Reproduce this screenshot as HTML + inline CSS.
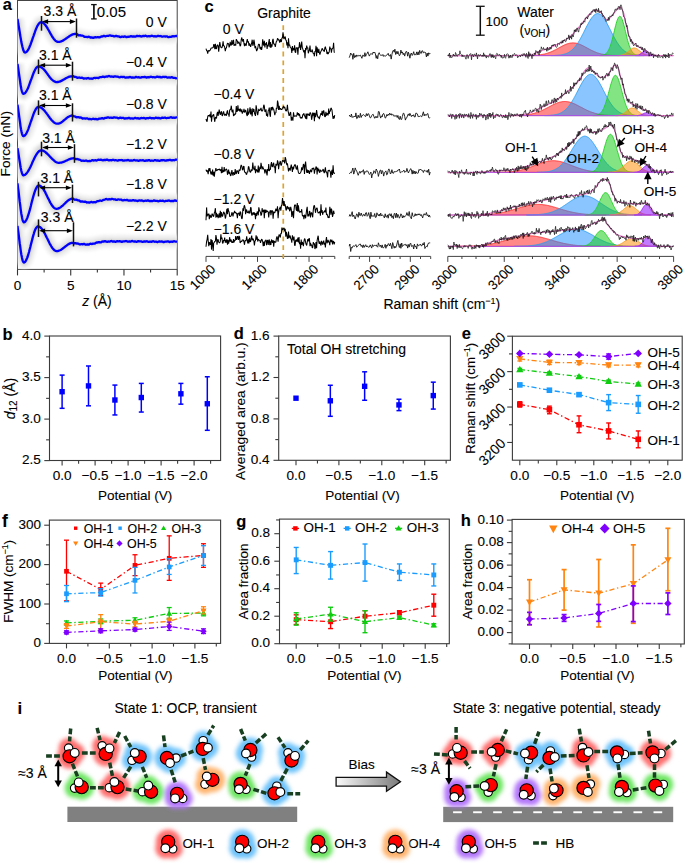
<!DOCTYPE html>
<html><head><meta charset="utf-8"><style>
html,body{margin:0;padding:0;background:#fff;}
svg{display:block;}
text{font-family:"Liberation Sans", sans-serif;stroke:#000;stroke-width:0.1px;}
</style></head><body>
<svg width="685" height="863" viewBox="0 0 685 863" font-family='"Liberation Sans", sans-serif'>
<rect width="685" height="863" fill="#fff"/>
<text x="2.8" y="10.3" font-size="16.5" font-weight="bold" >a</text>
<text x="204.6" y="12" font-size="16.5" font-weight="bold" >c</text>
<text x="2.6" y="340.2" font-size="16.5" font-weight="bold" >b</text>
<text x="233.8" y="339.2" font-size="16.5" font-weight="bold" >d</text>
<text x="461.8" y="338.5" font-size="16.5" font-weight="bold" >e</text>
<text x="2" y="526.6" font-size="17.5" font-weight="bold" >f</text>
<text x="236.2" y="526.5" font-size="16.5" font-weight="bold" >g</text>
<text x="460.8" y="526.2" font-size="16.5" font-weight="bold" >h</text>
<text x="17.4" y="713.5" font-size="17" font-weight="bold" >i</text>
<rect x="17.5" y="0.5" width="159.7" height="268.9" fill="none" stroke="#444" stroke-width="1"/>
<line x1="17.5" y1="269.4" x2="17.5" y2="275.4" stroke="#333" stroke-width="1.1" />
<line x1="44.12" y1="269.4" x2="44.12" y2="272.6" stroke="#333" stroke-width="1.1" />
<line x1="70.73" y1="269.4" x2="70.73" y2="275.4" stroke="#333" stroke-width="1.1" />
<line x1="97.35" y1="269.4" x2="97.35" y2="272.6" stroke="#333" stroke-width="1.1" />
<line x1="123.97" y1="269.4" x2="123.97" y2="275.4" stroke="#333" stroke-width="1.1" />
<line x1="150.58" y1="269.4" x2="150.58" y2="272.6" stroke="#333" stroke-width="1.1" />
<line x1="177.2" y1="269.4" x2="177.2" y2="275.4" stroke="#333" stroke-width="1.1" />
<text x="17.5" y="289.9" font-size="13.6" text-anchor="middle" >0</text>
<text x="70.73" y="289.9" font-size="13.6" text-anchor="middle" >5</text>
<text x="123.97" y="289.9" font-size="13.6" text-anchor="middle" >10</text>
<text x="177.2" y="289.9" font-size="13.6" text-anchor="middle" >15</text>
<text x="97" y="305.5" font-size="14" text-anchor="middle" ><tspan font-style="italic">z</tspan> (Å)</text>
<text x="10.4" y="143.7" font-size="13.7" text-anchor="middle" transform="rotate(-90 10.4 143.7)" >Force (nN)</text>
<defs><clipPath id="clipa"><rect x="17.5" y="0.5" width="159.7" height="268.9"/></clipPath><filter id="blur1" x="-10%" y="-10%" width="120%" height="120%"><feGaussianBlur stdDeviation="1.8"/></filter><filter id="glow" x="-50%" y="-50%" width="200%" height="200%"><feGaussianBlur stdDeviation="3.2"/></filter></defs>
<g clip-path="url(#clipa)">
<g filter="url(#blur1)">
<path d="M17.5 19 L17.9 21.1 L18.2 23.3 L18.6 25.5 L19 27.8 L19.4 30.2 L19.8 32.5 L20.1 34.8 L20.5 37.1 L20.9 39.3 L21.2 41.3 L21.6 43.3 L22 45.1 L22.4 46.8 L22.8 48.2 L23.1 49.5 L23.5 50.6 L23.9 51.4 L24.2 52 L24.6 52.4 L25 52.5 L25.5 52.4 L26.1 52.2 L26.6 51.8 L27.1 51.2 L27.7 50.5 L28.2 49.6 L28.8 48.6 L29.3 47.5 L29.8 46.3 L30.4 44.9 L30.9 43.5 L31.4 42 L32 40.5 L32.5 38.9 L33 37.4 L33.6 35.8 L34.1 34.2 L34.7 32.7 L35.2 31.2 L35.7 29.8 L36.3 28.4 L36.8 27.2 L37.3 26.1 L37.9 25.1 L38.4 24.2 L39 23.5 L39.5 22.9 L40 22.5 L40.6 22.3 L41.1 22.2 L41.7 22.3 L42.2 22.4 L42.8 22.7 L43.4 23.1 L44 23.5 L44.5 24.1 L45.1 24.7 L45.7 25.5 L46.2 26.3 L46.8 27.1 L47.4 28 L47.9 29 L48.5 30 L49.1 31 L49.7 32.1 L50.2 33.1 L50.8 34.1 L51.4 35.1 L51.9 36.1 L52.5 37 L53.1 37.8 L53.6 38.6 L54.2 39.4 L54.8 40 L55.4 40.6 L55.9 41 L56.5 41.4 L57.1 41.7 L57.6 41.8 L58.2 41.9 L58.8 41.9 L59.4 41.8 L60 41.7 L60.5 41.6 L61.1 41.4 L61.7 41.1 L62.3 40.9 L62.9 40.6 L63.5 40.3 L64 39.9 L64.6 39.5 L65.2 39.1 L65.8 38.7 L66.4 38.3 L67 37.9 L67.5 37.5 L68.1 37.1 L68.7 36.7 L69.3 36.3 L69.9 35.9 L70.5 35.5 L71 35.2 L71.6 34.9 L72.2 34.7 L72.8 34.4 L73.4 34.2 L74 34.1 L74.5 34 L75.1 33.9 L75.7 33.9 L76.4 34 L77.1 34.3 L77.8 34.8 L78.5 35.3 L79.2 35.3 L79.9 35.2 L80.6 35.4 L81.3 35.7 L82 35.7 L82.7 35.7 L83.4 36 L84.1 36.6 L84.8 36.9 L85.5 36.8 L86.2 36.8 L86.9 37 L87.6 37.1 L88.3 36.9 L89 36.7 L89.7 37 L90.4 37.5 L91.1 37.5 L91.8 37.5 L92.5 37.6 L93.2 37.9 L93.9 37.7 L94.6 37.3 L95.3 37.1 L96 37.3 L96.7 37.3 L97.4 37.1 L98.1 37.1 L98.8 37.3 L99.5 37.4 L100.2 37.1 L100.9 36.6 L101.6 36.5 L102.3 36.5 L103 36.2 L103.7 35.9 L104.4 35.9 L105.1 36.3 L105.8 36.3 L106.5 36 L107.2 35.8 L107.9 35.9 L108.6 35.8 L109.3 35.5 L110 35.3 L110.7 35.5 L111.4 35.9 L112.1 35.9 L112.8 35.9 L113.5 36.1 L114.2 36.4 L114.9 36.3 L115.6 35.9 L116.3 35.9 L117 36.2 L117.7 36.4 L118.4 36.4 L119.1 36.5 L119.8 36.9 L120.5 37.2 L121.2 36.9 L121.9 36.6 L122.6 36.7 L123.3 36.8 L124 36.6 L124.7 36.4 L125.4 36.6 L126.1 37 L126.8 37.1 L127.5 36.8 L128.2 36.7 L128.9 36.8 L129.6 36.7 L130.3 36.3 L131 36.1 L131.7 36.3 L132.4 36.6 L133.1 36.5 L133.8 36.4 L134.5 36.5 L135.2 36.7 L135.9 36.4 L136.6 36 L137.3 35.9 L138 36.1 L138.7 36.1 L139.4 36 L140.1 36.1 L140.8 36.4 L141.5 36.5 L142.2 36.3 L142.9 35.9 L143.6 36 L144.3 36.1 L145 35.9 L145.7 35.7 L146.4 36 L147.1 36.4 L147.8 36.4 L148.5 36.2 L149.2 36.1 L149.9 36.3 L150.6 36.2 L151.3 35.8 L152 35.7 L152.7 36 L153.4 36.3 L154.1 36.3 L154.8 36.2 L155.5 36.4 L156.2 36.5 L156.9 36.3 L157.6 35.9 L158.3 35.8 L159 36.1 L159.7 36.2 L160.4 36 L161.1 36.2 L161.8 36.6 L162.5 36.7 L163.2 36.5 L163.9 36.3 L164.6 36.4 L165.3 36.5 L166 36.4 L166.7 36.3 L167.4 36.6 L168.1 37.1 L168.8 37.1 L169.5 36.9 L170.2 36.8 L170.9 36.9 L171.6 36.7 L172.3 36.3 L173 36.1 L173.7 36.3 L174.4 36.4 L175.1 36.2 L175.8 36 L176.5 36 L177.2 36" stroke="#f0f0f0" stroke-width="13" fill="none" stroke-linejoin="round"/>
<path d="M17.5 19 L17.9 21.1 L18.2 23.3 L18.6 25.5 L19 27.8 L19.4 30.2 L19.8 32.5 L20.1 34.8 L20.5 37.1 L20.9 39.3 L21.2 41.3 L21.6 43.3 L22 45.1 L22.4 46.8 L22.8 48.2 L23.1 49.5 L23.5 50.6 L23.9 51.4 L24.2 52 L24.6 52.4 L25 52.5 L25.5 52.4 L26.1 52.2 L26.6 51.8 L27.1 51.2 L27.7 50.5 L28.2 49.6 L28.8 48.6 L29.3 47.5 L29.8 46.3 L30.4 44.9 L30.9 43.5 L31.4 42 L32 40.5 L32.5 38.9 L33 37.4 L33.6 35.8 L34.1 34.2 L34.7 32.7 L35.2 31.2 L35.7 29.8 L36.3 28.4 L36.8 27.2 L37.3 26.1 L37.9 25.1 L38.4 24.2 L39 23.5 L39.5 22.9 L40 22.5 L40.6 22.3 L41.1 22.2 L41.7 22.3 L42.2 22.4 L42.8 22.7 L43.4 23.1 L44 23.5 L44.5 24.1 L45.1 24.7 L45.7 25.5 L46.2 26.3 L46.8 27.1 L47.4 28 L47.9 29 L48.5 30 L49.1 31 L49.7 32.1 L50.2 33.1 L50.8 34.1 L51.4 35.1 L51.9 36.1 L52.5 37 L53.1 37.8 L53.6 38.6 L54.2 39.4 L54.8 40 L55.4 40.6 L55.9 41 L56.5 41.4 L57.1 41.7 L57.6 41.8 L58.2 41.9 L58.8 41.9 L59.4 41.8 L60 41.7 L60.5 41.6 L61.1 41.4 L61.7 41.1 L62.3 40.9 L62.9 40.6 L63.5 40.3 L64 39.9 L64.6 39.5 L65.2 39.1 L65.8 38.7 L66.4 38.3 L67 37.9 L67.5 37.5 L68.1 37.1 L68.7 36.7 L69.3 36.3 L69.9 35.9 L70.5 35.5 L71 35.2 L71.6 34.9 L72.2 34.7 L72.8 34.4 L73.4 34.2 L74 34.1 L74.5 34 L75.1 33.9 L75.7 33.9 L76.4 34 L77.1 34.3 L77.8 34.8 L78.5 35.3 L79.2 35.3 L79.9 35.2 L80.6 35.4 L81.3 35.7 L82 35.7 L82.7 35.7 L83.4 36 L84.1 36.6 L84.8 36.9 L85.5 36.8 L86.2 36.8 L86.9 37 L87.6 37.1 L88.3 36.9 L89 36.7 L89.7 37 L90.4 37.5 L91.1 37.5 L91.8 37.5 L92.5 37.6 L93.2 37.9 L93.9 37.7 L94.6 37.3 L95.3 37.1 L96 37.3 L96.7 37.3 L97.4 37.1 L98.1 37.1 L98.8 37.3 L99.5 37.4 L100.2 37.1 L100.9 36.6 L101.6 36.5 L102.3 36.5 L103 36.2 L103.7 35.9 L104.4 35.9 L105.1 36.3 L105.8 36.3 L106.5 36 L107.2 35.8 L107.9 35.9 L108.6 35.8 L109.3 35.5 L110 35.3 L110.7 35.5 L111.4 35.9 L112.1 35.9 L112.8 35.9 L113.5 36.1 L114.2 36.4 L114.9 36.3 L115.6 35.9 L116.3 35.9 L117 36.2 L117.7 36.4 L118.4 36.4 L119.1 36.5 L119.8 36.9 L120.5 37.2 L121.2 36.9 L121.9 36.6 L122.6 36.7 L123.3 36.8 L124 36.6 L124.7 36.4 L125.4 36.6 L126.1 37 L126.8 37.1 L127.5 36.8 L128.2 36.7 L128.9 36.8 L129.6 36.7 L130.3 36.3 L131 36.1 L131.7 36.3 L132.4 36.6 L133.1 36.5 L133.8 36.4 L134.5 36.5 L135.2 36.7 L135.9 36.4 L136.6 36 L137.3 35.9 L138 36.1 L138.7 36.1 L139.4 36 L140.1 36.1 L140.8 36.4 L141.5 36.5 L142.2 36.3 L142.9 35.9 L143.6 36 L144.3 36.1 L145 35.9 L145.7 35.7 L146.4 36 L147.1 36.4 L147.8 36.4 L148.5 36.2 L149.2 36.1 L149.9 36.3 L150.6 36.2 L151.3 35.8 L152 35.7 L152.7 36 L153.4 36.3 L154.1 36.3 L154.8 36.2 L155.5 36.4 L156.2 36.5 L156.9 36.3 L157.6 35.9 L158.3 35.8 L159 36.1 L159.7 36.2 L160.4 36 L161.1 36.2 L161.8 36.6 L162.5 36.7 L163.2 36.5 L163.9 36.3 L164.6 36.4 L165.3 36.5 L166 36.4 L166.7 36.3 L167.4 36.6 L168.1 37.1 L168.8 37.1 L169.5 36.9 L170.2 36.8 L170.9 36.9 L171.6 36.7 L172.3 36.3 L173 36.1 L173.7 36.3 L174.4 36.4 L175.1 36.2 L175.8 36 L176.5 36 L177.2 36" stroke="#e2e2e2" stroke-width="6" fill="none" stroke-linejoin="round"/>
<path d="M17.5 19.1 L17.9 21.5 L18.2 24.6 L18.6 27.6 L19 29.4 L19.4 30.7 L19.8 32.7 L20.1 34.5 L20.5 34.8 L20.9 37.2 L21.2 38 L21.6 38.2 L22 38.6 L22.4 40.5 L22.8 43.4 L23.1 46.1 L23.5 46.9 L23.9 51.1 L24.2 51.3 L24.6 53.1 L25 54.8 L25.5 55.3 L26.1 54.7 L26.6 53 L27.1 51 L27.7 50.6 L28.2 47.4 L28.8 46.9 L29.3 45.2 L29.8 43.6 L30.4 42.4 L30.9 42.1 L31.4 40.9 L32 39.7 L32.5 38.7 L33 39.5 L33.6 36.9 L34.1 36.9 L34.7 36.1 L35.2 35.1 L35.7 33.6 L36.3 32.5 L36.8 32.6 L37.3 32.4 L37.9 31.5 L38.4 32.7 L39 30.9 L39.5 28.1 L40 26.9 L40.6 26.9 L41.1 26 L41.7 25.1 L42.2 24.1 L42.8 23.6 L43.4 22.3 L44 22.1 L44.5 23.2 L45.1 23.2 L45.7 24.6 L46.2 25.9 L46.8 26.7 L47.4 27.3 L47.9 28.7 L48.5 30.9 L49.1 32.5 L49.7 32.7 L50.2 34.2 L50.8 34.8 L51.4 36.4 L51.9 36.9 L52.5 38.6 L53.1 38.3 L53.6 38.4 L54.2 39.3 L54.8 40.7 L55.4 41.8 L55.9 42.1 L56.5 41.9 L57.1 42.3 L57.6 41.6 L58.2 41.7 L58.8 42 L59.4 41.8 L60 42 L60.5 41.2 L61.1 41.4 L61.7 41.2 L62.3 41.4 L62.9 41.3 L63.5 41.1 L64 40.6 L64.6 40.4 L65.2 39.7 L65.8 39.3 L66.4 38.2 L67 37.6 L67.5 36.9 L68.1 36.8 L68.7 36.5 L69.3 35.9 L69.9 35.5 L70.5 34.8 L71 34.4 L71.6 34.6 L72.2 34.1 L72.8 33.9 L73.4 33.4 L74 33.3 L74.5 33.4 L75.1 33.2 L75.7 33.5 L76.4 33.7 L77.1 34.1 L77.8 35.3 L78.5 35.9 L79.2 36.2 L79.9 36.2 L80.6 36.6 L81.3 36.9 L82 36.5 L82.7 36.6 L83.4 36.4 L84.1 36.6 L84.8 36.8 L85.5 36.3 L86.2 35.9 L86.9 35.8 L87.6 35.9 L88.3 36 L89 36.2 L89.7 36.7 L90.4 37.6 L91.1 37.9 L91.8 38.2 L92.5 38.1 L93.2 38.8 L93.9 38.6 L94.6 38.2 L95.3 37.9 L96 38.1 L96.7 38 L97.4 37.5 L98.1 36.7 L98.8 37.5 L99.5 37.1 L100.2 37 L100.9 36.3 L101.6 36.1 L102.3 35.9 L103 35.4 L103.7 35.2 L104.4 35.3 L105.1 35.7 L105.8 35.9 L106.5 35.1 L107.2 34.5 L107.9 34.7 L108.6 34.7 L109.3 34.4 L110 34.1 L110.7 35.1 L111.4 35.4 L112.1 35.5 L112.8 35.4 L113.5 36.4 L114.2 36.8 L114.9 37 L115.6 36.7 L116.3 37 L117 37 L117.7 37.3 L118.4 37.2 L119.1 37.3 L119.8 37.6 L120.5 37.3 L121.2 36.8 L121.9 36.4 L122.6 36 L123.3 36.2 L124 35.9 L124.7 35.6 L125.4 36.2 L126.1 36.3 L126.8 37.1 L127.5 36.9 L128.2 36.8 L128.9 36.7 L129.6 36.2 L130.3 36 L131 35.9 L131.7 36 L132.4 36.7 L133.1 36.1 L133.8 35.7 L134.5 35.9 L135.2 36.5 L135.9 36.4 L136.6 35.6 L137.3 35.2 L138 35.6 L138.7 35.5 L139.4 35.5 L140.1 35.7 L140.8 35.9 L141.5 35.8 L142.2 36 L142.9 35.8 L143.6 36.7 L144.3 36.5 L145 36.2 L145.7 36.1 L146.4 36.4 L147.1 37.1 L147.8 37.2 L148.5 36.5 L149.2 37 L149.9 36.6 L150.6 36.3 L151.3 35.7 L152 35.7 L152.7 35.8 L153.4 36.4 L154.1 36.7 L154.8 36.7 L155.5 36.2 L156.2 36.2 L156.9 36.2 L157.6 35.6 L158.3 35.7 L159 36.4 L159.7 35.9 L160.4 35.3 L161.1 35.1 L161.8 35.4 L162.5 35.1 L163.2 34.8 L163.9 35.2 L164.6 35 L165.3 34.9 L166 35 L166.7 35.5 L167.4 36.2 L168.1 36.8 L168.8 38 L169.5 38 L170.2 37.4 L170.9 37.6 L171.6 37.2 L172.3 37.1 L173 36.3 L173.7 36.7 L174.4 37 L175.1 36.3 L175.8 36.1 L176.5 36.4 L177.2 36.3" stroke="#c0c0c0" stroke-width="1.4" fill="none" opacity="0.3" stroke-linejoin="round"/>
<path d="M17.5 19.8 L17.9 22.2 L18.2 24 L18.6 26.7 L19 29.3 L19.4 31.6 L19.8 33.4 L20.1 35.9 L20.5 38.6 L20.9 39.9 L21.2 41.2 L21.6 44.2 L22 45.5 L22.4 46.6 L22.8 47.2 L23.1 48.2 L23.5 48.7 L23.9 50 L24.2 51.9 L24.6 53.6 L25 50.7 L25.5 48.7 L26.1 48.6 L26.6 48.5 L27.1 48.3 L27.7 47.8 L28.2 49.3 L28.8 45.9 L29.3 43.4 L29.8 46.9 L30.4 48 L30.9 47.5 L31.4 45.9 L32 42.5 L32.5 40.9 L33 37.3 L33.6 35.6 L34.1 33.8 L34.7 30.3 L35.2 27.3 L35.7 25.3 L36.3 24.6 L36.8 24.9 L37.3 23.2 L37.9 22.7 L38.4 23.7 L39 23.8 L39.5 22.6 L40 23.5 L40.6 22.9 L41.1 23.4 L41.7 22.6 L42.2 23.8 L42.8 23.6 L43.4 22.5 L44 22.6 L44.5 23.7 L45.1 24.1 L45.7 24.6 L46.2 24.3 L46.8 25.9 L47.4 26.2 L47.9 27.3 L48.5 29.4 L49.1 29.8 L49.7 30.9 L50.2 32.4 L50.8 33.7 L51.4 34.9 L51.9 36.1 L52.5 37.2 L53.1 38.3 L53.6 38.7 L54.2 39.5 L54.8 40 L55.4 40.1 L55.9 40.9 L56.5 41.6 L57.1 41.1 L57.6 40.9 L58.2 41 L58.8 41.2 L59.4 41.4 L60 41.3 L60.5 41.4 L61.1 41.2 L61.7 41.1 L62.3 41.3 L62.9 41.3 L63.5 40.7 L64 40.4 L64.6 39.6 L65.2 39.2 L65.8 38.7 L66.4 37.9 L67 37.3 L67.5 36.7 L68.1 36.5 L68.7 36.2 L69.3 35.7 L69.9 36.1 L70.5 35.8 L71 35.3 L71.6 35 L72.2 35 L72.8 34.9 L73.4 34.4 L74 34.3 L74.5 34 L75.1 33.9 L75.7 33.6 L76.4 34.2 L77.1 35 L77.8 35 L78.5 34.7 L79.2 34.9 L79.9 35.5 L80.6 35.5 L81.3 34.8 L82 35 L82.7 36 L83.4 36.5 L84.1 36.3 L84.8 36.5 L85.5 36.3 L86.2 36.1 L86.9 36.3 L87.6 36.7 L88.3 36.6 L89 36.5 L89.7 37 L90.4 37.1 L91.1 36.9 L91.8 37.1 L92.5 37.3 L93.2 36.9 L93.9 36.2 L94.6 36.6 L95.3 36.8 L96 36.8 L96.7 36.9 L97.4 36.9 L98.1 37.3 L98.8 37.4 L99.5 37.2 L100.2 36.8 L100.9 36.7 L101.6 36.5 L102.3 36 L103 35.5 L103.7 35.7 L104.4 36.3 L105.1 35.8 L105.8 35.4 L106.5 35.1 L107.2 35 L107.9 35.1 L108.6 34.9 L109.3 34.9 L110 35.4 L110.7 35.5 L111.4 35.8 L112.1 36.2 L112.8 36.9 L113.5 36.9 L114.2 36.5 L114.9 36.2 L115.6 36.5 L116.3 36.8 L117 36.8 L117.7 36.3 L118.4 36.3 L119.1 36.6 L119.8 36.5 L120.5 36.3 L121.2 36.5 L121.9 36.7 L122.6 36.8 L123.3 36.3 L124 37.2 L124.7 37.6 L125.4 37.8 L126.1 37.8 L126.8 37.4 L127.5 36.8 L128.2 36.8 L128.9 36.4 L129.6 36.5 L130.3 36.1 L131 35.7 L131.7 36.1 L132.4 35.7 L133.1 35.9 L133.8 36.4 L134.5 36.5 L135.2 36 L135.9 35.7 L136.6 36 L137.3 36.6 L138 36.6 L138.7 36.7 L139.4 36.7 L140.1 36.7 L140.8 36.9 L141.5 36.5 L142.2 35.9 L142.9 35.7 L143.6 35.8 L144.3 35.5 L145 35.5 L145.7 35.8 L146.4 36.1 L147.1 35.5 L147.8 35.5 L148.5 35.5 L149.2 35.5 L149.9 35.3 L150.6 35.2 L151.3 35.3 L152 35.7 L152.7 36 L153.4 35.9 L154.1 35.6 L154.8 36 L155.5 35.8 L156.2 35.3 L156.9 35 L157.6 35.2 L158.3 35.4 L159 35.1 L159.7 35.2 L160.4 35.8 L161.1 35.8 L161.8 36.1 L162.5 35.8 L163.2 35.4 L163.9 35.5 L164.6 35.6 L165.3 35.9 L166 35.6 L166.7 36.3 L167.4 36.8 L168.1 36.2 L168.8 36.3 L169.5 36.5 L170.2 36.6 L170.9 36.3 L171.6 35.9 L172.3 36.3 L173 36.1 L173.7 36.3 L174.4 36.3 L175.1 36 L175.8 36.2 L176.5 35.9 L177.2 35.4" stroke="#c0c0c0" stroke-width="1.4" fill="none" opacity="0.3" stroke-linejoin="round"/>
<path d="M17.5 18 L17.9 20.9 L18.2 22.9 L18.6 25.7 L19 28.2 L19.4 30 L19.8 33.5 L20.1 35.9 L20.5 39.8 L20.9 40 L21.2 41.5 L21.6 43.6 L22 45.3 L22.4 46.1 L22.8 48.2 L23.1 47.8 L23.5 49.9 L23.9 51.2 L24.2 52.8 L24.6 53.2 L25 52.4 L25.5 52.6 L26.1 54.9 L26.6 52.8 L27.1 51.4 L27.7 48.4 L28.2 48.2 L28.8 47 L29.3 46.5 L29.8 47 L30.4 45.1 L30.9 41.9 L31.4 41.9 L32 42.9 L32.5 41.7 L33 38.9 L33.6 37.4 L34.1 36.5 L34.7 33.5 L35.2 30.8 L35.7 28.7 L36.3 28.4 L36.8 26.2 L37.3 27.2 L37.9 24.9 L38.4 24.8 L39 23.5 L39.5 22.4 L40 22.9 L40.6 24 L41.1 23.3 L41.7 24.2 L42.2 25 L42.8 26.7 L43.4 26 L44 25.2 L44.5 27 L45.1 27.3 L45.7 27.2 L46.2 27.8 L46.8 28.4 L47.4 27.5 L47.9 27.6 L48.5 27.6 L49.1 29.6 L49.7 30.4 L50.2 32.3 L50.8 33.4 L51.4 34.2 L51.9 35.1 L52.5 36.4 L53.1 37.4 L53.6 38.7 L54.2 39.7 L54.8 40.4 L55.4 40.6 L55.9 41 L56.5 41.4 L57.1 41.8 L57.6 41.9 L58.2 42.1 L58.8 42.3 L59.4 41.5 L60 41.3 L60.5 41.4 L61.1 41.1 L61.7 41.4 L62.3 40.7 L62.9 40.5 L63.5 40.1 L64 39.8 L64.6 39.6 L65.2 39.1 L65.8 38.3 L66.4 37.9 L67 37 L67.5 36.4 L68.1 35.9 L68.7 35.7 L69.3 35.6 L69.9 35.4 L70.5 35.6 L71 35.5 L71.6 35.3 L72.2 35.6 L72.8 35.5 L73.4 35.5 L74 35.1 L74.5 34.9 L75.1 34.2 L75.7 34 L76.4 34.5 L77.1 34.5 L77.8 34.3 L78.5 34.8 L79.2 34.9 L79.9 35.2 L80.6 35.1 L81.3 35.7 L82 36.3 L82.7 36.9 L83.4 37 L84.1 36.4 L84.8 36.3 L85.5 36.2 L86.2 36.1 L86.9 36 L87.6 36.4 L88.3 37 L89 36.9 L89.7 37.1 L90.4 37.2 L91.1 38 L91.8 38.2 L92.5 38.1 L93.2 37.7 L93.9 37.6 L94.6 37.6 L95.3 37.6 L96 37.4 L96.7 37.4 L97.4 37.3 L98.1 36.9 L98.8 36.6 L99.5 36.5 L100.2 37 L100.9 36.5 L101.6 36.4 L102.3 36 L103 36.5 L103.7 36.5 L104.4 36.3 L105.1 35.7 L105.8 35.9 L106.5 35.7 L107.2 35.7 L107.9 35 L108.6 35.2 L109.3 35.6 L110 35.3 L110.7 35.4 L111.4 35.3 L112.1 35.3 L112.8 35.4 L113.5 35.2 L114.2 35.4 L114.9 35.6 L115.6 36.1 L116.3 36.6 L117 36.3 L117.7 36.9 L118.4 37.4 L119.1 36.7 L119.8 36.2 L120.5 35.9 L121.2 36.5 L121.9 36.6 L122.6 36.2 L123.3 36.3 L124 36.5 L124.7 36.5 L125.4 37 L126.1 36.9 L126.8 37.2 L127.5 37 L128.2 36.1 L128.9 36.2 L129.6 36.7 L130.3 37 L131 36.9 L131.7 36.5 L132.4 36.8 L133.1 37.1 L133.8 36.5 L134.5 36.8 L135.2 36.1 L135.9 36.3 L136.6 36.4 L137.3 36.6 L138 36.2 L138.7 36.4 L139.4 36.6 L140.1 36.2 L140.8 35.1 L141.5 35.4 L142.2 35.7 L142.9 35.8 L143.6 35.4 L144.3 35.7 L145 36 L145.7 36.2 L146.4 36.3 L147.1 36.4 L147.8 36.8 L148.5 36.8 L149.2 36.2 L149.9 36.5 L150.6 36.9 L151.3 37 L152 36.6 L152.7 36.5 L153.4 36.9 L154.1 36.7 L154.8 35.9 L155.5 36 L156.2 35.3 L156.9 35.3 L157.6 36.2 L158.3 36.9 L159 37 L159.7 37.1 L160.4 37.6 L161.1 37.2 L161.8 36.7 L162.5 36.7 L163.2 36.7 L163.9 35.8 L164.6 35.3 L165.3 35.4 L166 36 L166.7 36.2 L167.4 36.3 L168.1 35.9 L168.8 35.8 L169.5 36 L170.2 36.1 L170.9 35.8 L171.6 36.1 L172.3 36.1 L173 35.7 L173.7 35.5 L174.4 35.5 L175.1 35.8 L175.8 35.6 L176.5 34.8 L177.2 34.6" stroke="#c0c0c0" stroke-width="1.4" fill="none" opacity="0.3" stroke-linejoin="round"/>
<path d="M17.5 18.2 L17.9 20.1 L18.2 20.9 L18.6 22.9 L19 24.5 L19.4 27.8 L19.8 32.2 L20.1 33.9 L20.5 36.4 L20.9 38.4 L21.2 39.7 L21.6 43 L22 45.5 L22.4 47.7 L22.8 47.1 L23.1 48 L23.5 49.3 L23.9 51.8 L24.2 53.5 L24.6 54.4 L25 54.8 L25.5 54.8 L26.1 56.6 L26.6 55.1 L27.1 54.5 L27.7 54.7 L28.2 51.5 L28.8 49.7 L29.3 49.9 L29.8 49.5 L30.4 47.7 L30.9 45 L31.4 41 L32 40.7 L32.5 37.3 L33 34.9 L33.6 33.9 L34.1 32.2 L34.7 29.7 L35.2 27.2 L35.7 25.2 L36.3 26.5 L36.8 25.6 L37.3 26 L37.9 26.6 L38.4 26.4 L39 24.9 L39.5 23.9 L40 24.8 L40.6 24.9 L41.1 24.6 L41.7 23 L42.2 22.8 L42.8 21.2 L43.4 21.4 L44 22.3 L44.5 22.5 L45.1 22.9 L45.7 22.8 L46.2 24.2 L46.8 24.5 L47.4 24.9 L47.9 27.6 L48.5 28.9 L49.1 28.7 L49.7 30.3 L50.2 31.5 L50.8 32.7 L51.4 34.1 L51.9 35.4 L52.5 36.9 L53.1 37.1 L53.6 38 L54.2 39.5 L54.8 40.2 L55.4 40.1 L55.9 41.3 L56.5 41.4 L57.1 42.2 L57.6 42.6 L58.2 43 L58.8 42.4 L59.4 42.1 L60 41.9 L60.5 42.5 L61.1 41.5 L61.7 41 L62.3 40.4 L62.9 39.9 L63.5 39.7 L64 39.2 L64.6 38.6 L65.2 38.4 L65.8 38 L66.4 38.1 L67 37.8 L67.5 37.4 L68.1 37 L68.7 36.4 L69.3 36.5 L69.9 36.3 L70.5 36 L71 35.4 L71.6 35 L72.2 34.8 L72.8 35.2 L73.4 35.2 L74 35.4 L74.5 34.7 L75.1 34.8 L75.7 35 L76.4 35.1 L77.1 34.4 L77.8 34.8 L78.5 34.9 L79.2 34.5 L79.9 34 L80.6 34.7 L81.3 35.3 L82 35.9 L82.7 36.1 L83.4 36.5 L84.1 36.7 L84.8 36.6 L85.5 37.1 L86.2 37.5 L86.9 38.3 L87.6 38.6 L88.3 38.5 L89 37.8 L89.7 38.3 L90.4 38.5 L91.1 38.2 L91.8 37.4 L92.5 37.3 L93.2 37.2 L93.9 37.4 L94.6 37.4 L95.3 38.1 L96 38 L96.7 37.8 L97.4 37.2 L98.1 36.6 L98.8 36.6 L99.5 36.9 L100.2 36.9 L100.9 36.6 L101.6 36.3 L102.3 36.6 L103 36.3 L103.7 36.1 L104.4 36.1 L105.1 35.8 L105.8 35.4 L106.5 34.8 L107.2 34.5 L107.9 35 L108.6 35.2 L109.3 35.4 L110 35.5 L110.7 35.8 L111.4 36.4 L112.1 35.9 L112.8 35.9 L113.5 35.9 L114.2 36.2 L114.9 36.6 L115.6 36.9 L116.3 37.1 L117 37.4 L117.7 37.5 L118.4 37.6 L119.1 37.2 L119.8 37.6 L120.5 37.6 L121.2 37.8 L121.9 37.7 L122.6 38.2 L123.3 38.6 L124 38.2 L124.7 37.9 L125.4 38 L126.1 37.8 L126.8 37.9 L127.5 37.1 L128.2 37.1 L128.9 36.9 L129.6 37.4 L130.3 37.2 L131 36.8 L131.7 36.6 L132.4 36.5 L133.1 36.1 L133.8 35.9 L134.5 35.6 L135.2 36.2 L135.9 36.4 L136.6 36.4 L137.3 36.7 L138 37.1 L138.7 37 L139.4 36.8 L140.1 35.9 L140.8 36 L141.5 36 L142.2 35.8 L142.9 35.6 L143.6 35.7 L144.3 36.2 L145 36.4 L145.7 35.9 L146.4 36.2 L147.1 36.1 L147.8 36 L148.5 35.3 L149.2 35.2 L149.9 35.3 L150.6 35.5 L151.3 35.3 L152 35.4 L152.7 35.8 L153.4 35.5 L154.1 35.3 L154.8 35.1 L155.5 35 L156.2 35.8 L156.9 35.9 L157.6 35.6 L158.3 35.5 L159 35.5 L159.7 35.9 L160.4 35.3 L161.1 35.2 L161.8 35.7 L162.5 35.5 L163.2 35.4 L163.9 35.7 L164.6 36 L165.3 36.9 L166 36.9 L166.7 36.7 L167.4 36.4 L168.1 36.3 L168.8 37 L169.5 36.8 L170.2 36.8 L170.9 37.4 L171.6 37.2 L172.3 37.4 L173 37.3 L173.7 37.7 L174.4 37.6 L175.1 36.7 L175.8 36.2 L176.5 36.1 L177.2 36.1" stroke="#c0c0c0" stroke-width="1.4" fill="none" opacity="0.3" stroke-linejoin="round"/>
<path d="M17.5 18.9 L17.9 21 L18.2 22.7 L18.6 25.1 L19 26.2 L19.4 29.1 L19.8 31.8 L20.1 34 L20.5 36 L20.9 39.9 L21.2 40.8 L21.6 45.1 L22 45.2 L22.4 49.2 L22.8 50.2 L23.1 50.5 L23.5 49.6 L23.9 49.5 L24.2 50 L24.6 51.6 L25 51 L25.5 51 L26.1 49.7 L26.6 48.7 L27.1 49.7 L27.7 47.6 L28.2 47 L28.8 45.8 L29.3 43.3 L29.8 41.6 L30.4 42.3 L30.9 41.9 L31.4 42.2 L32 38.9 L32.5 38.7 L33 37.2 L33.6 36.2 L34.1 36.8 L34.7 33.7 L35.2 31.4 L35.7 28.4 L36.3 25.7 L36.8 25.1 L37.3 24.6 L37.9 25.6 L38.4 23.7 L39 22 L39.5 22.4 L40 21.8 L40.6 21.9 L41.1 22.2 L41.7 23 L42.2 22.3 L42.8 22.1 L43.4 22.6 L44 23.4 L44.5 24.2 L45.1 25.8 L45.7 27.3 L46.2 28.1 L46.8 28.5 L47.4 30.2 L47.9 29.9 L48.5 31.6 L49.1 32.2 L49.7 32.2 L50.2 33.8 L50.8 34.3 L51.4 34.8 L51.9 36.5 L52.5 37.1 L53.1 38.7 L53.6 38.8 L54.2 39.7 L54.8 40.2 L55.4 39.5 L55.9 39.7 L56.5 40.5 L57.1 40.5 L57.6 41.4 L58.2 40.9 L58.8 41.4 L59.4 41.3 L60 41.6 L60.5 41.5 L61.1 41.2 L61.7 40.8 L62.3 40.1 L62.9 39.2 L63.5 39 L64 38.7 L64.6 38.5 L65.2 38.2 L65.8 38.4 L66.4 38.4 L67 38.2 L67.5 38 L68.1 37.6 L68.7 37.5 L69.3 37 L69.9 36.7 L70.5 36.5 L71 35.8 L71.6 35.5 L72.2 35 L72.8 35 L73.4 34.9 L74 34.5 L74.5 34.4 L75.1 34.3 L75.7 33.9 L76.4 34.3 L77.1 34.6 L77.8 35.1 L78.5 35 L79.2 34.8 L79.9 35.6 L80.6 36 L81.3 36.1 L82 36.5 L82.7 36.8 L83.4 37.1 L84.1 37.4 L84.8 37.4 L85.5 38.3 L86.2 38.5 L86.9 38.9 L87.6 39.1 L88.3 38.7 L89 38.6 L89.7 38.8 L90.4 38.2 L91.1 37.5 L91.8 36.8 L92.5 37.1 L93.2 37.4 L93.9 36.8 L94.6 37.2 L95.3 37.5 L96 37.2 L96.7 37 L97.4 36.9 L98.1 37.3 L98.8 37.3 L99.5 36.8 L100.2 37 L100.9 37.1 L101.6 36.9 L102.3 36.9 L103 36.3 L103.7 36 L104.4 36.3 L105.1 36.1 L105.8 35.7 L106.5 35.6 L107.2 35.7 L107.9 35.9 L108.6 35.5 L109.3 35.7 L110 35.9 L110.7 36.3 L111.4 36 L112.1 35.1 L112.8 35.2 L113.5 36.1 L114.2 36.3 L114.9 36.2 L115.6 36.1 L116.3 36.7 L117 36.5 L117.7 36.3 L118.4 36.9 L119.1 37.5 L119.8 37.5 L120.5 37.2 L121.2 37.5 L121.9 38.1 L122.6 38.1 L123.3 37.8 L124 37.4 L124.7 36.7 L125.4 36.8 L126.1 36.6 L126.8 36.6 L127.5 36.4 L128.2 36.8 L128.9 36.7 L129.6 36.4 L130.3 36.3 L131 36.9 L131.7 36.3 L132.4 35.6 L133.1 35.5 L133.8 36 L134.5 36.4 L135.2 36.6 L135.9 36.2 L136.6 36.6 L137.3 37.2 L138 36.9 L138.7 36.8 L139.4 36 L140.1 35.8 L140.8 35.8 L141.5 35.4 L142.2 35.3 L142.9 35.5 L143.6 35.6 L144.3 35.7 L145 35.4 L145.7 35.7 L146.4 36.2 L147.1 36 L147.8 36.1 L148.5 36.7 L149.2 37.1 L149.9 37.5 L150.6 37.8 L151.3 37.6 L152 37.9 L152.7 37.3 L153.4 36.7 L154.1 36.4 L154.8 36.5 L155.5 36.7 L156.2 36.3 L156.9 35.9 L157.6 35.7 L158.3 35.8 L159 36.1 L159.7 36 L160.4 35.8 L161.1 36.3 L161.8 36.2 L162.5 36.1 L163.2 35.7 L163.9 36.6 L164.6 37.1 L165.3 36.9 L166 36.7 L166.7 36.9 L167.4 36.8 L168.1 37 L168.8 36.8 L169.5 37.4 L170.2 37.6 L170.9 37.9 L171.6 37.6 L172.3 37.7 L173 37.7 L173.7 37.8 L174.4 36.9 L175.1 36.6 L175.8 36.7 L176.5 36.8 L177.2 36.4" stroke="#c0c0c0" stroke-width="1.4" fill="none" opacity="0.3" stroke-linejoin="round"/>
<path d="M17.5 18.4 L17.9 20.6 L18.2 22.4 L18.6 24 L19 26.9 L19.4 31 L19.8 34.6 L20.1 36.2 L20.5 37.4 L20.9 39.9 L21.2 42.1 L21.6 43.1 L22 45.5 L22.4 45.5 L22.8 45 L23.1 45.5 L23.5 47 L23.9 49.2 L24.2 48.2 L24.6 47.8 L25 49.9 L25.5 50.7 L26.1 49.9 L26.6 49.9 L27.1 48.8 L27.7 48.6 L28.2 45.9 L28.8 45 L29.3 44.4 L29.8 42.5 L30.4 39.3 L30.9 39.1 L31.4 36.8 L32 34.9 L32.5 33.8 L33 32.4 L33.6 32 L34.1 31.2 L34.7 28.1 L35.2 27.9 L35.7 25.9 L36.3 25.6 L36.8 25.7 L37.3 22.6 L37.9 22.5 L38.4 20.5 L39 20 L39.5 20.2 L40 20.2 L40.6 20 L41.1 19.7 L41.7 19.2 L42.2 21.9 L42.8 22.7 L43.4 24.8 L44 25 L44.5 26.8 L45.1 27.4 L45.7 28.3 L46.2 29.2 L46.8 31.1 L47.4 30.9 L47.9 31.6 L48.5 31.3 L49.1 32.3 L49.7 32.7 L50.2 33.3 L50.8 34.7 L51.4 35.7 L51.9 35.8 L52.5 37.2 L53.1 37.5 L53.6 37.9 L54.2 38 L54.8 39.2 L55.4 39.7 L55.9 39.8 L56.5 39.8 L57.1 40.5 L57.6 40.2 L58.2 40.3 L58.8 40.8 L59.4 40.8 L60 40.3 L60.5 40.3 L61.1 40.3 L61.7 40.3 L62.3 40.3 L62.9 40.1 L63.5 39.8 L64 38.9 L64.6 38.8 L65.2 38.4 L65.8 38 L66.4 37.6 L67 37.1 L67.5 36.3 L68.1 35.8 L68.7 35.8 L69.3 35.7 L69.9 35.4 L70.5 35.5 L71 35.2 L71.6 34.7 L72.2 34.9 L72.8 34.9 L73.4 34.6 L74 34.6 L74.5 34.6 L75.1 34.4 L75.7 33.5 L76.4 33.7 L77.1 34.3 L77.8 34.3 L78.5 34.4 L79.2 35.3 L79.9 35.9 L80.6 35.6 L81.3 35.7 L82 36 L82.7 36.2 L83.4 35.9 L84.1 35.7 L84.8 36.2 L85.5 36.6 L86.2 36.4 L86.9 36.7 L87.6 36.8 L88.3 37.3 L89 37.6 L89.7 37.6 L90.4 37.9 L91.1 38.2 L91.8 38.7 L92.5 38.8 L93.2 38.4 L93.9 38.5 L94.6 38.7 L95.3 38.4 L96 38.2 L96.7 37.7 L97.4 37.4 L98.1 37.7 L98.8 37.6 L99.5 37.6 L100.2 38.2 L100.9 38 L101.6 37.1 L102.3 36.3 L103 36.1 L103.7 36.7 L104.4 35.8 L105.1 35.2 L105.8 35.6 L106.5 35.5 L107.2 35.3 L107.9 35.5 L108.6 35.7 L109.3 36.1 L110 35.4 L110.7 35 L111.4 35 L112.1 35.3 L112.8 35.5 L113.5 35.4 L114.2 35.7 L114.9 36 L115.6 35.9 L116.3 36.1 L117 36.3 L117.7 35.9 L118.4 36.2 L119.1 36.3 L119.8 36.7 L120.5 36.5 L121.2 36.7 L121.9 37 L122.6 36.9 L123.3 36.9 L124 37.3 L124.7 37.3 L125.4 37.7 L126.1 37.2 L126.8 37.3 L127.5 37.8 L128.2 37.8 L128.9 37.4 L129.6 37 L130.3 37.1 L131 37.2 L131.7 36.2 L132.4 36.7 L133.1 37.1 L133.8 37 L134.5 36.6 L135.2 36.6 L135.9 36.6 L136.6 36.4 L137.3 35.9 L138 35.4 L138.7 35.3 L139.4 35.2 L140.1 35.6 L140.8 35.9 L141.5 35.6 L142.2 36 L142.9 36.9 L143.6 37.1 L144.3 37 L145 37 L145.7 37.4 L146.4 37 L147.1 36.7 L147.8 37 L148.5 37.4 L149.2 37 L149.9 37 L150.6 36.8 L151.3 37.1 L152 37 L152.7 36.6 L153.4 36.8 L154.1 36.9 L154.8 37.1 L155.5 37.2 L156.2 36.1 L156.9 36.2 L157.6 36.3 L158.3 35.6 L159 35.1 L159.7 34.8 L160.4 35.3 L161.1 35.5 L161.8 35.3 L162.5 36 L163.2 36.5 L163.9 36.4 L164.6 36.4 L165.3 36.6 L166 37 L166.7 37.1 L167.4 36.5 L168.1 36.2 L168.8 36.8 L169.5 37.3 L170.2 37 L170.9 36.2 L171.6 36.1 L172.3 36 L173 35.6 L173.7 35.3 L174.4 35.4 L175.1 35.4 L175.8 35.4 L176.5 35.3 L177.2 35.5" stroke="#c0c0c0" stroke-width="1.4" fill="none" opacity="0.3" stroke-linejoin="round"/>
</g>
<g filter="url(#blur1)">
<path d="M17.5 63.9 L17.8 65.8 L18.1 67.7 L18.4 69.7 L18.7 71.8 L19 73.9 L19.3 76 L19.6 78 L19.9 80 L20.2 82 L20.4 83.8 L20.7 85.6 L21 87.2 L21.3 88.7 L21.6 90 L21.9 91.1 L22.2 92.1 L22.5 92.8 L22.8 93.4 L23.1 93.7 L23.4 93.8 L23.9 93.7 L24.4 93.5 L24.9 93.1 L25.4 92.6 L25.9 92 L26.4 91.2 L26.9 90.3 L27.4 89.3 L27.9 88.2 L28.4 87 L28.9 85.7 L29.4 84.3 L29.9 82.9 L30.4 81.5 L30.9 80.1 L31.5 78.7 L32 77.3 L32.5 75.9 L33 74.5 L33.5 73.2 L34 72 L34.5 70.9 L35 69.9 L35.5 69 L36 68.2 L36.5 67.6 L37 67.1 L37.5 66.7 L38 66.5 L38.5 66.4 L39.1 66.4 L39.7 66.6 L40.3 66.8 L40.9 67.1 L41.5 67.5 L42.1 67.9 L42.7 68.4 L43.4 69 L44 69.6 L44.6 70.3 L45.2 71.1 L45.8 71.8 L46.4 72.6 L47 73.4 L47.6 74.2 L48.2 75.1 L48.8 75.9 L49.4 76.7 L50 77.4 L50.6 78.2 L51.2 78.9 L51.8 79.5 L52.5 80.1 L53.1 80.6 L53.7 81 L54.3 81.4 L54.9 81.7 L55.5 81.9 L56.1 82.1 L56.7 82.1 L57.2 82.1 L57.7 82 L58.2 82 L58.7 81.8 L59.2 81.7 L59.8 81.5 L60.3 81.4 L60.8 81.1 L61.3 80.9 L61.8 80.6 L62.3 80.4 L62.8 80.1 L63.3 79.8 L63.8 79.5 L64.3 79.2 L64.9 78.9 L65.4 78.6 L65.9 78.3 L66.4 78 L66.9 77.8 L67.4 77.5 L67.9 77.3 L68.4 77 L68.9 76.9 L69.5 76.7 L70 76.6 L70.5 76.4 L71 76.4 L71.5 76.3 L72 76.5 L72.7 76.2 L73.4 76.2 L74.1 76.6 L74.8 76.9 L75.5 76.9 L76.2 77.1 L76.9 77.6 L77.6 77.9 L78.3 77.7 L79 77.5 L79.7 77.6 L80.4 77.8 L81.1 77.8 L81.8 77.7 L82.5 77.9 L83.2 78.4 L83.9 78.6 L84.6 78.4 L85.3 78.3 L86 78.5 L86.7 78.5 L87.4 78.2 L88.1 78 L88.8 78.3 L89.5 78.7 L90.2 78.7 L90.9 78.5 L91.6 78.6 L92.3 78.8 L93 78.5 L93.7 78 L94.4 77.8 L95.1 78 L95.8 78 L96.5 77.8 L97.2 77.8 L97.9 78 L98.6 78 L99.3 77.6 L100 77.2 L100.7 77.1 L101.4 77.1 L102.1 76.9 L102.8 76.6 L103.5 76.7 L104.2 77 L104.9 77 L105.6 76.7 L106.3 76.5 L107 76.6 L107.7 76.5 L108.4 76.1 L109.1 76 L109.8 76.3 L110.5 76.6 L111.2 76.6 L111.9 76.5 L112.6 76.7 L113.3 76.9 L114 76.7 L114.7 76.3 L115.4 76.3 L116.1 76.6 L116.8 76.7 L117.5 76.6 L118.2 76.8 L118.9 77.2 L119.6 77.3 L120.3 77.1 L121 76.8 L121.7 76.9 L122.4 77.1 L123.1 77 L123.8 76.8 L124.5 77.1 L125.2 77.6 L125.9 77.7 L126.6 77.4 L127.3 77.4 L128 77.5 L128.7 77.4 L129.4 77.1 L130.1 77 L130.8 77.3 L131.5 77.6 L132.2 77.5 L132.9 77.4 L133.6 77.6 L134.3 77.7 L135 77.5 L135.7 77 L136.4 77 L137.1 77.3 L137.8 77.3 L138.5 77.2 L139.2 77.3 L139.9 77.6 L140.6 77.7 L141.3 77.4 L142 77.1 L142.7 77.1 L143.4 77.2 L144.1 77 L144.8 76.9 L145.5 77.1 L146.2 77.5 L146.9 77.5 L147.6 77.2 L148.3 77.1 L149 77.3 L149.7 77.1 L150.4 76.8 L151.1 76.7 L151.8 77 L152.5 77.3 L153.2 77.2 L153.9 77.1 L154.6 77.3 L155.3 77.4 L156 77.1 L156.7 76.7 L157.4 76.7 L158.1 76.9 L158.8 77 L159.5 76.9 L160.2 77 L160.9 77.4 L161.6 77.4 L162.3 77.1 L163 76.8 L163.7 76.9 L164.4 77.1 L165.1 76.9 L165.8 76.8 L166.5 77.2 L167.2 77.6 L167.9 77.6 L168.6 77.4 L169.3 77.4 L170 77.6 L170.7 77.5 L171.4 77.2 L172.1 77.2 L172.8 77.6 L173.5 77.9 L174.2 77.9 L174.9 77.9 L175.6 78.1 L176.3 78.3 L177 78" stroke="#f0f0f0" stroke-width="13" fill="none" stroke-linejoin="round"/>
<path d="M17.5 63.9 L17.8 65.8 L18.1 67.7 L18.4 69.7 L18.7 71.8 L19 73.9 L19.3 76 L19.6 78 L19.9 80 L20.2 82 L20.4 83.8 L20.7 85.6 L21 87.2 L21.3 88.7 L21.6 90 L21.9 91.1 L22.2 92.1 L22.5 92.8 L22.8 93.4 L23.1 93.7 L23.4 93.8 L23.9 93.7 L24.4 93.5 L24.9 93.1 L25.4 92.6 L25.9 92 L26.4 91.2 L26.9 90.3 L27.4 89.3 L27.9 88.2 L28.4 87 L28.9 85.7 L29.4 84.3 L29.9 82.9 L30.4 81.5 L30.9 80.1 L31.5 78.7 L32 77.3 L32.5 75.9 L33 74.5 L33.5 73.2 L34 72 L34.5 70.9 L35 69.9 L35.5 69 L36 68.2 L36.5 67.6 L37 67.1 L37.5 66.7 L38 66.5 L38.5 66.4 L39.1 66.4 L39.7 66.6 L40.3 66.8 L40.9 67.1 L41.5 67.5 L42.1 67.9 L42.7 68.4 L43.4 69 L44 69.6 L44.6 70.3 L45.2 71.1 L45.8 71.8 L46.4 72.6 L47 73.4 L47.6 74.2 L48.2 75.1 L48.8 75.9 L49.4 76.7 L50 77.4 L50.6 78.2 L51.2 78.9 L51.8 79.5 L52.5 80.1 L53.1 80.6 L53.7 81 L54.3 81.4 L54.9 81.7 L55.5 81.9 L56.1 82.1 L56.7 82.1 L57.2 82.1 L57.7 82 L58.2 82 L58.7 81.8 L59.2 81.7 L59.8 81.5 L60.3 81.4 L60.8 81.1 L61.3 80.9 L61.8 80.6 L62.3 80.4 L62.8 80.1 L63.3 79.8 L63.8 79.5 L64.3 79.2 L64.9 78.9 L65.4 78.6 L65.9 78.3 L66.4 78 L66.9 77.8 L67.4 77.5 L67.9 77.3 L68.4 77 L68.9 76.9 L69.5 76.7 L70 76.6 L70.5 76.4 L71 76.4 L71.5 76.3 L72 76.5 L72.7 76.2 L73.4 76.2 L74.1 76.6 L74.8 76.9 L75.5 76.9 L76.2 77.1 L76.9 77.6 L77.6 77.9 L78.3 77.7 L79 77.5 L79.7 77.6 L80.4 77.8 L81.1 77.8 L81.8 77.7 L82.5 77.9 L83.2 78.4 L83.9 78.6 L84.6 78.4 L85.3 78.3 L86 78.5 L86.7 78.5 L87.4 78.2 L88.1 78 L88.8 78.3 L89.5 78.7 L90.2 78.7 L90.9 78.5 L91.6 78.6 L92.3 78.8 L93 78.5 L93.7 78 L94.4 77.8 L95.1 78 L95.8 78 L96.5 77.8 L97.2 77.8 L97.9 78 L98.6 78 L99.3 77.6 L100 77.2 L100.7 77.1 L101.4 77.1 L102.1 76.9 L102.8 76.6 L103.5 76.7 L104.2 77 L104.9 77 L105.6 76.7 L106.3 76.5 L107 76.6 L107.7 76.5 L108.4 76.1 L109.1 76 L109.8 76.3 L110.5 76.6 L111.2 76.6 L111.9 76.5 L112.6 76.7 L113.3 76.9 L114 76.7 L114.7 76.3 L115.4 76.3 L116.1 76.6 L116.8 76.7 L117.5 76.6 L118.2 76.8 L118.9 77.2 L119.6 77.3 L120.3 77.1 L121 76.8 L121.7 76.9 L122.4 77.1 L123.1 77 L123.8 76.8 L124.5 77.1 L125.2 77.6 L125.9 77.7 L126.6 77.4 L127.3 77.4 L128 77.5 L128.7 77.4 L129.4 77.1 L130.1 77 L130.8 77.3 L131.5 77.6 L132.2 77.5 L132.9 77.4 L133.6 77.6 L134.3 77.7 L135 77.5 L135.7 77 L136.4 77 L137.1 77.3 L137.8 77.3 L138.5 77.2 L139.2 77.3 L139.9 77.6 L140.6 77.7 L141.3 77.4 L142 77.1 L142.7 77.1 L143.4 77.2 L144.1 77 L144.8 76.9 L145.5 77.1 L146.2 77.5 L146.9 77.5 L147.6 77.2 L148.3 77.1 L149 77.3 L149.7 77.1 L150.4 76.8 L151.1 76.7 L151.8 77 L152.5 77.3 L153.2 77.2 L153.9 77.1 L154.6 77.3 L155.3 77.4 L156 77.1 L156.7 76.7 L157.4 76.7 L158.1 76.9 L158.8 77 L159.5 76.9 L160.2 77 L160.9 77.4 L161.6 77.4 L162.3 77.1 L163 76.8 L163.7 76.9 L164.4 77.1 L165.1 76.9 L165.8 76.8 L166.5 77.2 L167.2 77.6 L167.9 77.6 L168.6 77.4 L169.3 77.4 L170 77.6 L170.7 77.5 L171.4 77.2 L172.1 77.2 L172.8 77.6 L173.5 77.9 L174.2 77.9 L174.9 77.9 L175.6 78.1 L176.3 78.3 L177 78" stroke="#e2e2e2" stroke-width="6" fill="none" stroke-linejoin="round"/>
<path d="M17.5 63.6 L17.8 66.2 L18.1 68.6 L18.4 71.2 L18.7 73.8 L19 77.6 L19.3 81.2 L19.6 82.3 L19.9 84 L20.2 88.1 L20.4 88.1 L20.7 89.6 L21 90.1 L21.3 91 L21.6 91.8 L21.9 89.4 L22.2 90 L22.5 89.5 L22.8 88.3 L23.1 89.1 L23.4 90.3 L23.9 90.2 L24.4 91.5 L24.9 90.3 L25.4 91.8 L25.9 92.2 L26.4 92.7 L26.9 91 L27.4 91 L27.9 88.8 L28.4 88.4 L28.9 86 L29.4 84.3 L29.9 82.3 L30.4 80.2 L30.9 77.1 L31.5 77.2 L32 74.8 L32.5 73 L33 73.6 L33.5 72 L34 71.6 L34.5 71.8 L35 72.6 L35.5 74.9 L36 73.2 L36.5 74.7 L37 74 L37.5 70.6 L38 69.3 L38.5 70 L39.1 69.7 L39.7 69.8 L40.3 67.8 L40.9 68.2 L41.5 66.3 L42.1 65.5 L42.7 66.9 L43.4 69.2 L44 69.8 L44.6 69.6 L45.2 70.2 L45.8 71.2 L46.4 72.4 L47 74.3 L47.6 75.9 L48.2 76.2 L48.8 76.6 L49.4 76.7 L50 77.6 L50.6 78.1 L51.2 78.9 L51.8 79.6 L52.5 79.5 L53.1 80.5 L53.7 80.9 L54.3 80.9 L54.9 80.7 L55.5 81.5 L56.1 81.4 L56.7 81.7 L57.2 81.1 L57.7 81.4 L58.2 81 L58.7 81.5 L59.2 81.1 L59.8 81.5 L60.3 81.3 L60.8 80.7 L61.3 80.4 L61.8 80.3 L62.3 80 L62.8 79.9 L63.3 79.7 L63.8 79.8 L64.3 79.2 L64.9 78.8 L65.4 78.8 L65.9 78.7 L66.4 78.5 L66.9 78.5 L67.4 78.2 L67.9 77.8 L68.4 77.7 L68.9 77.6 L69.5 77.2 L70 77.1 L70.5 76.8 L71 76.8 L71.5 76.4 L72 76.4 L72.7 77 L73.4 77.2 L74.1 76.8 L74.8 77.1 L75.5 77.5 L76.2 78.1 L76.9 78.1 L77.6 78.1 L78.3 78.6 L79 78.6 L79.7 77.7 L80.4 77.8 L81.1 77.6 L81.8 77.5 L82.5 77.3 L83.2 76.8 L83.9 77.3 L84.6 77.8 L85.3 78.2 L86 78.6 L86.7 78.4 L87.4 79 L88.1 79.4 L88.8 79.3 L89.5 79.4 L90.2 79.2 L90.9 79.7 L91.6 79.5 L92.3 79.3 L93 79.5 L93.7 79.4 L94.4 79 L95.1 78.3 L95.8 78.3 L96.5 78.5 L97.2 78.3 L97.9 78.1 L98.6 78.3 L99.3 78.4 L100 78.2 L100.7 77.3 L101.4 76.6 L102.1 76.3 L102.8 76.4 L103.5 76.7 L104.2 76.3 L104.9 76.2 L105.6 76.8 L106.3 76.5 L107 77.2 L107.7 77 L108.4 76.8 L109.1 76.8 L109.8 76.2 L110.5 76.4 L111.2 76.7 L111.9 76.8 L112.6 77.3 L113.3 76.6 L114 77.1 L114.7 77.2 L115.4 76.9 L116.1 76.6 L116.8 76 L117.5 76.3 L118.2 76.6 L118.9 76.5 L119.6 76.8 L120.3 77.2 L121 78 L121.7 77.7 L122.4 77.7 L123.1 78.4 L123.8 78.5 L124.5 78.5 L125.2 78.6 L125.9 78.6 L126.6 79.4 L127.3 79.1 L128 79 L128.7 78.3 L129.4 78.2 L130.1 78.1 L130.8 77.4 L131.5 76.4 L132.2 77.1 L132.9 76.9 L133.6 76.8 L134.3 76.9 L135 77.3 L135.7 77.2 L136.4 77 L137.1 76.4 L137.8 77 L138.5 76.9 L139.2 76.8 L139.9 76.8 L140.6 76.7 L141.3 77.1 L142 77.3 L142.7 76.8 L143.4 76.4 L144.1 76.8 L144.8 77 L145.5 77 L146.2 77.4 L146.9 77.3 L147.6 77.5 L148.3 77.6 L149 77.5 L149.7 77.6 L150.4 77.2 L151.1 77 L151.8 76.5 L152.5 75.8 L153.2 76.3 L153.9 76.8 L154.6 76.8 L155.3 76.8 L156 77.1 L156.7 77.1 L157.4 76.6 L158.1 76 L158.8 75.9 L159.5 76.1 L160.2 76.1 L160.9 75.8 L161.6 75.5 L162.3 76.1 L163 76.4 L163.7 76.3 L164.4 76.3 L165.1 76.5 L165.8 76.6 L166.5 76.5 L167.2 76.9 L167.9 77.6 L168.6 77.5 L169.3 77.7 L170 77.4 L170.7 77.4 L171.4 77.5 L172.1 77 L172.8 76.6 L173.5 76.4 L174.2 76.4 L174.9 77 L175.6 77 L176.3 77 L177 77.3" stroke="#c0c0c0" stroke-width="1.4" fill="none" opacity="0.3" stroke-linejoin="round"/>
<path d="M17.5 62.7 L17.8 64.8 L18.1 67.9 L18.4 70.7 L18.7 73.3 L19 76.5 L19.3 79.5 L19.6 81.9 L19.9 82.1 L20.2 84.1 L20.4 85.3 L20.7 84.3 L21 84.9 L21.3 87.2 L21.6 87.6 L21.9 88.4 L22.2 88.4 L22.5 91.3 L22.8 92.3 L23.1 93 L23.4 93.4 L23.9 93.9 L24.4 92.6 L24.9 93.7 L25.4 95.8 L25.9 95.9 L26.4 92.8 L26.9 90.3 L27.4 88.2 L27.9 88.8 L28.4 86.3 L28.9 85.8 L29.4 83.4 L29.9 80.9 L30.4 79.6 L30.9 80.1 L31.5 78.7 L32 80.7 L32.5 80.5 L33 81.3 L33.5 78 L34 74.8 L34.5 71.9 L35 69.2 L35.5 68.8 L36 70.1 L36.5 68.5 L37 68.6 L37.5 67.3 L38 68 L38.5 69.2 L39.1 70.1 L39.7 70.1 L40.3 69.9 L40.9 69.7 L41.5 68.6 L42.1 66.9 L42.7 67.4 L43.4 68.7 L44 69.6 L44.6 70.7 L45.2 71.8 L45.8 72.1 L46.4 72.5 L47 73.4 L47.6 74.3 L48.2 75.1 L48.8 75.9 L49.4 76.2 L50 77.5 L50.6 78.3 L51.2 78.9 L51.8 78.9 L52.5 78.7 L53.1 79.7 L53.7 79.7 L54.3 79.9 L54.9 80.6 L55.5 80.5 L56.1 81.2 L56.7 81.3 L57.2 81 L57.7 81.2 L58.2 81.2 L58.7 81.9 L59.2 81.6 L59.8 81.2 L60.3 80.6 L60.8 80.2 L61.3 79.5 L61.8 79.8 L62.3 80 L62.8 79.5 L63.3 78.7 L63.8 78.7 L64.3 78.3 L64.9 78 L65.4 77.5 L65.9 77.6 L66.4 77.6 L66.9 77.7 L67.4 77.3 L67.9 77.3 L68.4 76.7 L68.9 76.8 L69.5 76.8 L70 76.7 L70.5 76.9 L71 76.8 L71.5 76.7 L72 77 L72.7 76.7 L73.4 76.8 L74.1 76.3 L74.8 76.5 L75.5 76.8 L76.2 76.5 L76.9 77 L77.6 77 L78.3 77.1 L79 77.1 L79.7 76.8 L80.4 77.3 L81.1 77.8 L81.8 78.1 L82.5 78 L83.2 77.9 L83.9 78.4 L84.6 78.7 L85.3 78.3 L86 78.4 L86.7 78.6 L87.4 78.4 L88.1 77.9 L88.8 77.9 L89.5 78.8 L90.2 78.9 L90.9 78.7 L91.6 78.7 L92.3 78.5 L93 78.8 L93.7 78.6 L94.4 77.7 L95.1 77.8 L95.8 77.7 L96.5 77.8 L97.2 77.7 L97.9 77.6 L98.6 77.7 L99.3 77.4 L100 76.7 L100.7 76 L101.4 75.9 L102.1 76.2 L102.8 76.2 L103.5 75.7 L104.2 75.9 L104.9 76.7 L105.6 76.7 L106.3 76.8 L107 76.9 L107.7 76.6 L108.4 75.9 L109.1 75.1 L109.8 75.3 L110.5 75.7 L111.2 75.6 L111.9 75.6 L112.6 75.2 L113.3 76.2 L114 76.3 L114.7 76.3 L115.4 76.6 L116.1 76.6 L116.8 76.5 L117.5 76.7 L118.2 76.5 L118.9 77.1 L119.6 77 L120.3 77.4 L121 77.1 L121.7 76.6 L122.4 77.2 L123.1 77.4 L123.8 77.5 L124.5 77.5 L125.2 77.4 L125.9 78.2 L126.6 77.5 L127.3 77.2 L128 77.2 L128.7 77 L129.4 76.7 L130.1 76.4 L130.8 76.4 L131.5 77.1 L132.2 77.1 L132.9 77.3 L133.6 77.2 L134.3 77.7 L135 77.7 L135.7 77.2 L136.4 76.6 L137.1 76.8 L137.8 76.8 L138.5 76.7 L139.2 76.8 L139.9 77.4 L140.6 77.7 L141.3 77.8 L142 77.9 L142.7 77.7 L143.4 77.6 L144.1 77.6 L144.8 77 L145.5 77 L146.2 77.2 L146.9 77.5 L147.6 77.2 L148.3 76.9 L149 76.7 L149.7 77.2 L150.4 76.8 L151.1 76.4 L151.8 76 L152.5 76.1 L153.2 76.1 L153.9 76.2 L154.6 75.8 L155.3 76.3 L156 76.2 L156.7 76.3 L157.4 76.5 L158.1 76.8 L158.8 77.1 L159.5 77.2 L160.2 77.2 L160.9 77.6 L161.6 78.1 L162.3 78 L163 77 L163.7 76.7 L164.4 76.9 L165.1 77.1 L165.8 76.9 L166.5 76.9 L167.2 77.4 L167.9 77.5 L168.6 77.4 L169.3 77.4 L170 77.3 L170.7 77.4 L171.4 76.6 L172.1 76.1 L172.8 76 L173.5 76.4 L174.2 76.4 L174.9 76.5 L175.6 76.8 L176.3 77.3 L177 77.3" stroke="#c0c0c0" stroke-width="1.4" fill="none" opacity="0.3" stroke-linejoin="round"/>
<path d="M17.5 65.3 L17.8 67.8 L18.1 69.8 L18.4 72.7 L18.7 73.4 L19 76.6 L19.3 78.5 L19.6 78.7 L19.9 81.4 L20.2 83.3 L20.4 84.2 L20.7 86.8 L21 87.1 L21.3 89.4 L21.6 89.6 L21.9 90.3 L22.2 92.2 L22.5 93.5 L22.8 93.4 L23.1 95 L23.4 96.3 L23.9 97.4 L24.4 98 L24.9 95.1 L25.4 93.1 L25.9 90.9 L26.4 90.6 L26.9 92.9 L27.4 92.3 L27.9 89.1 L28.4 87.8 L28.9 85.9 L29.4 86.9 L29.9 86 L30.4 86.7 L30.9 81.7 L31.5 78.7 L32 76.4 L32.5 74 L33 72.6 L33.5 72.8 L34 69.2 L34.5 68.7 L35 67.2 L35.5 67.7 L36 66.7 L36.5 64.9 L37 64.5 L37.5 62.8 L38 61.3 L38.5 62.1 L39.1 60.9 L39.7 60.6 L40.3 60.8 L40.9 61.9 L41.5 63.1 L42.1 64.3 L42.7 66.9 L43.4 68.5 L44 69.9 L44.6 70.3 L45.2 72.2 L45.8 74.1 L46.4 74.8 L47 75.4 L47.6 75.8 L48.2 74.6 L48.8 75.4 L49.4 75.5 L50 76.5 L50.6 77.2 L51.2 77.7 L51.8 77.9 L52.5 78.8 L53.1 78.8 L53.7 80.1 L54.3 80.7 L54.9 81.9 L55.5 81.8 L56.1 82.1 L56.7 82.2 L57.2 81.9 L57.7 81.4 L58.2 81.8 L58.7 82 L59.2 81.7 L59.8 80.9 L60.3 81.2 L60.8 81 L61.3 80.6 L61.8 80.5 L62.3 80.7 L62.8 79.9 L63.3 79.4 L63.8 78.7 L64.3 78.6 L64.9 78.3 L65.4 77.8 L65.9 77.3 L66.4 77.1 L66.9 76.9 L67.4 76.8 L67.9 76.3 L68.4 76.4 L68.9 76.4 L69.5 76.2 L70 76 L70.5 76.2 L71 76.1 L71.5 76.3 L72 76.8 L72.7 77.3 L73.4 77.3 L74.1 77.4 L74.8 77.5 L75.5 77.4 L76.2 77.5 L76.9 78.2 L77.6 77.6 L78.3 76.9 L79 76.8 L79.7 77.3 L80.4 77.7 L81.1 77.6 L81.8 77.8 L82.5 78.3 L83.2 78.5 L83.9 78.5 L84.6 78.4 L85.3 78.1 L86 78.1 L86.7 78.1 L87.4 78 L88.1 78 L88.8 78.5 L89.5 78.9 L90.2 79.3 L90.9 79.1 L91.6 79.4 L92.3 79.4 L93 78 L93.7 77.6 L94.4 78.5 L95.1 78.5 L95.8 77.9 L96.5 77.5 L97.2 77.8 L97.9 77.8 L98.6 77.6 L99.3 77.3 L100 77.2 L100.7 76.5 L101.4 76.5 L102.1 76.4 L102.8 76.5 L103.5 76.8 L104.2 77.1 L104.9 76.8 L105.6 76.4 L106.3 76.3 L107 76.6 L107.7 76.4 L108.4 76.4 L109.1 76.2 L109.8 76.8 L110.5 76.8 L111.2 76.6 L111.9 77.2 L112.6 77.8 L113.3 77.4 L114 77 L114.7 75.8 L115.4 75.7 L116.1 76 L116.8 75.5 L117.5 75.6 L118.2 76.1 L118.9 75.9 L119.6 75.8 L120.3 75.5 L121 75.8 L121.7 76.4 L122.4 76.2 L123.1 76.7 L123.8 76.8 L124.5 77 L125.2 76.9 L125.9 76.7 L126.6 76.6 L127.3 76.9 L128 76.8 L128.7 76.8 L129.4 76.6 L130.1 76.6 L130.8 77.2 L131.5 77.7 L132.2 77.4 L132.9 77.5 L133.6 77.8 L134.3 77.9 L135 77.4 L135.7 77.2 L136.4 77.6 L137.1 77.7 L137.8 77.3 L138.5 76.9 L139.2 76.9 L139.9 77.2 L140.6 77 L141.3 76.3 L142 76.2 L142.7 75.9 L143.4 75.8 L144.1 76.1 L144.8 76.7 L145.5 77.7 L146.2 77.6 L146.9 76.9 L147.6 77 L148.3 77 L149 77.2 L149.7 76.5 L150.4 76.4 L151.1 76.7 L151.8 76.7 L152.5 76.3 L153.2 76.5 L153.9 76.9 L154.6 76.8 L155.3 76.9 L156 76.8 L156.7 76.3 L157.4 76.5 L158.1 76.8 L158.8 76.7 L159.5 76.4 L160.2 76.6 L160.9 77.2 L161.6 77 L162.3 76.4 L163 76.5 L163.7 76.6 L164.4 76.2 L165.1 76 L165.8 76.4 L166.5 76.8 L167.2 76.5 L167.9 76.4 L168.6 76.5 L169.3 76.9 L170 77.2 L170.7 77.3 L171.4 77.4 L172.1 77.9 L172.8 78.3 L173.5 78.7 L174.2 78.8 L174.9 79 L175.6 79 L176.3 78.7 L177 78.3" stroke="#c0c0c0" stroke-width="1.4" fill="none" opacity="0.3" stroke-linejoin="round"/>
<path d="M17.5 64.1 L17.8 64.9 L18.1 66.3 L18.4 67.9 L18.7 68.4 L19 70.2 L19.3 72 L19.6 72.6 L19.9 75 L20.2 76.6 L20.4 79 L20.7 82.9 L21 84.9 L21.3 87.9 L21.6 88.8 L21.9 91.2 L22.2 92.3 L22.5 93.1 L22.8 93.1 L23.1 95.6 L23.4 94.2 L23.9 94.5 L24.4 92.5 L24.9 91.5 L25.4 91.1 L25.9 93.1 L26.4 94.4 L26.9 93.4 L27.4 91.4 L27.9 90 L28.4 87.6 L28.9 88.6 L29.4 87.1 L29.9 86.1 L30.4 83.6 L30.9 80.4 L31.5 79.9 L32 76.9 L32.5 75.6 L33 75.1 L33.5 72.1 L34 71.8 L34.5 71.1 L35 71.1 L35.5 70.3 L36 69 L36.5 70 L37 68 L37.5 67.7 L38 67.8 L38.5 67.4 L39.1 67.4 L39.7 66.4 L40.3 65 L40.9 66 L41.5 66.2 L42.1 68.5 L42.7 68.3 L43.4 69.6 L44 71.4 L44.6 71.4 L45.2 71.7 L45.8 73.4 L46.4 73.9 L47 73.7 L47.6 73.8 L48.2 74.5 L48.8 76.7 L49.4 77 L50 77.9 L50.6 78.9 L51.2 79.6 L51.8 79.7 L52.5 80.8 L53.1 82 L53.7 82.7 L54.3 82 L54.9 82.1 L55.5 82.7 L56.1 82.9 L56.7 82.6 L57.2 82.8 L57.7 82.8 L58.2 81.8 L58.7 81.6 L59.2 81.6 L59.8 81.2 L60.3 81.1 L60.8 80.9 L61.3 80.8 L61.8 80.5 L62.3 80 L62.8 79.9 L63.3 80 L63.8 79.6 L64.3 78.9 L64.9 77.9 L65.4 77.7 L65.9 77.3 L66.4 76.9 L66.9 77.1 L67.4 77 L67.9 76.5 L68.4 76.2 L68.9 76.7 L69.5 76.7 L70 76.1 L70.5 76.3 L71 76.6 L71.5 76.4 L72 76.4 L72.7 77.1 L73.4 77.3 L74.1 77.2 L74.8 77.5 L75.5 78.2 L76.2 78.7 L76.9 78.5 L77.6 78.4 L78.3 78.4 L79 78.3 L79.7 78.7 L80.4 78.4 L81.1 78.7 L81.8 78.9 L82.5 79.1 L83.2 78.5 L83.9 78.4 L84.6 78 L85.3 78.2 L86 78 L86.7 78.1 L87.4 78.5 L88.1 79.2 L88.8 79 L89.5 78.8 L90.2 78.6 L90.9 79.2 L91.6 79 L92.3 78.3 L93 78.3 L93.7 78.2 L94.4 77.9 L95.1 77.5 L95.8 77.9 L96.5 78.2 L97.2 78.2 L97.9 77.4 L98.6 76.8 L99.3 76.7 L100 76.8 L100.7 77.1 L101.4 77.1 L102.1 76.8 L102.8 77.4 L103.5 77.6 L104.2 77.6 L104.9 77.4 L105.6 77.4 L106.3 77.6 L107 76.8 L107.7 76.5 L108.4 76.6 L109.1 76.9 L109.8 76.6 L110.5 76.2 L111.2 76.3 L111.9 76.5 L112.6 75.9 L113.3 75.5 L114 75.5 L114.7 76 L115.4 75.8 L116.1 75.7 L116.8 75.9 L117.5 76.2 L118.2 76.5 L118.9 76.4 L119.6 75.9 L120.3 76.3 L121 76.4 L121.7 76.2 L122.4 76.3 L123.1 76.7 L123.8 77.4 L124.5 77.3 L125.2 77.3 L125.9 77.7 L126.6 77.7 L127.3 78.1 L128 77.9 L128.7 78 L129.4 78.2 L130.1 78.3 L130.8 78.2 L131.5 77.4 L132.2 77.2 L132.9 77.6 L133.6 76.9 L134.3 76.3 L135 76 L135.7 76 L136.4 76.4 L137.1 76.3 L137.8 76.5 L138.5 77.3 L139.2 76.8 L139.9 77 L140.6 77.7 L141.3 77.9 L142 78.5 L142.7 78 L143.4 78.3 L144.1 78.5 L144.8 78.6 L145.5 78.8 L146.2 78.3 L146.9 77.8 L147.6 77.3 L148.3 77.1 L149 76.6 L149.7 76.5 L150.4 76.7 L151.1 77 L151.8 77.2 L152.5 76.8 L153.2 76.4 L153.9 76.7 L154.6 76.2 L155.3 76.4 L156 76.4 L156.7 76.5 L157.4 76.3 L158.1 76.6 L158.8 76.9 L159.5 77.4 L160.2 77.7 L160.9 77.7 L161.6 77.3 L162.3 77.2 L163 78 L163.7 78.2 L164.4 77.4 L165.1 77.6 L165.8 78 L166.5 77.8 L167.2 77.6 L167.9 77.4 L168.6 77.5 L169.3 77.1 L170 76.6 L170.7 77.3 L171.4 77.5 L172.1 77.8 L172.8 77.5 L173.5 77.2 L174.2 77.5 L174.9 77.8 L175.6 77.5 L176.3 77.3 L177 77.1" stroke="#c0c0c0" stroke-width="1.4" fill="none" opacity="0.3" stroke-linejoin="round"/>
<path d="M17.5 64.2 L17.8 66.1 L18.1 69.7 L18.4 71.5 L18.7 73.4 L19 74.7 L19.3 77.2 L19.6 79.4 L19.9 81.4 L20.2 84 L20.4 86.5 L20.7 85.7 L21 89.1 L21.3 91 L21.6 93.6 L21.9 94.1 L22.2 96.9 L22.5 97.5 L22.8 96.8 L23.1 96.8 L23.4 99.1 L23.9 97.4 L24.4 97.8 L24.9 98.1 L25.4 96 L25.9 95.1 L26.4 95.8 L26.9 95.1 L27.4 93.7 L27.9 90.8 L28.4 90.4 L28.9 87.7 L29.4 85.4 L29.9 86.8 L30.4 82.3 L30.9 80.2 L31.5 79.2 L32 77.3 L32.5 76.8 L33 74.6 L33.5 72.4 L34 70 L34.5 67.6 L35 67.5 L35.5 65 L36 66.6 L36.5 67.7 L37 67.9 L37.5 67.8 L38 67.1 L38.5 67.2 L39.1 67.7 L39.7 68 L40.3 68.8 L40.9 67.4 L41.5 68.3 L42.1 68 L42.7 68.5 L43.4 70 L44 71.8 L44.6 72.3 L45.2 73.3 L45.8 74.2 L46.4 74.5 L47 74.2 L47.6 76 L48.2 76.8 L48.8 78.2 L49.4 77.9 L50 78.7 L50.6 78.8 L51.2 80.2 L51.8 80.9 L52.5 81.5 L53.1 81.3 L53.7 82.2 L54.3 82.6 L54.9 83.3 L55.5 82.9 L56.1 83.1 L56.7 82.3 L57.2 82.2 L57.7 81.7 L58.2 81.8 L58.7 81.3 L59.2 80.9 L59.8 80.3 L60.3 80.3 L60.8 80 L61.3 80.3 L61.8 80.3 L62.3 80.4 L62.8 79.9 L63.3 79.4 L63.8 79.1 L64.3 78.5 L64.9 78.6 L65.4 78.6 L65.9 78.1 L66.4 77.8 L66.9 77.5 L67.4 77.1 L67.9 77.1 L68.4 76.8 L68.9 77 L69.5 76.7 L70 76.8 L70.5 76.5 L71 76.1 L71.5 75.6 L72 75.5 L72.7 75.6 L73.4 75.9 L74.1 76.6 L74.8 76.8 L75.5 77 L76.2 77.1 L76.9 77 L77.6 77.6 L78.3 78 L79 78 L79.7 77.7 L80.4 77.9 L81.1 78.4 L81.8 78 L82.5 77.6 L83.2 77.9 L83.9 78.2 L84.6 78.3 L85.3 78.5 L86 78.5 L86.7 78.9 L87.4 79.4 L88.1 79.5 L88.8 79.4 L89.5 80 L90.2 80.1 L90.9 79.5 L91.6 79 L92.3 79.1 L93 79.2 L93.7 79.3 L94.4 78.8 L95.1 78.4 L95.8 77.9 L96.5 77.4 L97.2 77 L97.9 76.5 L98.6 76.7 L99.3 76.5 L100 76.4 L100.7 76.5 L101.4 76.8 L102.1 77.8 L102.8 77.5 L103.5 77.1 L104.2 77.2 L104.9 77.4 L105.6 77.2 L106.3 76.8 L107 76.9 L107.7 77.6 L108.4 77.3 L109.1 77.7 L109.8 77.3 L110.5 77 L111.2 76.8 L111.9 76.5 L112.6 75.9 L113.3 76.1 L114 76.2 L114.7 76.4 L115.4 75.7 L116.1 75.8 L116.8 76.3 L117.5 76.3 L118.2 75.8 L118.9 75.6 L119.6 75.6 L120.3 75.9 L121 75.9 L121.7 76.5 L122.4 77.2 L123.1 77.4 L123.8 77.2 L124.5 76.9 L125.2 76.7 L125.9 77.1 L126.6 77.3 L127.3 76.8 L128 76.8 L128.7 76.7 L129.4 77 L130.1 76.9 L130.8 77.1 L131.5 77.4 L132.2 77.1 L132.9 76.2 L133.6 75.8 L134.3 76.4 L135 77.3 L135.7 77 L136.4 77 L137.1 77.1 L137.8 77.9 L138.5 77.5 L139.2 77.4 L139.9 77.6 L140.6 77.7 L141.3 78 L142 78.1 L142.7 77.8 L143.4 78.1 L144.1 77.7 L144.8 77.9 L145.5 77.3 L146.2 76.8 L146.9 76.6 L147.6 76 L148.3 75.7 L149 76.1 L149.7 76.6 L150.4 76.6 L151.1 77 L151.8 77 L152.5 77.3 L153.2 77.5 L153.9 77 L154.6 76.9 L155.3 76.9 L156 77.3 L156.7 77.1 L157.4 76.6 L158.1 77.3 L158.8 77.7 L159.5 77.3 L160.2 77.2 L160.9 77.3 L161.6 77.5 L162.3 77.5 L163 77.6 L163.7 77.9 L164.4 77.6 L165.1 77.7 L165.8 77.4 L166.5 76.9 L167.2 76.8 L167.9 77 L168.6 77.2 L169.3 77 L170 77.4 L170.7 78.1 L171.4 78.5 L172.1 78.2 L172.8 78.3 L173.5 78.2 L174.2 78 L174.9 77.4 L175.6 77.4 L176.3 77.2 L177 77.5" stroke="#c0c0c0" stroke-width="1.4" fill="none" opacity="0.3" stroke-linejoin="round"/>
<path d="M17.5 65.9 L17.8 68.5 L18.1 70.6 L18.4 73.2 L18.7 76.5 L19 79.1 L19.3 81.2 L19.6 80 L19.9 82.9 L20.2 84.9 L20.4 85.2 L20.7 86.8 L21 86.8 L21.3 86 L21.6 85.1 L21.9 84.7 L22.2 86.4 L22.5 85.5 L22.8 86.8 L23.1 88 L23.4 87 L23.9 88.3 L24.4 90 L24.9 91.5 L25.4 91.6 L25.9 92.1 L26.4 91.1 L26.9 90.4 L27.4 89.8 L27.9 89.9 L28.4 88.2 L28.9 85.7 L29.4 85.8 L29.9 84.1 L30.4 81.1 L30.9 80.8 L31.5 79.2 L32 77.9 L32.5 76.2 L33 73.3 L33.5 74.2 L34 70.6 L34.5 69.9 L35 70.3 L35.5 68.6 L36 66.6 L36.5 64.4 L37 63.4 L37.5 64 L38 61.9 L38.5 64.8 L39.1 63.9 L39.7 65.1 L40.3 65.9 L40.9 66.2 L41.5 66.3 L42.1 67.4 L42.7 67.5 L43.4 68.4 L44 67.7 L44.6 68.3 L45.2 69.1 L45.8 69.8 L46.4 70.9 L47 72.7 L47.6 73.4 L48.2 75.3 L48.8 76.8 L49.4 77.5 L50 79.2 L50.6 80.2 L51.2 81.2 L51.8 81.7 L52.5 82.6 L53.1 83.3 L53.7 83.2 L54.3 82.5 L54.9 82.8 L55.5 82.4 L56.1 82 L56.7 81.3 L57.2 81 L57.7 81 L58.2 81.4 L58.7 81.4 L59.2 81.8 L59.8 80.9 L60.3 81.1 L60.8 80.6 L61.3 80.3 L61.8 80.1 L62.3 79.2 L62.8 78.7 L63.3 78.3 L63.8 78.5 L64.3 79.1 L64.9 78.7 L65.4 78.7 L65.9 78.6 L66.4 78.7 L66.9 78.6 L67.4 78.3 L67.9 78.1 L68.4 77.4 L68.9 76.8 L69.5 76.8 L70 76.7 L70.5 76.3 L71 75.9 L71.5 75.9 L72 75.8 L72.7 75.9 L73.4 76.4 L74.1 76.9 L74.8 76.7 L75.5 76.4 L76.2 77.1 L76.9 77.6 L77.6 78.3 L78.3 78.6 L79 78.6 L79.7 79.2 L80.4 79.3 L81.1 79.2 L81.8 78.4 L82.5 78.7 L83.2 78.4 L83.9 77.9 L84.6 77.9 L85.3 78.5 L86 78.7 L86.7 78.7 L87.4 78.4 L88.1 79 L88.8 78.4 L89.5 78.5 L90.2 78.2 L90.9 77.5 L91.6 77.8 L92.3 78.1 L93 78 L93.7 77.9 L94.4 78.1 L95.1 78.7 L95.8 78.5 L96.5 77.9 L97.2 77.7 L97.9 77.5 L98.6 77.3 L99.3 77.2 L100 77.3 L100.7 77.4 L101.4 77.9 L102.1 77.5 L102.8 76.9 L103.5 77.7 L104.2 77.9 L104.9 77.1 L105.6 76.8 L106.3 76.7 L107 77.1 L107.7 76.4 L108.4 76.1 L109.1 76.6 L109.8 76 L110.5 75.7 L111.2 75.8 L111.9 76 L112.6 76.9 L113.3 77.4 L114 77.5 L114.7 77.7 L115.4 77.2 L116.1 77.6 L116.8 77.3 L117.5 77.3 L118.2 77.1 L118.9 77 L119.6 76.7 L120.3 76.5 L121 76.5 L121.7 77.2 L122.4 77.3 L123.1 76.9 L123.8 76.4 L124.5 76.6 L125.2 76.5 L125.9 76.2 L126.6 76 L127.3 76.9 L128 77.8 L128.7 77.9 L129.4 77.8 L130.1 77.7 L130.8 77.8 L131.5 77.9 L132.2 77.8 L132.9 78 L133.6 77.2 L134.3 76.7 L135 76.4 L135.7 76.5 L136.4 76.7 L137.1 76.7 L137.8 76.2 L138.5 75.5 L139.2 75.6 L139.9 76.2 L140.6 76.2 L141.3 76.6 L142 76.9 L142.7 77.6 L143.4 77.9 L144.1 77.5 L144.8 77.5 L145.5 77.5 L146.2 77.8 L146.9 78 L147.6 77.2 L148.3 77.4 L149 77.5 L149.7 77.2 L150.4 77.7 L151.1 78 L151.8 77.9 L152.5 77.7 L153.2 77.1 L153.9 77.1 L154.6 77.1 L155.3 77.4 L156 77.3 L156.7 76.9 L157.4 77.4 L158.1 77.8 L158.8 77.4 L159.5 77 L160.2 77.5 L160.9 77.9 L161.6 78.2 L162.3 78.2 L163 78.6 L163.7 78.4 L164.4 78.3 L165.1 77.9 L165.8 78 L166.5 77.9 L167.2 77.9 L167.9 76.9 L168.6 76.6 L169.3 76.4 L170 77.1 L170.7 77 L171.4 77.1 L172.1 77.3 L172.8 77.5 L173.5 76.8 L174.2 77.3 L174.9 77.6 L175.6 78.2 L176.3 78.3 L177 78.3" stroke="#c0c0c0" stroke-width="1.4" fill="none" opacity="0.3" stroke-linejoin="round"/>
</g>
<g filter="url(#blur1)">
<path d="M17.5 104.7 L17.8 106.7 L18.1 108.7 L18.4 110.8 L18.7 113 L19 115.2 L19.3 117.4 L19.6 119.5 L19.9 121.6 L20.2 123.7 L20.4 125.6 L20.7 127.5 L21 129.2 L21.3 130.7 L21.6 132.1 L21.9 133.3 L22.2 134.3 L22.5 135.1 L22.8 135.6 L23.1 136 L23.4 136.1 L23.9 136 L24.4 135.8 L24.9 135.4 L25.4 134.8 L25.9 134.1 L26.4 133.3 L26.9 132.3 L27.4 131.3 L27.9 130.1 L28.4 128.8 L28.9 127.4 L29.4 126 L29.9 124.5 L30.4 123 L30.9 121.5 L31.5 120 L32 118.5 L32.5 117 L33 115.6 L33.5 114.2 L34 112.9 L34.5 111.7 L35 110.7 L35.5 109.7 L36 108.9 L36.5 108.2 L37 107.6 L37.5 107.2 L38 107 L38.5 106.9 L39.1 106.9 L39.8 107.1 L40.4 107.3 L41 107.6 L41.6 108 L42.3 108.5 L42.9 109.1 L43.5 109.7 L44.2 110.4 L44.8 111.1 L45.4 111.9 L46.1 112.7 L46.7 113.6 L47.3 114.4 L48 115.3 L48.6 116.2 L49.2 117 L49.8 117.9 L50.5 118.7 L51.1 119.5 L51.7 120.2 L52.4 120.9 L53 121.5 L53.6 122.1 L54.2 122.6 L54.9 123 L55.5 123.3 L56.1 123.5 L56.8 123.7 L57.4 123.7 L57.9 123.7 L58.4 123.6 L58.9 123.5 L59.3 123.4 L59.8 123.2 L60.3 122.9 L60.8 122.7 L61.3 122.4 L61.8 122.1 L62.3 121.7 L62.8 121.3 L63.2 120.9 L63.7 120.5 L64.2 120.1 L64.7 119.7 L65.2 119.3 L65.7 118.9 L66.2 118.5 L66.6 118.1 L67.1 117.7 L67.6 117.3 L68.1 117 L68.6 116.7 L69.1 116.5 L69.6 116.2 L70.1 116 L70.5 115.9 L71 115.8 L71.5 115.7 L72 115.3 L72.7 115.6 L73.4 116.1 L74.1 116.3 L74.8 116.4 L75.5 116.7 L76.2 117.2 L76.9 117.4 L77.6 117.2 L78.3 117.1 L79 117.3 L79.7 117.6 L80.4 117.5 L81.1 117.6 L81.8 118 L82.5 118.5 L83.2 118.5 L83.9 118.3 L84.6 118.4 L85.3 118.6 L86 118.5 L86.7 118.3 L87.4 118.4 L88.1 118.8 L88.8 119.1 L89.5 119 L90.2 119 L90.9 119.2 L91.6 119.3 L92.3 119 L93 118.7 L93.7 118.8 L94.4 119.1 L95.1 119.1 L95.8 119 L96.5 119.1 L97.2 119.4 L97.9 119.3 L98.6 118.9 L99.3 118.6 L100 118.6 L100.7 118.6 L101.4 118.3 L102.1 118.1 L102.8 118.4 L103.5 118.6 L104.2 118.4 L104.9 118 L105.6 117.9 L106.3 117.9 L107 117.7 L107.7 117.3 L108.4 117.3 L109.1 117.7 L109.8 117.8 L110.5 117.7 L111.2 117.7 L111.9 117.9 L112.6 117.9 L113.3 117.6 L114 117.3 L114.7 117.4 L115.4 117.7 L116.1 117.7 L116.8 117.7 L117.5 117.9 L118.2 118.3 L118.9 118.2 L119.6 117.9 L120.3 117.7 L121 117.9 L121.7 118 L122.4 117.8 L123.1 117.8 L123.8 118.2 L124.5 118.6 L125.2 118.5 L125.9 118.2 L126.6 118.3 L127.3 118.4 L128 118.2 L128.7 117.9 L129.4 118 L130.1 118.4 L130.8 118.5 L131.5 118.4 L132.2 118.4 L132.9 118.6 L133.6 118.6 L134.3 118.2 L135 117.9 L135.7 118 L136.4 118.3 L137.1 118.3 L137.8 118.2 L138.5 118.4 L139.2 118.7 L139.9 118.6 L140.6 118.2 L141.3 118 L142 118.1 L142.7 118.2 L143.4 118 L144.1 118 L144.8 118.3 L145.5 118.6 L146.2 118.4 L146.9 118.2 L147.6 118.2 L148.3 118.3 L149 118 L149.7 117.7 L150.4 117.8 L151.1 118.2 L151.8 118.4 L152.5 118.2 L153.2 118.2 L153.9 118.4 L154.6 118.3 L155.3 117.9 L156 117.7 L156.7 117.8 L157.4 118.1 L158.1 118 L158.8 117.9 L159.5 118.2 L160.2 118.4 L160.9 118.3 L161.6 117.9 L162.3 117.7 L163 117.9 L163.7 117.8 L164.4 117.6 L165.1 117.6 L165.8 118 L166.5 118.2 L167.2 118 L167.9 117.8 L168.6 117.8 L169.3 117.8 L170 117.5 L170.7 117.2 L171.4 117.4 L172.1 117.7 L172.8 117.8 L173.5 117.6 L174.2 117.6 L174.9 117.8 L175.6 117.7 L176.3 117.3 L177 117" stroke="#f0f0f0" stroke-width="13" fill="none" stroke-linejoin="round"/>
<path d="M17.5 104.7 L17.8 106.7 L18.1 108.7 L18.4 110.8 L18.7 113 L19 115.2 L19.3 117.4 L19.6 119.5 L19.9 121.6 L20.2 123.7 L20.4 125.6 L20.7 127.5 L21 129.2 L21.3 130.7 L21.6 132.1 L21.9 133.3 L22.2 134.3 L22.5 135.1 L22.8 135.6 L23.1 136 L23.4 136.1 L23.9 136 L24.4 135.8 L24.9 135.4 L25.4 134.8 L25.9 134.1 L26.4 133.3 L26.9 132.3 L27.4 131.3 L27.9 130.1 L28.4 128.8 L28.9 127.4 L29.4 126 L29.9 124.5 L30.4 123 L30.9 121.5 L31.5 120 L32 118.5 L32.5 117 L33 115.6 L33.5 114.2 L34 112.9 L34.5 111.7 L35 110.7 L35.5 109.7 L36 108.9 L36.5 108.2 L37 107.6 L37.5 107.2 L38 107 L38.5 106.9 L39.1 106.9 L39.8 107.1 L40.4 107.3 L41 107.6 L41.6 108 L42.3 108.5 L42.9 109.1 L43.5 109.7 L44.2 110.4 L44.8 111.1 L45.4 111.9 L46.1 112.7 L46.7 113.6 L47.3 114.4 L48 115.3 L48.6 116.2 L49.2 117 L49.8 117.9 L50.5 118.7 L51.1 119.5 L51.7 120.2 L52.4 120.9 L53 121.5 L53.6 122.1 L54.2 122.6 L54.9 123 L55.5 123.3 L56.1 123.5 L56.8 123.7 L57.4 123.7 L57.9 123.7 L58.4 123.6 L58.9 123.5 L59.3 123.4 L59.8 123.2 L60.3 122.9 L60.8 122.7 L61.3 122.4 L61.8 122.1 L62.3 121.7 L62.8 121.3 L63.2 120.9 L63.7 120.5 L64.2 120.1 L64.7 119.7 L65.2 119.3 L65.7 118.9 L66.2 118.5 L66.6 118.1 L67.1 117.7 L67.6 117.3 L68.1 117 L68.6 116.7 L69.1 116.5 L69.6 116.2 L70.1 116 L70.5 115.9 L71 115.8 L71.5 115.7 L72 115.3 L72.7 115.6 L73.4 116.1 L74.1 116.3 L74.8 116.4 L75.5 116.7 L76.2 117.2 L76.9 117.4 L77.6 117.2 L78.3 117.1 L79 117.3 L79.7 117.6 L80.4 117.5 L81.1 117.6 L81.8 118 L82.5 118.5 L83.2 118.5 L83.9 118.3 L84.6 118.4 L85.3 118.6 L86 118.5 L86.7 118.3 L87.4 118.4 L88.1 118.8 L88.8 119.1 L89.5 119 L90.2 119 L90.9 119.2 L91.6 119.3 L92.3 119 L93 118.7 L93.7 118.8 L94.4 119.1 L95.1 119.1 L95.8 119 L96.5 119.1 L97.2 119.4 L97.9 119.3 L98.6 118.9 L99.3 118.6 L100 118.6 L100.7 118.6 L101.4 118.3 L102.1 118.1 L102.8 118.4 L103.5 118.6 L104.2 118.4 L104.9 118 L105.6 117.9 L106.3 117.9 L107 117.7 L107.7 117.3 L108.4 117.3 L109.1 117.7 L109.8 117.8 L110.5 117.7 L111.2 117.7 L111.9 117.9 L112.6 117.9 L113.3 117.6 L114 117.3 L114.7 117.4 L115.4 117.7 L116.1 117.7 L116.8 117.7 L117.5 117.9 L118.2 118.3 L118.9 118.2 L119.6 117.9 L120.3 117.7 L121 117.9 L121.7 118 L122.4 117.8 L123.1 117.8 L123.8 118.2 L124.5 118.6 L125.2 118.5 L125.9 118.2 L126.6 118.3 L127.3 118.4 L128 118.2 L128.7 117.9 L129.4 118 L130.1 118.4 L130.8 118.5 L131.5 118.4 L132.2 118.4 L132.9 118.6 L133.6 118.6 L134.3 118.2 L135 117.9 L135.7 118 L136.4 118.3 L137.1 118.3 L137.8 118.2 L138.5 118.4 L139.2 118.7 L139.9 118.6 L140.6 118.2 L141.3 118 L142 118.1 L142.7 118.2 L143.4 118 L144.1 118 L144.8 118.3 L145.5 118.6 L146.2 118.4 L146.9 118.2 L147.6 118.2 L148.3 118.3 L149 118 L149.7 117.7 L150.4 117.8 L151.1 118.2 L151.8 118.4 L152.5 118.2 L153.2 118.2 L153.9 118.4 L154.6 118.3 L155.3 117.9 L156 117.7 L156.7 117.8 L157.4 118.1 L158.1 118 L158.8 117.9 L159.5 118.2 L160.2 118.4 L160.9 118.3 L161.6 117.9 L162.3 117.7 L163 117.9 L163.7 117.8 L164.4 117.6 L165.1 117.6 L165.8 118 L166.5 118.2 L167.2 118 L167.9 117.8 L168.6 117.8 L169.3 117.8 L170 117.5 L170.7 117.2 L171.4 117.4 L172.1 117.7 L172.8 117.8 L173.5 117.6 L174.2 117.6 L174.9 117.8 L175.6 117.7 L176.3 117.3 L177 117" stroke="#e2e2e2" stroke-width="6" fill="none" stroke-linejoin="round"/>
<path d="M17.5 105.2 L17.8 107.4 L18.1 109.2 L18.4 110.3 L18.7 111.9 L19 113.3 L19.3 116.7 L19.6 117.6 L19.9 119.9 L20.2 120.7 L20.4 122.7 L20.7 123.2 L21 125.9 L21.3 128.5 L21.6 130.5 L21.9 131.5 L22.2 134.6 L22.5 135.2 L22.8 135 L23.1 134.5 L23.4 135.7 L23.9 135.7 L24.4 137.7 L24.9 137 L25.4 136.3 L25.9 135.8 L26.4 135.5 L26.9 136.6 L27.4 133.9 L27.9 133.4 L28.4 130.7 L28.9 124.8 L29.4 124.7 L29.9 122.4 L30.4 119.2 L30.9 115.5 L31.5 113.5 L32 112.2 L32.5 112.2 L33 113.2 L33.5 114.4 L34 113.3 L34.5 113.2 L35 114.5 L35.5 114.4 L36 113.6 L36.5 113.9 L37 113.6 L37.5 112.7 L38 112 L38.5 110 L39.1 108.9 L39.8 107.7 L40.4 107.5 L41 106.8 L41.6 108.5 L42.3 107.2 L42.9 107.8 L43.5 108.1 L44.2 109 L44.8 109.7 L45.4 111.2 L46.1 112.5 L46.7 113.3 L47.3 113.2 L48 114.1 L48.6 114.4 L49.2 115.9 L49.8 117.1 L50.5 118.8 L51.1 118.9 L51.7 119.4 L52.4 121.4 L53 121.8 L53.6 122.3 L54.2 122.8 L54.9 122.7 L55.5 123.1 L56.1 123.1 L56.8 123.9 L57.4 123.9 L57.9 123.3 L58.4 123.3 L58.9 123.5 L59.3 123.2 L59.8 123.5 L60.3 122.6 L60.8 122.3 L61.3 121.8 L61.8 121.4 L62.3 121.5 L62.8 121.3 L63.2 121.3 L63.7 121.3 L64.2 120.5 L64.7 120.1 L65.2 119.3 L65.7 118.9 L66.2 118.5 L66.6 117.5 L67.1 117 L67.6 116.1 L68.1 115.6 L68.6 115.9 L69.1 115.9 L69.6 115.9 L70.1 115.7 L70.5 115.7 L71 115.9 L71.5 115.8 L72 115.6 L72.7 115.9 L73.4 115.4 L74.1 115.7 L74.8 115.4 L75.5 114.8 L76.2 115.2 L76.9 115.5 L77.6 115.7 L78.3 116.2 L79 117.1 L79.7 117.8 L80.4 117.3 L81.1 117 L81.8 117.6 L82.5 118.1 L83.2 117.7 L83.9 117.3 L84.6 117.7 L85.3 118 L86 118 L86.7 118 L87.4 118.4 L88.1 118.6 L88.8 118.3 L89.5 118.2 L90.2 118.4 L90.9 118.3 L91.6 118.2 L92.3 118.3 L93 118.6 L93.7 118.2 L94.4 118.1 L95.1 117.7 L95.8 117.1 L96.5 117.1 L97.2 117.2 L97.9 117.7 L98.6 117.7 L99.3 117.2 L100 118.1 L100.7 118.3 L101.4 118 L102.1 117.7 L102.8 117.7 L103.5 117.5 L104.2 117.5 L104.9 117.1 L105.6 117.8 L106.3 117.7 L107 118.1 L107.7 118 L108.4 118.3 L109.1 118.2 L109.8 118.3 L110.5 117.7 L111.2 117.3 L111.9 117.5 L112.6 118.1 L113.3 117.3 L114 117.2 L114.7 117.1 L115.4 117.6 L116.1 117.3 L116.8 117 L117.5 117.2 L118.2 117.2 L118.9 117.2 L119.6 117.3 L120.3 117.8 L121 118 L121.7 118.3 L122.4 117.7 L123.1 117.4 L123.8 117.5 L124.5 117.7 L125.2 117.3 L125.9 117.5 L126.6 117.6 L127.3 118.1 L128 118 L128.7 118.5 L129.4 118.6 L130.1 118.7 L130.8 118.5 L131.5 118.4 L132.2 118.2 L132.9 118.4 L133.6 118.7 L134.3 118.1 L135 117.9 L135.7 118.1 L136.4 118.3 L137.1 117.9 L137.8 117.3 L138.5 117.6 L139.2 117.8 L139.9 117.6 L140.6 118 L141.3 118.1 L142 118.4 L142.7 118.6 L143.4 118.4 L144.1 118.2 L144.8 117.8 L145.5 117.9 L146.2 118.2 L146.9 117.8 L147.6 118.2 L148.3 118.9 L149 118.5 L149.7 118.1 L150.4 118.2 L151.1 118.5 L151.8 118.2 L152.5 117.7 L153.2 117.9 L153.9 118.4 L154.6 118.3 L155.3 118.8 L156 118.6 L156.7 118.6 L157.4 118.6 L158.1 118.2 L158.8 117.4 L159.5 117.4 L160.2 117.4 L160.9 117.1 L161.6 116.6 L162.3 117.1 L163 117.5 L163.7 117.5 L164.4 117.4 L165.1 117.6 L165.8 117.9 L166.5 117.8 L167.2 117.6 L167.9 117.7 L168.6 118 L169.3 118.9 L170 118.4 L170.7 118.3 L171.4 118 L172.1 117.8 L172.8 117.4 L173.5 117 L174.2 116.9 L174.9 117.1 L175.6 117 L176.3 117.2 L177 117.1" stroke="#c0c0c0" stroke-width="1.4" fill="none" opacity="0.3" stroke-linejoin="round"/>
<path d="M17.5 104.8 L17.8 107 L18.1 108.8 L18.4 111.1 L18.7 113.5 L19 115 L19.3 117.7 L19.6 122.5 L19.9 124.8 L20.2 125.5 L20.4 126.8 L20.7 129 L21 132.2 L21.3 132.2 L21.6 131.4 L21.9 131.9 L22.2 132.8 L22.5 134.2 L22.8 134.1 L23.1 134.9 L23.4 133.7 L23.9 130.6 L24.4 131.1 L24.9 132.6 L25.4 132.4 L25.9 130.6 L26.4 130.8 L26.9 130.2 L27.4 130.4 L27.9 129.7 L28.4 131.8 L28.9 129.8 L29.4 125.7 L29.9 124.7 L30.4 123 L30.9 120.9 L31.5 120.7 L32 116.3 L32.5 115.8 L33 114.7 L33.5 114.4 L34 116.8 L34.5 115.5 L35 114.2 L35.5 111.5 L36 109.2 L36.5 108.5 L37 109.4 L37.5 106.6 L38 106.1 L38.5 105.4 L39.1 104.6 L39.8 105.5 L40.4 107.3 L41 108.9 L41.6 110.8 L42.3 111.1 L42.9 111.5 L43.5 113 L44.2 113.9 L44.8 115.4 L45.4 116.3 L46.1 115.1 L46.7 115.7 L47.3 116.6 L48 116.6 L48.6 118 L49.2 119.5 L49.8 120 L50.5 120.9 L51.1 121.1 L51.7 122.5 L52.4 122.9 L53 122.8 L53.6 123.3 L54.2 123.7 L54.9 123.3 L55.5 123.3 L56.1 123 L56.8 123.5 L57.4 123.8 L57.9 123.8 L58.4 124.1 L58.9 124.3 L59.3 123.7 L59.8 123.4 L60.3 123.6 L60.8 123.4 L61.3 122.9 L61.8 123.2 L62.3 122.5 L62.8 122.1 L63.2 121.6 L63.7 121.8 L64.2 121.4 L64.7 120.4 L65.2 119.8 L65.7 119.3 L66.2 117.9 L66.6 118.2 L67.1 117.5 L67.6 117.3 L68.1 116.7 L68.6 116.4 L69.1 116.5 L69.6 116.1 L70.1 115.9 L70.5 116.2 L71 115.6 L71.5 115.8 L72 115.9 L72.7 116.3 L73.4 115.9 L74.1 115.8 L74.8 116.6 L75.5 117.1 L76.2 117 L76.9 117.3 L77.6 117.8 L78.3 118.1 L79 117.7 L79.7 117.8 L80.4 117.9 L81.1 117.8 L81.8 117.8 L82.5 117.9 L83.2 118.4 L83.9 118.6 L84.6 119.1 L85.3 119 L86 119 L86.7 118.9 L87.4 118.8 L88.1 118.5 L88.8 117.8 L89.5 117.2 L90.2 117.6 L90.9 118 L91.6 117.8 L92.3 117.7 L93 117.7 L93.7 118.2 L94.4 118.1 L95.1 118.2 L95.8 118.1 L96.5 118.1 L97.2 117.8 L97.9 118.2 L98.6 118.4 L99.3 119.2 L100 119 L100.7 118.8 L101.4 118.5 L102.1 119.2 L102.8 119.3 L103.5 119 L104.2 118.9 L104.9 119.3 L105.6 119.3 L106.3 119.3 L107 118.7 L107.7 118.8 L108.4 118.2 L109.1 118.1 L109.8 117.6 L110.5 117.5 L111.2 117.7 L111.9 117.9 L112.6 117.2 L113.3 117.3 L114 117.3 L114.7 117.7 L115.4 117.1 L116.1 116.9 L116.8 117.2 L117.5 117.3 L118.2 117.4 L118.9 117.1 L119.6 117.3 L120.3 117.5 L121 117.2 L121.7 116.7 L122.4 116.9 L123.1 117.2 L123.8 117.2 L124.5 116.7 L125.2 117.1 L125.9 117.7 L126.6 118.6 L127.3 118.6 L128 118.5 L128.7 118.5 L129.4 118.6 L130.1 118.3 L130.8 118.6 L131.5 119 L132.2 119.4 L132.9 119 L133.6 118.9 L134.3 118.9 L135 118.8 L135.7 118.5 L136.4 118.2 L137.1 117.5 L137.8 117.5 L138.5 117.9 L139.2 117.9 L139.9 117.8 L140.6 118.4 L141.3 119.2 L142 118.9 L142.7 118.1 L143.4 118.2 L144.1 118.5 L144.8 118.7 L145.5 118.6 L146.2 118.8 L146.9 118.9 L147.6 118.5 L148.3 118.7 L149 118.8 L149.7 118.5 L150.4 118.4 L151.1 117.6 L151.8 117 L152.5 117.1 L153.2 117.4 L153.9 117.9 L154.6 117.6 L155.3 117.5 L156 117.6 L156.7 117.9 L157.4 117.7 L158.1 117.8 L158.8 117.7 L159.5 118 L160.2 117.5 L160.9 117.5 L161.6 118.2 L162.3 118.8 L163 118.6 L163.7 117.8 L164.4 117.8 L165.1 118.1 L165.8 118.3 L166.5 118.5 L167.2 118.2 L167.9 118.5 L168.6 118.4 L169.3 117.9 L170 118.2 L170.7 118 L171.4 117.7 L172.1 116.9 L172.8 116.2 L173.5 116.8 L174.2 117.4 L174.9 117.4 L175.6 117.3 L176.3 117.3 L177 117.4" stroke="#c0c0c0" stroke-width="1.4" fill="none" opacity="0.3" stroke-linejoin="round"/>
<path d="M17.5 103.6 L17.8 106.6 L18.1 109.3 L18.4 111.9 L18.7 115.1 L19 115.5 L19.3 117.3 L19.6 120.5 L19.9 123.2 L20.2 125.5 L20.4 126.7 L20.7 129 L21 129.8 L21.3 130.4 L21.6 132.5 L21.9 135.2 L22.2 136.8 L22.5 137.9 L22.8 140.5 L23.1 139.7 L23.4 138.1 L23.9 139.3 L24.4 138.5 L24.9 137.3 L25.4 136.2 L25.9 134.9 L26.4 133.1 L26.9 131.3 L27.4 132.4 L27.9 129.9 L28.4 125.6 L28.9 125.4 L29.4 123.7 L29.9 123.7 L30.4 124.7 L30.9 123.5 L31.5 121 L32 118.1 L32.5 118.7 L33 119.4 L33.5 116.4 L34 116.3 L34.5 111.8 L35 108.4 L35.5 107.7 L36 108.4 L36.5 107.9 L37 107.5 L37.5 106.3 L38 107 L38.5 107.3 L39.1 109.8 L39.8 109.6 L40.4 110.9 L41 111.1 L41.6 110.8 L42.3 109.1 L42.9 109.6 L43.5 110.1 L44.2 110.4 L44.8 110.3 L45.4 110.8 L46.1 111.1 L46.7 111 L47.3 111.2 L48 113.3 L48.6 115.3 L49.2 115.8 L49.8 116.9 L50.5 118.1 L51.1 119.1 L51.7 119.7 L52.4 120.3 L53 121.8 L53.6 122.9 L54.2 123 L54.9 123.3 L55.5 123.9 L56.1 123.5 L56.8 124.1 L57.4 124.1 L57.9 124.5 L58.4 124.5 L58.9 124 L59.3 124.1 L59.8 124.2 L60.3 123.3 L60.8 123.4 L61.3 122.3 L61.8 121.9 L62.3 121 L62.8 120.5 L63.2 120.3 L63.7 119.8 L64.2 119.4 L64.7 118.5 L65.2 118 L65.7 118.3 L66.2 117.8 L66.6 117.9 L67.1 117.4 L67.6 117.2 L68.1 116.3 L68.6 115.9 L69.1 116.2 L69.6 116.2 L70.1 115.7 L70.5 115.7 L71 115 L71.5 115.5 L72 115.4 L72.7 115.5 L73.4 115.9 L74.1 116.2 L74.8 116.5 L75.5 116.8 L76.2 117.1 L76.9 118.1 L77.6 118.1 L78.3 117.8 L79 117.7 L79.7 117.3 L80.4 118 L81.1 118.2 L81.8 117.9 L82.5 117.6 L83.2 118.2 L83.9 118.6 L84.6 118.5 L85.3 118.2 L86 118.7 L86.7 118.7 L87.4 118.2 L88.1 117.9 L88.8 118.5 L89.5 118.5 L90.2 118.9 L90.9 119.4 L91.6 119.2 L92.3 119.3 L93 119.3 L93.7 119.3 L94.4 119.7 L95.1 120.3 L95.8 120.8 L96.5 120.3 L97.2 120.2 L97.9 121 L98.6 120.9 L99.3 120.2 L100 119.1 L100.7 118.8 L101.4 118.6 L102.1 118.3 L102.8 118 L103.5 117.4 L104.2 117.5 L104.9 117.7 L105.6 117.4 L106.3 117.5 L107 117.4 L107.7 117.3 L108.4 116.6 L109.1 116.1 L109.8 117 L110.5 117.2 L111.2 117.3 L111.9 117.3 L112.6 117.5 L113.3 118.1 L114 117.7 L114.7 117.4 L115.4 117.2 L116.1 117.4 L116.8 117.7 L117.5 117.7 L118.2 117.8 L118.9 118.7 L119.6 118.6 L120.3 118.5 L121 118.2 L121.7 118.8 L122.4 118.4 L123.1 118.3 L123.8 117.7 L124.5 117.6 L125.2 117.8 L125.9 117.6 L126.6 117.4 L127.3 117.5 L128 117.2 L128.7 117.6 L129.4 117.1 L130.1 117.3 L130.8 117.7 L131.5 118 L132.2 118.1 L132.9 118.2 L133.6 118.5 L134.3 118.9 L135 119 L135.7 119 L136.4 119 L137.1 119.2 L137.8 119.2 L138.5 119.1 L139.2 119.2 L139.9 119.5 L140.6 119.9 L141.3 119.4 L142 118.8 L142.7 118.6 L143.4 118.9 L144.1 118.5 L144.8 118.2 L145.5 118.3 L146.2 118.5 L146.9 118.5 L147.6 117.8 L148.3 118 L149 117.8 L149.7 117.5 L150.4 117.5 L151.1 117.4 L151.8 117.8 L152.5 118.6 L153.2 118.3 L153.9 118.4 L154.6 118 L155.3 118.6 L156 118.8 L156.7 118.2 L157.4 118.2 L158.1 119 L158.8 118.6 L159.5 118.5 L160.2 118.7 L160.9 119.3 L161.6 119.4 L162.3 119.1 L163 119 L163.7 119.2 L164.4 118.5 L165.1 118.1 L165.8 118.5 L166.5 118.5 L167.2 118.8 L167.9 118.6 L168.6 117.7 L169.3 117.2 L170 116.8 L170.7 116.5 L171.4 116.2 L172.1 115.6 L172.8 116.2 L173.5 116.9 L174.2 116.7 L174.9 116.9 L175.6 117.4 L176.3 117.7 L177 117.7" stroke="#c0c0c0" stroke-width="1.4" fill="none" opacity="0.3" stroke-linejoin="round"/>
<path d="M17.5 105.2 L17.8 108.8 L18.1 111.5 L18.4 113.1 L18.7 114.6 L19 117.2 L19.3 119.2 L19.6 119.5 L19.9 118.8 L20.2 122.1 L20.4 121.4 L20.7 123.7 L21 127.8 L21.3 129.6 L21.6 132.3 L21.9 133.4 L22.2 137.4 L22.5 140.7 L22.8 139.1 L23.1 139.9 L23.4 138.4 L23.9 136.7 L24.4 138.2 L24.9 134.7 L25.4 134.6 L25.9 134.9 L26.4 132.8 L26.9 132.9 L27.4 132.4 L27.9 130.2 L28.4 129.4 L28.9 126.8 L29.4 128.2 L29.9 128 L30.4 125.5 L30.9 124.1 L31.5 123.7 L32 120.2 L32.5 121.1 L33 119.2 L33.5 118.1 L34 115.5 L34.5 113.2 L35 111.2 L35.5 110.4 L36 109.3 L36.5 110.1 L37 108.4 L37.5 108.5 L38 107.3 L38.5 107.1 L39.1 106.6 L39.8 105.6 L40.4 105.9 L41 105.7 L41.6 106.2 L42.3 107.4 L42.9 106.9 L43.5 107.7 L44.2 109.3 L44.8 110.5 L45.4 111.7 L46.1 111.8 L46.7 112.8 L47.3 115 L48 115.8 L48.6 117 L49.2 118.3 L49.8 118.2 L50.5 118.7 L51.1 119.3 L51.7 120.9 L52.4 120.9 L53 121.5 L53.6 121.5 L54.2 121.9 L54.9 121.4 L55.5 121.7 L56.1 122.2 L56.8 122.6 L57.4 122 L57.9 122.2 L58.4 121.3 L58.9 121.8 L59.3 121.6 L59.8 122.3 L60.3 122.5 L60.8 122.6 L61.3 122.4 L61.8 122.3 L62.3 122.1 L62.8 122.2 L63.2 121.5 L63.7 121.4 L64.2 121 L64.7 120.6 L65.2 120 L65.7 119.3 L66.2 118.8 L66.6 118.3 L67.1 117.6 L67.6 117.5 L68.1 117.1 L68.6 116.5 L69.1 116 L69.6 115.6 L70.1 115.9 L70.5 116.2 L71 116.4 L71.5 116.5 L72 115.9 L72.7 116.1 L73.4 116.8 L74.1 117.5 L74.8 117.8 L75.5 117.6 L76.2 117.7 L76.9 118.2 L77.6 117.8 L78.3 117.3 L79 117.5 L79.7 117.7 L80.4 117.4 L81.1 117.5 L81.8 117.7 L82.5 118.2 L83.2 117.8 L83.9 118 L84.6 118.3 L85.3 118.4 L86 118.4 L86.7 118.3 L87.4 118 L88.1 118.6 L88.8 119.2 L89.5 119.2 L90.2 119 L90.9 119 L91.6 119.1 L92.3 118.6 L93 118.1 L93.7 118.3 L94.4 118.8 L95.1 118.8 L95.8 118.9 L96.5 118.8 L97.2 119.5 L97.9 119.3 L98.6 119.1 L99.3 119.1 L100 119.3 L100.7 119.4 L101.4 119.3 L102.1 119.1 L102.8 119.7 L103.5 119.7 L104.2 120.1 L104.9 119.6 L105.6 119.1 L106.3 118.9 L107 118.6 L107.7 118.4 L108.4 118 L109.1 118.1 L109.8 118.4 L110.5 118 L111.2 117.7 L111.9 117.9 L112.6 118.1 L113.3 117.9 L114 117.1 L114.7 117.2 L115.4 117.7 L116.1 117.6 L116.8 117.7 L117.5 118.2 L118.2 118.5 L118.9 118.1 L119.6 117.5 L120.3 117.9 L121 118.4 L121.7 118.6 L122.4 118.2 L123.1 118 L123.8 118.5 L124.5 118.6 L125.2 118.6 L125.9 118.5 L126.6 117.7 L127.3 117.7 L128 117.3 L128.7 117.7 L129.4 117.8 L130.1 118.1 L130.8 118.7 L131.5 119.2 L132.2 119 L132.9 119.7 L133.6 119.5 L134.3 118.9 L135 118.1 L135.7 118.3 L136.4 118.3 L137.1 118 L137.8 117.6 L138.5 117.8 L139.2 118 L139.9 118.6 L140.6 118.5 L141.3 118.5 L142 118.4 L142.7 118.9 L143.4 118.8 L144.1 118.6 L144.8 118.8 L145.5 119.2 L146.2 118.3 L146.9 117.8 L147.6 117.5 L148.3 117.6 L149 116.9 L149.7 116.6 L150.4 116.6 L151.1 117.1 L151.8 117.2 L152.5 117.1 L153.2 117.1 L153.9 116.8 L154.6 117.5 L155.3 117.3 L156 117 L156.7 117.4 L157.4 117.6 L158.1 117.6 L158.8 117.3 L159.5 117.4 L160.2 118.4 L160.9 118 L161.6 117.8 L162.3 117.5 L163 117.7 L163.7 118.2 L164.4 118.2 L165.1 118.7 L165.8 119.5 L166.5 119.2 L167.2 119 L167.9 118.7 L168.6 118.9 L169.3 118.6 L170 117.8 L170.7 117.4 L171.4 117.6 L172.1 117.8 L172.8 118.4 L173.5 118.1 L174.2 117.7 L174.9 117.9 L175.6 118 L176.3 117.6 L177 117.2" stroke="#c0c0c0" stroke-width="1.4" fill="none" opacity="0.3" stroke-linejoin="round"/>
<path d="M17.5 107.8 L17.8 109.2 L18.1 110.7 L18.4 113.1 L18.7 113.9 L19 115.5 L19.3 116.6 L19.6 116.3 L19.9 117.2 L20.2 120 L20.4 123 L20.7 126.9 L21 129 L21.3 131.5 L21.6 133.1 L21.9 134.8 L22.2 138.5 L22.5 138.9 L22.8 139 L23.1 138 L23.4 136.9 L23.9 137.1 L24.4 138.3 L24.9 138.5 L25.4 139.8 L25.9 136.3 L26.4 135.5 L26.9 133.5 L27.4 133.4 L27.9 131.1 L28.4 126.5 L28.9 124.5 L29.4 121.3 L29.9 119.3 L30.4 118 L30.9 115.9 L31.5 115.9 L32 115.6 L32.5 115 L33 115.1 L33.5 112.4 L34 113.5 L34.5 110.6 L35 110.7 L35.5 112.9 L36 111.3 L36.5 107.8 L37 108 L37.5 108.6 L38 111.1 L38.5 108.8 L39.1 110.5 L39.8 108.7 L40.4 107.6 L41 109.3 L41.6 112 L42.3 111.8 L42.9 111.6 L43.5 111.1 L44.2 112.2 L44.8 112.4 L45.4 114.3 L46.1 114.2 L46.7 113.9 L47.3 114.5 L48 114.8 L48.6 116.3 L49.2 117.7 L49.8 118.5 L50.5 119.6 L51.1 120.3 L51.7 120.7 L52.4 122 L53 122.6 L53.6 123.2 L54.2 123.3 L54.9 123 L55.5 123.9 L56.1 123.8 L56.8 124.2 L57.4 124.8 L57.9 123.9 L58.4 123.8 L58.9 123.9 L59.3 123.9 L59.8 124.4 L60.3 123.9 L60.8 123.7 L61.3 123.1 L61.8 122.6 L62.3 122.9 L62.8 122.6 L63.2 121.7 L63.7 120.9 L64.2 120 L64.7 119.7 L65.2 119.3 L65.7 119.2 L66.2 119.2 L66.6 118.4 L67.1 117.6 L67.6 117.9 L68.1 117.5 L68.6 117.1 L69.1 116.3 L69.6 116.2 L70.1 115.5 L70.5 115.3 L71 115.6 L71.5 115.7 L72 115.6 L72.7 116.3 L73.4 117 L74.1 117.6 L74.8 118 L75.5 118.4 L76.2 118.2 L76.9 117.7 L77.6 117.8 L78.3 118 L79 117.9 L79.7 117.2 L80.4 116.8 L81.1 117.2 L81.8 117.9 L82.5 117.9 L83.2 117.9 L83.9 117.8 L84.6 118.3 L85.3 118.7 L86 118.7 L86.7 118.9 L87.4 119.4 L88.1 119.4 L88.8 119.6 L89.5 119.4 L90.2 119.5 L90.9 118.9 L91.6 118 L92.3 117.9 L93 118.2 L93.7 118.5 L94.4 118.3 L95.1 117.3 L95.8 117.7 L96.5 117.7 L97.2 117.1 L97.9 117.2 L98.6 117.3 L99.3 117.5 L100 117.4 L100.7 117.2 L101.4 117.5 L102.1 117.9 L102.8 117.9 L103.5 118.1 L104.2 118.1 L104.9 117.8 L105.6 118.1 L106.3 118 L107 117.9 L107.7 118.2 L108.4 118.5 L109.1 118.6 L109.8 118.2 L110.5 117.8 L111.2 117.5 L111.9 117.4 L112.6 117 L113.3 116.8 L114 117.2 L114.7 117.3 L115.4 117.3 L116.1 117.7 L116.8 117.8 L117.5 118.3 L118.2 117.9 L118.9 117.5 L119.6 117.4 L120.3 117.6 L121 118 L121.7 118 L122.4 118.3 L123.1 118.7 L123.8 119.1 L124.5 119.3 L125.2 119.1 L125.9 119.2 L126.6 119.5 L127.3 118.8 L128 118.7 L128.7 118.9 L129.4 119.7 L130.1 119.4 L130.8 118.9 L131.5 118.6 L132.2 118.5 L132.9 117.7 L133.6 117.7 L134.3 117.6 L135 117.7 L135.7 117.8 L136.4 117.9 L137.1 117.7 L137.8 117.8 L138.5 118.5 L139.2 118.2 L139.9 117.8 L140.6 117.7 L141.3 118.3 L142 118.5 L142.7 118.2 L143.4 118.6 L144.1 119.6 L144.8 119.7 L145.5 119.4 L146.2 118.8 L146.9 118.8 L147.6 118.1 L148.3 117.2 L149 117 L149.7 117.1 L150.4 117.2 L151.1 117.4 L151.8 117.5 L152.5 117.8 L153.2 117.7 L153.9 117.9 L154.6 117.3 L155.3 117.3 L156 117.9 L156.7 118 L157.4 117.5 L158.1 117.6 L158.8 117.8 L159.5 118 L160.2 117.6 L160.9 118 L161.6 118.2 L162.3 118.2 L163 118.2 L163.7 118.2 L164.4 118.1 L165.1 118.9 L165.8 119.6 L166.5 119.2 L167.2 118.7 L167.9 118.3 L168.6 117.9 L169.3 117.5 L170 117.3 L170.7 117.9 L171.4 117.9 L172.1 117.4 L172.8 117.4 L173.5 117.9 L174.2 118.2 L174.9 118.3 L175.6 117.9 L176.3 117.7 L177 117.9" stroke="#c0c0c0" stroke-width="1.4" fill="none" opacity="0.3" stroke-linejoin="round"/>
<path d="M17.5 107.7 L17.8 109.7 L18.1 112.2 L18.4 115.2 L18.7 117.5 L19 121.1 L19.3 122.2 L19.6 123.7 L19.9 124 L20.2 127.4 L20.4 129.2 L20.7 131.3 L21 131.5 L21.3 134.8 L21.6 134.8 L21.9 134.2 L22.2 133.7 L22.5 136.1 L22.8 134 L23.1 135.3 L23.4 134.6 L23.9 133.2 L24.4 129.7 L24.9 128.8 L25.4 129.9 L25.9 130 L26.4 128.4 L26.9 127.3 L27.4 124.8 L27.9 124.5 L28.4 125 L28.9 124 L29.4 122.9 L29.9 123.1 L30.4 121.9 L30.9 118.8 L31.5 119.5 L32 119.3 L32.5 116.8 L33 114.7 L33.5 114.3 L34 110.4 L34.5 108.5 L35 106.6 L35.5 107.5 L36 106.8 L36.5 105.7 L37 105.1 L37.5 104.7 L38 105 L38.5 107 L39.1 106.5 L39.8 106.9 L40.4 108 L41 107.2 L41.6 108.7 L42.3 108.5 L42.9 109.8 L43.5 109.3 L44.2 110.5 L44.8 111.4 L45.4 112.1 L46.1 113.2 L46.7 114.6 L47.3 115 L48 116.3 L48.6 117 L49.2 118.3 L49.8 119.1 L50.5 119 L51.1 119.4 L51.7 119.8 L52.4 119.9 L53 120.4 L53.6 121.1 L54.2 122 L54.9 122.3 L55.5 122.3 L56.1 123.3 L56.8 124 L57.4 123.8 L57.9 123.9 L58.4 124 L58.9 123.5 L59.3 123 L59.8 122.8 L60.3 122.8 L60.8 122.4 L61.3 122 L61.8 121.5 L62.3 121.1 L62.8 120.5 L63.2 120.5 L63.7 120.2 L64.2 119.6 L64.7 119.3 L65.2 118.9 L65.7 118.6 L66.2 118.4 L66.6 118.2 L67.1 118.1 L67.6 118.2 L68.1 117.9 L68.6 117.8 L69.1 117.9 L69.6 117.2 L70.1 117 L70.5 116.9 L71 116.9 L71.5 116.4 L72 116.1 L72.7 116 L73.4 115.9 L74.1 116.2 L74.8 117.1 L75.5 116.7 L76.2 116.4 L76.9 116.1 L77.6 116.6 L78.3 117 L79 117.3 L79.7 117.9 L80.4 118 L81.1 117.9 L81.8 117.6 L82.5 117.2 L83.2 117.9 L83.9 118 L84.6 117.3 L85.3 117.1 L86 118 L86.7 118.7 L87.4 119 L88.1 119.3 L88.8 119.5 L89.5 119.5 L90.2 119 L90.9 119.3 L91.6 119.3 L92.3 119 L93 119.1 L93.7 119.2 L94.4 118.8 L95.1 118.8 L95.8 118.8 L96.5 118.7 L97.2 117.9 L97.9 118.3 L98.6 118.6 L99.3 118.3 L100 117.8 L100.7 118.2 L101.4 119 L102.1 119.2 L102.8 118.4 L103.5 118 L104.2 117.4 L104.9 117.4 L105.6 117.2 L106.3 117 L107 117.5 L107.7 117.8 L108.4 117.5 L109.1 117.4 L109.8 118 L110.5 118.4 L111.2 118.6 L111.9 118.1 L112.6 118 L113.3 118.2 L114 118 L114.7 118 L115.4 118.2 L116.1 118.5 L116.8 118.4 L117.5 118 L118.2 117.7 L118.9 117.9 L119.6 118.2 L120.3 118.6 L121 118.5 L121.7 118.8 L122.4 118.9 L123.1 119.3 L123.8 118.4 L124.5 118.4 L125.2 119.2 L125.9 119.4 L126.6 118.9 L127.3 119.1 L128 119.5 L128.7 119.8 L129.4 119.3 L130.1 119.2 L130.8 119.6 L131.5 119.3 L132.2 119 L132.9 118.5 L133.6 118.3 L134.3 118.7 L135 119.2 L135.7 118.8 L136.4 119 L137.1 119.3 L137.8 119.1 L138.5 117.9 L139.2 117.8 L139.9 117.6 L140.6 117.5 L141.3 117.3 L142 117.4 L142.7 118.1 L143.4 118.4 L144.1 118.4 L144.8 118.1 L145.5 118 L146.2 118.6 L146.9 119 L147.6 118.2 L148.3 118.7 L149 118.8 L149.7 118.8 L150.4 119 L151.1 119.2 L151.8 118.8 L152.5 119 L153.2 118.8 L153.9 118.4 L154.6 118.2 L155.3 118.5 L156 118.7 L156.7 118.7 L157.4 118.9 L158.1 119.7 L158.8 119.6 L159.5 118.9 L160.2 119.3 L160.9 119.3 L161.6 119.2 L162.3 119.1 L163 118.9 L163.7 119 L164.4 119 L165.1 119 L165.8 118.6 L166.5 118.1 L167.2 118.1 L167.9 118 L168.6 117.8 L169.3 117.3 L170 117.2 L170.7 117.7 L171.4 117.2 L172.1 116.7 L172.8 117 L173.5 117.1 L174.2 116.7 L174.9 116.3 L175.6 116.6 L176.3 117.3 L177 117.2" stroke="#c0c0c0" stroke-width="1.4" fill="none" opacity="0.3" stroke-linejoin="round"/>
</g>
<g filter="url(#blur1)">
<path d="M17.5 148.2 L17.8 149.9 L18.1 151.7 L18.4 153.5 L18.7 155.3 L19 157.2 L19.3 159.1 L19.6 161 L19.9 162.8 L20.2 164.6 L20.4 166.3 L20.7 167.9 L21 169.3 L21.3 170.7 L21.6 171.8 L21.9 172.9 L22.2 173.7 L22.5 174.4 L22.8 174.9 L23.1 175.2 L23.4 175.3 L24 175.2 L24.6 175 L25.2 174.7 L25.8 174.2 L26.3 173.6 L26.9 172.9 L27.5 172.1 L28.1 171.2 L28.7 170.2 L29.3 169.1 L29.9 167.9 L30.5 166.7 L31.1 165.4 L31.7 164.2 L32.2 162.9 L32.8 161.5 L33.4 160.3 L34 159 L34.6 157.8 L35.2 156.6 L35.8 155.5 L36.4 154.5 L37 153.6 L37.6 152.8 L38.1 152.1 L38.7 151.5 L39.3 151 L39.9 150.7 L40.5 150.5 L41.1 150.4 L41.7 150.4 L42.3 150.5 L42.9 150.7 L43.5 150.9 L44.1 151.2 L44.7 151.6 L45.3 152 L45.8 152.5 L46.4 153 L47 153.5 L47.6 154.1 L48.2 154.7 L48.8 155.3 L49.4 156 L50 156.6 L50.6 157.2 L51.2 157.9 L51.8 158.5 L52.4 159.1 L53 159.7 L53.6 160.2 L54.2 160.7 L54.7 161.2 L55.3 161.6 L55.9 162 L56.5 162.3 L57.1 162.5 L57.7 162.7 L58.3 162.8 L58.9 162.8 L59.4 162.8 L59.9 162.7 L60.4 162.7 L60.9 162.6 L61.5 162.5 L62 162.4 L62.5 162.2 L63 162 L63.5 161.9 L64 161.7 L64.5 161.4 L65 161.2 L65.5 161 L66 160.7 L66.5 160.5 L67.1 160.3 L67.6 160 L68.1 159.8 L68.6 159.6 L69.1 159.3 L69.6 159.1 L70.1 159 L70.6 158.8 L71.1 158.6 L71.7 158.5 L72.2 158.4 L72.7 158.3 L73.2 158.3 L73.7 158.2 L74.2 158.2 L74.9 158.7 L75.6 159.1 L76.3 159.1 L77 159 L77.7 159.1 L78.4 159.5 L79.1 159.7 L79.8 159.7 L80.5 160 L81.2 160.6 L81.9 160.8 L82.6 160.7 L83.3 160.6 L84 160.8 L84.7 160.9 L85.4 160.7 L86.1 160.5 L86.8 160.8 L87.5 161.2 L88.2 161.2 L88.9 161 L89.6 161 L90.3 161.1 L91 160.9 L91.7 160.4 L92.4 160.2 L93.1 160.4 L93.8 160.5 L94.5 160.3 L95.2 160.2 L95.9 160.4 L96.6 160.5 L97.3 160.2 L98 159.8 L98.7 159.7 L99.4 159.8 L100.1 159.8 L100.8 159.6 L101.5 159.8 L102.2 160.2 L102.9 160.3 L103.6 160.1 L104.3 159.9 L105 160 L105.7 160 L106.4 159.7 L107.1 159.6 L107.8 159.9 L108.5 160.3 L109.2 160.3 L109.9 160.1 L110.6 160.2 L111.3 160.4 L112 160.2 L112.7 159.8 L113.4 159.8 L114.1 160.1 L114.8 160.3 L115.5 160.2 L116.2 160.2 L116.9 160.5 L117.6 160.7 L118.3 160.4 L119 160.1 L119.7 160.1 L120.4 160.2 L121.1 160.2 L121.8 160 L122.5 160.2 L123.2 160.7 L123.9 160.7 L124.6 160.4 L125.3 160.3 L126 160.4 L126.7 160.4 L127.4 160.1 L128.1 160 L128.8 160.3 L129.5 160.6 L130.2 160.6 L130.9 160.4 L131.6 160.5 L132.3 160.7 L133 160.5 L133.7 160.1 L134.4 160 L135.1 160.3 L135.8 160.5 L136.5 160.4 L137.2 160.4 L137.9 160.7 L138.6 160.9 L139.3 160.5 L140 160.2 L140.7 160.3 L141.4 160.4 L142.1 160.3 L142.8 160.2 L143.5 160.4 L144.2 160.8 L144.9 160.9 L145.6 160.6 L146.3 160.4 L147 160.5 L147.7 160.5 L148.4 160.2 L149.1 160.1 L149.8 160.4 L150.5 160.8 L151.2 160.7 L151.9 160.5 L152.6 160.7 L153.3 160.8 L154 160.5 L154.7 160.1 L155.4 160.1 L156.1 160.4 L156.8 160.6 L157.5 160.4 L158.2 160.5 L158.9 160.8 L159.6 160.9 L160.3 160.5 L161 160.2 L161.7 160.2 L162.4 160.4 L163.1 160.2 L163.8 160.1 L164.5 160.3 L165.2 160.7 L165.9 160.7 L166.6 160.4 L167.3 160.2 L168 160.3 L168.7 160.2 L169.4 159.9 L170.1 159.8 L170.8 160.1 L171.5 160.4 L172.2 160.3 L172.9 160.1 L173.6 160.2 L174.3 160.3 L175 160 L175.7 159.6 L176.4 159.6 L177.1 159.9" stroke="#f0f0f0" stroke-width="13" fill="none" stroke-linejoin="round"/>
<path d="M17.5 148.2 L17.8 149.9 L18.1 151.7 L18.4 153.5 L18.7 155.3 L19 157.2 L19.3 159.1 L19.6 161 L19.9 162.8 L20.2 164.6 L20.4 166.3 L20.7 167.9 L21 169.3 L21.3 170.7 L21.6 171.8 L21.9 172.9 L22.2 173.7 L22.5 174.4 L22.8 174.9 L23.1 175.2 L23.4 175.3 L24 175.2 L24.6 175 L25.2 174.7 L25.8 174.2 L26.3 173.6 L26.9 172.9 L27.5 172.1 L28.1 171.2 L28.7 170.2 L29.3 169.1 L29.9 167.9 L30.5 166.7 L31.1 165.4 L31.7 164.2 L32.2 162.9 L32.8 161.5 L33.4 160.3 L34 159 L34.6 157.8 L35.2 156.6 L35.8 155.5 L36.4 154.5 L37 153.6 L37.6 152.8 L38.1 152.1 L38.7 151.5 L39.3 151 L39.9 150.7 L40.5 150.5 L41.1 150.4 L41.7 150.4 L42.3 150.5 L42.9 150.7 L43.5 150.9 L44.1 151.2 L44.7 151.6 L45.3 152 L45.8 152.5 L46.4 153 L47 153.5 L47.6 154.1 L48.2 154.7 L48.8 155.3 L49.4 156 L50 156.6 L50.6 157.2 L51.2 157.9 L51.8 158.5 L52.4 159.1 L53 159.7 L53.6 160.2 L54.2 160.7 L54.7 161.2 L55.3 161.6 L55.9 162 L56.5 162.3 L57.1 162.5 L57.7 162.7 L58.3 162.8 L58.9 162.8 L59.4 162.8 L59.9 162.7 L60.4 162.7 L60.9 162.6 L61.5 162.5 L62 162.4 L62.5 162.2 L63 162 L63.5 161.9 L64 161.7 L64.5 161.4 L65 161.2 L65.5 161 L66 160.7 L66.5 160.5 L67.1 160.3 L67.6 160 L68.1 159.8 L68.6 159.6 L69.1 159.3 L69.6 159.1 L70.1 159 L70.6 158.8 L71.1 158.6 L71.7 158.5 L72.2 158.4 L72.7 158.3 L73.2 158.3 L73.7 158.2 L74.2 158.2 L74.9 158.7 L75.6 159.1 L76.3 159.1 L77 159 L77.7 159.1 L78.4 159.5 L79.1 159.7 L79.8 159.7 L80.5 160 L81.2 160.6 L81.9 160.8 L82.6 160.7 L83.3 160.6 L84 160.8 L84.7 160.9 L85.4 160.7 L86.1 160.5 L86.8 160.8 L87.5 161.2 L88.2 161.2 L88.9 161 L89.6 161 L90.3 161.1 L91 160.9 L91.7 160.4 L92.4 160.2 L93.1 160.4 L93.8 160.5 L94.5 160.3 L95.2 160.2 L95.9 160.4 L96.6 160.5 L97.3 160.2 L98 159.8 L98.7 159.7 L99.4 159.8 L100.1 159.8 L100.8 159.6 L101.5 159.8 L102.2 160.2 L102.9 160.3 L103.6 160.1 L104.3 159.9 L105 160 L105.7 160 L106.4 159.7 L107.1 159.6 L107.8 159.9 L108.5 160.3 L109.2 160.3 L109.9 160.1 L110.6 160.2 L111.3 160.4 L112 160.2 L112.7 159.8 L113.4 159.8 L114.1 160.1 L114.8 160.3 L115.5 160.2 L116.2 160.2 L116.9 160.5 L117.6 160.7 L118.3 160.4 L119 160.1 L119.7 160.1 L120.4 160.2 L121.1 160.2 L121.8 160 L122.5 160.2 L123.2 160.7 L123.9 160.7 L124.6 160.4 L125.3 160.3 L126 160.4 L126.7 160.4 L127.4 160.1 L128.1 160 L128.8 160.3 L129.5 160.6 L130.2 160.6 L130.9 160.4 L131.6 160.5 L132.3 160.7 L133 160.5 L133.7 160.1 L134.4 160 L135.1 160.3 L135.8 160.5 L136.5 160.4 L137.2 160.4 L137.9 160.7 L138.6 160.9 L139.3 160.5 L140 160.2 L140.7 160.3 L141.4 160.4 L142.1 160.3 L142.8 160.2 L143.5 160.4 L144.2 160.8 L144.9 160.9 L145.6 160.6 L146.3 160.4 L147 160.5 L147.7 160.5 L148.4 160.2 L149.1 160.1 L149.8 160.4 L150.5 160.8 L151.2 160.7 L151.9 160.5 L152.6 160.7 L153.3 160.8 L154 160.5 L154.7 160.1 L155.4 160.1 L156.1 160.4 L156.8 160.6 L157.5 160.4 L158.2 160.5 L158.9 160.8 L159.6 160.9 L160.3 160.5 L161 160.2 L161.7 160.2 L162.4 160.4 L163.1 160.2 L163.8 160.1 L164.5 160.3 L165.2 160.7 L165.9 160.7 L166.6 160.4 L167.3 160.2 L168 160.3 L168.7 160.2 L169.4 159.9 L170.1 159.8 L170.8 160.1 L171.5 160.4 L172.2 160.3 L172.9 160.1 L173.6 160.2 L174.3 160.3 L175 160 L175.7 159.6 L176.4 159.6 L177.1 159.9" stroke="#e2e2e2" stroke-width="6" fill="none" stroke-linejoin="round"/>
<path d="M17.5 147.2 L17.8 148.4 L18.1 149.5 L18.4 150.7 L18.7 152.7 L19 154.5 L19.3 156.6 L19.6 157.8 L19.9 160.1 L20.2 162 L20.4 164.8 L20.7 167.3 L21 168 L21.3 169.2 L21.6 171 L21.9 172.9 L22.2 174.8 L22.5 174.8 L22.8 174.4 L23.1 172.4 L23.4 172.9 L24 175.3 L24.6 175.4 L25.2 174.9 L25.8 174.4 L26.3 174.2 L26.9 175.2 L27.5 174.6 L28.1 175.8 L28.7 173.2 L29.3 171.3 L29.9 169.7 L30.5 170 L31.1 168.6 L31.7 165.1 L32.2 162 L32.8 161.8 L33.4 160.4 L34 160.9 L34.6 157.9 L35.2 157.2 L35.8 154.6 L36.4 152.6 L37 152.6 L37.6 151.5 L38.1 150.6 L38.7 148.2 L39.3 147.2 L39.9 146.8 L40.5 146.4 L41.1 144.9 L41.7 146.5 L42.3 147.4 L42.9 148.1 L43.5 149 L44.1 151 L44.7 152 L45.3 153.7 L45.8 154 L46.4 155.1 L47 155.9 L47.6 156 L48.2 156.9 L48.8 157.6 L49.4 157.9 L50 158 L50.6 157.8 L51.2 157.9 L51.8 159.3 L52.4 158.9 L53 159.6 L53.6 159.6 L54.2 159.6 L54.7 160.1 L55.3 160.7 L55.9 161.2 L56.5 161.7 L57.1 162 L57.7 162.3 L58.3 162.7 L58.9 162.9 L59.4 163.2 L59.9 162.7 L60.4 162.5 L60.9 162.6 L61.5 162.9 L62 162.4 L62.5 162.3 L63 162.1 L63.5 162 L64 161.6 L64.5 162 L65 161.5 L65.5 161.4 L66 160.8 L66.5 160.6 L67.1 160.3 L67.6 160.3 L68.1 160.1 L68.6 160 L69.1 159.6 L69.6 159.8 L70.1 159.7 L70.6 159.5 L71.1 160 L71.7 160.1 L72.2 159.7 L72.7 159.7 L73.2 159.4 L73.7 159.2 L74.2 159.5 L74.9 159 L75.6 159.3 L76.3 159 L77 158.9 L77.7 158.6 L78.4 158.5 L79.1 158.8 L79.8 159.5 L80.5 159.2 L81.2 159 L81.9 159 L82.6 159.2 L83.3 159.6 L84 160.1 L84.7 160 L85.4 160.5 L86.1 160.9 L86.8 161.2 L87.5 161.1 L88.2 161.2 L88.9 161.4 L89.6 161.2 L90.3 160.7 L91 160.6 L91.7 160.9 L92.4 160.6 L93.1 160.5 L93.8 160.9 L94.5 161.2 L95.2 161.3 L95.9 160.8 L96.6 160.2 L97.3 160.6 L98 160.4 L98.7 160.5 L99.4 160.5 L100.1 160.5 L100.8 160.4 L101.5 160 L102.2 159.5 L102.9 159.4 L103.6 159.5 L104.3 159.8 L105 159.4 L105.7 159.1 L106.4 159.5 L107.1 159.8 L107.8 159.6 L108.5 159.3 L109.2 159.2 L109.9 159.2 L110.6 158.8 L111.3 158.7 L112 159.1 L112.7 159.6 L113.4 159.8 L114.1 159.9 L114.8 160.5 L115.5 160.9 L116.2 161 L116.9 160.7 L117.6 160.6 L118.3 160.6 L119 160.5 L119.7 160.6 L120.4 160.8 L121.1 161.2 L121.8 161.4 L122.5 161.5 L123.2 161.3 L123.9 161.5 L124.6 161.3 L125.3 161.4 L126 161 L126.7 160.6 L127.4 160.7 L128.1 161.6 L128.8 161.6 L129.5 161.3 L130.2 160.9 L130.9 161.3 L131.6 160.6 L132.3 160 L133 160.1 L133.7 160.5 L134.4 159.7 L135.1 159.2 L135.8 159.4 L136.5 159.8 L137.2 159.6 L137.9 159.6 L138.6 159.5 L139.3 159.6 L140 159.9 L140.7 160 L141.4 160.2 L142.1 160.4 L142.8 160.7 L143.5 160.6 L144.2 160.2 L144.9 160.9 L145.6 160.8 L146.3 160.9 L147 160.4 L147.7 160.2 L148.4 160.7 L149.1 161.2 L149.8 161 L150.5 160.8 L151.2 160.8 L151.9 160.8 L152.6 160.8 L153.3 160.7 L154 161 L154.7 161.6 L155.4 161.2 L156.1 161.1 L156.8 161.1 L157.5 161.1 L158.2 161.2 L158.9 160.1 L159.6 160.1 L160.3 160.5 L161 160.3 L161.7 160.4 L162.4 160.6 L163.1 160.7 L163.8 161 L164.5 161 L165.2 160.4 L165.9 160.4 L166.6 160.1 L167.3 159.9 L168 159.3 L168.7 159.4 L169.4 160.2 L170.1 160.6 L170.8 160.3 L171.5 160.4 L172.2 160.1 L172.9 160.4 L173.6 160 L174.3 160 L175 160.1 L175.7 160.3 L176.4 160.2 L177.1 160" stroke="#c0c0c0" stroke-width="1.4" fill="none" opacity="0.3" stroke-linejoin="round"/>
<path d="M17.5 145.3 L17.8 145.7 L18.1 147.8 L18.4 149.2 L18.7 151 L19 151.9 L19.3 154.7 L19.6 157.7 L19.9 157.5 L20.2 159.9 L20.4 163 L20.7 163.6 L21 166.8 L21.3 168.4 L21.6 171 L21.9 171.7 L22.2 173.4 L22.5 177.2 L22.8 176.5 L23.1 177.2 L23.4 177.8 L24 174.4 L24.6 173.8 L25.2 172.6 L25.8 173.9 L26.3 173.7 L26.9 171.6 L27.5 171.7 L28.1 168.1 L28.7 166.5 L29.3 168.2 L29.9 167.2 L30.5 164.1 L31.1 162.7 L31.7 160.2 L32.2 160.2 L32.8 158.9 L33.4 160.8 L34 159.9 L34.6 158.5 L35.2 156.5 L35.8 157 L36.4 155.2 L37 154.6 L37.6 154.1 L38.1 152.3 L38.7 151.8 L39.3 151.9 L39.9 150.2 L40.5 149.8 L41.1 150.2 L41.7 150.1 L42.3 150.9 L42.9 151.8 L43.5 152.5 L44.1 151.2 L44.7 151.5 L45.3 152.8 L45.8 154.2 L46.4 153.8 L47 154.2 L47.6 154.7 L48.2 155.1 L48.8 156.5 L49.4 156.9 L50 156.8 L50.6 157.2 L51.2 156.7 L51.8 157.6 L52.4 158.3 L53 158.2 L53.6 158.2 L54.2 158.2 L54.7 159.7 L55.3 160.6 L55.9 160.9 L56.5 162 L57.1 162.2 L57.7 162.3 L58.3 162.5 L58.9 162.8 L59.4 162.8 L59.9 162.1 L60.4 161.7 L60.9 161.5 L61.5 161 L62 161.2 L62.5 161.3 L63 161.3 L63.5 161.5 L64 161.3 L64.5 161.4 L65 161.8 L65.5 161.9 L66 162.1 L66.5 161.7 L67.1 161 L67.6 160.7 L68.1 160.1 L68.6 159.6 L69.1 159.7 L69.6 158.4 L70.1 158.2 L70.6 157.9 L71.1 157.7 L71.7 157.9 L72.2 158.1 L72.7 158 L73.2 158.1 L73.7 157.7 L74.2 158.6 L74.9 159 L75.6 159.1 L76.3 159.6 L77 159.5 L77.7 159.9 L78.4 160.8 L79.1 161 L79.8 161.3 L80.5 160.4 L81.2 160.1 L81.9 160.5 L82.6 160.3 L83.3 160.3 L84 159.9 L84.7 160 L85.4 160.4 L86.1 160.4 L86.8 160.8 L87.5 160.9 L88.2 161 L88.9 160.6 L89.6 160.1 L90.3 160.7 L91 160.8 L91.7 161 L92.4 160.3 L93.1 160.4 L93.8 160.9 L94.5 160.8 L95.2 160.2 L95.9 160 L96.6 160.2 L97.3 160.6 L98 160.4 L98.7 160.5 L99.4 160.3 L100.1 160.4 L100.8 160.1 L101.5 159.9 L102.2 159.9 L102.9 159.5 L103.6 159 L104.3 158.7 L105 158.9 L105.7 159.4 L106.4 159.6 L107.1 159.2 L107.8 159.6 L108.5 160 L109.2 160.4 L109.9 160.1 L110.6 159.7 L111.3 160.2 L112 160.5 L112.7 160.2 L113.4 160.4 L114.1 160 L114.8 160.3 L115.5 160 L116.2 159.7 L116.9 159.5 L117.6 159.7 L118.3 160.2 L119 160.1 L119.7 160 L120.4 160.5 L121.1 160.4 L121.8 159.6 L122.5 158.9 L123.2 159.5 L123.9 159.5 L124.6 159.1 L125.3 159.1 L126 159.4 L126.7 160.4 L127.4 160.5 L128.1 160.7 L128.8 161.1 L129.5 160.7 L130.2 160.5 L130.9 160.5 L131.6 160.3 L132.3 160.4 L133 160.1 L133.7 160 L134.4 159.4 L135.1 159.6 L135.8 159.6 L136.5 159.4 L137.2 158.7 L137.9 158.9 L138.6 159 L139.3 159.4 L140 159.4 L140.7 159.8 L141.4 160.1 L142.1 160.7 L142.8 160.9 L143.5 160.9 L144.2 160.8 L144.9 161.4 L145.6 161 L146.3 160.7 L147 160.7 L147.7 161.1 L148.4 161.2 L149.1 160.6 L149.8 160.2 L150.5 160.1 L151.2 159.6 L151.9 158.9 L152.6 159.4 L153.3 159.9 L154 160.2 L154.7 160.4 L155.4 160.2 L156.1 160.5 L156.8 160.9 L157.5 161 L158.2 161.2 L158.9 161 L159.6 161.1 L160.3 160.9 L161 160.8 L161.7 160.9 L162.4 160.9 L163.1 161.3 L163.8 160.7 L164.5 160 L165.2 159.8 L165.9 160.2 L166.6 160.5 L167.3 159.6 L168 160.3 L168.7 160.6 L169.4 159.8 L170.1 159.4 L170.8 159.8 L171.5 159.9 L172.2 159.6 L172.9 158.6 L173.6 158.9 L174.3 158.9 L175 159.4 L175.7 159.8 L176.4 159.8 L177.1 159.7" stroke="#c0c0c0" stroke-width="1.4" fill="none" opacity="0.3" stroke-linejoin="round"/>
<path d="M17.5 145.6 L17.8 148.5 L18.1 151.2 L18.4 153.5 L18.7 157.1 L19 160.2 L19.3 163 L19.6 165.1 L19.9 166.4 L20.2 168.7 L20.4 168.1 L20.7 169.3 L21 170.1 L21.3 169.5 L21.6 168.9 L21.9 170.8 L22.2 172.8 L22.5 174.7 L22.8 176.5 L23.1 178.8 L23.4 177 L24 177.7 L24.6 176.5 L25.2 177.8 L25.8 175.5 L26.3 174.8 L26.9 173.6 L27.5 171.9 L28.1 169.9 L28.7 169.2 L29.3 167.6 L29.9 168.1 L30.5 165.6 L31.1 166.1 L31.7 164.6 L32.2 163.3 L32.8 161.2 L33.4 159.7 L34 160 L34.6 157.3 L35.2 155.9 L35.8 155.2 L36.4 152.8 L37 150.8 L37.6 148.4 L38.1 147.1 L38.7 147.5 L39.3 146.3 L39.9 146.6 L40.5 145.2 L41.1 144 L41.7 142.9 L42.3 144.8 L42.9 146.3 L43.5 146.8 L44.1 147.2 L44.7 147.7 L45.3 148.3 L45.8 148.8 L46.4 150.2 L47 151.6 L47.6 152.9 L48.2 153.4 L48.8 153.7 L49.4 154.1 L50 154.4 L50.6 155 L51.2 156.7 L51.8 156.8 L52.4 157.6 L53 157.4 L53.6 158 L54.2 159.3 L54.7 160.2 L55.3 160.9 L55.9 161.9 L56.5 161.7 L57.1 162 L57.7 161.9 L58.3 162.6 L58.9 162.8 L59.4 162.6 L59.9 162.2 L60.4 162.3 L60.9 162.1 L61.5 162.2 L62 162.3 L62.5 162.2 L63 162 L63.5 162 L64 161.8 L64.5 161.8 L65 161.3 L65.5 161.2 L66 160.9 L66.5 160.8 L67.1 160.9 L67.6 160.5 L68.1 160.2 L68.6 160.1 L69.1 160 L69.6 159.7 L70.1 159.3 L70.6 159 L71.1 159.1 L71.7 159 L72.2 158.7 L72.7 158.3 L73.2 158.4 L73.7 158.4 L74.2 158 L74.9 158.6 L75.6 159.1 L76.3 158.9 L77 159.7 L77.7 160.4 L78.4 160.8 L79.1 160.5 L79.8 160.2 L80.5 161 L81.2 161.3 L81.9 161.1 L82.6 161.2 L83.3 161.2 L84 161.6 L84.7 161.7 L85.4 161.4 L86.1 161.4 L86.8 161.3 L87.5 161.3 L88.2 161.4 L88.9 161.2 L89.6 161.2 L90.3 161.3 L91 160.8 L91.7 160.9 L92.4 161 L93.1 161.2 L93.8 160.6 L94.5 159.7 L95.2 159.6 L95.9 160.1 L96.6 160.1 L97.3 159.8 L98 159.7 L98.7 160 L99.4 159.7 L100.1 159 L100.8 158.8 L101.5 159.2 L102.2 159.2 L102.9 158.8 L103.6 159.7 L104.3 160.1 L105 160.4 L105.7 160.6 L106.4 160.6 L107.1 160.8 L107.8 160.8 L108.5 160.6 L109.2 160.6 L109.9 159.9 L110.6 160.3 L111.3 160.7 L112 160.4 L112.7 160.3 L113.4 160.4 L114.1 160.3 L114.8 160 L115.5 159.2 L116.2 159.5 L116.9 159.7 L117.6 159.5 L118.3 159.4 L119 159.6 L119.7 160 L120.4 160.2 L121.1 159.9 L121.8 160 L122.5 160.4 L123.2 160.3 L123.9 160.1 L124.6 160.3 L125.3 160.5 L126 160.7 L126.7 160.4 L127.4 160.3 L128.1 160.3 L128.8 160.5 L129.5 160.1 L130.2 159.8 L130.9 159.5 L131.6 160.2 L132.3 160.5 L133 160.8 L133.7 160.7 L134.4 160.5 L135.1 160.4 L135.8 160.3 L136.5 159.8 L137.2 160.1 L137.9 159.8 L138.6 160 L139.3 159.5 L140 159.6 L140.7 160.2 L141.4 160.3 L142.1 160.1 L142.8 160 L143.5 160 L144.2 160 L144.9 160.2 L145.6 160.5 L146.3 160.9 L147 161.5 L147.7 161.2 L148.4 160.7 L149.1 160.9 L149.8 161.4 L150.5 161.3 L151.2 160.9 L151.9 160.9 L152.6 161.1 L153.3 160.8 L154 160.9 L154.7 161.4 L155.4 161.5 L156.1 161.1 L156.8 160.4 L157.5 159.8 L158.2 159.8 L158.9 160.2 L159.6 160 L160.3 159.4 L161 159.5 L161.7 159.8 L162.4 159.7 L163.1 159.6 L163.8 159.4 L164.5 159.9 L165.2 159.8 L165.9 159.5 L166.6 160 L167.3 160.2 L168 160.3 L168.7 160.6 L169.4 160.5 L170.1 160.5 L170.8 160.2 L171.5 159.9 L172.2 160.1 L172.9 160.1 L173.6 160.9 L174.3 161.1 L175 160.6 L175.7 160.5 L176.4 160.8 L177.1 160.6" stroke="#c0c0c0" stroke-width="1.4" fill="none" opacity="0.3" stroke-linejoin="round"/>
<path d="M17.5 146.5 L17.8 149.2 L18.1 150.3 L18.4 151.3 L18.7 152.2 L19 154.9 L19.3 156.2 L19.6 159.5 L19.9 160.6 L20.2 163.4 L20.4 165.3 L20.7 167.1 L21 166.8 L21.3 169.8 L21.6 171.2 L21.9 173.1 L22.2 173.1 L22.5 175.4 L22.8 173.9 L23.1 172.4 L23.4 174.8 L24 177.1 L24.6 176.2 L25.2 175.2 L25.8 175.8 L26.3 173.7 L26.9 171.5 L27.5 173.1 L28.1 173.5 L28.7 169.5 L29.3 169.4 L29.9 168.2 L30.5 167.5 L31.1 166.7 L31.7 165.5 L32.2 163.7 L32.8 161.3 L33.4 156.8 L34 155.1 L34.6 153.3 L35.2 152.9 L35.8 151.6 L36.4 148.9 L37 149.4 L37.6 149.9 L38.1 149.8 L38.7 149.8 L39.3 149.5 L39.9 150.1 L40.5 148.1 L41.1 148.7 L41.7 149.5 L42.3 149.2 L42.9 149.1 L43.5 149.5 L44.1 150.6 L44.7 151.4 L45.3 151.7 L45.8 153.5 L46.4 154 L47 153.6 L47.6 154.7 L48.2 155.2 L48.8 156 L49.4 156.6 L50 157.1 L50.6 157.6 L51.2 157.3 L51.8 157.2 L52.4 158.1 L53 159.1 L53.6 159.1 L54.2 159.2 L54.7 159.6 L55.3 159.8 L55.9 160.2 L56.5 160.9 L57.1 161.4 L57.7 161.7 L58.3 161.1 L58.9 161.2 L59.4 161.7 L59.9 161.8 L60.4 162.6 L60.9 162.7 L61.5 162.9 L62 162.6 L62.5 162.8 L63 162.9 L63.5 162.8 L64 162.4 L64.5 162.4 L65 162 L65.5 161.4 L66 161.3 L66.5 161.1 L67.1 160.5 L67.6 160.3 L68.1 160 L68.6 159.8 L69.1 159.5 L69.6 159.1 L70.1 158.9 L70.6 158.5 L71.1 158.7 L71.7 158.8 L72.2 158.7 L72.7 158.9 L73.2 158.9 L73.7 158.6 L74.2 158.7 L74.9 158.7 L75.6 158.8 L76.3 159.3 L77 159.5 L77.7 159.9 L78.4 159.6 L79.1 159.2 L79.8 159.8 L80.5 160.3 L81.2 160.3 L81.9 160.9 L82.6 161.3 L83.3 161.6 L84 161.1 L84.7 161.3 L85.4 161 L86.1 161.2 L86.8 160.9 L87.5 161 L88.2 160.7 L88.9 161.5 L89.6 161.3 L90.3 161.5 L91 160.9 L91.7 161.7 L92.4 161.8 L93.1 160.8 L93.8 160.5 L94.5 160.3 L95.2 160 L95.9 160.2 L96.6 160.1 L97.3 160.4 L98 160.6 L98.7 160.1 L99.4 159.8 L100.1 159.5 L100.8 160.3 L101.5 160.3 L102.2 159.8 L102.9 160.5 L103.6 161.1 L104.3 161.3 L105 161.1 L105.7 160.9 L106.4 161.4 L107.1 161.3 L107.8 160.6 L108.5 160.3 L109.2 159.9 L109.9 159.9 L110.6 160.1 L111.3 159.9 L112 160.3 L112.7 160.6 L113.4 160.4 L114.1 160.2 L114.8 160.2 L115.5 160.3 L116.2 160.7 L116.9 160.7 L117.6 160.7 L118.3 160.9 L119 160.9 L119.7 160.3 L120.4 160.3 L121.1 160.3 L121.8 160.7 L122.5 160.7 L123.2 160.4 L123.9 160.8 L124.6 160.9 L125.3 161.6 L126 161.7 L126.7 161.6 L127.4 161.5 L128.1 161.6 L128.8 160.9 L129.5 160.6 L130.2 160.7 L130.9 161.6 L131.6 161.2 L132.3 161 L133 160.7 L133.7 160.6 L134.4 160.8 L135.1 160.3 L135.8 160.2 L136.5 160.3 L137.2 159.7 L137.9 159.1 L138.6 159 L139.3 159.2 L140 159.9 L140.7 159.4 L141.4 159.3 L142.1 159.4 L142.8 159.6 L143.5 159.6 L144.2 159.6 L144.9 160.2 L145.6 161.1 L146.3 161.3 L147 160.5 L147.7 160.2 L148.4 160.5 L149.1 160.2 L149.8 160.6 L150.5 160.3 L151.2 160 L151.9 160.1 L152.6 160.2 L153.3 160.4 L154 161.2 L154.7 160.9 L155.4 161.1 L156.1 160.4 L156.8 160.2 L157.5 160.4 L158.2 160.3 L158.9 159.9 L159.6 160 L160.3 160 L161 160.3 L161.7 160 L162.4 159.4 L163.1 159.4 L163.8 159.5 L164.5 159.5 L165.2 160 L165.9 160.2 L166.6 160.3 L167.3 160.6 L168 160.5 L168.7 160.4 L169.4 160.9 L170.1 160.4 L170.8 159.9 L171.5 159 L172.2 159.2 L172.9 159.6 L173.6 159.5 L174.3 159.1 L175 159.2 L175.7 159.2 L176.4 159.6 L177.1 159.3" stroke="#c0c0c0" stroke-width="1.4" fill="none" opacity="0.3" stroke-linejoin="round"/>
<path d="M17.5 146.9 L17.8 148.2 L18.1 150.2 L18.4 151.9 L18.7 154.5 L19 157.5 L19.3 159.5 L19.6 161.5 L19.9 164.1 L20.2 166.8 L20.4 168.1 L20.7 169.2 L21 172.1 L21.3 172.8 L21.6 171.3 L21.9 172 L22.2 173.3 L22.5 174.5 L22.8 175.2 L23.1 175.2 L23.4 175.3 L24 174.1 L24.6 174.4 L25.2 175.7 L25.8 174.6 L26.3 173.9 L26.9 173.7 L27.5 171.3 L28.1 172 L28.7 170.8 L29.3 169.4 L29.9 165.8 L30.5 164.5 L31.1 162.8 L31.7 161.1 L32.2 159.8 L32.8 159.3 L33.4 157.7 L34 156.3 L34.6 154.2 L35.2 156.8 L35.8 157.3 L36.4 157.9 L37 157.8 L37.6 153.5 L38.1 152.2 L38.7 152.1 L39.3 153.3 L39.9 154 L40.5 152.5 L41.1 152.2 L41.7 151.4 L42.3 150.3 L42.9 151.2 L43.5 151.6 L44.1 150.7 L44.7 150.4 L45.3 149.9 L45.8 150 L46.4 150.5 L47 152.6 L47.6 153.5 L48.2 153.5 L48.8 155.3 L49.4 156.9 L50 157.5 L50.6 158.1 L51.2 158.6 L51.8 159.4 L52.4 160.2 L53 161.2 L53.6 163.1 L54.2 163 L54.7 162.9 L55.3 162.8 L55.9 163.8 L56.5 163.7 L57.1 163.7 L57.7 163.7 L58.3 163.8 L58.9 163 L59.4 163.3 L59.9 163.1 L60.4 162.9 L60.9 162.4 L61.5 162.7 L62 163.1 L62.5 162.5 L63 161.7 L63.5 161.3 L64 160.5 L64.5 160.5 L65 160.4 L65.5 160 L66 159.6 L66.5 158.9 L67.1 158.4 L67.6 158.4 L68.1 158.3 L68.6 158.1 L69.1 158.3 L69.6 158.4 L70.1 158.6 L70.6 158.7 L71.1 158.2 L71.7 158.5 L72.2 158 L72.7 158.6 L73.2 158.9 L73.7 158.7 L74.2 158.6 L74.9 158.8 L75.6 159.5 L76.3 160.1 L77 160.1 L77.7 160.2 L78.4 160.3 L79.1 160.3 L79.8 160.4 L80.5 160 L81.2 160.6 L81.9 161.4 L82.6 161.8 L83.3 161.4 L84 161.6 L84.7 161.9 L85.4 162.1 L86.1 161.8 L86.8 162.2 L87.5 162.5 L88.2 162.8 L88.9 162.5 L89.6 162.3 L90.3 162.1 L91 161.9 L91.7 161.4 L92.4 160.7 L93.1 160.4 L93.8 160.4 L94.5 159.9 L95.2 159.5 L95.9 159.8 L96.6 160.2 L97.3 160.4 L98 159.9 L98.7 159.4 L99.4 160.2 L100.1 160.2 L100.8 160.5 L101.5 160.8 L102.2 160.8 L102.9 160.9 L103.6 160.9 L104.3 161 L105 161.2 L105.7 160.7 L106.4 160.3 L107.1 159.8 L107.8 159.3 L108.5 159.7 L109.2 160.2 L109.9 160.2 L110.6 160 L111.3 160 L112 160.2 L112.7 160.2 L113.4 159.9 L114.1 159.8 L114.8 160.1 L115.5 160.2 L116.2 159.9 L116.9 160.1 L117.6 160.4 L118.3 160.8 L119 160.5 L119.7 159.9 L120.4 159.8 L121.1 159.7 L121.8 160 L122.5 159.9 L123.2 160.2 L123.9 160.4 L124.6 159.8 L125.3 159.4 L126 160 L126.7 160.7 L127.4 160.7 L128.1 160.2 L128.8 160 L129.5 160.5 L130.2 160.9 L130.9 160.9 L131.6 161.1 L132.3 160.9 L133 160.5 L133.7 160.2 L134.4 159.9 L135.1 159.8 L135.8 159.9 L136.5 159.4 L137.2 159.7 L137.9 159.6 L138.6 160.2 L139.3 160.5 L140 159.9 L140.7 159.6 L141.4 159.8 L142.1 159.9 L142.8 160.3 L143.5 159.9 L144.2 160.1 L144.9 160.4 L145.6 160.4 L146.3 160.4 L147 160.2 L147.7 160.7 L148.4 160.5 L149.1 159.9 L149.8 160.2 L150.5 161.1 L151.2 161.5 L151.9 161.2 L152.6 161.1 L153.3 160.5 L154 160.3 L154.7 160.2 L155.4 159.9 L156.1 159.6 L156.8 159.5 L157.5 159.4 L158.2 159.3 L158.9 159 L159.6 160.1 L160.3 160.1 L161 159.3 L161.7 159.6 L162.4 159.9 L163.1 160.3 L163.8 159.9 L164.5 159.6 L165.2 160.6 L165.9 161 L166.6 160.8 L167.3 160.7 L168 160.1 L168.7 160 L169.4 159.8 L170.1 159.7 L170.8 160 L171.5 160.4 L172.2 160.6 L172.9 160.5 L173.6 160.3 L174.3 160.9 L175 161.1 L175.7 160.6 L176.4 160.1 L177.1 160" stroke="#c0c0c0" stroke-width="1.4" fill="none" opacity="0.3" stroke-linejoin="round"/>
<path d="M17.5 150 L17.8 150.6 L18.1 151.6 L18.4 153.5 L18.7 156.1 L19 156.6 L19.3 159.2 L19.6 160.5 L19.9 162.4 L20.2 163.8 L20.4 166.7 L20.7 169.1 L21 170.2 L21.3 170.4 L21.6 171.8 L21.9 172.3 L22.2 174.1 L22.5 174.9 L22.8 174.4 L23.1 176.4 L23.4 176.6 L24 175.2 L24.6 174 L25.2 173.8 L25.8 173.2 L26.3 172 L26.9 170.1 L27.5 171 L28.1 167 L28.7 167.5 L29.3 169 L29.9 169.3 L30.5 168.1 L31.1 168.2 L31.7 166.7 L32.2 164.8 L32.8 162.8 L33.4 162.9 L34 161 L34.6 159.8 L35.2 157.5 L35.8 156.7 L36.4 154.4 L37 153.1 L37.6 153.1 L38.1 153.2 L38.7 152.2 L39.3 151.2 L39.9 149.2 L40.5 149.8 L41.1 150.1 L41.7 151.4 L42.3 150.8 L42.9 151.8 L43.5 150.9 L44.1 150.6 L44.7 151.3 L45.3 153.4 L45.8 153.9 L46.4 153.2 L47 154.2 L47.6 155.2 L48.2 155.5 L48.8 156.8 L49.4 157.8 L50 157.3 L50.6 157.1 L51.2 157.7 L51.8 159.2 L52.4 159 L53 159.4 L53.6 159.7 L54.2 159.6 L54.7 160.2 L55.3 161.3 L55.9 161.6 L56.5 162 L57.1 161.8 L57.7 162.3 L58.3 162.1 L58.9 161.8 L59.4 161.8 L59.9 162.2 L60.4 162 L60.9 162.6 L61.5 162.2 L62 162.2 L62.5 161.8 L63 162.1 L63.5 162.7 L64 163.2 L64.5 162.5 L65 162.6 L65.5 162 L66 161.9 L66.5 161.6 L67.1 161.2 L67.6 161 L68.1 160.5 L68.6 159.8 L69.1 159.7 L69.6 158.6 L70.1 158.7 L70.6 158.4 L71.1 158.4 L71.7 158.6 L72.2 158.2 L72.7 158.2 L73.2 158.2 L73.7 158.5 L74.2 159.1 L74.9 159.4 L75.6 159.7 L76.3 159.7 L77 159.6 L77.7 160.5 L78.4 160.8 L79.1 160.4 L79.8 160 L80.5 160.5 L81.2 160.9 L81.9 161.2 L82.6 160.6 L83.3 160.6 L84 160.5 L84.7 160.2 L85.4 160.5 L86.1 160.9 L86.8 161.3 L87.5 161.5 L88.2 161.1 L88.9 161.5 L89.6 161.7 L90.3 161.9 L91 161.7 L91.7 160.9 L92.4 160.8 L93.1 161.3 L93.8 161.3 L94.5 161.5 L95.2 161.3 L95.9 161.3 L96.6 160.8 L97.3 160.2 L98 160.2 L98.7 160.3 L99.4 160 L100.1 160.1 L100.8 159.5 L101.5 159.6 L102.2 159.8 L102.9 159.8 L103.6 159.6 L104.3 159.6 L105 160 L105.7 160.1 L106.4 159.5 L107.1 159.7 L107.8 160.1 L108.5 160.7 L109.2 160 L109.9 159.8 L110.6 159.9 L111.3 159 L112 158.5 L112.7 158.5 L113.4 158.7 L114.1 158.8 L114.8 158.9 L115.5 159.1 L116.2 159.5 L116.9 159.5 L117.6 160.2 L118.3 159.8 L119 159.5 L119.7 159.9 L120.4 160.4 L121.1 160 L121.8 160.1 L122.5 160.6 L123.2 160.9 L123.9 160.6 L124.6 160 L125.3 159.9 L126 159.5 L126.7 159.1 L127.4 158.7 L128.1 158.6 L128.8 159.2 L129.5 159.9 L130.2 159.7 L130.9 159.6 L131.6 159.8 L132.3 160.1 L133 159.7 L133.7 159.9 L134.4 160.3 L135.1 160.6 L135.8 160.9 L136.5 160.5 L137.2 160.8 L137.9 161.1 L138.6 161.1 L139.3 160.9 L140 160.4 L140.7 160.7 L141.4 160.6 L142.1 160.1 L142.8 160.1 L143.5 160.8 L144.2 161.3 L144.9 161 L145.6 160.5 L146.3 160.6 L147 160.4 L147.7 160.2 L148.4 160.3 L149.1 160.7 L149.8 161 L150.5 161.3 L151.2 160.6 L151.9 160.6 L152.6 160.4 L153.3 160.3 L154 159.9 L154.7 159.5 L155.4 159.7 L156.1 159.9 L156.8 159.2 L157.5 159.6 L158.2 160 L158.9 160.4 L159.6 160.4 L160.3 160.2 L161 160 L161.7 160.4 L162.4 160.3 L163.1 160.4 L163.8 160.3 L164.5 160.6 L165.2 160.4 L165.9 160 L166.6 159.4 L167.3 159.5 L168 159.4 L168.7 159 L169.4 159.1 L170.1 159.5 L170.8 159.9 L171.5 160.3 L172.2 160.2 L172.9 160.1 L173.6 160 L174.3 159.8 L175 159.6 L175.7 159.1 L176.4 159.3 L177.1 159.5" stroke="#c0c0c0" stroke-width="1.4" fill="none" opacity="0.3" stroke-linejoin="round"/>
</g>
<g filter="url(#blur1)">
<path d="M17.5 183.3 L17.8 185.7 L18.1 188.3 L18.5 190.9 L18.8 193.6 L19.1 196.3 L19.4 199 L19.7 201.7 L20.1 204.3 L20.4 206.9 L20.7 209.3 L21 211.6 L21.3 213.7 L21.7 215.6 L22 217.3 L22.3 218.8 L22.6 220.1 L22.9 221 L23.3 221.7 L23.6 222.2 L23.9 222.3 L24.4 222.2 L24.9 221.9 L25.4 221.4 L25.9 220.7 L26.4 219.8 L26.9 218.8 L27.4 217.6 L27.9 216.2 L28.4 214.7 L28.9 213.1 L29.4 211.4 L29.9 209.6 L30.4 207.7 L30.9 205.8 L31.3 203.9 L31.8 202 L32.3 200.1 L32.8 198.2 L33.3 196.4 L33.8 194.7 L34.3 193.1 L34.8 191.6 L35.3 190.2 L35.8 189 L36.3 188 L36.8 187.1 L37.3 186.4 L37.8 185.9 L38.3 185.6 L38.8 185.5 L39.4 185.6 L40 185.8 L40.6 186.1 L41.1 186.5 L41.7 187.1 L42.3 187.7 L42.9 188.5 L43.5 189.4 L44.1 190.3 L44.7 191.3 L45.3 192.4 L45.8 193.5 L46.4 194.7 L47 195.9 L47.6 197.2 L48.2 198.4 L48.8 199.6 L49.4 200.8 L49.9 201.9 L50.5 203 L51.1 204 L51.7 204.9 L52.3 205.8 L52.9 206.6 L53.5 207.2 L54.1 207.8 L54.6 208.2 L55.2 208.5 L55.8 208.7 L56.4 208.8 L56.9 208.8 L57.5 208.7 L58 208.6 L58.6 208.4 L59.1 208.1 L59.7 207.8 L60.2 207.5 L60.8 207.1 L61.3 206.7 L61.9 206.2 L62.4 205.8 L63 205.3 L63.5 204.8 L64.1 204.2 L64.6 203.7 L65.1 203.2 L65.7 202.6 L66.2 202.1 L66.8 201.6 L67.3 201.2 L67.9 200.7 L68.4 200.3 L69 199.9 L69.5 199.6 L70.1 199.3 L70.6 199 L71.2 198.8 L71.7 198.7 L72.3 198.6 L72.8 198.6 L73.5 198.9 L74.2 199.5 L74.9 199.8 L75.6 199.7 L76.3 199.6 L77 199.9 L77.7 200.3 L78.4 200.4 L79.1 200.5 L79.8 201 L80.5 201.5 L81.2 201.6 L81.9 201.4 L82.6 201.5 L83.3 201.7 L84 201.8 L84.7 201.6 L85.4 201.7 L86.1 202.1 L86.8 202.5 L87.5 202.4 L88.2 202.4 L88.9 202.5 L89.6 202.6 L90.3 202.3 L91 202 L91.7 202 L92.4 202.3 L93.1 202.4 L93.8 202.2 L94.5 202.1 L95.2 202.3 L95.9 202.2 L96.6 201.6 L97.3 201.2 L98 201.1 L98.7 201.1 L99.4 200.8 L100.1 200.5 L100.8 200.7 L101.5 200.8 L102.2 200.6 L102.9 200.1 L103.6 199.8 L104.3 199.8 L105 199.5 L105.7 199.1 L106.4 199 L107.1 199.3 L107.8 199.5 L108.5 199.4 L109.2 199.2 L109.9 199.4 L110.6 199.4 L111.3 199.1 L112 198.8 L112.7 199 L113.4 199.3 L114.1 199.4 L114.8 199.4 L115.5 199.5 L116.2 199.9 L116.9 199.9 L117.6 199.5 L118.3 199.3 L119 199.5 L119.7 199.7 L120.4 199.6 L121.1 199.6 L121.8 200 L122.5 200.4 L123.2 200.3 L123.9 200.1 L124.6 200 L125.3 200.2 L126 200.1 L126.7 199.9 L127.4 200 L128.1 200.4 L128.8 200.7 L129.5 200.5 L130.2 200.5 L130.9 200.6 L131.6 200.7 L132.3 200.3 L133 200.1 L133.7 200.2 L134.4 200.5 L135.1 200.6 L135.8 200.5 L136.5 200.7 L137.2 201 L137.9 200.9 L138.6 200.5 L139.3 200.3 L140 200.5 L140.7 200.6 L141.4 200.5 L142.1 200.5 L142.8 200.8 L143.5 201.2 L144.2 201 L144.9 200.7 L145.6 200.7 L146.3 200.8 L147 200.7 L147.7 200.4 L148.4 200.5 L149.1 200.9 L149.8 201.1 L150.5 201 L151.2 200.9 L151.9 201.1 L152.6 201.1 L153.3 200.7 L154 200.4 L154.7 200.6 L155.4 200.9 L156.1 200.9 L156.8 200.9 L157.5 201 L158.2 201.3 L158.9 201.2 L159.6 200.8 L160.3 200.6 L161 200.8 L161.7 200.8 L162.4 200.7 L163.1 200.7 L163.8 201.1 L164.5 201.3 L165.2 201.1 L165.9 200.8 L166.6 200.8 L167.3 200.9 L168 200.7 L168.7 200.5 L169.4 200.6 L170.1 201 L170.8 201.2 L171.5 201 L172.2 200.9 L172.9 201.1 L173.6 201 L174.3 200.6 L175 200.4 L175.7 200.6 L176.4 200.9 L177.1 200.9" stroke="#f0f0f0" stroke-width="13" fill="none" stroke-linejoin="round"/>
<path d="M17.5 183.3 L17.8 185.7 L18.1 188.3 L18.5 190.9 L18.8 193.6 L19.1 196.3 L19.4 199 L19.7 201.7 L20.1 204.3 L20.4 206.9 L20.7 209.3 L21 211.6 L21.3 213.7 L21.7 215.6 L22 217.3 L22.3 218.8 L22.6 220.1 L22.9 221 L23.3 221.7 L23.6 222.2 L23.9 222.3 L24.4 222.2 L24.9 221.9 L25.4 221.4 L25.9 220.7 L26.4 219.8 L26.9 218.8 L27.4 217.6 L27.9 216.2 L28.4 214.7 L28.9 213.1 L29.4 211.4 L29.9 209.6 L30.4 207.7 L30.9 205.8 L31.3 203.9 L31.8 202 L32.3 200.1 L32.8 198.2 L33.3 196.4 L33.8 194.7 L34.3 193.1 L34.8 191.6 L35.3 190.2 L35.8 189 L36.3 188 L36.8 187.1 L37.3 186.4 L37.8 185.9 L38.3 185.6 L38.8 185.5 L39.4 185.6 L40 185.8 L40.6 186.1 L41.1 186.5 L41.7 187.1 L42.3 187.7 L42.9 188.5 L43.5 189.4 L44.1 190.3 L44.7 191.3 L45.3 192.4 L45.8 193.5 L46.4 194.7 L47 195.9 L47.6 197.2 L48.2 198.4 L48.8 199.6 L49.4 200.8 L49.9 201.9 L50.5 203 L51.1 204 L51.7 204.9 L52.3 205.8 L52.9 206.6 L53.5 207.2 L54.1 207.8 L54.6 208.2 L55.2 208.5 L55.8 208.7 L56.4 208.8 L56.9 208.8 L57.5 208.7 L58 208.6 L58.6 208.4 L59.1 208.1 L59.7 207.8 L60.2 207.5 L60.8 207.1 L61.3 206.7 L61.9 206.2 L62.4 205.8 L63 205.3 L63.5 204.8 L64.1 204.2 L64.6 203.7 L65.1 203.2 L65.7 202.6 L66.2 202.1 L66.8 201.6 L67.3 201.2 L67.9 200.7 L68.4 200.3 L69 199.9 L69.5 199.6 L70.1 199.3 L70.6 199 L71.2 198.8 L71.7 198.7 L72.3 198.6 L72.8 198.6 L73.5 198.9 L74.2 199.5 L74.9 199.8 L75.6 199.7 L76.3 199.6 L77 199.9 L77.7 200.3 L78.4 200.4 L79.1 200.5 L79.8 201 L80.5 201.5 L81.2 201.6 L81.9 201.4 L82.6 201.5 L83.3 201.7 L84 201.8 L84.7 201.6 L85.4 201.7 L86.1 202.1 L86.8 202.5 L87.5 202.4 L88.2 202.4 L88.9 202.5 L89.6 202.6 L90.3 202.3 L91 202 L91.7 202 L92.4 202.3 L93.1 202.4 L93.8 202.2 L94.5 202.1 L95.2 202.3 L95.9 202.2 L96.6 201.6 L97.3 201.2 L98 201.1 L98.7 201.1 L99.4 200.8 L100.1 200.5 L100.8 200.7 L101.5 200.8 L102.2 200.6 L102.9 200.1 L103.6 199.8 L104.3 199.8 L105 199.5 L105.7 199.1 L106.4 199 L107.1 199.3 L107.8 199.5 L108.5 199.4 L109.2 199.2 L109.9 199.4 L110.6 199.4 L111.3 199.1 L112 198.8 L112.7 199 L113.4 199.3 L114.1 199.4 L114.8 199.4 L115.5 199.5 L116.2 199.9 L116.9 199.9 L117.6 199.5 L118.3 199.3 L119 199.5 L119.7 199.7 L120.4 199.6 L121.1 199.6 L121.8 200 L122.5 200.4 L123.2 200.3 L123.9 200.1 L124.6 200 L125.3 200.2 L126 200.1 L126.7 199.9 L127.4 200 L128.1 200.4 L128.8 200.7 L129.5 200.5 L130.2 200.5 L130.9 200.6 L131.6 200.7 L132.3 200.3 L133 200.1 L133.7 200.2 L134.4 200.5 L135.1 200.6 L135.8 200.5 L136.5 200.7 L137.2 201 L137.9 200.9 L138.6 200.5 L139.3 200.3 L140 200.5 L140.7 200.6 L141.4 200.5 L142.1 200.5 L142.8 200.8 L143.5 201.2 L144.2 201 L144.9 200.7 L145.6 200.7 L146.3 200.8 L147 200.7 L147.7 200.4 L148.4 200.5 L149.1 200.9 L149.8 201.1 L150.5 201 L151.2 200.9 L151.9 201.1 L152.6 201.1 L153.3 200.7 L154 200.4 L154.7 200.6 L155.4 200.9 L156.1 200.9 L156.8 200.9 L157.5 201 L158.2 201.3 L158.9 201.2 L159.6 200.8 L160.3 200.6 L161 200.8 L161.7 200.8 L162.4 200.7 L163.1 200.7 L163.8 201.1 L164.5 201.3 L165.2 201.1 L165.9 200.8 L166.6 200.8 L167.3 200.9 L168 200.7 L168.7 200.5 L169.4 200.6 L170.1 201 L170.8 201.2 L171.5 201 L172.2 200.9 L172.9 201.1 L173.6 201 L174.3 200.6 L175 200.4 L175.7 200.6 L176.4 200.9 L177.1 200.9" stroke="#e2e2e2" stroke-width="6" fill="none" stroke-linejoin="round"/>
<path d="M17.5 181.7 L17.8 183.8 L18.1 186.7 L18.5 188.1 L18.8 189.8 L19.1 193.5 L19.4 197.2 L19.7 199.4 L20.1 201.6 L20.4 204.9 L20.7 208.1 L21 211.1 L21.3 215.3 L21.7 219 L22 219.3 L22.3 220.9 L22.6 222.2 L22.9 222.1 L23.3 222.9 L23.6 223.2 L23.9 221.2 L24.4 220.5 L24.9 219.2 L25.4 220.7 L25.9 220.8 L26.4 218.1 L26.9 218.2 L27.4 215.9 L27.9 213.8 L28.4 211.5 L28.9 210.1 L29.4 208 L29.9 206 L30.4 203.9 L30.9 202 L31.3 200.5 L31.8 200.8 L32.3 200.1 L32.8 199.1 L33.3 196.6 L33.8 195.3 L34.3 193.6 L34.8 191.9 L35.3 192.1 L35.8 191.1 L36.3 188.6 L36.8 186.3 L37.3 186.4 L37.8 184.6 L38.3 183.6 L38.8 184.7 L39.4 185.5 L40 184.7 L40.6 185.2 L41.1 186.4 L41.7 187.7 L42.3 188.1 L42.9 189.4 L43.5 191 L44.1 191.1 L44.7 191.5 L45.3 193.5 L45.8 195.4 L46.4 194.7 L47 195.9 L47.6 197.6 L48.2 199.4 L48.8 200.7 L49.4 201.6 L49.9 201.5 L50.5 202 L51.1 202.8 L51.7 205.3 L52.3 206 L52.9 206.7 L53.5 207.6 L54.1 208.1 L54.6 208.3 L55.2 210.1 L55.8 210.6 L56.4 210 L56.9 209.5 L57.5 208.8 L58 208.8 L58.6 207.8 L59.1 207.7 L59.7 207.6 L60.2 206.9 L60.8 205.8 L61.3 205.7 L61.9 205.6 L62.4 205.8 L63 206.1 L63.5 206.1 L64.1 205 L64.6 204.1 L65.1 203.6 L65.7 203.3 L66.2 202.5 L66.8 201.9 L67.3 201.1 L67.9 199.6 L68.4 198.8 L69 198.9 L69.5 198.8 L70.1 198.1 L70.6 198.1 L71.2 198.1 L71.7 197.9 L72.3 197.7 L72.8 197.4 L73.5 198 L74.2 198.2 L74.9 198.5 L75.6 198.3 L76.3 198.2 L77 198.1 L77.7 198.5 L78.4 198.5 L79.1 199.2 L79.8 199.7 L80.5 200.8 L81.2 200.6 L81.9 201.1 L82.6 200.8 L83.3 201.6 L84 201.7 L84.7 201.7 L85.4 201.5 L86.1 202.3 L86.8 202.1 L87.5 202.3 L88.2 201.8 L88.9 202.4 L89.6 202.3 L90.3 201.8 L91 201.9 L91.7 202.2 L92.4 202.2 L93.1 202.4 L93.8 202.3 L94.5 202.6 L95.2 202.9 L95.9 202.6 L96.6 202.2 L97.3 201.6 L98 201.6 L98.7 201.5 L99.4 201.1 L100.1 201.1 L100.8 201.2 L101.5 201.4 L102.2 201 L102.9 200.5 L103.6 200.4 L104.3 200.8 L105 200.2 L105.7 199.8 L106.4 199.5 L107.1 199.8 L107.8 199.7 L108.5 199.2 L109.2 198.9 L109.9 198.8 L110.6 198.9 L111.3 198.9 L112 198.6 L112.7 198.9 L113.4 199.4 L114.1 199.6 L114.8 199.9 L115.5 200.3 L116.2 200.8 L116.9 200.5 L117.6 199.9 L118.3 199.6 L119 199.7 L119.7 199.6 L120.4 199.8 L121.1 199.4 L121.8 199.8 L122.5 200 L123.2 199.7 L123.9 199.6 L124.6 199.6 L125.3 199.7 L126 199.6 L126.7 199.2 L127.4 200 L128.1 200.5 L128.8 200.6 L129.5 200.2 L130.2 200.4 L130.9 200.6 L131.6 200.8 L132.3 200.7 L133 200.6 L133.7 200.1 L134.4 200.6 L135.1 200.3 L135.8 200.4 L136.5 200.4 L137.2 200.8 L137.9 200.6 L138.6 199.9 L139.3 199.7 L140 200.7 L140.7 200.6 L141.4 200.6 L142.1 200.9 L142.8 201 L143.5 201.8 L144.2 201.3 L144.9 200.7 L145.6 200.6 L146.3 200.9 L147 200.9 L147.7 200.9 L148.4 201.1 L149.1 201.7 L149.8 201.2 L150.5 201.1 L151.2 201 L151.9 201 L152.6 200.7 L153.3 200.2 L154 200 L154.7 200.2 L155.4 200.5 L156.1 200.7 L156.8 200.5 L157.5 201.1 L158.2 201.7 L158.9 201.2 L159.6 200.3 L160.3 199.8 L161 199.8 L161.7 199.9 L162.4 199.4 L163.1 200 L163.8 200.1 L164.5 200 L165.2 200 L165.9 200.4 L166.6 200.6 L167.3 200.8 L168 200.2 L168.7 200.6 L169.4 200.3 L170.1 200.5 L170.8 200.2 L171.5 200.2 L172.2 200 L172.9 200.4 L173.6 200.5 L174.3 200.1 L175 199.7 L175.7 200.2 L176.4 200.9 L177.1 201.2" stroke="#c0c0c0" stroke-width="1.4" fill="none" opacity="0.3" stroke-linejoin="round"/>
<path d="M17.5 182.4 L17.8 183.7 L18.1 186.8 L18.5 190.2 L18.8 193.3 L19.1 196.6 L19.4 200.5 L19.7 202.7 L20.1 205.7 L20.4 208.7 L20.7 212 L21 214 L21.3 215.1 L21.7 215.4 L22 217.7 L22.3 216.4 L22.6 217.3 L22.9 219.1 L23.3 221.2 L23.6 222.1 L23.9 222.6 L24.4 222.8 L24.9 224.2 L25.4 223.6 L25.9 224.7 L26.4 224.6 L26.9 222.8 L27.4 219.1 L27.9 216.8 L28.4 214.4 L28.9 211.8 L29.4 209.2 L29.9 206.2 L30.4 202.8 L30.9 200 L31.3 198.1 L31.8 195.4 L32.3 194.3 L32.8 192.1 L33.3 191.5 L33.8 190.8 L34.3 189.8 L34.8 188.7 L35.3 187.2 L35.8 187 L36.3 188.5 L36.8 188.1 L37.3 186.9 L37.8 187 L38.3 186.5 L38.8 186 L39.4 188 L40 187.4 L40.6 188.5 L41.1 187.9 L41.7 188.7 L42.3 190.7 L42.9 190 L43.5 190.3 L44.1 190.2 L44.7 189.9 L45.3 192.3 L45.8 192.3 L46.4 194.8 L47 195.9 L47.6 196.2 L48.2 197.9 L48.8 199 L49.4 201 L49.9 202.4 L50.5 202.9 L51.1 204 L51.7 203.9 L52.3 204.7 L52.9 205.4 L53.5 205 L54.1 206.1 L54.6 206.9 L55.2 207.5 L55.8 207.2 L56.4 206.7 L56.9 207.3 L57.5 207.1 L58 207.5 L58.6 208.2 L59.1 207.1 L59.7 207.1 L60.2 206.7 L60.8 207 L61.3 207 L61.9 206.2 L62.4 206.1 L63 205.5 L63.5 204.9 L64.1 205 L64.6 204.2 L65.1 203.7 L65.7 203.2 L66.2 203 L66.8 202.7 L67.3 202 L67.9 201.2 L68.4 200.8 L69 200.4 L69.5 199.8 L70.1 199.7 L70.6 199.3 L71.2 199 L71.7 198.5 L72.3 198.4 L72.8 198.3 L73.5 198.4 L74.2 198.3 L74.9 198.2 L75.6 198 L76.3 198.1 L77 198.2 L77.7 198.5 L78.4 198.7 L79.1 199.9 L79.8 200.5 L80.5 200.5 L81.2 200.7 L81.9 201 L82.6 201.3 L83.3 201.2 L84 200.9 L84.7 201.6 L85.4 202 L86.1 202 L86.8 201.9 L87.5 202 L88.2 202.2 L88.9 202.5 L89.6 202.2 L90.3 202.3 L91 202 L91.7 202.6 L92.4 202.9 L93.1 202.5 L93.8 202.5 L94.5 202.8 L95.2 202 L95.9 201.8 L96.6 201.9 L97.3 202 L98 201.2 L98.7 200.6 L99.4 200.6 L100.1 200.9 L100.8 200.8 L101.5 200.3 L102.2 199.6 L102.9 199 L103.6 199.5 L104.3 199.7 L105 199.7 L105.7 199.8 L106.4 199.9 L107.1 199.4 L107.8 199.4 L108.5 199 L109.2 199.4 L109.9 198.9 L110.6 198.5 L111.3 198 L112 198.7 L112.7 199.1 L113.4 199.1 L114.1 198.9 L114.8 199.6 L115.5 199.5 L116.2 199.3 L116.9 198.9 L117.6 199.2 L118.3 199.3 L119 199.2 L119.7 199.3 L120.4 199.7 L121.1 199.7 L121.8 200.1 L122.5 199.9 L123.2 199.6 L123.9 199.5 L124.6 199.2 L125.3 199.1 L126 198.8 L126.7 198.7 L127.4 199 L128.1 199.3 L128.8 199.3 L129.5 199.4 L130.2 199.6 L130.9 200.1 L131.6 199.6 L132.3 199.8 L133 201.1 L133.7 201.6 L134.4 201.2 L135.1 200.9 L135.8 201.7 L136.5 202.1 L137.2 201.4 L137.9 201.1 L138.6 201 L139.3 200.7 L140 200.2 L140.7 200.4 L141.4 200.6 L142.1 200.3 L142.8 200.7 L143.5 200.7 L144.2 200.3 L144.9 200.7 L145.6 200.5 L146.3 200.5 L147 200.3 L147.7 200.9 L148.4 201.7 L149.1 201 L149.8 200.3 L150.5 200.5 L151.2 200.6 L151.9 200.6 L152.6 200.5 L153.3 200.5 L154 200.5 L154.7 200.5 L155.4 200.8 L156.1 201.2 L156.8 201.8 L157.5 201.8 L158.2 201.3 L158.9 200.6 L159.6 200.6 L160.3 201 L161 200.8 L161.7 200.5 L162.4 200.7 L163.1 200.8 L163.8 200.3 L164.5 200.3 L165.2 200.6 L165.9 201.2 L166.6 201.2 L167.3 200.8 L168 200.8 L168.7 201.1 L169.4 201.3 L170.1 201.4 L170.8 200.8 L171.5 200.8 L172.2 200.4 L172.9 199.9 L173.6 199.4 L174.3 199.1 L175 199.4 L175.7 199.7 L176.4 199.8 L177.1 200.1" stroke="#c0c0c0" stroke-width="1.4" fill="none" opacity="0.3" stroke-linejoin="round"/>
<path d="M17.5 180 L17.8 182.8 L18.1 184.9 L18.5 188.2 L18.8 190.1 L19.1 192 L19.4 194.8 L19.7 199.1 L20.1 201.6 L20.4 206.2 L20.7 207.9 L21 211 L21.3 213.6 L21.7 216.6 L22 218.8 L22.3 222 L22.6 224.2 L22.9 225.1 L23.3 225.7 L23.6 227.9 L23.9 228.1 L24.4 225.6 L24.9 225.5 L25.4 226 L25.9 225.6 L26.4 224.2 L26.9 221.5 L27.4 222.5 L27.9 218.6 L28.4 216.7 L28.9 214.8 L29.4 211.2 L29.9 209.7 L30.4 207.6 L30.9 204.8 L31.3 203.2 L31.8 197.4 L32.3 197.5 L32.8 196.4 L33.3 196.7 L33.8 198.1 L34.3 196.4 L34.8 193.7 L35.3 192.5 L35.8 192.1 L36.3 191.5 L36.8 189.1 L37.3 188.1 L37.8 186.5 L38.3 186.8 L38.8 184.6 L39.4 184.8 L40 186.8 L40.6 186.6 L41.1 187.3 L41.7 190.3 L42.3 189.6 L42.9 190.6 L43.5 190 L44.1 192.9 L44.7 195.5 L45.3 194.7 L45.8 196.6 L46.4 198.1 L47 197.1 L47.6 198.5 L48.2 199.6 L48.8 201.2 L49.4 201.5 L49.9 202.5 L50.5 203.5 L51.1 204.1 L51.7 204.6 L52.3 206 L52.9 206.8 L53.5 207.8 L54.1 207.7 L54.6 207.8 L55.2 207.3 L55.8 207.7 L56.4 207.3 L56.9 208 L57.5 207.7 L58 207.7 L58.6 207.4 L59.1 207 L59.7 207 L60.2 206.5 L60.8 206.8 L61.3 207 L61.9 206.6 L62.4 206.2 L63 205.9 L63.5 205.1 L64.1 204.9 L64.6 204.4 L65.1 203.7 L65.7 202.9 L66.2 202.7 L66.8 201.7 L67.3 201.2 L67.9 200.3 L68.4 200 L69 199.8 L69.5 199.2 L70.1 199 L70.6 198.7 L71.2 197.9 L71.7 197.7 L72.3 197.8 L72.8 198.5 L73.5 198 L74.2 197.6 L74.9 198.4 L75.6 199.4 L76.3 199.4 L77 199.6 L77.7 200 L78.4 200.5 L79.1 200.4 L79.8 200.8 L80.5 201.3 L81.2 201.2 L81.9 201.2 L82.6 201.2 L83.3 201.5 L84 202.2 L84.7 202.4 L85.4 202.5 L86.1 202.1 L86.8 201.8 L87.5 202.2 L88.2 201.1 L88.9 200.7 L89.6 201.1 L90.3 201.3 L91 201.5 L91.7 201.7 L92.4 202.1 L93.1 202.6 L93.8 202.1 L94.5 202.1 L95.2 201.8 L95.9 201.8 L96.6 201.7 L97.3 201.5 L98 200.7 L98.7 200.5 L99.4 200.6 L100.1 200.9 L100.8 200.8 L101.5 200.3 L102.2 199.9 L102.9 200 L103.6 199.5 L104.3 199.9 L105 200.2 L105.7 200.2 L106.4 199.6 L107.1 199.1 L107.8 198.8 L108.5 198.4 L109.2 198.3 L109.9 198.1 L110.6 197.8 L111.3 198.2 L112 198.7 L112.7 198.2 L113.4 198.5 L114.1 199.4 L114.8 199.7 L115.5 199.1 L116.2 198.7 L116.9 199.4 L117.6 199.9 L118.3 199.5 L119 199.9 L119.7 200 L120.4 200.1 L121.1 200.2 L121.8 200.5 L122.5 200.5 L123.2 200.5 L123.9 200.2 L124.6 200.3 L125.3 200.4 L126 200.6 L126.7 200.8 L127.4 200.6 L128.1 200 L128.8 200.1 L129.5 200.3 L130.2 200 L130.9 199.3 L131.6 199.5 L132.3 200.1 L133 200.4 L133.7 200.7 L134.4 201.2 L135.1 201.9 L135.8 201.9 L136.5 201.6 L137.2 201.5 L137.9 202.3 L138.6 202.2 L139.3 202.2 L140 201.8 L140.7 201.9 L141.4 201.9 L142.1 201.4 L142.8 201.1 L143.5 201.2 L144.2 200.9 L144.9 201.1 L145.6 200.9 L146.3 200.8 L147 201 L147.7 201.1 L148.4 201.2 L149.1 200.9 L149.8 200.8 L150.5 201 L151.2 200.9 L151.9 200.3 L152.6 201.1 L153.3 201.7 L154 202.1 L154.7 201.8 L155.4 201.9 L156.1 202.3 L156.8 201.8 L157.5 201.3 L158.2 201.2 L158.9 200.9 L159.6 200.9 L160.3 200.5 L161 200.5 L161.7 200.8 L162.4 201.3 L163.1 201.1 L163.8 200.7 L164.5 200.9 L165.2 200.8 L165.9 200.6 L166.6 200.5 L167.3 200.6 L168 201.1 L168.7 200.8 L169.4 200.5 L170.1 200.5 L170.8 200.4 L171.5 200.5 L172.2 200.3 L172.9 199.8 L173.6 199.9 L174.3 200.3 L175 200.4 L175.7 200.5 L176.4 200.5 L177.1 200.9" stroke="#c0c0c0" stroke-width="1.4" fill="none" opacity="0.3" stroke-linejoin="round"/>
<path d="M17.5 184.8 L17.8 187.8 L18.1 189.7 L18.5 192.3 L18.8 195.1 L19.1 197.2 L19.4 200.4 L19.7 201.8 L20.1 205.9 L20.4 208.2 L20.7 210 L21 213.1 L21.3 214.9 L21.7 215.8 L22 219.4 L22.3 219.5 L22.6 221.4 L22.9 219.9 L23.3 221.1 L23.6 221.2 L23.9 224 L24.4 225.1 L24.9 225.9 L25.4 224.7 L25.9 222.8 L26.4 221.9 L26.9 221.8 L27.4 218.8 L27.9 218.6 L28.4 212.2 L28.9 208.8 L29.4 206.2 L29.9 205.1 L30.4 205.6 L30.9 205.6 L31.3 202.7 L31.8 200.4 L32.3 198.5 L32.8 198.7 L33.3 198.7 L33.8 197.4 L34.3 194.4 L34.8 191.1 L35.3 188.5 L35.8 188.5 L36.3 188.1 L36.8 185.8 L37.3 185.9 L37.8 184.7 L38.3 185.5 L38.8 187.3 L39.4 187.2 L40 189.1 L40.6 188.8 L41.1 190.1 L41.7 190.7 L42.3 190.6 L42.9 190.6 L43.5 189.8 L44.1 189.5 L44.7 191 L45.3 190.9 L45.8 192.4 L46.4 193.6 L47 196.3 L47.6 197.7 L48.2 198.9 L48.8 200.5 L49.4 202.3 L49.9 203.5 L50.5 205.3 L51.1 206.1 L51.7 206.9 L52.3 206.5 L52.9 207.7 L53.5 208.5 L54.1 209 L54.6 208.6 L55.2 208.6 L55.8 208.5 L56.4 208.8 L56.9 209.1 L57.5 209.3 L58 208.7 L58.6 208.5 L59.1 208.1 L59.7 207.7 L60.2 207.5 L60.8 207.1 L61.3 206.7 L61.9 206.2 L62.4 206 L63 205.6 L63.5 205.1 L64.1 204.5 L64.6 203.5 L65.1 203.1 L65.7 202.2 L66.2 201.2 L66.8 200.4 L67.3 199.5 L67.9 199 L68.4 198.6 L69 199 L69.5 199.3 L70.1 199 L70.6 198.9 L71.2 198.9 L71.7 198.5 L72.3 198.8 L72.8 198.6 L73.5 198.9 L74.2 199.1 L74.9 199.2 L75.6 199.4 L76.3 200.1 L77 200.7 L77.7 201.8 L78.4 201.6 L79.1 201.3 L79.8 200.8 L80.5 200.8 L81.2 201.2 L81.9 201.3 L82.6 201 L83.3 201.6 L84 201.4 L84.7 201.3 L85.4 201.5 L86.1 202.3 L86.8 202.5 L87.5 202.1 L88.2 201.9 L88.9 202.8 L89.6 203 L90.3 203.3 L91 203.6 L91.7 203.2 L92.4 203.4 L93.1 203.2 L93.8 202.7 L94.5 202.3 L95.2 202.1 L95.9 202 L96.6 201.5 L97.3 200.8 L98 201.1 L98.7 200.7 L99.4 200 L100.1 199.5 L100.8 199.6 L101.5 199.8 L102.2 199.4 L102.9 199.1 L103.6 199.7 L104.3 200.2 L105 200.4 L105.7 199.9 L106.4 200 L107.1 199.7 L107.8 199.7 L108.5 199.9 L109.2 199.3 L109.9 199 L110.6 199.2 L111.3 199.6 L112 200 L112.7 200 L113.4 200.1 L114.1 199.8 L114.8 199 L115.5 199.5 L116.2 199.5 L116.9 199.9 L117.6 199.5 L118.3 199.4 L119 199.8 L119.7 200.1 L120.4 199.5 L121.1 199.1 L121.8 199 L122.5 199.2 L123.2 199 L123.9 198.8 L124.6 199.4 L125.3 199.7 L126 199.6 L126.7 199.7 L127.4 200 L128.1 200.2 L128.8 200.6 L129.5 200.2 L130.2 199.9 L130.9 200.1 L131.6 200.1 L132.3 200.2 L133 200.3 L133.7 200.7 L134.4 201.2 L135.1 200.8 L135.8 200.4 L136.5 200.3 L137.2 200.4 L137.9 201.1 L138.6 201.3 L139.3 201.3 L140 201.3 L140.7 201.3 L141.4 200.9 L142.1 200.6 L142.8 200.8 L143.5 200.8 L144.2 200.1 L144.9 199.8 L145.6 200.2 L146.3 200.7 L147 200.8 L147.7 200.3 L148.4 200.3 L149.1 200.6 L149.8 200.4 L150.5 200.6 L151.2 200.5 L151.9 200.8 L152.6 201.2 L153.3 201 L154 201.4 L154.7 201.8 L155.4 202 L156.1 202.2 L156.8 201.7 L157.5 201.6 L158.2 201.3 L158.9 201.2 L159.6 201 L160.3 200.8 L161 201.2 L161.7 201.5 L162.4 200.7 L163.1 200.2 L163.8 200.6 L164.5 201 L165.2 200.8 L165.9 200.6 L166.6 201.2 L167.3 201.4 L168 200.9 L168.7 201 L169.4 200.9 L170.1 200.7 L170.8 200.9 L171.5 200.8 L172.2 201.2 L172.9 201.4 L173.6 201.7 L174.3 201.4 L175 201.2 L175.7 201.4 L176.4 201.7 L177.1 201" stroke="#c0c0c0" stroke-width="1.4" fill="none" opacity="0.3" stroke-linejoin="round"/>
<path d="M17.5 184.3 L17.8 186.7 L18.1 189.5 L18.5 193.1 L18.8 194.8 L19.1 198.4 L19.4 201.3 L19.7 203.4 L20.1 205 L20.4 206.7 L20.7 209 L21 211.4 L21.3 212.7 L21.7 216.2 L22 216.3 L22.3 218.9 L22.6 219.5 L22.9 221.3 L23.3 222.8 L23.6 224.2 L23.9 225 L24.4 222.5 L24.9 221.7 L25.4 221.2 L25.9 218.9 L26.4 217.1 L26.9 216.5 L27.4 216.1 L27.9 214.5 L28.4 212.1 L28.9 212.2 L29.4 210.7 L29.9 209.2 L30.4 205.1 L30.9 205.9 L31.3 204.2 L31.8 201 L32.3 198.5 L32.8 198.8 L33.3 196.4 L33.8 193.9 L34.3 192.2 L34.8 193.6 L35.3 191.8 L35.8 189.8 L36.3 190 L36.8 189 L37.3 185.6 L37.8 187.1 L38.3 187.9 L38.8 187.1 L39.4 187.8 L40 188.1 L40.6 188.5 L41.1 187.4 L41.7 187.6 L42.3 188.5 L42.9 189.2 L43.5 188.3 L44.1 190.3 L44.7 191.2 L45.3 193 L45.8 193.8 L46.4 195 L47 195.9 L47.6 197.1 L48.2 198.1 L48.8 199.7 L49.4 200.9 L49.9 201.7 L50.5 202.6 L51.1 203.9 L51.7 205.2 L52.3 206.3 L52.9 207 L53.5 207.3 L54.1 208 L54.6 208.6 L55.2 208.7 L55.8 208.5 L56.4 208.5 L56.9 208.9 L57.5 209.2 L58 209.8 L58.6 209.6 L59.1 209.6 L59.7 209.2 L60.2 208.9 L60.8 208.9 L61.3 208.6 L61.9 207.5 L62.4 206.6 L63 205.2 L63.5 204.5 L64.1 204 L64.6 203.1 L65.1 202.3 L65.7 201.3 L66.2 200.7 L66.8 200.3 L67.3 199.9 L67.9 200.1 L68.4 199.8 L69 199.1 L69.5 199.2 L70.1 199.3 L70.6 199.6 L71.2 199.3 L71.7 199.3 L72.3 199.3 L72.8 198.9 L73.5 199.6 L74.2 200.2 L74.9 200.6 L75.6 201 L76.3 201.2 L77 201.2 L77.7 201.1 L78.4 201 L79.1 200.9 L79.8 201.4 L80.5 201.7 L81.2 201.4 L81.9 201.7 L82.6 202.7 L83.3 202.7 L84 202.2 L84.7 202 L85.4 202.2 L86.1 201.6 L86.8 200.8 L87.5 200.6 L88.2 200.8 L88.9 200.3 L89.6 200.6 L90.3 201 L91 201.4 L91.7 201.8 L92.4 201.7 L93.1 201.8 L93.8 201.8 L94.5 202.1 L95.2 202.1 L95.9 201.6 L96.6 202 L97.3 202.3 L98 202 L98.7 201.5 L99.4 200.8 L100.1 200.7 L100.8 201.2 L101.5 200.9 L102.2 200.8 L102.9 200.5 L103.6 200.5 L104.3 200.1 L105 199.8 L105.7 199.6 L106.4 199.7 L107.1 199 L107.8 198.6 L108.5 198.6 L109.2 198.5 L109.9 198.8 L110.6 198.5 L111.3 198.1 L112 198.4 L112.7 198.7 L113.4 198.3 L114.1 198.3 L114.8 198.6 L115.5 199.4 L116.2 199.4 L116.9 199.7 L117.6 199.8 L118.3 200.6 L119 200.1 L119.7 200 L120.4 199.4 L121.1 199.4 L121.8 199.4 L122.5 199.3 L123.2 199.3 L123.9 199.5 L124.6 199.9 L125.3 200.3 L126 199.5 L126.7 199.8 L127.4 200 L128.1 200.1 L128.8 199.7 L129.5 199.5 L130.2 200.5 L130.9 200.5 L131.6 200.4 L132.3 200.8 L133 201 L133.7 201.1 L134.4 200.4 L135.1 200.5 L135.8 201.1 L136.5 201.3 L137.2 201.5 L137.9 201 L138.6 201.1 L139.3 201.7 L140 201.7 L140.7 201.5 L141.4 201.2 L142.1 200.9 L142.8 200.6 L143.5 200.8 L144.2 200.9 L144.9 201.4 L145.6 201.2 L146.3 200.6 L147 200.4 L147.7 200.2 L148.4 200.9 L149.1 200.8 L149.8 200.2 L150.5 200 L151.2 200.2 L151.9 200.2 L152.6 200 L153.3 200.2 L154 200.1 L154.7 200 L155.4 199.8 L156.1 199.2 L156.8 200.4 L157.5 201.1 L158.2 201.6 L158.9 202.1 L159.6 202 L160.3 202.4 L161 202.3 L161.7 202 L162.4 202.5 L163.1 201.8 L163.8 201.6 L164.5 201 L165.2 200.7 L165.9 201.4 L166.6 201.9 L167.3 201.4 L168 200.7 L168.7 200 L169.4 200.8 L170.1 201 L170.8 201.2 L171.5 201.3 L172.2 201.4 L172.9 201.2 L173.6 201.2 L174.3 201.3 L175 201.7 L175.7 201.1 L176.4 200.1 L177.1 199.6" stroke="#c0c0c0" stroke-width="1.4" fill="none" opacity="0.3" stroke-linejoin="round"/>
<path d="M17.5 183.2 L17.8 184.7 L18.1 186.5 L18.5 189 L18.8 192.6 L19.1 195.2 L19.4 197.1 L19.7 200.6 L20.1 204 L20.4 209.6 L20.7 214.5 L21 218.9 L21.3 220.9 L21.7 221.6 L22 224.8 L22.3 226.4 L22.6 227.7 L22.9 228.6 L23.3 226 L23.6 225.3 L23.9 224.4 L24.4 225.6 L24.9 224 L25.4 222.1 L25.9 218.8 L26.4 217.8 L26.9 215.6 L27.4 216.1 L27.9 214.9 L28.4 213 L28.9 209.8 L29.4 210.7 L29.9 205.6 L30.4 204.5 L30.9 201.3 L31.3 199 L31.8 196.7 L32.3 192.3 L32.8 190.8 L33.3 188.9 L33.8 186.7 L34.3 187.9 L34.8 187.3 L35.3 187.6 L35.8 186.2 L36.3 186.4 L36.8 186.8 L37.3 185.2 L37.8 187.7 L38.3 187.6 L38.8 188 L39.4 187.6 L40 187.4 L40.6 188.8 L41.1 189.8 L41.7 190.7 L42.3 192 L42.9 190.4 L43.5 190.7 L44.1 191.2 L44.7 192.5 L45.3 193.6 L45.8 194.3 L46.4 194.2 L47 195.4 L47.6 196.2 L48.2 198.3 L48.8 199.7 L49.4 200.3 L49.9 201.7 L50.5 202.5 L51.1 203.5 L51.7 204.8 L52.3 205.7 L52.9 207.3 L53.5 208 L54.1 208.4 L54.6 209.3 L55.2 209.4 L55.8 209.8 L56.4 209.8 L56.9 209.8 L57.5 209.7 L58 209.5 L58.6 209.1 L59.1 208.9 L59.7 208.4 L60.2 207.7 L60.8 207 L61.3 206.5 L61.9 206 L62.4 205.5 L63 204.4 L63.5 203.4 L64.1 203 L64.6 202.7 L65.1 202.3 L65.7 202 L66.2 201.5 L66.8 200.6 L67.3 199.8 L67.9 199.5 L68.4 199.4 L69 199.1 L69.5 198.7 L70.1 198.3 L70.6 197.8 L71.2 197.7 L71.7 197.8 L72.3 198.1 L72.8 197.9 L73.5 198.1 L74.2 197.8 L74.9 198.5 L75.6 199.4 L76.3 199.6 L77 199.3 L77.7 199.6 L78.4 199.8 L79.1 200.5 L79.8 200.7 L80.5 201 L81.2 201.2 L81.9 201.6 L82.6 201.7 L83.3 201.4 L84 201.7 L84.7 201.6 L85.4 201.4 L86.1 201.1 L86.8 201.9 L87.5 203 L88.2 203.2 L88.9 202.8 L89.6 203.2 L90.3 202.5 L91 202.4 L91.7 201.8 L92.4 201.3 L93.1 201 L93.8 200.9 L94.5 200.5 L95.2 200.6 L95.9 200.4 L96.6 200.9 L97.3 200.8 L98 200.6 L98.7 200.6 L99.4 200.4 L100.1 199.8 L100.8 199.1 L101.5 199.1 L102.2 199.7 L102.9 200.3 L103.6 199.9 L104.3 199.3 L105 199.1 L105.7 198.6 L106.4 198.8 L107.1 198.6 L107.8 198.7 L108.5 198.8 L109.2 198.4 L109.9 198.3 L110.6 198.1 L111.3 198.5 L112 199.2 L112.7 198.2 L113.4 198.6 L114.1 198.7 L114.8 199.1 L115.5 199.2 L116.2 199.1 L116.9 199.6 L117.6 199.6 L118.3 199 L119 199.2 L119.7 198.6 L120.4 199.1 L121.1 199.5 L121.8 199.3 L122.5 199.5 L123.2 199.9 L123.9 200.5 L124.6 200.4 L125.3 200 L126 200.4 L126.7 200.3 L127.4 199.5 L128.1 199.4 L128.8 199.9 L129.5 199.9 L130.2 199.5 L130.9 199.6 L131.6 200.2 L132.3 200.2 L133 200.2 L133.7 200.4 L134.4 199.8 L135.1 200.1 L135.8 200.3 L136.5 200.4 L137.2 200 L137.9 200.1 L138.6 200.4 L139.3 200.1 L140 199.2 L140.7 199.8 L141.4 199.9 L142.1 200.1 L142.8 200.4 L143.5 200.7 L144.2 201 L144.9 201.3 L145.6 200.9 L146.3 201 L147 200.7 L147.7 201 L148.4 201.2 L149.1 200.5 L149.8 200.7 L150.5 201 L151.2 201 L151.9 200.9 L152.6 200.4 L153.3 200.6 L154 200.2 L154.7 199.2 L155.4 199.2 L156.1 199.7 L156.8 199.9 L157.5 200 L158.2 200.1 L158.9 200.8 L159.6 201.1 L160.3 200.7 L161 200.8 L161.7 201 L162.4 201.2 L163.1 201.4 L163.8 200.9 L164.5 201.4 L165.2 201.8 L165.9 201.8 L166.6 201.8 L167.3 201.7 L168 201.5 L168.7 201.4 L169.4 200.9 L170.1 200.9 L170.8 201.2 L171.5 201.6 L172.2 202 L172.9 201.9 L173.6 201.6 L174.3 201.9 L175 201.8 L175.7 201.3 L176.4 201.2 L177.1 201.3" stroke="#c0c0c0" stroke-width="1.4" fill="none" opacity="0.3" stroke-linejoin="round"/>
</g>
<g filter="url(#blur1)">
<path d="M17.5 226 L17.8 228.3 L18.1 230.6 L18.5 233.1 L18.8 235.6 L19.1 238.2 L19.4 240.7 L19.7 243.2 L20.1 245.7 L20.4 248.1 L20.7 250.3 L21 252.5 L21.3 254.4 L21.7 256.2 L22 257.9 L22.3 259.2 L22.6 260.4 L22.9 261.3 L23.3 262 L23.6 262.4 L23.9 262.5 L24.4 262.4 L24.8 262.1 L25.3 261.6 L25.8 260.9 L26.2 260.1 L26.7 259.1 L27.2 257.9 L27.7 256.5 L28.1 255.1 L28.6 253.5 L29.1 251.8 L29.5 250 L30 248.2 L30.5 246.3 L30.9 244.5 L31.4 242.6 L31.9 240.7 L32.4 238.9 L32.8 237.1 L33.3 235.4 L33.8 233.8 L34.2 232.4 L34.7 231 L35.2 229.8 L35.6 228.8 L36.1 228 L36.6 227.3 L37.1 226.8 L37.5 226.5 L38 226.4 L38.6 226.5 L39.2 226.7 L39.9 227 L40.5 227.5 L41.1 228.1 L41.7 228.8 L42.4 229.6 L43 230.5 L43.6 231.5 L44.2 232.6 L44.9 233.7 L45.5 234.9 L46.1 236.2 L46.7 237.5 L47.4 238.8 L48 240 L48.6 241.3 L49.2 242.6 L49.8 243.8 L50.5 244.9 L51.1 246 L51.7 247 L52.3 247.9 L53 248.7 L53.6 249.4 L54.2 250 L54.8 250.5 L55.5 250.8 L56.1 251 L56.7 251.1 L57.2 251.1 L57.8 251 L58.3 250.9 L58.8 250.7 L59.4 250.5 L59.9 250.3 L60.5 250 L61 249.7 L61.5 249.4 L62.1 249 L62.6 248.6 L63.1 248.2 L63.7 247.8 L64.2 247.4 L64.8 247 L65.3 246.5 L65.8 246.1 L66.4 245.7 L66.9 245.3 L67.4 244.9 L68 244.5 L68.5 244.2 L69 243.9 L69.6 243.6 L70.1 243.4 L70.7 243.2 L71.2 243 L71.7 242.9 L72.3 242.8 L72.8 243 L73.5 243.3 L74.2 243.4 L74.9 243.1 L75.6 243.1 L76.3 243.4 L77 243.6 L77.7 243.5 L78.4 243.7 L79.1 244.1 L79.8 244.4 L80.5 244.3 L81.2 244.1 L81.9 244.1 L82.6 244.3 L83.3 244.1 L84 243.9 L84.7 244.1 L85.4 244.6 L86.1 244.7 L86.8 244.5 L87.5 244.4 L88.2 244.6 L88.9 244.5 L89.6 244 L90.3 243.7 L91 243.8 L91.7 244 L92.4 243.9 L93.1 243.6 L93.8 243.7 L94.5 243.7 L95.2 243.4 L95.9 242.8 L96.6 242.5 L97.3 242.5 L98 242.4 L98.7 242.1 L99.4 242.1 L100.1 242.3 L100.8 242.4 L101.5 242 L102.2 241.6 L102.9 241.5 L103.6 241.6 L104.3 241.3 L105 241.1 L105.7 241.3 L106.4 241.7 L107.1 241.8 L107.8 241.6 L108.5 241.5 L109.2 241.7 L109.9 241.6 L110.6 241.2 L111.3 241 L112 241.3 L112.7 241.6 L113.4 241.5 L114.1 241.4 L114.8 241.6 L115.5 241.8 L116.2 241.6 L116.9 241.2 L117.6 241.1 L118.3 241.3 L119 241.4 L119.7 241.2 L120.4 241.3 L121.1 241.7 L121.8 241.9 L122.5 241.6 L123.2 241.3 L123.9 241.3 L124.6 241.4 L125.3 241.2 L126 241 L126.7 241.2 L127.4 241.6 L128.1 241.7 L128.8 241.5 L129.5 241.5 L130.2 241.6 L130.9 241.5 L131.6 241.1 L132.3 241 L133 241.3 L133.7 241.5 L134.4 241.5 L135.1 241.4 L135.8 241.7 L136.5 241.8 L137.2 241.6 L137.9 241.2 L138.6 241.2 L139.3 241.4 L140 241.4 L140.7 241.3 L141.4 241.4 L142.1 241.8 L142.8 241.9 L143.5 241.7 L144.2 241.4 L144.9 241.5 L145.6 241.6 L146.3 241.3 L147 241.2 L147.7 241.5 L148.4 241.9 L149.1 241.9 L149.8 241.7 L150.5 241.7 L151.2 241.9 L151.9 241.7 L152.6 241.3 L153.3 241.2 L154 241.5 L154.7 241.8 L155.4 241.7 L156.1 241.7 L156.8 241.9 L157.5 242.1 L158.2 241.8 L158.9 241.4 L159.6 241.4 L160.3 241.6 L161 241.6 L161.7 241.5 L162.4 241.6 L163.1 242 L163.8 242.1 L164.5 241.8 L165.2 241.6 L165.9 241.6 L166.6 241.7 L167.3 241.4 L168 241.3 L168.7 241.6 L169.4 242 L170.1 241.9 L170.8 241.7 L171.5 241.7 L172.2 241.9 L172.9 241.7 L173.6 241.3 L174.3 241.2 L175 241.5 L175.7 241.7 L176.4 241.6 L177.1 241.6" stroke="#f0f0f0" stroke-width="13" fill="none" stroke-linejoin="round"/>
<path d="M17.5 226 L17.8 228.3 L18.1 230.6 L18.5 233.1 L18.8 235.6 L19.1 238.2 L19.4 240.7 L19.7 243.2 L20.1 245.7 L20.4 248.1 L20.7 250.3 L21 252.5 L21.3 254.4 L21.7 256.2 L22 257.9 L22.3 259.2 L22.6 260.4 L22.9 261.3 L23.3 262 L23.6 262.4 L23.9 262.5 L24.4 262.4 L24.8 262.1 L25.3 261.6 L25.8 260.9 L26.2 260.1 L26.7 259.1 L27.2 257.9 L27.7 256.5 L28.1 255.1 L28.6 253.5 L29.1 251.8 L29.5 250 L30 248.2 L30.5 246.3 L30.9 244.5 L31.4 242.6 L31.9 240.7 L32.4 238.9 L32.8 237.1 L33.3 235.4 L33.8 233.8 L34.2 232.4 L34.7 231 L35.2 229.8 L35.6 228.8 L36.1 228 L36.6 227.3 L37.1 226.8 L37.5 226.5 L38 226.4 L38.6 226.5 L39.2 226.7 L39.9 227 L40.5 227.5 L41.1 228.1 L41.7 228.8 L42.4 229.6 L43 230.5 L43.6 231.5 L44.2 232.6 L44.9 233.7 L45.5 234.9 L46.1 236.2 L46.7 237.5 L47.4 238.8 L48 240 L48.6 241.3 L49.2 242.6 L49.8 243.8 L50.5 244.9 L51.1 246 L51.7 247 L52.3 247.9 L53 248.7 L53.6 249.4 L54.2 250 L54.8 250.5 L55.5 250.8 L56.1 251 L56.7 251.1 L57.2 251.1 L57.8 251 L58.3 250.9 L58.8 250.7 L59.4 250.5 L59.9 250.3 L60.5 250 L61 249.7 L61.5 249.4 L62.1 249 L62.6 248.6 L63.1 248.2 L63.7 247.8 L64.2 247.4 L64.8 247 L65.3 246.5 L65.8 246.1 L66.4 245.7 L66.9 245.3 L67.4 244.9 L68 244.5 L68.5 244.2 L69 243.9 L69.6 243.6 L70.1 243.4 L70.7 243.2 L71.2 243 L71.7 242.9 L72.3 242.8 L72.8 243 L73.5 243.3 L74.2 243.4 L74.9 243.1 L75.6 243.1 L76.3 243.4 L77 243.6 L77.7 243.5 L78.4 243.7 L79.1 244.1 L79.8 244.4 L80.5 244.3 L81.2 244.1 L81.9 244.1 L82.6 244.3 L83.3 244.1 L84 243.9 L84.7 244.1 L85.4 244.6 L86.1 244.7 L86.8 244.5 L87.5 244.4 L88.2 244.6 L88.9 244.5 L89.6 244 L90.3 243.7 L91 243.8 L91.7 244 L92.4 243.9 L93.1 243.6 L93.8 243.7 L94.5 243.7 L95.2 243.4 L95.9 242.8 L96.6 242.5 L97.3 242.5 L98 242.4 L98.7 242.1 L99.4 242.1 L100.1 242.3 L100.8 242.4 L101.5 242 L102.2 241.6 L102.9 241.5 L103.6 241.6 L104.3 241.3 L105 241.1 L105.7 241.3 L106.4 241.7 L107.1 241.8 L107.8 241.6 L108.5 241.5 L109.2 241.7 L109.9 241.6 L110.6 241.2 L111.3 241 L112 241.3 L112.7 241.6 L113.4 241.5 L114.1 241.4 L114.8 241.6 L115.5 241.8 L116.2 241.6 L116.9 241.2 L117.6 241.1 L118.3 241.3 L119 241.4 L119.7 241.2 L120.4 241.3 L121.1 241.7 L121.8 241.9 L122.5 241.6 L123.2 241.3 L123.9 241.3 L124.6 241.4 L125.3 241.2 L126 241 L126.7 241.2 L127.4 241.6 L128.1 241.7 L128.8 241.5 L129.5 241.5 L130.2 241.6 L130.9 241.5 L131.6 241.1 L132.3 241 L133 241.3 L133.7 241.5 L134.4 241.5 L135.1 241.4 L135.8 241.7 L136.5 241.8 L137.2 241.6 L137.9 241.2 L138.6 241.2 L139.3 241.4 L140 241.4 L140.7 241.3 L141.4 241.4 L142.1 241.8 L142.8 241.9 L143.5 241.7 L144.2 241.4 L144.9 241.5 L145.6 241.6 L146.3 241.3 L147 241.2 L147.7 241.5 L148.4 241.9 L149.1 241.9 L149.8 241.7 L150.5 241.7 L151.2 241.9 L151.9 241.7 L152.6 241.3 L153.3 241.2 L154 241.5 L154.7 241.8 L155.4 241.7 L156.1 241.7 L156.8 241.9 L157.5 242.1 L158.2 241.8 L158.9 241.4 L159.6 241.4 L160.3 241.6 L161 241.6 L161.7 241.5 L162.4 241.6 L163.1 242 L163.8 242.1 L164.5 241.8 L165.2 241.6 L165.9 241.6 L166.6 241.7 L167.3 241.4 L168 241.3 L168.7 241.6 L169.4 242 L170.1 241.9 L170.8 241.7 L171.5 241.7 L172.2 241.9 L172.9 241.7 L173.6 241.3 L174.3 241.2 L175 241.5 L175.7 241.7 L176.4 241.6 L177.1 241.6" stroke="#e2e2e2" stroke-width="6" fill="none" stroke-linejoin="round"/>
<path d="M17.5 227.5 L17.8 228.8 L18.1 230.3 L18.5 233.1 L18.8 234.7 L19.1 235.7 L19.4 239.5 L19.7 242.4 L20.1 243.7 L20.4 244.7 L20.7 247.8 L21 250.2 L21.3 249.9 L21.7 253.3 L22 255.3 L22.3 255.8 L22.6 255.6 L22.9 257.6 L23.3 258.9 L23.6 261 L23.9 262.1 L24.4 265.2 L24.8 264.1 L25.3 263.1 L25.8 264 L26.2 264.5 L26.7 263.7 L27.2 261.5 L27.7 259.7 L28.1 259.6 L28.6 257.5 L29.1 257.2 L29.5 256.6 L30 254.7 L30.5 253 L30.9 251.2 L31.4 248.3 L31.9 245.8 L32.4 243.1 L32.8 241.1 L33.3 235.9 L33.8 234.3 L34.2 232.8 L34.7 230.6 L35.2 228.2 L35.6 227.7 L36.1 226.9 L36.6 224.5 L37.1 223 L37.5 225.4 L38 223.2 L38.6 221 L39.2 220.8 L39.9 221.5 L40.5 221.9 L41.1 221.4 L41.7 221.3 L42.4 222.1 L43 222.4 L43.6 224.4 L44.2 226.6 L44.9 230 L45.5 232.4 L46.1 234.2 L46.7 236.1 L47.4 238.3 L48 240.1 L48.6 241.1 L49.2 243.2 L49.8 244.3 L50.5 244.5 L51.1 244.5 L51.7 245.6 L52.3 246.5 L53 247.3 L53.6 248.4 L54.2 249.9 L54.8 250.4 L55.5 250.5 L56.1 250.9 L56.7 251.1 L57.2 251 L57.8 250.5 L58.3 250.9 L58.8 250.9 L59.4 250.4 L59.9 250 L60.5 249.9 L61 249.8 L61.5 249.3 L62.1 248.8 L62.6 248.6 L63.1 248 L63.7 247.2 L64.2 246.7 L64.8 246.7 L65.3 246.5 L65.8 245.8 L66.4 245.6 L66.9 245.9 L67.4 246 L68 246 L68.5 245.6 L69 245.7 L69.6 245.3 L70.1 244.9 L70.7 244.6 L71.2 244.1 L71.7 243.6 L72.3 243.4 L72.8 242.9 L73.5 243 L74.2 243.4 L74.9 243.7 L75.6 243.9 L76.3 243.4 L77 243.9 L77.7 243.7 L78.4 244 L79.1 243.9 L79.8 244.1 L80.5 244.1 L81.2 244.1 L81.9 243.8 L82.6 244 L83.3 244.1 L84 244.3 L84.7 243.7 L85.4 243.9 L86.1 244.3 L86.8 244.8 L87.5 244.6 L88.2 244.4 L88.9 243.9 L89.6 244 L90.3 244 L91 243.7 L91.7 243.4 L92.4 243.5 L93.1 243.8 L93.8 243.6 L94.5 243.6 L95.2 243.7 L95.9 244.2 L96.6 244.3 L97.3 243.2 L98 242.7 L98.7 242.2 L99.4 241.7 L100.1 241.8 L100.8 241.4 L101.5 241.5 L102.2 241 L102.9 240.3 L103.6 240.4 L104.3 240.6 L105 240.8 L105.7 240.9 L106.4 240.6 L107.1 241 L107.8 241.8 L108.5 241.8 L109.2 241.7 L109.9 241.7 L110.6 241.5 L111.3 241.2 L112 240.8 L112.7 240.1 L113.4 240.7 L114.1 241.2 L114.8 241.6 L115.5 241.2 L116.2 241.4 L116.9 241.8 L117.6 242 L118.3 241.3 L119 241.7 L119.7 241.8 L120.4 241.6 L121.1 241.2 L121.8 241.5 L122.5 241.8 L123.2 242 L123.9 241.7 L124.6 241.5 L125.3 241.9 L126 241.9 L126.7 241.2 L127.4 241 L128.1 241.3 L128.8 241.6 L129.5 241.8 L130.2 241.9 L130.9 242 L131.6 241.9 L132.3 241.6 L133 241.4 L133.7 241.3 L134.4 241.7 L135.1 242.2 L135.8 242.3 L136.5 241.9 L137.2 241.9 L137.9 241.9 L138.6 241.7 L139.3 241.3 L140 241.4 L140.7 241.3 L141.4 241 L142.1 240.4 L142.8 240.4 L143.5 241.4 L144.2 241.1 L144.9 241 L145.6 241 L146.3 241.2 L147 241.5 L147.7 241.3 L148.4 241.8 L149.1 242.2 L149.8 242.2 L150.5 242.8 L151.2 242.4 L151.9 242.4 L152.6 242.1 L153.3 242.1 L154 241.9 L154.7 241.3 L155.4 241.8 L156.1 242.3 L156.8 241.4 L157.5 241.5 L158.2 241.9 L158.9 242.1 L159.6 241.3 L160.3 240.8 L161 240.6 L161.7 240.4 L162.4 240.1 L163.1 240.8 L163.8 241.1 L164.5 241.3 L165.2 241.4 L165.9 241.3 L166.6 241.1 L167.3 241.8 L168 241.9 L168.7 241.6 L169.4 241.5 L170.1 241.7 L170.8 242.3 L171.5 242.1 L172.2 241.9 L172.9 241.8 L173.6 241.9 L174.3 241.4 L175 241.1 L175.7 240.8 L176.4 241.1 L177.1 241.1" stroke="#c0c0c0" stroke-width="1.4" fill="none" opacity="0.3" stroke-linejoin="round"/>
<path d="M17.5 225.5 L17.8 228.2 L18.1 231.4 L18.5 233.5 L18.8 235.8 L19.1 239.9 L19.4 243.1 L19.7 244.6 L20.1 246.7 L20.4 248.3 L20.7 250.2 L21 250.6 L21.3 253.4 L21.7 255.4 L22 257.1 L22.3 257.3 L22.6 260.4 L22.9 261.2 L23.3 260.4 L23.6 260.9 L23.9 262.5 L24.4 259.1 L24.8 259.2 L25.3 256.1 L25.8 255.8 L26.2 254.1 L26.7 254.3 L27.2 256.1 L27.7 255.1 L28.1 252.4 L28.6 253.3 L29.1 252.5 L29.5 252 L30 250.3 L30.5 247.1 L30.9 247 L31.4 243.2 L31.9 239.4 L32.4 237.5 L32.8 235.9 L33.3 231.3 L33.8 229.1 L34.2 227.5 L34.7 226.5 L35.2 223.8 L35.6 222.9 L36.1 223 L36.6 223 L37.1 223.1 L37.5 223.9 L38 224.1 L38.6 223.6 L39.2 223.5 L39.9 223.1 L40.5 224.8 L41.1 225.7 L41.7 227 L42.4 227 L43 227.9 L43.6 229.5 L44.2 230.6 L44.9 232.5 L45.5 233.6 L46.1 234 L46.7 234.8 L47.4 235.7 L48 237.1 L48.6 238.7 L49.2 239.9 L49.8 241.3 L50.5 242.8 L51.1 244.7 L51.7 245.8 L52.3 247.1 L53 248.5 L53.6 248.8 L54.2 249.5 L54.8 250.4 L55.5 250.7 L56.1 251 L56.7 251 L57.2 250.9 L57.8 251.2 L58.3 250.4 L58.8 251.2 L59.4 250.9 L59.9 250.6 L60.5 249.7 L61 250.1 L61.5 249.5 L62.1 249.4 L62.6 248.5 L63.1 248.6 L63.7 247.4 L64.2 246.6 L64.8 245.9 L65.3 246.2 L65.8 245.2 L66.4 245.1 L66.9 245.1 L67.4 244.5 L68 244 L68.5 243.4 L69 243.8 L69.6 243.7 L70.1 243.2 L70.7 242.8 L71.2 242.7 L71.7 242.4 L72.3 242.7 L72.8 243 L73.5 243.8 L74.2 243.7 L74.9 243.7 L75.6 243.6 L76.3 243.4 L77 243.9 L77.7 243.8 L78.4 243.7 L79.1 243.9 L79.8 244.6 L80.5 244.7 L81.2 243.9 L81.9 243.4 L82.6 243.6 L83.3 243.1 L84 242.6 L84.7 242.2 L85.4 242.5 L86.1 243 L86.8 242.8 L87.5 242.4 L88.2 242.9 L88.9 243.1 L89.6 243 L90.3 243.1 L91 243.1 L91.7 243.1 L92.4 242.7 L93.1 242.9 L93.8 243.4 L94.5 243.5 L95.2 243.3 L95.9 242.6 L96.6 241.5 L97.3 241.7 L98 242.1 L98.7 242 L99.4 241.6 L100.1 241.6 L100.8 241.5 L101.5 241.6 L102.2 241.7 L102.9 241.7 L103.6 241.7 L104.3 241.7 L105 241.4 L105.7 241.3 L106.4 241.6 L107.1 242.2 L107.8 242 L108.5 241.6 L109.2 241.5 L109.9 241.6 L110.6 241.3 L111.3 241 L112 241.2 L112.7 242 L113.4 242.1 L114.1 241.9 L114.8 241.9 L115.5 242.7 L116.2 242.6 L116.9 242.4 L117.6 241.8 L118.3 241.8 L119 241.4 L119.7 241.3 L120.4 241 L121.1 240.9 L121.8 240.9 L122.5 241.1 L123.2 240.5 L123.9 240.9 L124.6 241.2 L125.3 241.5 L126 241.3 L126.7 241.7 L127.4 242.3 L128.1 242.3 L128.8 242.3 L129.5 242.3 L130.2 241.9 L130.9 241.7 L131.6 241 L132.3 240.4 L133 240.6 L133.7 241.2 L134.4 241.7 L135.1 240.9 L135.8 240.8 L136.5 241.3 L137.2 241.5 L137.9 241.1 L138.6 241 L139.3 241.3 L140 241 L140.7 240.8 L141.4 241.3 L142.1 241.5 L142.8 242.1 L143.5 241.5 L144.2 241.3 L144.9 241 L145.6 241 L146.3 241.1 L147 240.9 L147.7 241 L148.4 241.4 L149.1 241.6 L149.8 241.6 L150.5 241.7 L151.2 241.7 L151.9 242 L152.6 241.9 L153.3 241.9 L154 241.9 L154.7 242.1 L155.4 241.9 L156.1 242.1 L156.8 241.9 L157.5 242.5 L158.2 242.3 L158.9 241.6 L159.6 241.2 L160.3 241.4 L161 241.7 L161.7 241.8 L162.4 241.6 L163.1 242.1 L163.8 242.3 L164.5 242.1 L165.2 242.2 L165.9 242.2 L166.6 242.4 L167.3 242 L168 242 L168.7 241.8 L169.4 242.4 L170.1 242.6 L170.8 242 L171.5 241.6 L172.2 241.5 L172.9 241.4 L173.6 241.2 L174.3 240.2 L175 240.7 L175.7 240.9 L176.4 240.9 L177.1 241.1" stroke="#c0c0c0" stroke-width="1.4" fill="none" opacity="0.3" stroke-linejoin="round"/>
<path d="M17.5 224.5 L17.8 225.3 L18.1 227.3 L18.5 228.1 L18.8 230.1 L19.1 232.3 L19.4 234.4 L19.7 237.1 L20.1 240.5 L20.4 244.7 L20.7 248.9 L21 252.5 L21.3 256.1 L21.7 258.3 L22 260.5 L22.3 263.2 L22.6 264.6 L22.9 265.3 L23.3 264.8 L23.6 263.4 L23.9 261.1 L24.4 260 L24.8 260.4 L25.3 259.7 L25.8 259.2 L26.2 258.3 L26.7 258.7 L27.2 256.8 L27.7 256.9 L28.1 257.4 L28.6 257 L29.1 254.6 L29.5 253.4 L30 249.8 L30.5 245.7 L30.9 241.5 L31.4 240.4 L31.9 239.7 L32.4 237.2 L32.8 234.9 L33.3 232.9 L33.8 229.9 L34.2 230.2 L34.7 229.9 L35.2 231.7 L35.6 230.7 L36.1 227.9 L36.6 228.8 L37.1 228.7 L37.5 227.5 L38 227.9 L38.6 226.4 L39.2 227 L39.9 226.4 L40.5 228.3 L41.1 229.5 L41.7 229.1 L42.4 229.2 L43 230.1 L43.6 230.2 L44.2 231.6 L44.9 233.5 L45.5 234.5 L46.1 234.7 L46.7 236 L47.4 237.6 L48 239.2 L48.6 241.1 L49.2 242.3 L49.8 243.6 L50.5 243.9 L51.1 244.5 L51.7 245.7 L52.3 246.7 L53 247.3 L53.6 248.5 L54.2 248.5 L54.8 249.7 L55.5 250.4 L56.1 251 L56.7 251.6 L57.2 251.2 L57.8 251.4 L58.3 251.2 L58.8 251 L59.4 251.4 L59.9 251.1 L60.5 250.9 L61 250.3 L61.5 249.3 L62.1 248.9 L62.6 248.6 L63.1 247.9 L63.7 247.3 L64.2 247.1 L64.8 246.8 L65.3 245.6 L65.8 244.9 L66.4 244.8 L66.9 244.4 L67.4 243.5 L68 243.5 L68.5 243.4 L69 243.1 L69.6 242.8 L70.1 243.1 L70.7 243.2 L71.2 242.7 L71.7 242.8 L72.3 243.2 L72.8 243.4 L73.5 243.1 L74.2 242.3 L74.9 242.1 L75.6 242.5 L76.3 243.2 L77 243.7 L77.7 243.8 L78.4 243.7 L79.1 244 L79.8 243.8 L80.5 243.3 L81.2 243.4 L81.9 243.6 L82.6 243.4 L83.3 243.4 L84 243.2 L84.7 243.9 L85.4 244.3 L86.1 244.2 L86.8 244.7 L87.5 245 L88.2 244.7 L88.9 244 L89.6 243.4 L90.3 244 L91 244.1 L91.7 243.9 L92.4 243.7 L93.1 243.4 L93.8 243.1 L94.5 242.9 L95.2 242 L95.9 241.7 L96.6 241.8 L97.3 241.9 L98 241.8 L98.7 242 L99.4 242.2 L100.1 242.6 L100.8 242.2 L101.5 242.2 L102.2 241.8 L102.9 241.9 L103.6 241.6 L104.3 241.4 L105 241.6 L105.7 241.7 L106.4 241.5 L107.1 241.1 L107.8 240.8 L108.5 241 L109.2 240.8 L109.9 240.6 L110.6 240 L111.3 240.3 L112 240.8 L112.7 241.1 L113.4 241.5 L114.1 242.1 L114.8 242.4 L115.5 242.3 L116.2 241.8 L116.9 241.8 L117.6 241.8 L118.3 242.1 L119 241.9 L119.7 242 L120.4 242.1 L121.1 242 L121.8 242 L122.5 241.6 L123.2 241.4 L123.9 241.9 L124.6 241.6 L125.3 241.4 L126 241.6 L126.7 241.9 L127.4 242.2 L128.1 241.5 L128.8 241.5 L129.5 241.8 L130.2 241.4 L130.9 241 L131.6 240.7 L132.3 240.8 L133 241.4 L133.7 242 L134.4 242.1 L135.1 242.2 L135.8 242.6 L136.5 242.3 L137.2 242.2 L137.9 242 L138.6 242.3 L139.3 242.2 L140 241.5 L140.7 241.7 L141.4 242 L142.1 242.1 L142.8 242 L143.5 241.3 L144.2 241.3 L144.9 241.2 L145.6 241.1 L146.3 241.1 L147 241.3 L147.7 241.7 L148.4 241.5 L149.1 241.2 L149.8 241.2 L150.5 241.7 L151.2 241.5 L151.9 241.1 L152.6 240.8 L153.3 241.2 L154 241.6 L154.7 241.3 L155.4 241.3 L156.1 241.7 L156.8 242.2 L157.5 242.1 L158.2 241.5 L158.9 241.5 L159.6 241.6 L160.3 241.8 L161 242 L161.7 241.9 L162.4 242.1 L163.1 241.8 L163.8 241.7 L164.5 241.5 L165.2 241.3 L165.9 241.4 L166.6 241.4 L167.3 241.3 L168 242 L168.7 242.2 L169.4 242.4 L170.1 242 L170.8 241.7 L171.5 242 L172.2 242.1 L172.9 241.5 L173.6 241.1 L174.3 240.9 L175 241.3 L175.7 241.1 L176.4 241.1 L177.1 241.5" stroke="#c0c0c0" stroke-width="1.4" fill="none" opacity="0.3" stroke-linejoin="round"/>
<path d="M17.5 223.9 L17.8 225.9 L18.1 228.8 L18.5 230.6 L18.8 234 L19.1 237.9 L19.4 242.8 L19.7 246.1 L20.1 248.3 L20.4 251.8 L20.7 254.7 L21 254.6 L21.3 257.2 L21.7 257.9 L22 258.1 L22.3 257.8 L22.6 257.2 L22.9 258.6 L23.3 257.8 L23.6 256.4 L23.9 258.3 L24.4 258.2 L24.8 258.2 L25.3 257 L25.8 257.6 L26.2 258.1 L26.7 257.6 L27.2 258.2 L27.7 257.7 L28.1 255.4 L28.6 253.7 L29.1 252.1 L29.5 249.1 L30 248.5 L30.5 248.2 L30.9 245.2 L31.4 243 L31.9 241.5 L32.4 240 L32.8 238.4 L33.3 236 L33.8 235.6 L34.2 232.9 L34.7 230.4 L35.2 229.7 L35.6 225.9 L36.1 224.4 L36.6 225.6 L37.1 225.1 L37.5 225.5 L38 225.9 L38.6 224.3 L39.2 225.2 L39.9 225.5 L40.5 226.8 L41.1 227.4 L41.7 228.2 L42.4 228.5 L43 229.4 L43.6 230.8 L44.2 233.2 L44.9 233.5 L45.5 234.8 L46.1 236.6 L46.7 238.2 L47.4 237.8 L48 239.4 L48.6 240.3 L49.2 240.9 L49.8 241.9 L50.5 242.9 L51.1 244.4 L51.7 244.7 L52.3 245.6 L53 248 L53.6 249.1 L54.2 249.5 L54.8 250.6 L55.5 250.8 L56.1 251 L56.7 250.5 L57.2 251.2 L57.8 251 L58.3 250 L58.8 249.4 L59.4 248.9 L59.9 248.5 L60.5 249.2 L61 249 L61.5 248.8 L62.1 248.3 L62.6 247.9 L63.1 247.9 L63.7 247 L64.2 246.7 L64.8 246.3 L65.3 244.9 L65.8 245 L66.4 244.8 L66.9 244.4 L67.4 244.3 L68 243.7 L68.5 243.9 L69 244.5 L69.6 244.6 L70.1 244.3 L70.7 244.2 L71.2 244.2 L71.7 243.9 L72.3 243.9 L72.8 244 L73.5 244 L74.2 243.6 L74.9 243.6 L75.6 243.8 L76.3 243.3 L77 243.4 L77.7 244.1 L78.4 244.3 L79.1 243.8 L79.8 243.5 L80.5 243.8 L81.2 243.6 L81.9 244 L82.6 244.2 L83.3 244.5 L84 245 L84.7 244.9 L85.4 244.9 L86.1 244.8 L86.8 245 L87.5 245.1 L88.2 244.8 L88.9 244.1 L89.6 244.3 L90.3 244.5 L91 244.5 L91.7 244 L92.4 244.5 L93.1 244.4 L93.8 244.1 L94.5 242.8 L95.2 243.4 L95.9 243.7 L96.6 243.6 L97.3 243.1 L98 243.6 L98.7 243.6 L99.4 243.6 L100.1 242.5 L100.8 242.3 L101.5 241.9 L102.2 241.8 L102.9 241.2 L103.6 240.7 L104.3 240.7 L105 241.5 L105.7 241.3 L106.4 241.3 L107.1 241.8 L107.8 241.8 L108.5 241.8 L109.2 241.2 L109.9 241.3 L110.6 241.6 L111.3 241.2 L112 241 L112.7 241 L113.4 240.9 L114.1 241.2 L114.8 240.6 L115.5 240.5 L116.2 240.8 L116.9 241.1 L117.6 241.3 L118.3 241 L119 241.3 L119.7 241.6 L120.4 241.7 L121.1 241.6 L121.8 241.5 L122.5 241.3 L123.2 241.3 L123.9 241 L124.6 241.3 L125.3 241.3 L126 241.6 L126.7 240.9 L127.4 240.6 L128.1 240.9 L128.8 241 L129.5 240.8 L130.2 240.5 L130.9 240.4 L131.6 240.9 L132.3 241.5 L133 241.7 L133.7 241.4 L134.4 241.3 L135.1 241.5 L135.8 241.2 L136.5 240.8 L137.2 240.5 L137.9 241 L138.6 240.8 L139.3 240.9 L140 241.8 L140.7 242.2 L141.4 242.2 L142.1 241.6 L142.8 241.5 L143.5 242.2 L144.2 241.7 L144.9 241.8 L145.6 242 L146.3 241.4 L147 241.5 L147.7 241.6 L148.4 241.9 L149.1 242 L149.8 241.4 L150.5 241.2 L151.2 241.1 L151.9 240.3 L152.6 241.3 L153.3 241.5 L154 241.5 L154.7 241.4 L155.4 241.6 L156.1 242.1 L156.8 242.2 L157.5 241.9 L158.2 243 L158.9 242.8 L159.6 243 L160.3 243 L161 243 L161.7 243.4 L162.4 243.4 L163.1 242.7 L163.8 241.8 L164.5 241.3 L165.2 241.3 L165.9 241.3 L166.6 240.7 L167.3 241.2 L168 241.7 L168.7 241.2 L169.4 241.3 L170.1 241.8 L170.8 242.1 L171.5 241.8 L172.2 241.2 L172.9 242 L173.6 242.4 L174.3 242.7 L175 242.8 L175.7 242.5 L176.4 242.6 L177.1 242.6" stroke="#c0c0c0" stroke-width="1.4" fill="none" opacity="0.3" stroke-linejoin="round"/>
<path d="M17.5 226.3 L17.8 228.7 L18.1 230.5 L18.5 233.5 L18.8 236.1 L19.1 238.8 L19.4 241.5 L19.7 243.1 L20.1 247.2 L20.4 249.4 L20.7 252.3 L21 255.7 L21.3 257.4 L21.7 258.2 L22 258.5 L22.3 258.2 L22.6 258.5 L22.9 259.3 L23.3 260 L23.6 260 L23.9 257.8 L24.4 257.9 L24.8 259.2 L25.3 260.2 L25.8 262.1 L26.2 261.3 L26.7 258.6 L27.2 257.6 L27.7 254.8 L28.1 256.7 L28.6 254.7 L29.1 252.7 L29.5 251.3 L30 248.9 L30.5 248.5 L30.9 247.8 L31.4 245.9 L31.9 243 L32.4 237.8 L32.8 235.1 L33.3 231.2 L33.8 228.7 L34.2 227.3 L34.7 225 L35.2 224.9 L35.6 225 L36.1 225.2 L36.6 227.4 L37.1 225.8 L37.5 226.8 L38 228 L38.6 228.7 L39.2 229.1 L39.9 227.1 L40.5 225.7 L41.1 227.8 L41.7 227.6 L42.4 230.1 L43 232.7 L43.6 232.8 L44.2 233.5 L44.9 234.6 L45.5 235.9 L46.1 238.3 L46.7 238.9 L47.4 240.1 L48 240.9 L48.6 240.8 L49.2 242 L49.8 243 L50.5 244.4 L51.1 246.2 L51.7 247.1 L52.3 248.4 L53 249.5 L53.6 250.7 L54.2 252.2 L54.8 253 L55.5 253.5 L56.1 253.7 L56.7 253.3 L57.2 253.1 L57.8 252.7 L58.3 252 L58.8 252 L59.4 251 L59.9 250.3 L60.5 250 L61 249.5 L61.5 249.8 L62.1 249.5 L62.6 249.2 L63.1 248.6 L63.7 248 L64.2 247.7 L64.8 247.4 L65.3 246.7 L65.8 246.5 L66.4 246 L66.9 245.6 L67.4 245.3 L68 245.1 L68.5 244.4 L69 244.6 L69.6 244.4 L70.1 244.3 L70.7 243.9 L71.2 243.7 L71.7 243.8 L72.3 243.3 L72.8 242.6 L73.5 243.4 L74.2 243.3 L74.9 243.1 L75.6 243.1 L76.3 243.4 L77 243.1 L77.7 242.8 L78.4 242.4 L79.1 242.8 L79.8 242.6 L80.5 243 L81.2 243.3 L81.9 243.6 L82.6 244.4 L83.3 245 L84 245.3 L84.7 245.7 L85.4 245.3 L86.1 245.2 L86.8 244.8 L87.5 244.3 L88.2 244.2 L88.9 244.1 L89.6 244.4 L90.3 244.1 L91 243.9 L91.7 244.4 L92.4 244.3 L93.1 244 L93.8 243.2 L94.5 243 L95.2 243.3 L95.9 242.7 L96.6 242.8 L97.3 242.5 L98 242.5 L98.7 242.2 L99.4 241.1 L100.1 241.3 L100.8 241.1 L101.5 240.9 L102.2 240.8 L102.9 240.1 L103.6 240.9 L104.3 240.6 L105 240.9 L105.7 241.1 L106.4 241.2 L107.1 241.9 L107.8 241.2 L108.5 240.8 L109.2 241.1 L109.9 241.1 L110.6 242 L111.3 241.9 L112 241.5 L112.7 241.5 L113.4 241.3 L114.1 241.9 L114.8 241.7 L115.5 241.6 L116.2 241.7 L116.9 241.6 L117.6 241.6 L118.3 242.1 L119 242.3 L119.7 241.9 L120.4 241 L121.1 241.2 L121.8 241.1 L122.5 241.5 L123.2 241 L123.9 240.9 L124.6 241.2 L125.3 241.6 L126 241.3 L126.7 241.2 L127.4 240.7 L128.1 240.9 L128.8 240.4 L129.5 240.2 L130.2 240.5 L130.9 240.9 L131.6 240.9 L132.3 240.5 L133 240.3 L133.7 240.9 L134.4 241.2 L135.1 240.7 L135.8 240.6 L136.5 240.7 L137.2 240.9 L137.9 240.8 L138.6 241 L139.3 241.4 L140 241.9 L140.7 241.8 L141.4 241.5 L142.1 241.3 L142.8 241.3 L143.5 241.6 L144.2 241.8 L144.9 242 L145.6 242.1 L146.3 242 L147 241.8 L147.7 241.8 L148.4 241.9 L149.1 241.9 L149.8 241 L150.5 240.6 L151.2 240.5 L151.9 241.4 L152.6 241.3 L153.3 241.1 L154 241.3 L154.7 241.8 L155.4 241.7 L156.1 241.7 L156.8 241.5 L157.5 241.8 L158.2 241.6 L158.9 241.4 L159.6 241.3 L160.3 241.2 L161 241.1 L161.7 240.7 L162.4 240.9 L163.1 241.2 L163.8 241.5 L164.5 241.6 L165.2 241.6 L165.9 241.4 L166.6 242.4 L167.3 242.3 L168 242.2 L168.7 241.8 L169.4 241.3 L170.1 240.9 L170.8 240.6 L171.5 240.7 L172.2 241.5 L172.9 241.5 L173.6 241.9 L174.3 241.6 L175 241.6 L175.7 241.9 L176.4 242 L177.1 241.7" stroke="#c0c0c0" stroke-width="1.4" fill="none" opacity="0.3" stroke-linejoin="round"/>
<path d="M17.5 225 L17.8 227.1 L18.1 230 L18.5 231.9 L18.8 234.9 L19.1 235.8 L19.4 238.8 L19.7 240.1 L20.1 245.2 L20.4 245.7 L20.7 248.7 L21 248.8 L21.3 251.4 L21.7 252.7 L22 256 L22.3 258.6 L22.6 259.7 L22.9 259.3 L23.3 263.1 L23.6 264.4 L23.9 265.6 L24.4 265 L24.8 264.9 L25.3 262.2 L25.8 261.4 L26.2 262.9 L26.7 261 L27.2 259.5 L27.7 257.3 L28.1 257.7 L28.6 256 L29.1 252.7 L29.5 250.3 L30 248.3 L30.5 246.3 L30.9 245.5 L31.4 243.9 L31.9 240.5 L32.4 238 L32.8 235.4 L33.3 234.3 L33.8 232.3 L34.2 230.6 L34.7 228 L35.2 225.7 L35.6 223.8 L36.1 222.8 L36.6 223.3 L37.1 223.4 L37.5 225.7 L38 228.4 L38.6 228.6 L39.2 230.4 L39.9 231.5 L40.5 232.2 L41.1 234.5 L41.7 233.4 L42.4 235.1 L43 236.4 L43.6 236.8 L44.2 236.9 L44.9 236.2 L45.5 236.5 L46.1 237.6 L46.7 238.6 L47.4 240.6 L48 240.9 L48.6 241.1 L49.2 243 L49.8 244.4 L50.5 246.4 L51.1 248.4 L51.7 249.8 L52.3 249.3 L53 249.9 L53.6 250.9 L54.2 251.2 L54.8 250.7 L55.5 252 L56.1 251.7 L56.7 251.6 L57.2 251.4 L57.8 252 L58.3 251.8 L58.8 252 L59.4 251.4 L59.9 251.1 L60.5 250.2 L61 250.2 L61.5 249.4 L62.1 249.1 L62.6 248.7 L63.1 247.9 L63.7 247.1 L64.2 246.8 L64.8 246.7 L65.3 245.9 L65.8 245.4 L66.4 245.2 L66.9 244.5 L67.4 243.9 L68 243.7 L68.5 243.1 L69 243 L69.6 242.4 L70.1 242.3 L70.7 241.8 L71.2 241.9 L71.7 241.8 L72.3 241.9 L72.8 241.8 L73.5 242.8 L74.2 243.3 L74.9 243.9 L75.6 244.6 L76.3 244.9 L77 244.7 L77.7 244.6 L78.4 244.6 L79.1 244.6 L79.8 244.1 L80.5 243.5 L81.2 243.7 L81.9 244.2 L82.6 244.4 L83.3 244 L84 243.7 L84.7 244 L85.4 244.1 L86.1 243.8 L86.8 243.8 L87.5 244.2 L88.2 244.4 L88.9 244.2 L89.6 244.1 L90.3 244.3 L91 244.1 L91.7 244 L92.4 243.7 L93.1 243.1 L93.8 243.1 L94.5 243.1 L95.2 242.7 L95.9 242.6 L96.6 242.8 L97.3 243.1 L98 242.8 L98.7 242.1 L99.4 242.3 L100.1 242.5 L100.8 242.8 L101.5 243.1 L102.2 243.4 L102.9 243.5 L103.6 243.3 L104.3 242.8 L105 242.8 L105.7 242.8 L106.4 242.5 L107.1 242 L107.8 241.5 L108.5 241.4 L109.2 241.6 L109.9 241.9 L110.6 242 L111.3 241.6 L112 241.8 L112.7 241.5 L113.4 241.3 L114.1 241.4 L114.8 241.8 L115.5 242.1 L116.2 241.4 L116.9 241.1 L117.6 241.6 L118.3 241.7 L119 241.8 L119.7 241.5 L120.4 241.2 L121.1 241.6 L121.8 241.6 L122.5 241.9 L123.2 242.5 L123.9 243.1 L124.6 243.2 L125.3 242.6 L126 241.7 L126.7 242 L127.4 241.7 L128.1 241.2 L128.8 241.2 L129.5 241.3 L130.2 240.9 L130.9 240.7 L131.6 240.7 L132.3 241.4 L133 242 L133.7 241.7 L134.4 241.5 L135.1 240.9 L135.8 241.2 L136.5 241.5 L137.2 241.5 L137.9 241 L138.6 241.4 L139.3 240.9 L140 240.7 L140.7 240.2 L141.4 240.7 L142.1 240.7 L142.8 240.8 L143.5 240.4 L144.2 241.2 L144.9 241.7 L145.6 241.7 L146.3 241.8 L147 241.5 L147.7 241.7 L148.4 241.8 L149.1 241.4 L149.8 242 L150.5 241.6 L151.2 241.5 L151.9 241.6 L152.6 241.1 L153.3 241.3 L154 241.2 L154.7 240.9 L155.4 240.8 L156.1 241.2 L156.8 241.9 L157.5 242 L158.2 241.6 L158.9 241.9 L159.6 242.6 L160.3 242.6 L161 242.8 L161.7 242 L162.4 241.7 L163.1 242 L163.8 242.1 L164.5 242.1 L165.2 242.3 L165.9 242.6 L166.6 242.9 L167.3 242.1 L168 242.6 L168.7 242.8 L169.4 242.6 L170.1 242 L170.8 242.1 L171.5 242.5 L172.2 242.5 L172.9 242.2 L173.6 242.3 L174.3 242.9 L175 242.7 L175.7 242.4 L176.4 242 L177.1 242" stroke="#c0c0c0" stroke-width="1.4" fill="none" opacity="0.3" stroke-linejoin="round"/>
</g>
<path d="M17.5 19 L17.9 21.1 L18.2 23.3 L18.6 25.5 L19 27.8 L19.4 30.2 L19.8 32.5 L20.1 34.8 L20.5 37.1 L20.9 39.3 L21.2 41.3 L21.6 43.3 L22 45.1 L22.4 46.8 L22.8 48.2 L23.1 49.5 L23.5 50.6 L23.9 51.4 L24.2 52 L24.6 52.4 L25 52.5 L25.5 52.4 L26.1 52.2 L26.6 51.8 L27.1 51.2 L27.7 50.5 L28.2 49.6 L28.8 48.6 L29.3 47.5 L29.8 46.3 L30.4 44.9 L30.9 43.5 L31.4 42 L32 40.5 L32.5 38.9 L33 37.4 L33.6 35.8 L34.1 34.2 L34.7 32.7 L35.2 31.2 L35.7 29.8 L36.3 28.4 L36.8 27.2 L37.3 26.1 L37.9 25.1 L38.4 24.2 L39 23.5 L39.5 22.9 L40 22.5 L40.6 22.3 L41.1 22.2 L41.7 22.3 L42.2 22.4 L42.8 22.7 L43.4 23.1 L44 23.5 L44.5 24.1 L45.1 24.7 L45.7 25.5 L46.2 26.3 L46.8 27.1 L47.4 28 L47.9 29 L48.5 30 L49.1 31 L49.7 32.1 L50.2 33.1 L50.8 34.1 L51.4 35.1 L51.9 36.1 L52.5 37 L53.1 37.8 L53.6 38.6 L54.2 39.4 L54.8 40 L55.4 40.6 L55.9 41 L56.5 41.4 L57.1 41.7 L57.6 41.8 L58.2 41.9 L58.8 41.9 L59.4 41.8 L60 41.7 L60.5 41.6 L61.1 41.4 L61.7 41.1 L62.3 40.9 L62.9 40.6 L63.5 40.3 L64 39.9 L64.6 39.5 L65.2 39.1 L65.8 38.7 L66.4 38.3 L67 37.9 L67.5 37.5 L68.1 37.1 L68.7 36.7 L69.3 36.3 L69.9 35.9 L70.5 35.5 L71 35.2 L71.6 34.9 L72.2 34.7 L72.8 34.4 L73.4 34.2 L74 34.1 L74.5 34 L75.1 33.9 L75.7 33.9 L76.4 34 L77.1 34.3 L77.8 34.8 L78.5 35.3 L79.2 35.3 L79.9 35.2 L80.6 35.4 L81.3 35.7 L82 35.7 L82.7 35.7 L83.4 36 L84.1 36.6 L84.8 36.9 L85.5 36.8 L86.2 36.8 L86.9 37 L87.6 37.1 L88.3 36.9 L89 36.7 L89.7 37 L90.4 37.5 L91.1 37.5 L91.8 37.5 L92.5 37.6 L93.2 37.9 L93.9 37.7 L94.6 37.3 L95.3 37.1 L96 37.3 L96.7 37.3 L97.4 37.1 L98.1 37.1 L98.8 37.3 L99.5 37.4 L100.2 37.1 L100.9 36.6 L101.6 36.5 L102.3 36.5 L103 36.2 L103.7 35.9 L104.4 35.9 L105.1 36.3 L105.8 36.3 L106.5 36 L107.2 35.8 L107.9 35.9 L108.6 35.8 L109.3 35.5 L110 35.3 L110.7 35.5 L111.4 35.9 L112.1 35.9 L112.8 35.9 L113.5 36.1 L114.2 36.4 L114.9 36.3 L115.6 35.9 L116.3 35.9 L117 36.2 L117.7 36.4 L118.4 36.4 L119.1 36.5 L119.8 36.9 L120.5 37.2 L121.2 36.9 L121.9 36.6 L122.6 36.7 L123.3 36.8 L124 36.6 L124.7 36.4 L125.4 36.6 L126.1 37 L126.8 37.1 L127.5 36.8 L128.2 36.7 L128.9 36.8 L129.6 36.7 L130.3 36.3 L131 36.1 L131.7 36.3 L132.4 36.6 L133.1 36.5 L133.8 36.4 L134.5 36.5 L135.2 36.7 L135.9 36.4 L136.6 36 L137.3 35.9 L138 36.1 L138.7 36.1 L139.4 36 L140.1 36.1 L140.8 36.4 L141.5 36.5 L142.2 36.3 L142.9 35.9 L143.6 36 L144.3 36.1 L145 35.9 L145.7 35.7 L146.4 36 L147.1 36.4 L147.8 36.4 L148.5 36.2 L149.2 36.1 L149.9 36.3 L150.6 36.2 L151.3 35.8 L152 35.7 L152.7 36 L153.4 36.3 L154.1 36.3 L154.8 36.2 L155.5 36.4 L156.2 36.5 L156.9 36.3 L157.6 35.9 L158.3 35.8 L159 36.1 L159.7 36.2 L160.4 36 L161.1 36.2 L161.8 36.6 L162.5 36.7 L163.2 36.5 L163.9 36.3 L164.6 36.4 L165.3 36.5 L166 36.4 L166.7 36.3 L167.4 36.6 L168.1 37.1 L168.8 37.1 L169.5 36.9 L170.2 36.8 L170.9 36.9 L171.6 36.7 L172.3 36.3 L173 36.1 L173.7 36.3 L174.4 36.4 L175.1 36.2 L175.8 36 L176.5 36 L177.2 36" stroke="#0000ff" stroke-width="2.3" fill="none" stroke-linejoin="round"/>
<path d="M17.5 63.9 L17.8 65.8 L18.1 67.7 L18.4 69.7 L18.7 71.8 L19 73.9 L19.3 76 L19.6 78 L19.9 80 L20.2 82 L20.4 83.8 L20.7 85.6 L21 87.2 L21.3 88.7 L21.6 90 L21.9 91.1 L22.2 92.1 L22.5 92.8 L22.8 93.4 L23.1 93.7 L23.4 93.8 L23.9 93.7 L24.4 93.5 L24.9 93.1 L25.4 92.6 L25.9 92 L26.4 91.2 L26.9 90.3 L27.4 89.3 L27.9 88.2 L28.4 87 L28.9 85.7 L29.4 84.3 L29.9 82.9 L30.4 81.5 L30.9 80.1 L31.5 78.7 L32 77.3 L32.5 75.9 L33 74.5 L33.5 73.2 L34 72 L34.5 70.9 L35 69.9 L35.5 69 L36 68.2 L36.5 67.6 L37 67.1 L37.5 66.7 L38 66.5 L38.5 66.4 L39.1 66.4 L39.7 66.6 L40.3 66.8 L40.9 67.1 L41.5 67.5 L42.1 67.9 L42.7 68.4 L43.4 69 L44 69.6 L44.6 70.3 L45.2 71.1 L45.8 71.8 L46.4 72.6 L47 73.4 L47.6 74.2 L48.2 75.1 L48.8 75.9 L49.4 76.7 L50 77.4 L50.6 78.2 L51.2 78.9 L51.8 79.5 L52.5 80.1 L53.1 80.6 L53.7 81 L54.3 81.4 L54.9 81.7 L55.5 81.9 L56.1 82.1 L56.7 82.1 L57.2 82.1 L57.7 82 L58.2 82 L58.7 81.8 L59.2 81.7 L59.8 81.5 L60.3 81.4 L60.8 81.1 L61.3 80.9 L61.8 80.6 L62.3 80.4 L62.8 80.1 L63.3 79.8 L63.8 79.5 L64.3 79.2 L64.9 78.9 L65.4 78.6 L65.9 78.3 L66.4 78 L66.9 77.8 L67.4 77.5 L67.9 77.3 L68.4 77 L68.9 76.9 L69.5 76.7 L70 76.6 L70.5 76.4 L71 76.4 L71.5 76.3 L72 76.5 L72.7 76.2 L73.4 76.2 L74.1 76.6 L74.8 76.9 L75.5 76.9 L76.2 77.1 L76.9 77.6 L77.6 77.9 L78.3 77.7 L79 77.5 L79.7 77.6 L80.4 77.8 L81.1 77.8 L81.8 77.7 L82.5 77.9 L83.2 78.4 L83.9 78.6 L84.6 78.4 L85.3 78.3 L86 78.5 L86.7 78.5 L87.4 78.2 L88.1 78 L88.8 78.3 L89.5 78.7 L90.2 78.7 L90.9 78.5 L91.6 78.6 L92.3 78.8 L93 78.5 L93.7 78 L94.4 77.8 L95.1 78 L95.8 78 L96.5 77.8 L97.2 77.8 L97.9 78 L98.6 78 L99.3 77.6 L100 77.2 L100.7 77.1 L101.4 77.1 L102.1 76.9 L102.8 76.6 L103.5 76.7 L104.2 77 L104.9 77 L105.6 76.7 L106.3 76.5 L107 76.6 L107.7 76.5 L108.4 76.1 L109.1 76 L109.8 76.3 L110.5 76.6 L111.2 76.6 L111.9 76.5 L112.6 76.7 L113.3 76.9 L114 76.7 L114.7 76.3 L115.4 76.3 L116.1 76.6 L116.8 76.7 L117.5 76.6 L118.2 76.8 L118.9 77.2 L119.6 77.3 L120.3 77.1 L121 76.8 L121.7 76.9 L122.4 77.1 L123.1 77 L123.8 76.8 L124.5 77.1 L125.2 77.6 L125.9 77.7 L126.6 77.4 L127.3 77.4 L128 77.5 L128.7 77.4 L129.4 77.1 L130.1 77 L130.8 77.3 L131.5 77.6 L132.2 77.5 L132.9 77.4 L133.6 77.6 L134.3 77.7 L135 77.5 L135.7 77 L136.4 77 L137.1 77.3 L137.8 77.3 L138.5 77.2 L139.2 77.3 L139.9 77.6 L140.6 77.7 L141.3 77.4 L142 77.1 L142.7 77.1 L143.4 77.2 L144.1 77 L144.8 76.9 L145.5 77.1 L146.2 77.5 L146.9 77.5 L147.6 77.2 L148.3 77.1 L149 77.3 L149.7 77.1 L150.4 76.8 L151.1 76.7 L151.8 77 L152.5 77.3 L153.2 77.2 L153.9 77.1 L154.6 77.3 L155.3 77.4 L156 77.1 L156.7 76.7 L157.4 76.7 L158.1 76.9 L158.8 77 L159.5 76.9 L160.2 77 L160.9 77.4 L161.6 77.4 L162.3 77.1 L163 76.8 L163.7 76.9 L164.4 77.1 L165.1 76.9 L165.8 76.8 L166.5 77.2 L167.2 77.6 L167.9 77.6 L168.6 77.4 L169.3 77.4 L170 77.6 L170.7 77.5 L171.4 77.2 L172.1 77.2 L172.8 77.6 L173.5 77.9 L174.2 77.9 L174.9 77.9 L175.6 78.1 L176.3 78.3 L177 78" stroke="#0000ff" stroke-width="2.3" fill="none" stroke-linejoin="round"/>
<path d="M17.5 104.7 L17.8 106.7 L18.1 108.7 L18.4 110.8 L18.7 113 L19 115.2 L19.3 117.4 L19.6 119.5 L19.9 121.6 L20.2 123.7 L20.4 125.6 L20.7 127.5 L21 129.2 L21.3 130.7 L21.6 132.1 L21.9 133.3 L22.2 134.3 L22.5 135.1 L22.8 135.6 L23.1 136 L23.4 136.1 L23.9 136 L24.4 135.8 L24.9 135.4 L25.4 134.8 L25.9 134.1 L26.4 133.3 L26.9 132.3 L27.4 131.3 L27.9 130.1 L28.4 128.8 L28.9 127.4 L29.4 126 L29.9 124.5 L30.4 123 L30.9 121.5 L31.5 120 L32 118.5 L32.5 117 L33 115.6 L33.5 114.2 L34 112.9 L34.5 111.7 L35 110.7 L35.5 109.7 L36 108.9 L36.5 108.2 L37 107.6 L37.5 107.2 L38 107 L38.5 106.9 L39.1 106.9 L39.8 107.1 L40.4 107.3 L41 107.6 L41.6 108 L42.3 108.5 L42.9 109.1 L43.5 109.7 L44.2 110.4 L44.8 111.1 L45.4 111.9 L46.1 112.7 L46.7 113.6 L47.3 114.4 L48 115.3 L48.6 116.2 L49.2 117 L49.8 117.9 L50.5 118.7 L51.1 119.5 L51.7 120.2 L52.4 120.9 L53 121.5 L53.6 122.1 L54.2 122.6 L54.9 123 L55.5 123.3 L56.1 123.5 L56.8 123.7 L57.4 123.7 L57.9 123.7 L58.4 123.6 L58.9 123.5 L59.3 123.4 L59.8 123.2 L60.3 122.9 L60.8 122.7 L61.3 122.4 L61.8 122.1 L62.3 121.7 L62.8 121.3 L63.2 120.9 L63.7 120.5 L64.2 120.1 L64.7 119.7 L65.2 119.3 L65.7 118.9 L66.2 118.5 L66.6 118.1 L67.1 117.7 L67.6 117.3 L68.1 117 L68.6 116.7 L69.1 116.5 L69.6 116.2 L70.1 116 L70.5 115.9 L71 115.8 L71.5 115.7 L72 115.3 L72.7 115.6 L73.4 116.1 L74.1 116.3 L74.8 116.4 L75.5 116.7 L76.2 117.2 L76.9 117.4 L77.6 117.2 L78.3 117.1 L79 117.3 L79.7 117.6 L80.4 117.5 L81.1 117.6 L81.8 118 L82.5 118.5 L83.2 118.5 L83.9 118.3 L84.6 118.4 L85.3 118.6 L86 118.5 L86.7 118.3 L87.4 118.4 L88.1 118.8 L88.8 119.1 L89.5 119 L90.2 119 L90.9 119.2 L91.6 119.3 L92.3 119 L93 118.7 L93.7 118.8 L94.4 119.1 L95.1 119.1 L95.8 119 L96.5 119.1 L97.2 119.4 L97.9 119.3 L98.6 118.9 L99.3 118.6 L100 118.6 L100.7 118.6 L101.4 118.3 L102.1 118.1 L102.8 118.4 L103.5 118.6 L104.2 118.4 L104.9 118 L105.6 117.9 L106.3 117.9 L107 117.7 L107.7 117.3 L108.4 117.3 L109.1 117.7 L109.8 117.8 L110.5 117.7 L111.2 117.7 L111.9 117.9 L112.6 117.9 L113.3 117.6 L114 117.3 L114.7 117.4 L115.4 117.7 L116.1 117.7 L116.8 117.7 L117.5 117.9 L118.2 118.3 L118.9 118.2 L119.6 117.9 L120.3 117.7 L121 117.9 L121.7 118 L122.4 117.8 L123.1 117.8 L123.8 118.2 L124.5 118.6 L125.2 118.5 L125.9 118.2 L126.6 118.3 L127.3 118.4 L128 118.2 L128.7 117.9 L129.4 118 L130.1 118.4 L130.8 118.5 L131.5 118.4 L132.2 118.4 L132.9 118.6 L133.6 118.6 L134.3 118.2 L135 117.9 L135.7 118 L136.4 118.3 L137.1 118.3 L137.8 118.2 L138.5 118.4 L139.2 118.7 L139.9 118.6 L140.6 118.2 L141.3 118 L142 118.1 L142.7 118.2 L143.4 118 L144.1 118 L144.8 118.3 L145.5 118.6 L146.2 118.4 L146.9 118.2 L147.6 118.2 L148.3 118.3 L149 118 L149.7 117.7 L150.4 117.8 L151.1 118.2 L151.8 118.4 L152.5 118.2 L153.2 118.2 L153.9 118.4 L154.6 118.3 L155.3 117.9 L156 117.7 L156.7 117.8 L157.4 118.1 L158.1 118 L158.8 117.9 L159.5 118.2 L160.2 118.4 L160.9 118.3 L161.6 117.9 L162.3 117.7 L163 117.9 L163.7 117.8 L164.4 117.6 L165.1 117.6 L165.8 118 L166.5 118.2 L167.2 118 L167.9 117.8 L168.6 117.8 L169.3 117.8 L170 117.5 L170.7 117.2 L171.4 117.4 L172.1 117.7 L172.8 117.8 L173.5 117.6 L174.2 117.6 L174.9 117.8 L175.6 117.7 L176.3 117.3 L177 117" stroke="#0000ff" stroke-width="2.3" fill="none" stroke-linejoin="round"/>
<path d="M17.5 148.2 L17.8 149.9 L18.1 151.7 L18.4 153.5 L18.7 155.3 L19 157.2 L19.3 159.1 L19.6 161 L19.9 162.8 L20.2 164.6 L20.4 166.3 L20.7 167.9 L21 169.3 L21.3 170.7 L21.6 171.8 L21.9 172.9 L22.2 173.7 L22.5 174.4 L22.8 174.9 L23.1 175.2 L23.4 175.3 L24 175.2 L24.6 175 L25.2 174.7 L25.8 174.2 L26.3 173.6 L26.9 172.9 L27.5 172.1 L28.1 171.2 L28.7 170.2 L29.3 169.1 L29.9 167.9 L30.5 166.7 L31.1 165.4 L31.7 164.2 L32.2 162.9 L32.8 161.5 L33.4 160.3 L34 159 L34.6 157.8 L35.2 156.6 L35.8 155.5 L36.4 154.5 L37 153.6 L37.6 152.8 L38.1 152.1 L38.7 151.5 L39.3 151 L39.9 150.7 L40.5 150.5 L41.1 150.4 L41.7 150.4 L42.3 150.5 L42.9 150.7 L43.5 150.9 L44.1 151.2 L44.7 151.6 L45.3 152 L45.8 152.5 L46.4 153 L47 153.5 L47.6 154.1 L48.2 154.7 L48.8 155.3 L49.4 156 L50 156.6 L50.6 157.2 L51.2 157.9 L51.8 158.5 L52.4 159.1 L53 159.7 L53.6 160.2 L54.2 160.7 L54.7 161.2 L55.3 161.6 L55.9 162 L56.5 162.3 L57.1 162.5 L57.7 162.7 L58.3 162.8 L58.9 162.8 L59.4 162.8 L59.9 162.7 L60.4 162.7 L60.9 162.6 L61.5 162.5 L62 162.4 L62.5 162.2 L63 162 L63.5 161.9 L64 161.7 L64.5 161.4 L65 161.2 L65.5 161 L66 160.7 L66.5 160.5 L67.1 160.3 L67.6 160 L68.1 159.8 L68.6 159.6 L69.1 159.3 L69.6 159.1 L70.1 159 L70.6 158.8 L71.1 158.6 L71.7 158.5 L72.2 158.4 L72.7 158.3 L73.2 158.3 L73.7 158.2 L74.2 158.2 L74.9 158.7 L75.6 159.1 L76.3 159.1 L77 159 L77.7 159.1 L78.4 159.5 L79.1 159.7 L79.8 159.7 L80.5 160 L81.2 160.6 L81.9 160.8 L82.6 160.7 L83.3 160.6 L84 160.8 L84.7 160.9 L85.4 160.7 L86.1 160.5 L86.8 160.8 L87.5 161.2 L88.2 161.2 L88.9 161 L89.6 161 L90.3 161.1 L91 160.9 L91.7 160.4 L92.4 160.2 L93.1 160.4 L93.8 160.5 L94.5 160.3 L95.2 160.2 L95.9 160.4 L96.6 160.5 L97.3 160.2 L98 159.8 L98.7 159.7 L99.4 159.8 L100.1 159.8 L100.8 159.6 L101.5 159.8 L102.2 160.2 L102.9 160.3 L103.6 160.1 L104.3 159.9 L105 160 L105.7 160 L106.4 159.7 L107.1 159.6 L107.8 159.9 L108.5 160.3 L109.2 160.3 L109.9 160.1 L110.6 160.2 L111.3 160.4 L112 160.2 L112.7 159.8 L113.4 159.8 L114.1 160.1 L114.8 160.3 L115.5 160.2 L116.2 160.2 L116.9 160.5 L117.6 160.7 L118.3 160.4 L119 160.1 L119.7 160.1 L120.4 160.2 L121.1 160.2 L121.8 160 L122.5 160.2 L123.2 160.7 L123.9 160.7 L124.6 160.4 L125.3 160.3 L126 160.4 L126.7 160.4 L127.4 160.1 L128.1 160 L128.8 160.3 L129.5 160.6 L130.2 160.6 L130.9 160.4 L131.6 160.5 L132.3 160.7 L133 160.5 L133.7 160.1 L134.4 160 L135.1 160.3 L135.8 160.5 L136.5 160.4 L137.2 160.4 L137.9 160.7 L138.6 160.9 L139.3 160.5 L140 160.2 L140.7 160.3 L141.4 160.4 L142.1 160.3 L142.8 160.2 L143.5 160.4 L144.2 160.8 L144.9 160.9 L145.6 160.6 L146.3 160.4 L147 160.5 L147.7 160.5 L148.4 160.2 L149.1 160.1 L149.8 160.4 L150.5 160.8 L151.2 160.7 L151.9 160.5 L152.6 160.7 L153.3 160.8 L154 160.5 L154.7 160.1 L155.4 160.1 L156.1 160.4 L156.8 160.6 L157.5 160.4 L158.2 160.5 L158.9 160.8 L159.6 160.9 L160.3 160.5 L161 160.2 L161.7 160.2 L162.4 160.4 L163.1 160.2 L163.8 160.1 L164.5 160.3 L165.2 160.7 L165.9 160.7 L166.6 160.4 L167.3 160.2 L168 160.3 L168.7 160.2 L169.4 159.9 L170.1 159.8 L170.8 160.1 L171.5 160.4 L172.2 160.3 L172.9 160.1 L173.6 160.2 L174.3 160.3 L175 160 L175.7 159.6 L176.4 159.6 L177.1 159.9" stroke="#0000ff" stroke-width="2.3" fill="none" stroke-linejoin="round"/>
<path d="M17.5 183.3 L17.8 185.7 L18.1 188.3 L18.5 190.9 L18.8 193.6 L19.1 196.3 L19.4 199 L19.7 201.7 L20.1 204.3 L20.4 206.9 L20.7 209.3 L21 211.6 L21.3 213.7 L21.7 215.6 L22 217.3 L22.3 218.8 L22.6 220.1 L22.9 221 L23.3 221.7 L23.6 222.2 L23.9 222.3 L24.4 222.2 L24.9 221.9 L25.4 221.4 L25.9 220.7 L26.4 219.8 L26.9 218.8 L27.4 217.6 L27.9 216.2 L28.4 214.7 L28.9 213.1 L29.4 211.4 L29.9 209.6 L30.4 207.7 L30.9 205.8 L31.3 203.9 L31.8 202 L32.3 200.1 L32.8 198.2 L33.3 196.4 L33.8 194.7 L34.3 193.1 L34.8 191.6 L35.3 190.2 L35.8 189 L36.3 188 L36.8 187.1 L37.3 186.4 L37.8 185.9 L38.3 185.6 L38.8 185.5 L39.4 185.6 L40 185.8 L40.6 186.1 L41.1 186.5 L41.7 187.1 L42.3 187.7 L42.9 188.5 L43.5 189.4 L44.1 190.3 L44.7 191.3 L45.3 192.4 L45.8 193.5 L46.4 194.7 L47 195.9 L47.6 197.2 L48.2 198.4 L48.8 199.6 L49.4 200.8 L49.9 201.9 L50.5 203 L51.1 204 L51.7 204.9 L52.3 205.8 L52.9 206.6 L53.5 207.2 L54.1 207.8 L54.6 208.2 L55.2 208.5 L55.8 208.7 L56.4 208.8 L56.9 208.8 L57.5 208.7 L58 208.6 L58.6 208.4 L59.1 208.1 L59.7 207.8 L60.2 207.5 L60.8 207.1 L61.3 206.7 L61.9 206.2 L62.4 205.8 L63 205.3 L63.5 204.8 L64.1 204.2 L64.6 203.7 L65.1 203.2 L65.7 202.6 L66.2 202.1 L66.8 201.6 L67.3 201.2 L67.9 200.7 L68.4 200.3 L69 199.9 L69.5 199.6 L70.1 199.3 L70.6 199 L71.2 198.8 L71.7 198.7 L72.3 198.6 L72.8 198.6 L73.5 198.9 L74.2 199.5 L74.9 199.8 L75.6 199.7 L76.3 199.6 L77 199.9 L77.7 200.3 L78.4 200.4 L79.1 200.5 L79.8 201 L80.5 201.5 L81.2 201.6 L81.9 201.4 L82.6 201.5 L83.3 201.7 L84 201.8 L84.7 201.6 L85.4 201.7 L86.1 202.1 L86.8 202.5 L87.5 202.4 L88.2 202.4 L88.9 202.5 L89.6 202.6 L90.3 202.3 L91 202 L91.7 202 L92.4 202.3 L93.1 202.4 L93.8 202.2 L94.5 202.1 L95.2 202.3 L95.9 202.2 L96.6 201.6 L97.3 201.2 L98 201.1 L98.7 201.1 L99.4 200.8 L100.1 200.5 L100.8 200.7 L101.5 200.8 L102.2 200.6 L102.9 200.1 L103.6 199.8 L104.3 199.8 L105 199.5 L105.7 199.1 L106.4 199 L107.1 199.3 L107.8 199.5 L108.5 199.4 L109.2 199.2 L109.9 199.4 L110.6 199.4 L111.3 199.1 L112 198.8 L112.7 199 L113.4 199.3 L114.1 199.4 L114.8 199.4 L115.5 199.5 L116.2 199.9 L116.9 199.9 L117.6 199.5 L118.3 199.3 L119 199.5 L119.7 199.7 L120.4 199.6 L121.1 199.6 L121.8 200 L122.5 200.4 L123.2 200.3 L123.9 200.1 L124.6 200 L125.3 200.2 L126 200.1 L126.7 199.9 L127.4 200 L128.1 200.4 L128.8 200.7 L129.5 200.5 L130.2 200.5 L130.9 200.6 L131.6 200.7 L132.3 200.3 L133 200.1 L133.7 200.2 L134.4 200.5 L135.1 200.6 L135.8 200.5 L136.5 200.7 L137.2 201 L137.9 200.9 L138.6 200.5 L139.3 200.3 L140 200.5 L140.7 200.6 L141.4 200.5 L142.1 200.5 L142.8 200.8 L143.5 201.2 L144.2 201 L144.9 200.7 L145.6 200.7 L146.3 200.8 L147 200.7 L147.7 200.4 L148.4 200.5 L149.1 200.9 L149.8 201.1 L150.5 201 L151.2 200.9 L151.9 201.1 L152.6 201.1 L153.3 200.7 L154 200.4 L154.7 200.6 L155.4 200.9 L156.1 200.9 L156.8 200.9 L157.5 201 L158.2 201.3 L158.9 201.2 L159.6 200.8 L160.3 200.6 L161 200.8 L161.7 200.8 L162.4 200.7 L163.1 200.7 L163.8 201.1 L164.5 201.3 L165.2 201.1 L165.9 200.8 L166.6 200.8 L167.3 200.9 L168 200.7 L168.7 200.5 L169.4 200.6 L170.1 201 L170.8 201.2 L171.5 201 L172.2 200.9 L172.9 201.1 L173.6 201 L174.3 200.6 L175 200.4 L175.7 200.6 L176.4 200.9 L177.1 200.9" stroke="#0000ff" stroke-width="2.3" fill="none" stroke-linejoin="round"/>
<path d="M17.5 226 L17.8 228.3 L18.1 230.6 L18.5 233.1 L18.8 235.6 L19.1 238.2 L19.4 240.7 L19.7 243.2 L20.1 245.7 L20.4 248.1 L20.7 250.3 L21 252.5 L21.3 254.4 L21.7 256.2 L22 257.9 L22.3 259.2 L22.6 260.4 L22.9 261.3 L23.3 262 L23.6 262.4 L23.9 262.5 L24.4 262.4 L24.8 262.1 L25.3 261.6 L25.8 260.9 L26.2 260.1 L26.7 259.1 L27.2 257.9 L27.7 256.5 L28.1 255.1 L28.6 253.5 L29.1 251.8 L29.5 250 L30 248.2 L30.5 246.3 L30.9 244.5 L31.4 242.6 L31.9 240.7 L32.4 238.9 L32.8 237.1 L33.3 235.4 L33.8 233.8 L34.2 232.4 L34.7 231 L35.2 229.8 L35.6 228.8 L36.1 228 L36.6 227.3 L37.1 226.8 L37.5 226.5 L38 226.4 L38.6 226.5 L39.2 226.7 L39.9 227 L40.5 227.5 L41.1 228.1 L41.7 228.8 L42.4 229.6 L43 230.5 L43.6 231.5 L44.2 232.6 L44.9 233.7 L45.5 234.9 L46.1 236.2 L46.7 237.5 L47.4 238.8 L48 240 L48.6 241.3 L49.2 242.6 L49.8 243.8 L50.5 244.9 L51.1 246 L51.7 247 L52.3 247.9 L53 248.7 L53.6 249.4 L54.2 250 L54.8 250.5 L55.5 250.8 L56.1 251 L56.7 251.1 L57.2 251.1 L57.8 251 L58.3 250.9 L58.8 250.7 L59.4 250.5 L59.9 250.3 L60.5 250 L61 249.7 L61.5 249.4 L62.1 249 L62.6 248.6 L63.1 248.2 L63.7 247.8 L64.2 247.4 L64.8 247 L65.3 246.5 L65.8 246.1 L66.4 245.7 L66.9 245.3 L67.4 244.9 L68 244.5 L68.5 244.2 L69 243.9 L69.6 243.6 L70.1 243.4 L70.7 243.2 L71.2 243 L71.7 242.9 L72.3 242.8 L72.8 243 L73.5 243.3 L74.2 243.4 L74.9 243.1 L75.6 243.1 L76.3 243.4 L77 243.6 L77.7 243.5 L78.4 243.7 L79.1 244.1 L79.8 244.4 L80.5 244.3 L81.2 244.1 L81.9 244.1 L82.6 244.3 L83.3 244.1 L84 243.9 L84.7 244.1 L85.4 244.6 L86.1 244.7 L86.8 244.5 L87.5 244.4 L88.2 244.6 L88.9 244.5 L89.6 244 L90.3 243.7 L91 243.8 L91.7 244 L92.4 243.9 L93.1 243.6 L93.8 243.7 L94.5 243.7 L95.2 243.4 L95.9 242.8 L96.6 242.5 L97.3 242.5 L98 242.4 L98.7 242.1 L99.4 242.1 L100.1 242.3 L100.8 242.4 L101.5 242 L102.2 241.6 L102.9 241.5 L103.6 241.6 L104.3 241.3 L105 241.1 L105.7 241.3 L106.4 241.7 L107.1 241.8 L107.8 241.6 L108.5 241.5 L109.2 241.7 L109.9 241.6 L110.6 241.2 L111.3 241 L112 241.3 L112.7 241.6 L113.4 241.5 L114.1 241.4 L114.8 241.6 L115.5 241.8 L116.2 241.6 L116.9 241.2 L117.6 241.1 L118.3 241.3 L119 241.4 L119.7 241.2 L120.4 241.3 L121.1 241.7 L121.8 241.9 L122.5 241.6 L123.2 241.3 L123.9 241.3 L124.6 241.4 L125.3 241.2 L126 241 L126.7 241.2 L127.4 241.6 L128.1 241.7 L128.8 241.5 L129.5 241.5 L130.2 241.6 L130.9 241.5 L131.6 241.1 L132.3 241 L133 241.3 L133.7 241.5 L134.4 241.5 L135.1 241.4 L135.8 241.7 L136.5 241.8 L137.2 241.6 L137.9 241.2 L138.6 241.2 L139.3 241.4 L140 241.4 L140.7 241.3 L141.4 241.4 L142.1 241.8 L142.8 241.9 L143.5 241.7 L144.2 241.4 L144.9 241.5 L145.6 241.6 L146.3 241.3 L147 241.2 L147.7 241.5 L148.4 241.9 L149.1 241.9 L149.8 241.7 L150.5 241.7 L151.2 241.9 L151.9 241.7 L152.6 241.3 L153.3 241.2 L154 241.5 L154.7 241.8 L155.4 241.7 L156.1 241.7 L156.8 241.9 L157.5 242.1 L158.2 241.8 L158.9 241.4 L159.6 241.4 L160.3 241.6 L161 241.6 L161.7 241.5 L162.4 241.6 L163.1 242 L163.8 242.1 L164.5 241.8 L165.2 241.6 L165.9 241.6 L166.6 241.7 L167.3 241.4 L168 241.3 L168.7 241.6 L169.4 242 L170.1 241.9 L170.8 241.7 L171.5 241.7 L172.2 241.9 L172.9 241.7 L173.6 241.3 L174.3 241.2 L175 241.5 L175.7 241.7 L176.4 241.6 L177.1 241.6" stroke="#0000ff" stroke-width="2.3" fill="none" stroke-linejoin="round"/>
</g>
<line x1="41.5" y1="16" x2="41.5" y2="30.7" stroke="#111" stroke-width="1.5" />
<line x1="76.5" y1="18.5" x2="76.5" y2="37.7" stroke="#111" stroke-width="1.5" />
<line x1="44.5" y1="21.6" x2="73.5" y2="21.6" stroke="#000" stroke-width="1.1" />
<path d="M42.1 21.6 L48.1 19.3 L48.1 23.9 Z" fill="#000"/>
<path d="M75.9 21.6 L69.9 23.9 L69.9 19.3 Z" fill="#000"/>
<text x="43.6" y="16.1" font-size="14" >3.3 Å</text>
<text x="166.8" y="26.5" font-size="14" text-anchor="end" >0 V</text>
<line x1="38.5" y1="59.5" x2="38.5" y2="74" stroke="#111" stroke-width="1.5" />
<line x1="72.5" y1="61.7" x2="72.5" y2="80.7" stroke="#111" stroke-width="1.5" />
<line x1="41.5" y1="65.2" x2="69.5" y2="65.2" stroke="#000" stroke-width="1.1" />
<path d="M39.1 65.2 L45.1 62.9 L45.1 67.5 Z" fill="#000"/>
<path d="M71.9 65.2 L65.9 67.5 L65.9 62.9 Z" fill="#000"/>
<text x="39" y="59.9" font-size="14" >3.1 Å</text>
<text x="166.8" y="67.1" font-size="14" text-anchor="end" >−0.4 V</text>
<line x1="38.5" y1="100.4" x2="38.5" y2="115" stroke="#111" stroke-width="1.5" />
<line x1="72.5" y1="103.3" x2="72.5" y2="121.5" stroke="#111" stroke-width="1.5" />
<line x1="41.5" y1="105.5" x2="69.5" y2="105.5" stroke="#000" stroke-width="1.1" />
<path d="M39.1 105.5 L45.1 103.2 L45.1 107.8 Z" fill="#000"/>
<path d="M71.9 105.5 L65.9 107.8 L65.9 103.2 Z" fill="#000"/>
<text x="39" y="100.4" font-size="14" >3.1 Å</text>
<text x="166.8" y="109.3" font-size="14" text-anchor="end" >−0.8 V</text>
<line x1="41.5" y1="141.7" x2="41.5" y2="156.3" stroke="#111" stroke-width="1.5" />
<line x1="74.5" y1="144.2" x2="74.5" y2="162.8" stroke="#111" stroke-width="1.5" />
<line x1="44.5" y1="147.5" x2="71.5" y2="147.5" stroke="#000" stroke-width="1.1" />
<path d="M42.1 147.5 L48.1 145.2 L48.1 149.8 Z" fill="#000"/>
<path d="M73.9 147.5 L67.9 149.8 L67.9 145.2 Z" fill="#000"/>
<text x="42.2" y="142.8" font-size="14" >3.1 Å</text>
<text x="166.8" y="148.6" font-size="14" text-anchor="end" >−1.2 V</text>
<line x1="38.5" y1="181.8" x2="38.5" y2="196.4" stroke="#111" stroke-width="1.5" />
<line x1="72.5" y1="184.7" x2="72.5" y2="203" stroke="#111" stroke-width="1.5" />
<line x1="41.5" y1="187.7" x2="69.5" y2="187.7" stroke="#000" stroke-width="1.1" />
<path d="M39.1 187.7 L45.1 185.4 L45.1 190 Z" fill="#000"/>
<path d="M71.9 187.7 L65.9 190 L65.9 185.4 Z" fill="#000"/>
<text x="40.5" y="182.6" font-size="14" >3.1 Å</text>
<text x="166.8" y="189.3" font-size="14" text-anchor="end" >−1.8 V</text>
<line x1="38.5" y1="219.4" x2="38.5" y2="237" stroke="#111" stroke-width="1.5" />
<line x1="73.5" y1="222.3" x2="73.5" y2="246.4" stroke="#111" stroke-width="1.5" />
<line x1="41.5" y1="230.7" x2="70.5" y2="230.7" stroke="#000" stroke-width="1.1" />
<path d="M39.1 230.7 L45.1 228.4 L45.1 233 Z" fill="#000"/>
<path d="M72.9 230.7 L66.9 233 L66.9 228.4 Z" fill="#000"/>
<text x="40.8" y="222.1" font-size="14" >3.3 Å</text>
<text x="166.8" y="230.6" font-size="14" text-anchor="end" >−2.2 V</text>
<line x1="93.9" y1="4.6" x2="93.9" y2="18.9" stroke="#111" stroke-width="1.7" />
<line x1="91.1" y1="4.6" x2="96.7" y2="4.6" stroke="#111" stroke-width="1.3" />
<line x1="91.1" y1="18.9" x2="96.7" y2="18.9" stroke="#111" stroke-width="1.3" />
<text x="96.8" y="16.9" font-size="15" >0.05</text>
<line x1="206" y1="256.4" x2="334.8" y2="256.4" stroke="#444" stroke-width="1" />
<line x1="206" y1="256.4" x2="206" y2="261.9" stroke="#444" stroke-width="1" />
<line x1="218.88" y1="256.4" x2="218.88" y2="259" stroke="#444" stroke-width="1" />
<line x1="231.76" y1="256.4" x2="231.76" y2="259" stroke="#444" stroke-width="1" />
<line x1="244.64" y1="256.4" x2="244.64" y2="259" stroke="#444" stroke-width="1" />
<line x1="257.52" y1="256.4" x2="257.52" y2="261.9" stroke="#444" stroke-width="1" />
<line x1="270.4" y1="256.4" x2="270.4" y2="259" stroke="#444" stroke-width="1" />
<line x1="283.28" y1="256.4" x2="283.28" y2="259" stroke="#444" stroke-width="1" />
<line x1="296.16" y1="256.4" x2="296.16" y2="259" stroke="#444" stroke-width="1" />
<line x1="309.04" y1="256.4" x2="309.04" y2="261.9" stroke="#444" stroke-width="1" />
<line x1="321.92" y1="256.4" x2="321.92" y2="259" stroke="#444" stroke-width="1" />
<line x1="334.8" y1="256.4" x2="334.8" y2="259" stroke="#444" stroke-width="1" />
<text x="216.3" y="269.9" font-size="13.3" text-anchor="end" transform="rotate(-45 216.3 269.9)" >1000</text>
<text x="267.82" y="269.9" font-size="13.3" text-anchor="end" transform="rotate(-45 267.82 269.9)" >1400</text>
<text x="319.34" y="269.9" font-size="13.3" text-anchor="end" transform="rotate(-45 319.34 269.9)" >1800</text>
<line x1="349.2" y1="256.4" x2="430.7" y2="256.4" stroke="#444" stroke-width="1" />
<line x1="349.2" y1="256.4" x2="349.2" y2="259" stroke="#444" stroke-width="1" />
<line x1="359.39" y1="256.4" x2="359.39" y2="259" stroke="#444" stroke-width="1" />
<line x1="369.57" y1="256.4" x2="369.57" y2="261.9" stroke="#444" stroke-width="1" />
<line x1="379.76" y1="256.4" x2="379.76" y2="259" stroke="#444" stroke-width="1" />
<line x1="389.95" y1="256.4" x2="389.95" y2="259" stroke="#444" stroke-width="1" />
<line x1="400.14" y1="256.4" x2="400.14" y2="259" stroke="#444" stroke-width="1" />
<line x1="410.32" y1="256.4" x2="410.32" y2="261.9" stroke="#444" stroke-width="1" />
<line x1="420.51" y1="256.4" x2="420.51" y2="259" stroke="#444" stroke-width="1" />
<line x1="430.7" y1="256.4" x2="430.7" y2="259" stroke="#444" stroke-width="1" />
<text x="379.88" y="269.9" font-size="13.3" text-anchor="end" transform="rotate(-45 379.88 269.9)" >2700</text>
<text x="420.62" y="269.9" font-size="13.3" text-anchor="end" transform="rotate(-45 420.62 269.9)" >2900</text>
<line x1="447.8" y1="256.4" x2="673.6" y2="256.4" stroke="#444" stroke-width="1" />
<line x1="447.8" y1="256.4" x2="447.8" y2="261.9" stroke="#444" stroke-width="1" />
<line x1="461.91" y1="256.4" x2="461.91" y2="259" stroke="#444" stroke-width="1" />
<line x1="476.03" y1="256.4" x2="476.03" y2="259" stroke="#444" stroke-width="1" />
<line x1="490.14" y1="256.4" x2="490.14" y2="259" stroke="#444" stroke-width="1" />
<line x1="504.25" y1="256.4" x2="504.25" y2="261.9" stroke="#444" stroke-width="1" />
<line x1="518.36" y1="256.4" x2="518.36" y2="259" stroke="#444" stroke-width="1" />
<line x1="532.48" y1="256.4" x2="532.48" y2="259" stroke="#444" stroke-width="1" />
<line x1="546.59" y1="256.4" x2="546.59" y2="259" stroke="#444" stroke-width="1" />
<line x1="560.7" y1="256.4" x2="560.7" y2="261.9" stroke="#444" stroke-width="1" />
<line x1="574.81" y1="256.4" x2="574.81" y2="259" stroke="#444" stroke-width="1" />
<line x1="588.92" y1="256.4" x2="588.92" y2="259" stroke="#444" stroke-width="1" />
<line x1="603.04" y1="256.4" x2="603.04" y2="259" stroke="#444" stroke-width="1" />
<line x1="617.15" y1="256.4" x2="617.15" y2="261.9" stroke="#444" stroke-width="1" />
<line x1="631.26" y1="256.4" x2="631.26" y2="259" stroke="#444" stroke-width="1" />
<line x1="645.38" y1="256.4" x2="645.38" y2="259" stroke="#444" stroke-width="1" />
<line x1="659.49" y1="256.4" x2="659.49" y2="259" stroke="#444" stroke-width="1" />
<line x1="673.6" y1="256.4" x2="673.6" y2="261.9" stroke="#444" stroke-width="1" />
<text x="458.1" y="269.9" font-size="13.3" text-anchor="end" transform="rotate(-45 458.1 269.9)" >3000</text>
<text x="514.55" y="269.9" font-size="13.3" text-anchor="end" transform="rotate(-45 514.55 269.9)" >3200</text>
<text x="571" y="269.9" font-size="13.3" text-anchor="end" transform="rotate(-45 571 269.9)" >3400</text>
<text x="627.45" y="269.9" font-size="13.3" text-anchor="end" transform="rotate(-45 627.45 269.9)" >3600</text>
<text x="683.9" y="269.9" font-size="13.3" text-anchor="end" transform="rotate(-45 683.9 269.9)" >3800</text>
<text x="383.4" y="308.5" font-size="14" >Raman shift (cm<tspan font-size="9" dy="-5">−1</tspan><tspan dy="5">)</tspan></text>
<line x1="283.28" y1="25.2" x2="283.28" y2="258" stroke="#dca532" stroke-width="1.7" stroke-dasharray="4.9 3.9"/>
<path d="M206 48.7 L206.6 50.6 L207.1 50.6 L207.7 53.7 L208.2 51.1 L208.8 50.4 L209.3 51.3 L209.9 50.2 L210.4 50.1 L211 48.2 L211.5 48 L212.1 48 L212.6 47.7 L213.2 47.6 L213.7 44.4 L214.3 44.7 L214.8 49.1 L215.4 43.9 L215.9 48.6 L216.5 48.6 L217 45.7 L217.6 44.7 L218.1 45.7 L218.7 51.7 L219.2 46.9 L219.8 42.1 L220.3 45.2 L220.9 47.4 L221.4 47.8 L222 47.6 L222.5 45.7 L223.1 41.4 L223.6 46 L224.2 45.6 L224.7 47.3 L225.3 51.1 L225.8 48.6 L226.4 47.8 L226.9 45.5 L227.5 43.1 L228 43.4 L228.6 43.9 L229.1 47.3 L229.7 45.8 L230.2 41.9 L230.8 45.1 L231.3 45.2 L231.9 40.1 L232.4 44.6 L233 43.2 L233.5 39.9 L234.1 45.9 L234.6 44.8 L235.2 44.5 L235.7 45.6 L236.3 39.1 L236.8 40.3 L237.4 41 L237.9 43.8 L238.5 41.9 L239 42.1 L239.6 43.8 L240.1 46.1 L240.7 45.2 L241.2 39.6 L241.8 37.5 L242.3 40.2 L242.9 41.4 L243.4 39 L244 43.7 L244.5 46.2 L245.1 43.4 L245.6 44.9 L246.2 45.7 L246.7 41.8 L247.3 39.2 L247.8 42.4 L248.4 41.3 L248.9 45.8 L249.5 43.4 L250 44.9 L250.6 46.9 L251.1 45 L251.7 42.8 L252.2 39.7 L252.8 45.7 L253.3 44.5 L253.9 39.7 L254.4 42.4 L255 48.1 L255.5 46 L256.1 48.6 L256.6 51.1 L257.2 49.8 L257.7 48.5 L258.3 45 L258.8 44.1 L259.4 44.5 L259.9 48.3 L260.5 49.1 L261 46.9 L261.6 49.8 L262.1 46.9 L262.7 39.3 L263.2 43.5 L263.8 45.7 L264.3 40.7 L264.9 47.4 L265.4 43.4 L266 44.7 L266.5 42.2 L267.1 48.9 L267.6 44.9 L268.2 46.5 L268.7 42.4 L269.3 39 L269.8 47.3 L270.4 42 L270.9 48 L271.5 44.4 L272 46.7 L272.6 40.3 L273.1 38.9 L273.7 44.1 L274.2 43.9 L274.8 44.8 L275.3 46.8 L275.9 43.3 L276.4 41.4 L277 40.9 L277.5 38.4 L278.1 39 L278.6 39.9 L279.2 40.7 L279.7 42.7 L280.3 39.1 L280.8 41.6 L281.4 41.7 L281.9 38 L282.5 37.6 L283 32.3 L283.6 37.2 L284.1 39.1 L284.7 37.1 L285.2 36.7 L285.8 40.1 L286.3 40.5 L286.9 45.4 L287.4 42.4 L288 48.3 L288.5 38.4 L289.1 45.4 L289.6 44.5 L290.2 47.1 L290.7 47.4 L291.3 48.4 L291.8 52.9 L292.4 46 L292.9 50.6 L293.5 48.2 L294 50.1 L294.6 45.3 L295.1 52 L295.7 52.8 L296.2 47.6 L296.8 48.6 L297.3 47.5 L297.9 54.6 L298.4 47.2 L299 48 L299.5 42.2 L300.1 45.8 L300.6 49.9 L301.2 45.4 L301.7 41.6 L302.3 47.6 L302.8 48.9 L303.4 50.9 L303.9 52.4 L304.5 50.2 L305 58.1 L305.6 48.1 L306.1 50.1 L306.7 45.6 L307.2 48.2 L307.8 47.6 L308.3 53.3 L308.9 51.4 L309.4 50 L310 45.5 L310.5 51.4 L311.1 51.9 L311.6 51.4 L312.2 49.5 L312.7 51.8 L313.3 53.6 L313.8 53.3 L314.4 56.3 L314.9 51.4 L315.5 51.2 L316 45.8 L316.6 56.1 L317.1 47.3 L317.7 50.9 L318.2 52.8 L318.8 48.9 L319.3 52.6 L319.9 54.5 L320.4 52.6 L321 51.1 L321.5 50.5 L322.1 48.3 L322.6 49 L323.2 50.3 L323.7 50.6 L324.3 51.8 L324.8 48 L325.4 46.7 L325.9 49.3 L326.5 50.1 L327 54 L327.6 52 L328.1 54 L328.7 52.8 L329.2 51.9 L329.8 46.5 L330.3 48.8 L330.9 48.8 L331.4 52.7 L332 48.7 L332.5 48.7 L333.1 47.5 L333.6 42.9 L334.2 52.5 L334.7 51.9" stroke="#000" stroke-width="1.05" fill="none" stroke-linejoin="bevel"/>
<path d="M349.2 57.7 L349.9 56 L350.7 53 L351.4 54.4 L352.2 54.3 L352.9 59.3 L353.7 53.3 L354.4 57.6 L355.2 55.4 L355.9 57.2 L356.7 54.9 L357.4 56 L358.2 56.2 L358.9 55.2 L359.7 55.7 L360.4 55.1 L361.2 56.8 L361.9 58.3 L362.7 55.2 L363.4 55.3 L364.2 56.6 L364.9 52.7 L365.7 56.3 L366.4 54.2 L367.2 53.3 L367.9 51.8 L368.7 54.7 L369.4 56.1 L370.2 54.1 L370.9 53.6 L371.7 54 L372.4 54.4 L373.2 52 L373.9 53 L374.7 52.1 L375.4 53.9 L376.2 58.3 L376.9 55.5 L377.7 58.8 L378.4 53.8 L379.2 52.7 L379.9 54.6 L380.7 55.3 L381.4 55.2 L382.2 55.7 L382.9 54.5 L383.7 56.4 L384.4 55.6 L385.2 56.4 L385.9 55.4 L386.7 55.1 L387.4 54.6 L388.2 53.3 L388.9 55.8 L389.7 56 L390.4 54.5 L391.2 59.1 L391.9 54.6 L392.7 51.2 L393.4 50.2 L394.2 52.2 L394.9 49.2 L395.7 54.5 L396.4 51.5 L397.2 54 L397.9 51.3 L398.7 53.9 L399.4 55.8 L400.2 54.6 L400.9 50.1 L401.7 53.1 L402.4 51.9 L403.2 54.7 L403.9 53.2 L404.7 56.1 L405.4 53.1 L406.2 51.3 L406.9 51.8 L407.7 56.2 L408.4 52.2 L409.2 54.6 L409.9 58.2 L410.7 54 L411.4 53 L412.2 55.5 L412.9 54.2 L413.7 51.7 L414.4 54.9 L415.2 54.3 L415.9 55.1 L416.7 51.9 L417.4 54.8 L418.2 51.8 L418.9 54.9 L419.7 50.4 L420.4 53 L421.2 53.5 L421.9 50.9 L422.7 50.8 L423.4 53.1 L424.2 52.2 L424.9 52 L425.7 52.8 L426.4 56.9 L427.2 53.1 L427.9 56.1 L428.7 52.8 L429.4 54.2 L430.2 53.2" stroke="#111" stroke-width="0.9" fill="none" />
<path d="M206 118.9 L206.6 121 L207.1 121.7 L207.7 116.7 L208.2 115.5 L208.8 115.5 L209.3 116.3 L209.9 114.4 L210.4 117.5 L211 111.6 L211.5 121.6 L212.1 116.1 L212.6 116.3 L213.2 114.8 L213.7 114.3 L214.3 119 L214.8 121.8 L215.4 117.2 L215.9 117.5 L216.5 118.4 L217 113.6 L217.6 111.9 L218.1 115.9 L218.7 112.5 L219.2 109.6 L219.8 113 L220.3 114.9 L220.9 112.5 L221.4 111.3 L222 115.4 L222.5 115.8 L223.1 112.5 L223.6 111.4 L224.2 114.3 L224.7 115.5 L225.3 113.9 L225.8 114.8 L226.4 115.8 L226.9 112.1 L227.5 110.3 L228 114.3 L228.6 113.6 L229.1 116.7 L229.7 109.5 L230.2 110.1 L230.8 108.8 L231.3 105.7 L231.9 111.2 L232.4 112.2 L233 109.5 L233.5 116 L234.1 115.3 L234.6 114 L235.2 114.4 L235.7 113.6 L236.3 106 L236.8 111.8 L237.4 110.9 L237.9 105.2 L238.5 110.7 L239 109.2 L239.6 111.3 L240.1 108.5 L240.7 110.5 L241.2 112.1 L241.8 109.3 L242.3 113.6 L242.9 111.3 L243.4 111.9 L244 108.9 L244.5 112.4 L245.1 111.6 L245.6 109.8 L246.2 112.2 L246.7 114.7 L247.3 116 L247.8 108.3 L248.4 114.6 L248.9 113.1 L249.5 111.4 L250 107.4 L250.6 114.4 L251.1 108.8 L251.7 113.9 L252.2 116.3 L252.8 108.4 L253.3 111.8 L253.9 109.1 L254.4 113 L255 114.6 L255.5 115.9 L256.1 105.4 L256.6 108.1 L257.2 113.2 L257.7 115.1 L258.3 111.3 L258.8 108.8 L259.4 110.7 L259.9 110.3 L260.5 109.5 L261 107.9 L261.6 110.9 L262.1 111 L262.7 110.5 L263.2 108.4 L263.8 104.8 L264.3 106 L264.9 111.8 L265.4 111.4 L266 109.4 L266.5 115.8 L267.1 113.8 L267.6 116.6 L268.2 110.8 L268.7 110 L269.3 107.6 L269.8 114.2 L270.4 116.8 L270.9 107.8 L271.5 107.3 L272 110.5 L272.6 106.9 L273.1 108.6 L273.7 109.3 L274.2 111.7 L274.8 115.1 L275.3 112.9 L275.9 112.8 L276.4 107.8 L277 108.7 L277.5 100.6 L278.1 103.1 L278.6 110 L279.2 105.9 L279.7 109.4 L280.3 108.3 L280.8 109.3 L281.4 109.5 L281.9 109.5 L282.5 107.8 L283 107.3 L283.6 106.1 L284.1 108 L284.7 106.8 L285.2 109.1 L285.8 110.8 L286.3 111 L286.9 109.2 L287.4 104.7 L288 110.8 L288.5 112.8 L289.1 115.8 L289.6 115.1 L290.2 112.5 L290.7 112.2 L291.3 120.8 L291.8 117 L292.4 118.7 L292.9 120.6 L293.5 112.4 L294 115.9 L294.6 116.5 L295.1 115.7 L295.7 116 L296.2 116.2 L296.8 115.8 L297.3 112.3 L297.9 114.9 L298.4 113.1 L299 115.9 L299.5 113.8 L300.1 117.2 L300.6 118.2 L301.2 117.1 L301.7 118.4 L302.3 117.3 L302.8 114.6 L303.4 114.7 L303.9 113.3 L304.5 115.8 L305 116.3 L305.6 118.7 L306.1 113.6 L306.7 119.3 L307.2 113.9 L307.8 114.1 L308.3 115.4 L308.9 113.8 L309.4 116 L310 112.7 L310.5 112.7 L311.1 114.6 L311.6 119.8 L312.2 116.7 L312.7 112.6 L313.3 115.6 L313.8 112.9 L314.4 121.2 L314.9 112.7 L315.5 117 L316 115.4 L316.6 110.1 L317.1 113.9 L317.7 116.7 L318.2 117.6 L318.8 116.8 L319.3 119.2 L319.9 116.5 L320.4 115.1 L321 113.2 L321.5 114.9 L322.1 110.8 L322.6 115.8 L323.2 111.9 L323.7 110.4 L324.3 113.6 L324.8 116.8 L325.4 116.5 L325.9 111.8 L326.5 115.7 L327 113.3 L327.6 113.9 L328.1 115.4 L328.7 108.6 L329.2 114 L329.8 111 L330.3 111.3 L330.9 108 L331.4 108.4 L332 110.2 L332.5 114.6 L333.1 118.9 L333.6 116 L334.2 118.3 L334.7 115.1" stroke="#000" stroke-width="1.05" fill="none" stroke-linejoin="bevel"/>
<path d="M349.2 115 L349.9 116.2 L350.7 117 L351.4 114 L352.2 117.5 L352.9 116.6 L353.7 117.1 L354.4 116.1 L355.2 117 L355.9 112.9 L356.7 118.6 L357.4 118.2 L358.2 115.1 L358.9 117.5 L359.7 117.3 L360.4 113.3 L361.2 117.5 L361.9 115.5 L362.7 115.4 L363.4 114.5 L364.2 115.3 L364.9 116.2 L365.7 116.5 L366.4 113.6 L367.2 115.9 L367.9 113.8 L368.7 113.8 L369.4 115.9 L370.2 117.9 L370.9 117.6 L371.7 115.6 L372.4 114.6 L373.2 114.3 L373.9 116.6 L374.7 118.3 L375.4 116.5 L376.2 117.9 L376.9 116.3 L377.7 117.6 L378.4 111.5 L379.2 111.7 L379.9 115.6 L380.7 118.1 L381.4 115.8 L382.2 116.9 L382.9 114 L383.7 113.4 L384.4 115.1 L385.2 118.1 L385.9 117.6 L386.7 114.6 L387.4 115.8 L388.2 114.1 L388.9 115.3 L389.7 113.1 L390.4 114.8 L391.2 113.7 L391.9 115.3 L392.7 114.4 L393.4 114.8 L394.2 116.4 L394.9 115.4 L395.7 116.1 L396.4 115.5 L397.2 117.5 L397.9 115.4 L398.7 118.8 L399.4 119.5 L400.2 116.2 L400.9 119.4 L401.7 119.4 L402.4 116.4 L403.2 113.3 L403.9 113.3 L404.7 116.5 L405.4 120.1 L406.2 117.9 L406.9 117.6 L407.7 115.1 L408.4 113.9 L409.2 115.8 L409.9 113.3 L410.7 115 L411.4 116.6 L412.2 115.1 L412.9 116.1 L413.7 114.7 L414.4 117 L415.2 116.9 L415.9 113 L416.7 113.3 L417.4 114 L418.2 116.8 L418.9 116.3 L419.7 116.5 L420.4 115.8 L421.2 116.5 L421.9 116.6 L422.7 114 L423.4 111.8 L424.2 115.9 L424.9 114.1 L425.7 115.4 L426.4 115.2 L427.2 113.8 L427.9 113.6 L428.7 117.7 L429.4 117.9 L430.2 117.6" stroke="#111" stroke-width="0.9" fill="none" />
<path d="M206 169.6 L206.6 171.5 L207.1 170.2 L207.7 172.1 L208.2 174.1 L208.8 168.4 L209.3 171.2 L209.9 168.1 L210.4 171.8 L211 174.3 L211.5 171.6 L212.1 174.7 L212.6 169.6 L213.2 175.7 L213.7 171.7 L214.3 176.6 L214.8 172.4 L215.4 170.6 L215.9 168 L216.5 170.5 L217 170.9 L217.6 169.6 L218.1 169.4 L218.7 169.8 L219.2 168.9 L219.8 169.7 L220.3 170.7 L220.9 169.3 L221.4 173.1 L222 166.8 L222.5 172.5 L223.1 170.2 L223.6 172 L224.2 167 L224.7 171.5 L225.3 170.2 L225.8 169.6 L226.4 168.9 L226.9 170 L227.5 174.8 L228 172.2 L228.6 169.5 L229.1 173.9 L229.7 171.9 L230.2 174.7 L230.8 176 L231.3 173.8 L231.9 170.2 L232.4 173.5 L233 175.7 L233.5 172.3 L234.1 173.4 L234.6 174.9 L235.2 169.1 L235.7 173 L236.3 174 L236.8 170.5 L237.4 170.9 L237.9 172 L238.5 173.9 L239 169.7 L239.6 170.4 L240.1 170.5 L240.7 166.7 L241.2 165 L241.8 166.2 L242.3 169.3 L242.9 170.3 L243.4 166.5 L244 166.2 L244.5 171.8 L245.1 172.5 L245.6 172.3 L246.2 174.3 L246.7 174.4 L247.3 171.5 L247.8 172.1 L248.4 166.5 L248.9 166.9 L249.5 170.7 L250 171.8 L250.6 172.4 L251.1 169.6 L251.7 170.7 L252.2 170.4 L252.8 162.6 L253.3 167.5 L253.9 169.1 L254.4 169.9 L255 165.9 L255.5 173.1 L256.1 169.6 L256.6 169.8 L257.2 171.2 L257.7 172.4 L258.3 165.6 L258.8 172.5 L259.4 170.4 L259.9 166.9 L260.5 169 L261 162.8 L261.6 166.3 L262.1 169.4 L262.7 166.5 L263.2 168.3 L263.8 169.3 L264.3 169.5 L264.9 173.5 L265.4 170.2 L266 169.3 L266.5 172.6 L267.1 175.5 L267.6 169.1 L268.2 170.8 L268.7 164 L269.3 171.1 L269.8 169.2 L270.4 169.7 L270.9 164.9 L271.5 162 L272 166.3 L272.6 166.9 L273.1 163.9 L273.7 162.7 L274.2 167.5 L274.8 166.3 L275.3 173.1 L275.9 163.9 L276.4 165.1 L277 165.1 L277.5 160.3 L278.1 162.5 L278.6 169.2 L279.2 164.4 L279.7 162.8 L280.3 161 L280.8 165 L281.4 165.4 L281.9 162.6 L282.5 160.4 L283 161 L283.6 161.2 L284.1 160.3 L284.7 163.4 L285.2 157.1 L285.8 159.2 L286.3 162.3 L286.9 165.2 L287.4 163.2 L288 167.5 L288.5 171.4 L289.1 168.5 L289.6 168.2 L290.2 170.6 L290.7 167.1 L291.3 164.6 L291.8 168 L292.4 172 L292.9 166.8 L293.5 169.4 L294 166.3 L294.6 165.4 L295.1 164.3 L295.7 166.7 L296.2 168.9 L296.8 169.4 L297.3 165.2 L297.9 169.8 L298.4 172.4 L299 173.5 L299.5 173.4 L300.1 173.2 L300.6 172.5 L301.2 171.1 L301.7 167.4 L302.3 170.1 L302.8 168 L303.4 164.1 L303.9 165 L304.5 173.9 L305 165.3 L305.6 161.6 L306.1 167 L306.7 172.8 L307.2 169.5 L307.8 173 L308.3 170.3 L308.9 171.4 L309.4 174 L310 171.1 L310.5 169.6 L311.1 171.6 L311.6 172 L312.2 168.1 L312.7 169.1 L313.3 168.6 L313.8 167.7 L314.4 173.7 L314.9 169.9 L315.5 169.3 L316 166.6 L316.6 167.5 L317.1 174.4 L317.7 167.7 L318.2 171.1 L318.8 168.8 L319.3 172.2 L319.9 172.4 L320.4 169.8 L321 171.1 L321.5 171.4 L322.1 171 L322.6 170.2 L323.2 169.1 L323.7 171.6 L324.3 173.1 L324.8 170.3 L325.4 167.4 L325.9 172.3 L326.5 171.7 L327 173.5 L327.6 177.3 L328.1 170.2 L328.7 171 L329.2 169.9 L329.8 171.2 L330.3 171.7 L330.9 177.8 L331.4 172.5 L332 169.9 L332.5 175 L333.1 165.4 L333.6 172.5 L334.2 173.6 L334.7 172.8" stroke="#000" stroke-width="1.05" fill="none" stroke-linejoin="bevel"/>
<path d="M349.2 173.5 L349.9 173.4 L350.7 172.2 L351.4 172.8 L352.2 170.3 L352.9 168 L353.7 174.1 L354.4 172.4 L355.2 167.9 L355.9 169.9 L356.7 171.1 L357.4 172.9 L358.2 175.3 L358.9 173.3 L359.7 171.4 L360.4 173.2 L361.2 171.3 L361.9 172.2 L362.7 170.8 L363.4 169.7 L364.2 174.4 L364.9 171.5 L365.7 172.3 L366.4 170.9 L367.2 171.1 L367.9 171.2 L368.7 173.3 L369.4 174.5 L370.2 173.5 L370.9 172 L371.7 177.9 L372.4 174 L373.2 173.9 L373.9 170.7 L374.7 171.7 L375.4 173.4 L376.2 169 L376.9 170.4 L377.7 172.4 L378.4 176.4 L379.2 173.1 L379.9 170.5 L380.7 170 L381.4 173.9 L382.2 170.5 L382.9 171.8 L383.7 176.1 L384.4 172.7 L385.2 171.9 L385.9 170.9 L386.7 174.9 L387.4 174.3 L388.2 170.5 L388.9 168.9 L389.7 170.9 L390.4 174 L391.2 172.9 L391.9 169.7 L392.7 173 L393.4 173.4 L394.2 171.4 L394.9 172 L395.7 171.6 L396.4 171.4 L397.2 171.4 L397.9 170 L398.7 170 L399.4 169 L400.2 172.8 L400.9 172.6 L401.7 171.6 L402.4 171.7 L403.2 171.2 L403.9 170.1 L404.7 172.4 L405.4 171.6 L406.2 171.7 L406.9 168.4 L407.7 171 L408.4 173 L409.2 171.3 L409.9 170.1 L410.7 168.6 L411.4 169.9 L412.2 174.1 L412.9 170.3 L413.7 173.5 L414.4 171.2 L415.2 174 L415.9 171.4 L416.7 173.1 L417.4 173.3 L418.2 173.1 L418.9 169.5 L419.7 170.2 L420.4 169 L421.2 170.1 L421.9 170.4 L422.7 170.7 L423.4 172.5 L424.2 170.2 L424.9 170.4 L425.7 171.3 L426.4 171.8 L427.2 170.3 L427.9 172.5 L428.7 169.2 L429.4 175.1 L430.2 172" stroke="#111" stroke-width="0.9" fill="none" />
<path d="M206 220.3 L206.6 207.4 L207.1 216.3 L207.7 213.8 L208.2 215.4 L208.8 213.6 L209.3 219.3 L209.9 214.9 L210.4 215.5 L211 217.8 L211.5 216.6 L212.1 213.7 L212.6 214.4 L213.2 216.3 L213.7 216.4 L214.3 213 L214.8 211.8 L215.4 208.2 L215.9 217.6 L216.5 212.9 L217 217 L217.6 214.4 L218.1 218.2 L218.7 216.4 L219.2 213.4 L219.8 217.8 L220.3 210.8 L220.9 217.4 L221.4 212.2 L222 215.3 L222.5 216.6 L223.1 214.1 L223.6 211.8 L224.2 212.8 L224.7 214.2 L225.3 218.5 L225.8 216.8 L226.4 212 L226.9 208.9 L227.5 214.2 L228 208.1 L228.6 211.1 L229.1 212 L229.7 216.4 L230.2 216.5 L230.8 216.1 L231.3 215.3 L231.9 212.3 L232.4 213.7 L233 216.5 L233.5 213.1 L234.1 212.9 L234.6 211 L235.2 213.1 L235.7 212.2 L236.3 213.5 L236.8 213.6 L237.4 218.3 L237.9 213.3 L238.5 213.7 L239 212.9 L239.6 215.8 L240.1 211.6 L240.7 212.4 L241.2 216.1 L241.8 218.9 L242.3 218 L242.9 208.2 L243.4 211 L244 206.4 L244.5 205.3 L245.1 208.1 L245.6 214.3 L246.2 209.6 L246.7 209.9 L247.3 212.8 L247.8 211.6 L248.4 213.2 L248.9 210.6 L249.5 213.1 L250 213.3 L250.6 207.3 L251.1 207.9 L251.7 215.3 L252.2 215.2 L252.8 213 L253.3 212.4 L253.9 214.9 L254.4 212.5 L255 214.2 L255.5 219.2 L256.1 213 L256.6 216 L257.2 211.5 L257.7 212.1 L258.3 215.3 L258.8 207.4 L259.4 209.9 L259.9 211.3 L260.5 212.5 L261 215.6 L261.6 214.4 L262.1 208.2 L262.7 211.9 L263.2 211.1 L263.8 209.8 L264.3 218.1 L264.9 209.6 L265.4 213 L266 209.8 L266.5 212.2 L267.1 210.8 L267.6 211.4 L268.2 211.9 L268.7 217.5 L269.3 212.5 L269.8 211.9 L270.4 210.2 L270.9 215.1 L271.5 211.7 L272 210.2 L272.6 211.6 L273.1 218.8 L273.7 211.6 L274.2 212.8 L274.8 212.8 L275.3 211.1 L275.9 208.7 L276.4 210.9 L277 210.6 L277.5 206.3 L278.1 218.2 L278.6 212.3 L279.2 209.2 L279.7 208.4 L280.3 206.8 L280.8 210.6 L281.4 205.6 L281.9 204.8 L282.5 198.1 L283 201.6 L283.6 205.7 L284.1 201 L284.7 206.2 L285.2 204.3 L285.8 209 L286.3 210.5 L286.9 206.6 L287.4 206.3 L288 209.2 L288.5 208.3 L289.1 207 L289.6 211.2 L290.2 209.9 L290.7 206.8 L291.3 209.6 L291.8 216.9 L292.4 213.2 L292.9 211.1 L293.5 218.2 L294 210.4 L294.6 204.9 L295.1 205.5 L295.7 204.9 L296.2 209.8 L296.8 210.8 L297.3 203.1 L297.9 211.6 L298.4 205.4 L299 210.5 L299.5 212.4 L300.1 212 L300.6 211.2 L301.2 212.2 L301.7 209.2 L302.3 215.3 L302.8 216.3 L303.4 215.3 L303.9 219.2 L304.5 214.9 L305 215.3 L305.6 218.3 L306.1 214.4 L306.7 209.3 L307.2 206.8 L307.8 216.4 L308.3 214.2 L308.9 216.3 L309.4 211.1 L310 212.1 L310.5 217.5 L311.1 213.3 L311.6 212.5 L312.2 214.6 L312.7 217.3 L313.3 209.9 L313.8 206.1 L314.4 205.4 L314.9 208.1 L315.5 212.8 L316 209.5 L316.6 208.2 L317.1 207.9 L317.7 211.6 L318.2 213 L318.8 212.6 L319.3 212.7 L319.9 211.2 L320.4 215.6 L321 204.4 L321.5 212.5 L322.1 210.1 L322.6 214.8 L323.2 212.2 L323.7 212 L324.3 211.9 L324.8 210.3 L325.4 212.3 L325.9 207.5 L326.5 215 L327 213.9 L327.6 215.6 L328.1 217.9 L328.7 216.5 L329.2 218 L329.8 206.9 L330.3 209.6 L330.9 214.6 L331.4 208.5 L332 211.1 L332.5 216.9 L333.1 214.4 L333.6 210.7 L334.2 213.5 L334.7 213.3" stroke="#000" stroke-width="1.05" fill="none" stroke-linejoin="bevel"/>
<path d="M349.2 216.4 L349.9 214.5 L350.7 216.3 L351.4 214.6 L352.2 211.7 L352.9 216.7 L353.7 215 L354.4 216.7 L355.2 219 L355.9 216.4 L356.7 213.8 L357.4 214.6 L358.2 217.3 L358.9 212.2 L359.7 215.4 L360.4 215.6 L361.2 213 L361.9 215.6 L362.7 216.2 L363.4 214.4 L364.2 214.5 L364.9 216.1 L365.7 212.9 L366.4 212.6 L367.2 216.3 L367.9 215.4 L368.7 212.6 L369.4 215.8 L370.2 218.7 L370.9 212.2 L371.7 216.6 L372.4 216.1 L373.2 215.6 L373.9 216.5 L374.7 213.5 L375.4 217.4 L376.2 217.2 L376.9 212.8 L377.7 214.7 L378.4 215.8 L379.2 214.1 L379.9 216.1 L380.7 213.1 L381.4 215.8 L382.2 214.9 L382.9 215.2 L383.7 216.5 L384.4 217.9 L385.2 213.8 L385.9 216.9 L386.7 217.1 L387.4 214.9 L388.2 218.2 L388.9 214.1 L389.7 213.9 L390.4 216.1 L391.2 213.7 L391.9 217.6 L392.7 215.8 L393.4 218.7 L394.2 213.6 L394.9 213.5 L395.7 217.7 L396.4 213 L397.2 217.5 L397.9 214.3 L398.7 216.3 L399.4 218.2 L400.2 216.3 L400.9 213.8 L401.7 215 L402.4 218 L403.2 215.6 L403.9 217.4 L404.7 216.1 L405.4 216 L406.2 215.3 L406.9 212.6 L407.7 215.4 L408.4 215.7 L409.2 211.5 L409.9 216.1 L410.7 217.7 L411.4 218.8 L412.2 212.7 L412.9 215.8 L413.7 216.6 L414.4 216.2 L415.2 213.7 L415.9 215.8 L416.7 214.2 L417.4 215.2 L418.2 213.8 L418.9 215 L419.7 213.8 L420.4 215.6 L421.2 214.5 L421.9 216.1 L422.7 217.9 L423.4 214.6 L424.2 213.7 L424.9 215.1 L425.7 214.6 L426.4 212.5 L427.2 215.7 L427.9 214.8 L428.7 216.9 L429.4 215.1 L430.2 217.3" stroke="#111" stroke-width="0.9" fill="none" />
<path d="M206 246.8 L206.6 241.5 L207.1 239.6 L207.7 234.8 L208.2 240.9 L208.8 246.2 L209.3 242.1 L209.9 244.1 L210.4 244.7 L211 239.1 L211.5 249.6 L212.1 240.1 L212.6 243.5 L213.2 250.9 L213.7 243 L214.3 242.4 L214.8 241.1 L215.4 241.4 L215.9 235 L216.5 238.4 L217 244.7 L217.6 240.1 L218.1 239.3 L218.7 242 L219.2 242.6 L219.8 242.6 L220.3 241.4 L220.9 234.4 L221.4 239.1 L222 237.6 L222.5 243.2 L223.1 243 L223.6 240 L224.2 240.6 L224.7 237.6 L225.3 242.7 L225.8 240.2 L226.4 242.7 L226.9 239 L227.5 244.6 L228 240 L228.6 243.7 L229.1 241.1 L229.7 237.2 L230.2 241.8 L230.8 239.5 L231.3 240.4 L231.9 242.9 L232.4 241.4 L233 242.9 L233.5 239.1 L234.1 242.3 L234.6 240.1 L235.2 240.7 L235.7 236 L236.3 239.5 L236.8 239.6 L237.4 236.2 L237.9 237 L238.5 239.9 L239 235.9 L239.6 236.9 L240.1 243 L240.7 242 L241.2 241.2 L241.8 241.6 L242.3 240 L242.9 239.9 L243.4 240 L244 242.2 L244.5 244.8 L245.1 240.4 L245.6 240.9 L246.2 239.7 L246.7 236.4 L247.3 241 L247.8 243.3 L248.4 239.3 L248.9 243.4 L249.5 237.9 L250 241.6 L250.6 241.7 L251.1 238.1 L251.7 235.6 L252.2 240.4 L252.8 238.5 L253.3 239.2 L253.9 241.3 L254.4 245.4 L255 240.9 L255.5 240.5 L256.1 235.4 L256.6 239.6 L257.2 236.5 L257.7 241.5 L258.3 239.1 L258.8 240 L259.4 240.3 L259.9 240.4 L260.5 242.9 L261 241.2 L261.6 239.2 L262.1 239.6 L262.7 241.6 L263.2 246.1 L263.8 241.7 L264.3 246 L264.9 241 L265.4 240.9 L266 239.7 L266.5 245.3 L267.1 241.1 L267.6 240.1 L268.2 244.9 L268.7 241 L269.3 239.5 L269.8 245.1 L270.4 241.3 L270.9 245 L271.5 239.5 L272 241.5 L272.6 242.7 L273.1 240.1 L273.7 246.7 L274.2 241.1 L274.8 242.1 L275.3 242.1 L275.9 242.3 L276.4 238.4 L277 236.4 L277.5 238.4 L278.1 241.6 L278.6 236.6 L279.2 234.4 L279.7 235.9 L280.3 237.5 L280.8 233.6 L281.4 233.4 L281.9 227.6 L282.5 230.1 L283 228.8 L283.6 229.1 L284.1 227.9 L284.7 231.4 L285.2 228.9 L285.8 236.7 L286.3 231.9 L286.9 234.5 L287.4 238.6 L288 238.2 L288.5 231.5 L289.1 238.1 L289.6 235.9 L290.2 235.8 L290.7 238.7 L291.3 239.4 L291.8 242.7 L292.4 235.3 L292.9 238.2 L293.5 240.3 L294 236.6 L294.6 245.1 L295.1 245.8 L295.7 239.9 L296.2 241.7 L296.8 239.4 L297.3 241.7 L297.9 237.7 L298.4 242.5 L299 237.1 L299.5 244.1 L300.1 242.2 L300.6 248.7 L301.2 239.5 L301.7 244.8 L302.3 242 L302.8 243.7 L303.4 246.1 L303.9 241.9 L304.5 238.5 L305 239 L305.6 242.4 L306.1 244.3 L306.7 245.5 L307.2 242.1 L307.8 239.1 L308.3 241.4 L308.9 238.7 L309.4 238.4 L310 246.2 L310.5 242.8 L311.1 245.6 L311.6 244.5 L312.2 247.7 L312.7 247.8 L313.3 242.1 L313.8 244.1 L314.4 243.4 L314.9 249 L315.5 247.3 L316 242 L316.6 248.2 L317.1 240.6 L317.7 237.5 L318.2 235.7 L318.8 242.1 L319.3 243.8 L319.9 241.5 L320.4 243.8 L321 245.5 L321.5 240.9 L322.1 242.6 L322.6 244.7 L323.2 242.2 L323.7 240.6 L324.3 244.7 L324.8 242.8 L325.4 247.4 L325.9 240.8 L326.5 237.1 L327 243.3 L327.6 241.6 L328.1 239.9 L328.7 242.4 L329.2 241.6 L329.8 245.2 L330.3 239.8 L330.9 240.1 L331.4 242.1 L332 239.7 L332.5 244.5 L333.1 241.6 L333.6 241 L334.2 244.5 L334.7 241.9" stroke="#000" stroke-width="1.05" fill="none" stroke-linejoin="bevel"/>
<path d="M349.2 246.2 L349.9 244 L350.7 251.5 L351.4 247.4 L352.2 247.9 L352.9 246.1 L353.7 245.9 L354.4 246.3 L355.2 245.7 L355.9 244.6 L356.7 247.2 L357.4 246.6 L358.2 245.7 L358.9 244.6 L359.7 244.3 L360.4 244 L361.2 246.4 L361.9 245.2 L362.7 247.6 L363.4 244.8 L364.2 247.4 L364.9 245.9 L365.7 244.7 L366.4 247 L367.2 245.8 L367.9 246.9 L368.7 247.2 L369.4 247 L370.2 244.9 L370.9 246.3 L371.7 248.1 L372.4 244.6 L373.2 246.6 L373.9 245.4 L374.7 245.4 L375.4 245.6 L376.2 244.9 L376.9 246.4 L377.7 247.2 L378.4 242.8 L379.2 245.3 L379.9 246.5 L380.7 245.2 L381.4 247.6 L382.2 244.9 L382.9 247.9 L383.7 247.7 L384.4 246.6 L385.2 244.3 L385.9 248.3 L386.7 245.2 L387.4 246.2 L388.2 243.6 L388.9 244.2 L389.7 246 L390.4 243.2 L391.2 245.9 L391.9 248.7 L392.7 242.6 L393.4 245.2 L394.2 248.2 L394.9 246.1 L395.7 247.7 L396.4 246.4 L397.2 242.8 L397.9 240.4 L398.7 245.5 L399.4 247.5 L400.2 243.8 L400.9 248.3 L401.7 243 L402.4 246.5 L403.2 245.3 L403.9 244.9 L404.7 244.6 L405.4 244.3 L406.2 245.8 L406.9 244.6 L407.7 248.1 L408.4 244.5 L409.2 247.1 L409.9 243.9 L410.7 243.1 L411.4 246.3 L412.2 246.3 L412.9 245.4 L413.7 249 L414.4 244.1 L415.2 246.8 L415.9 246.1 L416.7 248.9 L417.4 243.9 L418.2 245.8 L418.9 245.5 L419.7 245 L420.4 244.1 L421.2 245.8 L421.9 245.8 L422.7 243.6 L423.4 245 L424.2 242.4 L424.9 248.5 L425.7 247.2 L426.4 246.2 L427.2 246.8 L427.9 244.2 L428.7 242.9 L429.4 242.9 L430.2 242.9" stroke="#111" stroke-width="0.9" fill="none" />
<text x="222.8" y="34.2" font-size="14" >0 V</text>
<text x="213.6" y="99" font-size="14" >−0.4 V</text>
<text x="213.6" y="158.9" font-size="14" >−0.8 V</text>
<text x="213.6" y="204.3" font-size="14" >−1.2 V</text>
<text x="213.6" y="233.9" font-size="14" >−1.6 V</text>
<text x="257.2" y="17.7" font-size="14" >Graphite</text>
<path d="M526.5 55.6 L526.5 55.5 L527 55.5 L527.6 55.5 L528.1 55.5 L528.7 55.5 L529.2 55.5 L529.8 55.5 L530.3 55.5 L530.9 55.5 L531.4 55.4 L532 55.4 L532.5 55.4 L533.1 55.4 L533.6 55.4 L534.2 55.3 L534.7 55.3 L535.3 55.3 L535.8 55.2 L536.4 55.2 L536.9 55.1 L537.5 55.1 L538 55 L538.6 55 L539.1 54.9 L539.7 54.8 L540.2 54.8 L540.8 54.7 L541.3 54.6 L541.9 54.5 L542.4 54.4 L543 54.3 L543.5 54.2 L544.1 54.1 L544.6 54 L545.2 53.8 L545.7 53.7 L546.3 53.5 L546.8 53.4 L547.4 53.2 L547.9 53 L548.5 52.8 L549 52.6 L549.6 52.4 L550.1 52.2 L550.7 52 L551.2 51.8 L551.8 51.5 L552.3 51.3 L552.9 51 L553.4 50.8 L554 50.5 L554.5 50.2 L555.1 50 L555.6 49.7 L556.2 49.4 L556.7 49.1 L557.3 48.8 L557.8 48.5 L558.4 48.2 L558.9 47.9 L559.5 47.6 L560 47.3 L560.6 47 L561.1 46.7 L561.7 46.4 L562.2 46.1 L562.8 45.8 L563.3 45.6 L563.9 45.3 L564.4 45 L565 44.8 L565.5 44.6 L566.1 44.3 L566.6 44.1 L567.2 43.9 L567.7 43.7 L568.3 43.6 L568.8 43.4 L569.4 43.3 L569.9 43.2 L570.5 43.1 L571 43 L571.6 43 L572.1 42.9 L572.7 42.9 L573.2 42.9 L573.8 42.9 L574.3 43 L574.9 43 L575.4 43.1 L576 43.2 L576.5 43.3 L577.1 43.4 L577.6 43.6 L578.2 43.8 L578.7 43.9 L579.3 44.1 L579.8 44.4 L580.4 44.6 L580.9 44.8 L581.5 45.1 L582 45.3 L582.6 45.6 L583.1 45.9 L583.7 46.1 L584.2 46.4 L584.8 46.7 L585.3 47 L585.9 47.3 L586.4 47.6 L587 47.9 L587.5 48.2 L588.1 48.5 L588.6 48.8 L589.2 49.1 L589.7 49.4 L590.3 49.7 L590.8 50 L591.4 50.3 L591.9 50.5 L592.5 50.8 L593 51.1 L593.6 51.3 L594.1 51.6 L594.7 51.8 L595.2 52 L595.8 52.2 L596.3 52.5 L596.9 52.7 L597.4 52.9 L598 53 L598.5 53.2 L599.1 53.4 L599.6 53.5 L600.2 53.7 L600.7 53.8 L601.3 54 L601.8 54.1 L602.4 54.2 L602.9 54.3 L603.5 54.4 L604 54.5 L604.6 54.6 L605.1 54.7 L605.7 54.8 L606.2 54.8 L606.8 54.9 L607.3 55 L607.9 55 L608.4 55.1 L609 55.1 L609.5 55.2 L610.1 55.2 L610.6 55.3 L611.2 55.3 L611.7 55.3 L612.3 55.4 L612.8 55.4 L613.4 55.4 L613.9 55.4 L614.5 55.4 L615 55.5 L615.6 55.5 L616.1 55.5 L616.7 55.5 L617.2 55.5 L617.8 55.5 L618.3 55.5 L618.9 55.5 L619.4 55.5 L619.4 55.6 Z" fill="#ff1a1a" fill-opacity="0.52" stroke="#ff2a2a" stroke-width="0.9"/>
<path d="M550.7 55.6 L550.7 55.5 L551.2 55.5 L551.8 55.5 L552.3 55.5 L552.9 55.5 L553.4 55.5 L554 55.5 L554.5 55.5 L555.1 55.4 L555.6 55.4 L556.2 55.4 L556.7 55.3 L557.3 55.3 L557.8 55.3 L558.4 55.2 L558.9 55.2 L559.5 55.1 L560 55 L560.6 55 L561.1 54.9 L561.7 54.8 L562.2 54.7 L562.8 54.6 L563.3 54.4 L563.9 54.3 L564.4 54.1 L565 54 L565.5 53.8 L566.1 53.6 L566.6 53.4 L567.2 53.1 L567.7 52.9 L568.3 52.6 L568.8 52.3 L569.4 51.9 L569.9 51.6 L570.5 51.2 L571 50.8 L571.6 50.3 L572.1 49.8 L572.7 49.3 L573.2 48.8 L573.8 48.2 L574.3 47.6 L574.9 46.9 L575.4 46.3 L576 45.6 L576.5 44.8 L577.1 44 L577.6 43.2 L578.2 42.4 L578.7 41.5 L579.3 40.6 L579.8 39.6 L580.4 38.7 L580.9 37.7 L581.5 36.7 L582 35.6 L582.6 34.6 L583.1 33.5 L583.7 32.4 L584.2 31.3 L584.8 30.2 L585.3 29.1 L585.9 28 L586.4 27 L587 25.9 L587.5 24.8 L588.1 23.8 L588.6 22.8 L589.2 21.8 L589.7 20.9 L590.3 20 L590.8 19.1 L591.4 18.3 L591.9 17.6 L592.5 16.9 L593 16.2 L593.6 15.7 L594.1 15.1 L594.7 14.7 L595.2 14.3 L595.8 14 L596.3 13.8 L596.9 13.7 L597.4 13.6 L598 13.6 L598.5 13.7 L599.1 13.9 L599.6 14.1 L600.2 14.4 L600.7 14.8 L601.3 15.3 L601.8 15.8 L602.4 16.4 L602.9 17.1 L603.5 17.8 L604 18.5 L604.6 19.4 L605.1 20.2 L605.7 21.1 L606.2 22.1 L606.8 23.1 L607.3 24.1 L607.9 25.1 L608.4 26.2 L609 27.3 L609.5 28.3 L610.1 29.4 L610.6 30.5 L611.2 31.6 L611.7 32.7 L612.3 33.8 L612.8 34.8 L613.4 35.9 L613.9 36.9 L614.5 37.9 L615 38.9 L615.6 39.9 L616.1 40.8 L616.7 41.7 L617.2 42.6 L617.8 43.4 L618.3 44.2 L618.9 45 L619.4 45.8 L620 46.5 L620.5 47.1 L621.1 47.8 L621.6 48.4 L622.2 48.9 L622.7 49.5 L623.3 50 L623.8 50.4 L624.4 50.9 L624.9 51.3 L625.5 51.7 L626 52 L626.6 52.3 L627.1 52.6 L627.7 52.9 L628.2 53.2 L628.8 53.4 L629.3 53.6 L629.9 53.8 L630.4 54 L631 54.2 L631.5 54.3 L632.1 54.5 L632.6 54.6 L633.2 54.7 L633.7 54.8 L634.3 54.9 L634.8 55 L635.4 55.1 L635.9 55.1 L636.5 55.2 L637 55.2 L637.6 55.3 L638.1 55.3 L638.7 55.4 L639.2 55.4 L639.8 55.4 L640.3 55.4 L640.9 55.5 L641.4 55.5 L642 55.5 L642.5 55.5 L643.1 55.5 L643.6 55.5 L644.2 55.5 L644.2 55.6 Z" fill="#1e90ff" fill-opacity="0.52" stroke="#2a9df0" stroke-width="0.9"/>
<path d="M599.1 55.6 L599.1 55.5 L599.6 55.5 L600.2 55.5 L600.7 55.5 L601.3 55.4 L601.8 55.3 L602.4 55.2 L602.9 55.1 L603.5 55 L604 54.8 L604.6 54.5 L605.1 54.2 L605.7 53.8 L606.2 53.3 L606.8 52.7 L607.3 52.1 L607.9 51.2 L608.4 50.3 L609 49.2 L609.5 47.9 L610.1 46.5 L610.6 44.9 L611.2 43.2 L611.7 41.3 L612.3 39.3 L612.8 37.1 L613.4 34.9 L613.9 32.6 L614.5 30.3 L615 28 L615.6 25.8 L616.1 23.8 L616.7 21.9 L617.2 20.2 L617.8 18.8 L618.3 17.6 L618.9 16.8 L619.4 16.4 L620 16.3 L620.5 16.6 L621.1 17.2 L621.6 18.2 L622.2 19.5 L622.7 21.1 L623.3 22.9 L623.8 24.9 L624.4 27 L624.9 29.3 L625.5 31.6 L626 33.8 L626.6 36.1 L627.1 38.3 L627.7 40.4 L628.2 42.3 L628.8 44.1 L629.3 45.8 L629.9 47.3 L630.4 48.6 L631 49.8 L631.5 50.8 L632.1 51.7 L632.6 52.4 L633.2 53.1 L633.7 53.6 L634.3 54 L634.8 54.4 L635.4 54.6 L635.9 54.9 L636.5 55 L637 55.2 L637.6 55.3 L638.1 55.4 L638.7 55.4 L639.2 55.5 L639.8 55.5 L640.3 55.5 L640.3 55.6 Z" fill="#10cc10" fill-opacity="0.52" stroke="#20d020" stroke-width="0.9"/>
<path d="M617.2 55.6 L617.2 55.5 L617.8 55.5 L618.3 55.5 L618.9 55.4 L619.4 55.4 L620 55.3 L620.5 55.3 L621.1 55.2 L621.6 55 L622.2 54.9 L622.7 54.7 L623.3 54.6 L623.8 54.3 L624.4 54.1 L624.9 53.8 L625.5 53.5 L626 53.1 L626.6 52.7 L627.1 52.3 L627.7 51.9 L628.2 51.4 L628.8 50.9 L629.3 50.5 L629.9 50 L630.4 49.6 L631 49.2 L631.5 48.9 L632.1 48.6 L632.6 48.3 L633.2 48.1 L633.7 48 L634.3 48 L634.8 48 L635.4 48.2 L635.9 48.4 L636.5 48.6 L637 48.9 L637.6 49.3 L638.1 49.7 L638.7 50.1 L639.2 50.6 L639.8 51 L640.3 51.5 L640.9 51.9 L641.4 52.4 L642 52.8 L642.5 53.2 L643.1 53.5 L643.6 53.8 L644.2 54.1 L644.7 54.4 L645.3 54.6 L645.8 54.8 L646.4 54.9 L646.9 55.1 L647.5 55.2 L648 55.3 L648.6 55.3 L649.1 55.4 L649.7 55.5 L650.2 55.5 L650.8 55.5 L651.3 55.5 L651.3 55.6 Z" fill="#ff8c00" fill-opacity="0.52" stroke="#f59a20" stroke-width="0.9"/>
<path d="M635.4 55.6 L635.4 55.5 L635.9 55.5 L636.5 55.4 L637 55.3 L637.6 55.2 L638.1 55.1 L638.7 54.9 L639.2 54.6 L639.8 54.3 L640.3 54 L640.9 53.6 L641.4 53.1 L642 52.7 L642.5 52.2 L643.1 51.8 L643.6 51.4 L644.2 51.1 L644.7 50.8 L645.3 50.7 L645.8 50.7 L646.4 50.8 L646.9 51.1 L647.5 51.4 L648 51.8 L648.6 52.2 L649.1 52.7 L649.7 53.2 L650.2 53.6 L650.8 54 L651.3 54.4 L651.9 54.7 L652.4 54.9 L653 55.1 L653.5 55.2 L654.1 55.4 L654.6 55.4 L655.2 55.5 L655.7 55.5 L655.7 55.6 Z" fill="#8a00ff" fill-opacity="0.52" stroke="#9a20ff" stroke-width="0.9"/>
<line x1="447.8" y1="55.6" x2="673.6" y2="55.6" stroke="#b050e0" stroke-width="1" />
<path d="M447.8 55.6 L448.4 55.6 L448.9 55.6 L449.5 55.6 L450 55.6 L450.6 55.6 L451.1 55.6 L451.7 55.6 L452.2 55.6 L452.8 55.6 L453.3 55.6 L453.9 55.6 L454.4 55.6 L455 55.6 L455.5 55.6 L456.1 55.6 L456.6 55.6 L457.2 55.6 L457.7 55.6 L458.3 55.6 L458.8 55.6 L459.4 55.6 L459.9 55.6 L460.5 55.6 L461 55.6 L461.6 55.6 L462.1 55.6 L462.7 55.6 L463.2 55.6 L463.8 55.6 L464.3 55.6 L464.9 55.6 L465.4 55.6 L466 55.6 L466.5 55.6 L467.1 55.6 L467.6 55.6 L468.2 55.6 L468.7 55.6 L469.3 55.6 L469.8 55.6 L470.4 55.6 L470.9 55.6 L471.5 55.6 L472 55.6 L472.6 55.6 L473.1 55.6 L473.7 55.6 L474.2 55.6 L474.8 55.6 L475.3 55.6 L475.9 55.6 L476.4 55.6 L477 55.6 L477.5 55.6 L478.1 55.6 L478.6 55.6 L479.2 55.6 L479.7 55.6 L480.3 55.6 L480.8 55.6 L481.4 55.6 L481.9 55.6 L482.5 55.6 L483 55.6 L483.6 55.6 L484.1 55.6 L484.7 55.6 L485.2 55.6 L485.8 55.6 L486.3 55.6 L486.9 55.6 L487.4 55.6 L488 55.6 L488.5 55.6 L489.1 55.6 L489.6 55.6 L490.2 55.6 L490.7 55.6 L491.3 55.6 L491.8 55.6 L492.4 55.6 L492.9 55.6 L493.5 55.6 L494 55.6 L494.6 55.6 L495.1 55.6 L495.7 55.6 L496.2 55.6 L496.8 55.6 L497.3 55.6 L497.9 55.6 L498.4 55.6 L499 55.6 L499.5 55.6 L500.1 55.6 L500.6 55.6 L501.2 55.6 L501.7 55.6 L502.3 55.6 L502.8 55.6 L503.4 55.6 L503.9 55.6 L504.5 55.6 L505 55.6 L505.6 55.6 L506.1 55.6 L506.7 55.6 L507.2 55.6 L507.8 55.6 L508.3 55.6 L508.9 55.6 L509.4 55.6 L510 55.6 L510.5 55.6 L511.1 55.6 L511.6 55.6 L512.2 55.6 L512.7 55.6 L513.3 55.6 L513.8 55.5 L514.4 55.5 L514.9 55.5 L515.5 55.5 L516 55.5 L516.6 55.4 L517.1 55.4 L517.7 55.4 L518.2 55.4 L518.8 55.3 L519.3 55.3 L519.9 55.3 L520.4 55.3 L521 55.3 L521.5 55.2 L522.1 55.2 L522.6 55.2 L523.2 55.2 L523.7 55.2 L524.3 55.1 L524.8 55.1 L525.4 55.1 L525.9 55.1 L526.5 55 L527 55 L527.6 55 L528.1 54.9 L528.7 54.9 L529.2 54.9 L529.8 54.8 L530.3 54.8 L530.9 54.7 L531.4 54.6 L532 54.4 L532.5 54.3 L533.1 54.1 L533.6 53.9 L534.2 53.7 L534.7 53.5 L535.3 53.2 L535.8 53 L536.4 52.7 L536.9 52.5 L537.5 52.2 L538 52 L538.6 51.8 L539.1 51.5 L539.7 51.3 L540.2 51.1 L540.8 50.9 L541.3 50.7 L541.9 50.5 L542.4 50.3 L543 50.1 L543.5 49.9 L544.1 49.7 L544.6 49.6 L545.2 49.4 L545.7 49.2 L546.3 49 L546.8 48.8 L547.4 48.6 L547.9 48.4 L548.5 48.2 L549 48 L549.6 47.7 L550.1 47.5 L550.7 47.3 L551.2 47.1 L551.8 46.8 L552.3 46.6 L552.9 46.4 L553.4 46.1 L554 45.9 L554.5 45.6 L555.1 45.4 L555.6 45.1 L556.2 44.8 L556.7 44.6 L557.3 44.3 L557.8 44 L558.4 43.8 L558.9 43.5 L559.5 43.2 L560 42.9 L560.6 42.6 L561.1 42.3 L561.7 42 L562.2 41.7 L562.8 41.3 L563.3 41 L563.9 40.7 L564.4 40.4 L565 40 L565.5 39.7 L566.1 39.3 L566.6 39 L567.2 38.6 L567.7 38.2 L568.3 37.8 L568.8 37.4 L569.4 37 L569.9 36.6 L570.5 36.2 L571 35.7 L571.6 35.2 L572.1 34.7 L572.7 34.2 L573.2 33.7 L573.8 33.1 L574.3 32.5 L574.9 31.9 L575.4 31.3 L576 30.7 L576.5 30 L577.1 29.4 L577.6 28.7 L578.2 28 L578.7 27.4 L579.3 26.7 L579.8 26 L580.4 25.4 L580.9 24.7 L581.5 24.1 L582 23.4 L582.6 22.7 L583.1 22 L583.7 21.2 L584.2 20.5 L584.8 19.7 L585.3 19 L585.9 18.2 L586.4 17.5 L587 16.8 L587.5 16.2 L588.1 15.5 L588.6 15 L589.2 14.4 L589.7 13.9 L590.3 13.4 L590.8 12.9 L591.4 12.4 L591.9 11.9 L592.5 11.5 L593 11 L593.6 10.7 L594.1 10.4 L594.7 10.2 L595.2 10 L595.8 10 L596.3 10.1 L596.9 10.2 L597.4 10.3 L598 10.5 L598.5 10.7 L599.1 11 L599.6 11.3 L600.2 11.7 L600.7 12.3 L601.3 13 L601.8 13.8 L602.4 14.6 L602.9 15.4 L603.5 16.1 L604 16.8 L604.6 17.5 L605.1 18.2 L605.7 18.9 L606.2 19.4 L606.8 19.7 L607.3 19.7 L607.9 19.5 L608.4 19.2 L609 18.8 L609.5 18.3 L610.1 17.7 L610.6 17.1 L611.2 16.5 L611.7 16 L612.3 15.4 L612.8 14.8 L613.4 14.1 L613.9 13.4 L614.5 12.7 L615 11.9 L615.6 11.2 L616.1 10.6 L616.7 9.9 L617.2 9.4 L617.8 8.8 L618.3 8.2 L618.9 7.7 L619.4 7.4 L620 7.2 L620.5 7.4 L621.1 7.8 L621.6 8.6 L622.2 9.5 L622.7 10.6 L623.3 11.8 L623.8 13.7 L624.4 16.1 L624.9 18.9 L625.5 21.6 L626 24.1 L626.6 26.3 L627.1 28.6 L627.7 30.9 L628.2 33.1 L628.8 35.1 L629.3 36.9 L629.9 38.3 L630.4 39.3 L631 40.2 L631.5 41 L632.1 41.7 L632.6 42.4 L633.2 42.9 L633.7 43.5 L634.3 43.9 L634.8 44.4 L635.4 44.8 L635.9 45.3 L636.5 45.6 L637 46 L637.6 46.3 L638.1 46.7 L638.7 47 L639.2 47.3 L639.8 47.6 L640.3 47.9 L640.9 48.2 L641.4 48.5 L642 48.8 L642.5 49.1 L643.1 49.3 L643.6 49.6 L644.2 49.9 L644.7 50.2 L645.3 50.6 L645.8 51.1 L646.4 51.5 L646.9 52 L647.5 52.4 L648 52.8 L648.6 53.1 L649.1 53.4 L649.7 53.7 L650.2 54 L650.8 54.2 L651.3 54.5 L651.9 54.6 L652.4 54.8 L653 54.9 L653.5 54.9 L654.1 55 L654.6 55.1 L655.2 55.1 L655.7 55.2 L656.3 55.3 L656.8 55.3 L657.4 55.3 L657.9 55.4 L658.5 55.4 L659 55.4 L659.6 55.5 L660.1 55.5 L660.7 55.5 L661.2 55.5 L661.8 55.5 L662.3 55.5 L662.9 55.5 L663.4 55.5 L664 55.5 L664.5 55.5 L665.1 55.6 L665.6 55.6 L666.2 55.6 L666.7 55.6 L667.3 55.6 L667.8 55.6 L668.4 55.6 L668.9 55.6 L669.5 55.6 L670 55.6 L670.6 55.6 L671.1 55.6 L671.7 55.6 L672.2 55.6 L672.8 55.6 L673.3 55.6" stroke="#e27ac6" stroke-width="1.2" fill="none" />
<path d="M447.8 56 L448.4 54.7 L448.9 56.1 L449.5 53 L450 57.9 L450.6 55.2 L451.1 57.1 L451.7 57.7 L452.2 56.9 L452.8 56.6 L453.3 54 L453.9 56 L454.4 55.3 L455 56.4 L455.5 52.5 L456.1 53.8 L456.6 55.9 L457.2 56.5 L457.7 55.2 L458.3 54 L458.8 54.6 L459.4 54.6 L459.9 50.8 L460.5 53.8 L461 54.2 L461.6 54.7 L462.1 56.8 L462.7 54.8 L463.2 56.6 L463.8 56 L464.3 55.9 L464.9 56.1 L465.4 57.6 L466 59.2 L466.5 55.8 L467.1 54.5 L467.6 56.3 L468.2 58.5 L468.7 55.8 L469.3 55.4 L469.8 54.1 L470.4 53.9 L470.9 53.5 L471.5 59.8 L472 55.2 L472.6 54.3 L473.1 55.9 L473.7 56.9 L474.2 54 L474.8 54.3 L475.3 54.9 L475.9 56.3 L476.4 52.9 L477 55.7 L477.5 58.9 L478.1 54.8 L478.6 54.6 L479.2 56.1 L479.7 56.1 L480.3 54.4 L480.8 55.1 L481.4 56.1 L481.9 56.3 L482.5 55.2 L483 56.7 L483.6 52.8 L484.1 56.1 L484.7 54.6 L485.2 56.5 L485.8 55.7 L486.3 58.1 L486.9 55.7 L487.4 56.2 L488 57.1 L488.5 57.2 L489.1 55.7 L489.6 53.9 L490.2 53.5 L490.7 55.7 L491.3 57.6 L491.8 54.4 L492.4 57.2 L492.9 54.6 L493.5 57.7 L494 55.9 L494.6 56.2 L495.1 57.7 L495.7 58.8 L496.2 54.5 L496.8 53.3 L497.3 53.6 L497.9 55.6 L498.4 55.1 L499 54.9 L499.5 54.2 L500.1 55.7 L500.6 55 L501.2 57.5 L501.7 55.5 L502.3 58.2 L502.8 57.8 L503.4 57.9 L503.9 56.9 L504.5 54.3 L505 57.7 L505.6 58.3 L506.1 55.8 L506.7 54.1 L507.2 53.9 L507.8 54 L508.3 54.3 L508.9 58.2 L509.4 56.1 L510 57.6 L510.5 55 L511.1 57.5 L511.6 56.7 L512.2 57.5 L512.7 54.6 L513.3 55.5 L513.8 54.6 L514.4 53.4 L514.9 53.8 L515.5 55.5 L516 55.4 L516.6 54.7 L517.1 55.1 L517.7 57.8 L518.2 56.4 L518.8 56.6 L519.3 56.1 L519.9 55.2 L520.4 56.8 L521 55.4 L521.5 54.7 L522.1 55 L522.6 56.1 L523.2 53.7 L523.7 54.5 L524.3 53.5 L524.8 55.3 L525.4 54.7 L525.9 57.3 L526.5 53.3 L527 54.5 L527.6 57.1 L528.1 58.5 L528.7 51.7 L529.2 56.5 L529.8 53.3 L530.3 53.7 L530.9 56 L531.4 55.5 L532 58.7 L532.5 54.4 L533.1 55.9 L533.6 55.8 L534.2 55.1 L534.7 52.9 L535.3 54.7 L535.8 50.5 L536.4 51.1 L536.9 52 L537.5 53.3 L538 51.3 L538.6 53.1 L539.1 55.2 L539.7 49.9 L540.2 52.7 L540.8 51.6 L541.3 46.8 L541.9 48.5 L542.4 49.1 L543 49.6 L543.5 47.5 L544.1 49.2 L544.6 49.6 L545.2 49.3 L545.7 49.6 L546.3 48.7 L546.8 51.3 L547.4 47.1 L547.9 50.5 L548.5 50 L549 48.4 L549.6 49.6 L550.1 47 L550.7 49.1 L551.2 49 L551.8 45.2 L552.3 45.9 L552.9 44.8 L553.4 46 L554 44.3 L554.5 44.8 L555.1 44.2 L555.6 46.7 L556.2 47 L556.7 47.4 L557.3 46.2 L557.8 43.4 L558.4 43.6 L558.9 44.1 L559.5 44.4 L560 42.5 L560.6 42.2 L561.1 42.1 L561.7 43.4 L562.2 40.6 L562.8 43 L563.3 40.1 L563.9 40.9 L564.4 39.6 L565 41 L565.5 41.7 L566.1 41.3 L566.6 38.1 L567.2 38.3 L567.7 39.1 L568.3 37.7 L568.8 34.9 L569.4 39.8 L569.9 36.5 L570.5 37.7 L571 35.9 L571.6 39.2 L572.1 34.5 L572.7 36.1 L573.2 37 L573.8 34 L574.3 29.9 L574.9 31.6 L575.4 29.5 L576 31.8 L576.5 29 L577.1 27.9 L577.6 29.1 L578.2 31.8 L578.7 32 L579.3 27.8 L579.8 28.2 L580.4 27.2 L580.9 23.5 L581.5 24.9 L582 22.7 L582.6 23.6 L583.1 23.5 L583.7 21.1 L584.2 21.3 L584.8 22.2 L585.3 17.9 L585.9 18.4 L586.4 17.6 L587 16.9 L587.5 19 L588.1 16.2 L588.6 16.4 L589.2 15 L589.7 13.7 L590.3 14.2 L590.8 14.7 L591.4 11.5 L591.9 11.7 L592.5 12.1 L593 9.7 L593.6 10.2 L594.1 9.5 L594.7 11.7 L595.2 9.4 L595.8 12.7 L596.3 8.7 L596.9 10.1 L597.4 10.6 L598 12.2 L598.5 8.3 L599.1 12.7 L599.6 12.4 L600.2 11.5 L600.7 12.3 L601.3 10.7 L601.8 14.2 L602.4 13.6 L602.9 16.6 L603.5 15.5 L604 16.7 L604.6 17 L605.1 18.9 L605.7 20.4 L606.2 21.5 L606.8 20.6 L607.3 19.6 L607.9 20.6 L608.4 17.3 L609 20.4 L609.5 17.4 L610.1 15.9 L610.6 16.4 L611.2 16.5 L611.7 15.7 L612.3 14.7 L612.8 15.9 L613.4 13.2 L613.9 13.1 L614.5 11.6 L615 9.3 L615.6 9.1 L616.1 10.3 L616.7 9.7 L617.2 8.4 L617.8 9.4 L618.3 6.5 L618.9 6.7 L619.4 6.6 L620 9.7 L620.5 5.2 L621.1 4.8 L621.6 6.5 L622.2 10 L622.7 10.9 L623.3 15 L623.8 17 L624.4 17.5 L624.9 18 L625.5 22.8 L626 23 L626.6 26.8 L627.1 25.4 L627.7 29.7 L628.2 33.9 L628.8 36.5 L629.3 36.4 L629.9 36.8 L630.4 41.7 L631 39.1 L631.5 40 L632.1 43.5 L632.6 41.8 L633.2 44.9 L633.7 45.8 L634.3 44.7 L634.8 44.4 L635.4 43.9 L635.9 43 L636.5 46.1 L637 46.9 L637.6 45.4 L638.1 45.3 L638.7 46.6 L639.2 47.4 L639.8 47.3 L640.3 48 L640.9 46.7 L641.4 47.3 L642 50 L642.5 47.4 L643.1 49.4 L643.6 52.2 L644.2 50.2 L644.7 48.3 L645.3 49.3 L645.8 50 L646.4 53 L646.9 52.1 L647.5 52 L648 51.7 L648.6 53.2 L649.1 56.2 L649.7 54.8 L650.2 52.3 L650.8 52 L651.3 55.8 L651.9 53.8 L652.4 54.9 L653 53.7 L653.5 57.8 L654.1 55.2 L654.6 54.9 L655.2 56.3 L655.7 54.9 L656.3 56.5 L656.8 56.2 L657.4 55.4 L657.9 57.8 L658.5 54.4 L659 55 L659.6 56.2 L660.1 57.5 L660.7 56.8 L661.2 56.8 L661.8 56.1 L662.3 56.3 L662.9 58.2 L663.4 54.7 L664 54.5 L664.5 56.7 L665.1 54.4 L665.6 58.1 L666.2 54.8 L666.7 56.4 L667.3 57 L667.8 55.9 L668.4 53.2 L668.9 58 L669.5 54.5 L670 54.9 L670.6 54.7 L671.1 55.1 L671.7 55.5 L672.2 53.4 L672.8 52.8 L673.3 53.8" stroke="#111" stroke-width="0.7" fill="none" />
<path d="M511.1 115.6 L511.1 115.5 L511.6 115.5 L512.2 115.5 L512.7 115.5 L513.3 115.5 L513.8 115.5 L514.4 115.5 L514.9 115.5 L515.5 115.5 L516 115.5 L516.6 115.4 L517.1 115.4 L517.7 115.4 L518.2 115.4 L518.8 115.4 L519.3 115.3 L519.9 115.3 L520.4 115.3 L521 115.3 L521.5 115.2 L522.1 115.2 L522.6 115.2 L523.2 115.1 L523.7 115.1 L524.3 115 L524.8 115 L525.4 114.9 L525.9 114.9 L526.5 114.8 L527 114.7 L527.6 114.6 L528.1 114.6 L528.7 114.5 L529.2 114.4 L529.8 114.3 L530.3 114.2 L530.9 114.1 L531.4 114 L532 113.9 L532.5 113.7 L533.1 113.6 L533.6 113.5 L534.2 113.3 L534.7 113.2 L535.3 113 L535.8 112.8 L536.4 112.7 L536.9 112.5 L537.5 112.3 L538 112.1 L538.6 111.9 L539.1 111.7 L539.7 111.5 L540.2 111.2 L540.8 111 L541.3 110.8 L541.9 110.5 L542.4 110.3 L543 110 L543.5 109.7 L544.1 109.5 L544.6 109.2 L545.2 108.9 L545.7 108.6 L546.3 108.3 L546.8 108.1 L547.4 107.8 L547.9 107.5 L548.5 107.2 L549 106.9 L549.6 106.6 L550.1 106.3 L550.7 106 L551.2 105.7 L551.8 105.4 L552.3 105.2 L552.9 104.9 L553.4 104.6 L554 104.3 L554.5 104.1 L555.1 103.8 L555.6 103.6 L556.2 103.4 L556.7 103.2 L557.3 102.9 L557.8 102.8 L558.4 102.6 L558.9 102.4 L559.5 102.2 L560 102.1 L560.6 102 L561.1 101.9 L561.7 101.8 L562.2 101.7 L562.8 101.6 L563.3 101.6 L563.9 101.5 L564.4 101.5 L565 101.5 L565.5 101.5 L566.1 101.6 L566.6 101.6 L567.2 101.7 L567.7 101.7 L568.3 101.8 L568.8 102 L569.4 102.1 L569.9 102.2 L570.5 102.4 L571 102.6 L571.6 102.7 L572.1 102.9 L572.7 103.1 L573.2 103.4 L573.8 103.6 L574.3 103.8 L574.9 104.1 L575.4 104.3 L576 104.6 L576.5 104.9 L577.1 105.1 L577.6 105.4 L578.2 105.7 L578.7 106 L579.3 106.3 L579.8 106.6 L580.4 106.9 L580.9 107.2 L581.5 107.4 L582 107.7 L582.6 108 L583.1 108.3 L583.7 108.6 L584.2 108.9 L584.8 109.2 L585.3 109.4 L585.9 109.7 L586.4 110 L587 110.2 L587.5 110.5 L588.1 110.7 L588.6 111 L589.2 111.2 L589.7 111.4 L590.3 111.7 L590.8 111.9 L591.4 112.1 L591.9 112.3 L592.5 112.5 L593 112.6 L593.6 112.8 L594.1 113 L594.7 113.2 L595.2 113.3 L595.8 113.5 L596.3 113.6 L596.9 113.7 L597.4 113.9 L598 114 L598.5 114.1 L599.1 114.2 L599.6 114.3 L600.2 114.4 L600.7 114.5 L601.3 114.6 L601.8 114.6 L602.4 114.7 L602.9 114.8 L603.5 114.8 L604 114.9 L604.6 115 L605.1 115 L605.7 115.1 L606.2 115.1 L606.8 115.2 L607.3 115.2 L607.9 115.2 L608.4 115.3 L609 115.3 L609.5 115.3 L610.1 115.3 L610.6 115.4 L611.2 115.4 L611.7 115.4 L612.3 115.4 L612.8 115.4 L613.4 115.5 L613.9 115.5 L614.5 115.5 L615 115.5 L615.6 115.5 L616.1 115.5 L616.7 115.5 L617.2 115.5 L617.8 115.5 L618.3 115.5 L618.3 115.6 Z" fill="#ff1a1a" fill-opacity="0.52" stroke="#ff2a2a" stroke-width="0.9"/>
<path d="M544.1 115.6 L544.1 115.5 L544.6 115.5 L545.2 115.5 L545.7 115.5 L546.3 115.5 L546.8 115.5 L547.4 115.5 L547.9 115.4 L548.5 115.4 L549 115.4 L549.6 115.4 L550.1 115.3 L550.7 115.3 L551.2 115.2 L551.8 115.2 L552.3 115.1 L552.9 115.1 L553.4 115 L554 114.9 L554.5 114.8 L555.1 114.7 L555.6 114.6 L556.2 114.5 L556.7 114.4 L557.3 114.2 L557.8 114.1 L558.4 113.9 L558.9 113.7 L559.5 113.5 L560 113.3 L560.6 113 L561.1 112.8 L561.7 112.5 L562.2 112.1 L562.8 111.8 L563.3 111.4 L563.9 111 L564.4 110.6 L565 110.1 L565.5 109.7 L566.1 109.1 L566.6 108.6 L567.2 108 L567.7 107.4 L568.3 106.7 L568.8 106 L569.4 105.3 L569.9 104.6 L570.5 103.8 L571 103 L571.6 102.1 L572.1 101.2 L572.7 100.3 L573.2 99.4 L573.8 98.4 L574.3 97.4 L574.9 96.4 L575.4 95.4 L576 94.3 L576.5 93.3 L577.1 92.2 L577.6 91.1 L578.2 90.1 L578.7 89 L579.3 87.9 L579.8 86.9 L580.4 85.8 L580.9 84.8 L581.5 83.8 L582 82.8 L582.6 81.9 L583.1 81 L583.7 80.1 L584.2 79.3 L584.8 78.5 L585.3 77.8 L585.9 77.2 L586.4 76.6 L587 76 L587.5 75.6 L588.1 75.2 L588.6 74.9 L589.2 74.6 L589.7 74.4 L590.3 74.3 L590.8 74.3 L591.4 74.4 L591.9 74.5 L592.5 74.7 L593 75 L593.6 75.3 L594.1 75.7 L594.7 76.2 L595.2 76.8 L595.8 77.4 L596.3 78.1 L596.9 78.8 L597.4 79.6 L598 80.4 L598.5 81.3 L599.1 82.2 L599.6 83.2 L600.2 84.2 L600.7 85.2 L601.3 86.2 L601.8 87.2 L602.4 88.3 L602.9 89.4 L603.5 90.5 L604 91.5 L604.6 92.6 L605.1 93.7 L605.7 94.7 L606.2 95.8 L606.8 96.8 L607.3 97.8 L607.9 98.8 L608.4 99.7 L609 100.7 L609.5 101.6 L610.1 102.4 L610.6 103.3 L611.2 104.1 L611.7 104.8 L612.3 105.6 L612.8 106.3 L613.4 107 L613.9 107.6 L614.5 108.2 L615 108.8 L615.6 109.3 L616.1 109.8 L616.7 110.3 L617.2 110.8 L617.8 111.2 L618.3 111.6 L618.9 111.9 L619.4 112.3 L620 112.6 L620.5 112.9 L621.1 113.1 L621.6 113.4 L622.2 113.6 L622.7 113.8 L623.3 114 L623.8 114.1 L624.4 114.3 L624.9 114.4 L625.5 114.6 L626 114.7 L626.6 114.8 L627.1 114.9 L627.7 115 L628.2 115 L628.8 115.1 L629.3 115.2 L629.9 115.2 L630.4 115.3 L631 115.3 L631.5 115.3 L632.1 115.4 L632.6 115.4 L633.2 115.4 L633.7 115.5 L634.3 115.5 L634.8 115.5 L635.4 115.5 L635.9 115.5 L636.5 115.5 L637 115.5 L637.6 115.5 L637.6 115.6 Z" fill="#1e90ff" fill-opacity="0.52" stroke="#2a9df0" stroke-width="0.9"/>
<path d="M592.5 115.6 L592.5 115.5 L593 115.5 L593.6 115.5 L594.1 115.4 L594.7 115.4 L595.2 115.3 L595.8 115.2 L596.3 115.1 L596.9 115 L597.4 114.8 L598 114.6 L598.5 114.4 L599.1 114.1 L599.6 113.7 L600.2 113.2 L600.7 112.7 L601.3 112.1 L601.8 111.4 L602.4 110.6 L602.9 109.6 L603.5 108.5 L604 107.4 L604.6 106 L605.1 104.6 L605.7 103 L606.2 101.3 L606.8 99.4 L607.3 97.5 L607.9 95.5 L608.4 93.4 L609 91.3 L609.5 89.3 L610.1 87.2 L610.6 85.2 L611.2 83.3 L611.7 81.5 L612.3 79.9 L612.8 78.5 L613.4 77.3 L613.9 76.4 L614.5 75.7 L615 75.4 L615.6 75.3 L616.1 75.5 L616.7 76.1 L617.2 76.9 L617.8 77.9 L618.3 79.2 L618.9 80.7 L619.4 82.5 L620 84.3 L620.5 86.3 L621.1 88.3 L621.6 90.4 L622.2 92.5 L622.7 94.6 L623.3 96.6 L623.8 98.6 L624.4 100.4 L624.9 102.2 L625.5 103.9 L626 105.4 L626.6 106.8 L627.1 108 L627.7 109.1 L628.2 110.1 L628.8 111 L629.3 111.8 L629.9 112.4 L630.4 113 L631 113.5 L631.5 113.9 L632.1 114.2 L632.6 114.5 L633.2 114.7 L633.7 114.9 L634.3 115.1 L634.8 115.2 L635.4 115.3 L635.9 115.4 L636.5 115.4 L637 115.5 L637.6 115.5 L638.1 115.5 L638.7 115.5 L638.7 115.6 Z" fill="#10cc10" fill-opacity="0.52" stroke="#20d020" stroke-width="0.9"/>
<path d="M615 115.6 L615 115.5 L615.6 115.5 L616.1 115.5 L616.7 115.5 L617.2 115.4 L617.8 115.4 L618.3 115.3 L618.9 115.2 L619.4 115.1 L620 115 L620.5 114.8 L621.1 114.6 L621.6 114.4 L622.2 114.2 L622.7 113.9 L623.3 113.6 L623.8 113.2 L624.4 112.9 L624.9 112.5 L625.5 112 L626 111.6 L626.6 111.1 L627.1 110.7 L627.7 110.2 L628.2 109.8 L628.8 109.4 L629.3 109 L629.9 108.7 L630.4 108.4 L631 108.2 L631.5 108.1 L632.1 108 L632.6 108 L633.2 108.1 L633.7 108.3 L634.3 108.5 L634.8 108.8 L635.4 109.1 L635.9 109.5 L636.5 110 L637 110.4 L637.6 110.9 L638.1 111.3 L638.7 111.8 L639.2 112.2 L639.8 112.6 L640.3 113 L640.9 113.4 L641.4 113.7 L642 114 L642.5 114.3 L643.1 114.5 L643.6 114.7 L644.2 114.9 L644.7 115 L645.3 115.1 L645.8 115.2 L646.4 115.3 L646.9 115.4 L647.5 115.4 L648 115.5 L648.6 115.5 L649.1 115.5 L649.1 115.6 Z" fill="#ff8c00" fill-opacity="0.52" stroke="#f59a20" stroke-width="0.9"/>
<path d="M637 115.6 L637 115.5 L637.6 115.5 L638.1 115.4 L638.7 115.4 L639.2 115.3 L639.8 115.1 L640.3 115 L640.9 114.8 L641.4 114.6 L642 114.4 L642.5 114.1 L643.1 113.8 L643.6 113.5 L644.2 113.3 L644.7 113.1 L645.3 112.9 L645.8 112.8 L646.4 112.7 L646.9 112.7 L647.5 112.8 L648 113 L648.6 113.2 L649.1 113.4 L649.7 113.7 L650.2 113.9 L650.8 114.2 L651.3 114.5 L651.9 114.7 L652.4 114.9 L653 115.1 L653.5 115.2 L654.1 115.3 L654.6 115.4 L655.2 115.5 L655.7 115.5 L656.3 115.5 L656.3 115.6 Z" fill="#8a00ff" fill-opacity="0.52" stroke="#9a20ff" stroke-width="0.9"/>
<line x1="447.8" y1="115.6" x2="673.6" y2="115.6" stroke="#b050e0" stroke-width="1" />
<path d="M447.8 115.8 L448.4 115.8 L448.9 115.8 L449.5 115.8 L450 115.8 L450.6 115.8 L451.1 115.8 L451.7 115.8 L452.2 115.8 L452.8 115.8 L453.3 115.8 L453.9 115.8 L454.4 115.8 L455 115.8 L455.5 115.8 L456.1 115.8 L456.6 115.8 L457.2 115.8 L457.7 115.8 L458.3 115.8 L458.8 115.8 L459.4 115.8 L459.9 115.8 L460.5 115.8 L461 115.8 L461.6 115.8 L462.1 115.8 L462.7 115.8 L463.2 115.8 L463.8 115.8 L464.3 115.8 L464.9 115.8 L465.4 115.8 L466 115.8 L466.5 115.8 L467.1 115.8 L467.6 115.8 L468.2 115.8 L468.7 115.8 L469.3 115.8 L469.8 115.8 L470.4 115.8 L470.9 115.8 L471.5 115.8 L472 115.8 L472.6 115.8 L473.1 115.8 L473.7 115.8 L474.2 115.8 L474.8 115.8 L475.3 115.8 L475.9 115.8 L476.4 115.8 L477 115.8 L477.5 115.8 L478.1 115.8 L478.6 115.8 L479.2 115.8 L479.7 115.8 L480.3 115.8 L480.8 115.8 L481.4 115.8 L481.9 115.8 L482.5 115.8 L483 115.8 L483.6 115.8 L484.1 115.8 L484.7 115.8 L485.2 115.8 L485.8 115.8 L486.3 115.7 L486.9 115.7 L487.4 115.7 L488 115.7 L488.5 115.7 L489.1 115.7 L489.6 115.7 L490.2 115.7 L490.7 115.7 L491.3 115.7 L491.8 115.7 L492.4 115.7 L492.9 115.7 L493.5 115.7 L494 115.7 L494.6 115.7 L495.1 115.7 L495.7 115.7 L496.2 115.7 L496.8 115.7 L497.3 115.7 L497.9 115.7 L498.4 115.7 L499 115.7 L499.5 115.7 L500.1 115.7 L500.6 115.7 L501.2 115.7 L501.7 115.7 L502.3 115.7 L502.8 115.7 L503.4 115.7 L503.9 115.7 L504.5 115.6 L505 115.6 L505.6 115.6 L506.1 115.6 L506.7 115.6 L507.2 115.6 L507.8 115.6 L508.3 115.6 L508.9 115.5 L509.4 115.5 L510 115.5 L510.5 115.5 L511.1 115.5 L511.6 115.4 L512.2 115.4 L512.7 115.4 L513.3 115.4 L513.8 115.4 L514.4 115.3 L514.9 115.3 L515.5 115.3 L516 115.2 L516.6 115.2 L517.1 115.2 L517.7 115.1 L518.2 115.1 L518.8 115 L519.3 115 L519.9 114.9 L520.4 114.8 L521 114.8 L521.5 114.7 L522.1 114.6 L522.6 114.6 L523.2 114.5 L523.7 114.4 L524.3 114.3 L524.8 114.2 L525.4 114.1 L525.9 114 L526.5 113.9 L527 113.8 L527.6 113.6 L528.1 113.5 L528.7 113.3 L529.2 113.1 L529.8 112.9 L530.3 112.7 L530.9 112.5 L531.4 112.2 L532 112 L532.5 111.7 L533.1 111.5 L533.6 111.2 L534.2 111 L534.7 110.7 L535.3 110.4 L535.8 110.1 L536.4 109.9 L536.9 109.6 L537.5 109.3 L538 109 L538.6 108.8 L539.1 108.5 L539.7 108.2 L540.2 108 L540.8 107.8 L541.3 107.5 L541.9 107.3 L542.4 107 L543 106.8 L543.5 106.6 L544.1 106.3 L544.6 106.1 L545.2 105.8 L545.7 105.6 L546.3 105.3 L546.8 105.1 L547.4 104.8 L547.9 104.6 L548.5 104.3 L549 104 L549.6 103.7 L550.1 103.5 L550.7 103.2 L551.2 102.9 L551.8 102.6 L552.3 102.2 L552.9 101.9 L553.4 101.6 L554 101.3 L554.5 100.9 L555.1 100.6 L555.6 100.2 L556.2 99.9 L556.7 99.5 L557.3 99.2 L557.8 98.8 L558.4 98.4 L558.9 98.1 L559.5 97.7 L560 97.3 L560.6 96.9 L561.1 96.5 L561.7 96.1 L562.2 95.7 L562.8 95.3 L563.3 94.9 L563.9 94.5 L564.4 94.1 L565 93.6 L565.5 93.2 L566.1 92.7 L566.6 92.3 L567.2 91.8 L567.7 91.4 L568.3 90.9 L568.8 90.4 L569.4 90 L569.9 89.5 L570.5 89 L571 88.5 L571.6 88 L572.1 87.5 L572.7 87 L573.2 86.5 L573.8 86 L574.3 85.5 L574.9 85 L575.4 84.4 L576 83.9 L576.5 83.3 L577.1 82.7 L577.6 82.1 L578.2 81.4 L578.7 80.8 L579.3 80.1 L579.8 79.3 L580.4 78.4 L580.9 77.4 L581.5 76.4 L582 75.3 L582.6 74.3 L583.1 73.3 L583.7 72.3 L584.2 71.5 L584.8 70.7 L585.3 70.1 L585.9 69.5 L586.4 68.9 L587 68.4 L587.5 68 L588.1 67.8 L588.6 67.8 L589.2 68 L589.7 68.2 L590.3 68.6 L590.8 68.9 L591.4 69.2 L591.9 69.6 L592.5 70.1 L593 70.7 L593.6 71.3 L594.1 71.9 L594.7 72.6 L595.2 73.2 L595.8 73.8 L596.3 74.4 L596.9 74.9 L597.4 75.3 L598 75.7 L598.5 76.1 L599.1 76.4 L599.6 76.8 L600.2 77.1 L600.7 77.3 L601.3 77.4 L601.8 77.4 L602.4 77.3 L602.9 77.2 L603.5 77 L604 76.8 L604.6 76.5 L605.1 76.2 L605.7 75.9 L606.2 75.5 L606.8 75.2 L607.3 74.8 L607.9 74.2 L608.4 73.6 L609 72.9 L609.5 72.2 L610.1 71.4 L610.6 70.7 L611.2 69.9 L611.7 69.2 L612.3 68.4 L612.8 67.4 L613.4 66.5 L613.9 65.7 L614.5 65.2 L615 65.1 L615.6 65.3 L616.1 65.8 L616.7 66.4 L617.2 67.2 L617.8 68 L618.3 69 L618.9 70.4 L619.4 72.2 L620 74.3 L620.5 76.6 L621.1 78.9 L621.6 81 L622.2 83 L622.7 85.1 L623.3 87.2 L623.8 89.4 L624.4 91.5 L624.9 93.4 L625.5 95.2 L626 96.6 L626.6 97.7 L627.1 98.8 L627.7 99.8 L628.2 100.7 L628.8 101.5 L629.3 102.1 L629.9 102.7 L630.4 103.1 L631 103.5 L631.5 103.8 L632.1 104.1 L632.6 104.4 L633.2 104.6 L633.7 104.9 L634.3 105.1 L634.8 105.3 L635.4 105.6 L635.9 105.8 L636.5 106.1 L637 106.3 L637.6 106.6 L638.1 106.9 L638.7 107.2 L639.2 107.5 L639.8 107.7 L640.3 108 L640.9 108.3 L641.4 108.5 L642 108.8 L642.5 109 L643.1 109.3 L643.6 109.5 L644.2 109.7 L644.7 109.9 L645.3 110.1 L645.8 110.4 L646.4 110.6 L646.9 110.8 L647.5 111.1 L648 111.4 L648.6 111.7 L649.1 112.1 L649.7 112.5 L650.2 112.9 L650.8 113.3 L651.3 113.6 L651.9 113.9 L652.4 114.1 L653 114.3 L653.5 114.4 L654.1 114.6 L654.6 114.7 L655.2 114.8 L655.7 115 L656.3 115.1 L656.8 115.2 L657.4 115.3 L657.9 115.3 L658.5 115.4 L659 115.5 L659.6 115.5 L660.1 115.6 L660.7 115.6 L661.2 115.6 L661.8 115.6 L662.3 115.6 L662.9 115.7 L663.4 115.7 L664 115.7 L664.5 115.7 L665.1 115.7 L665.6 115.7 L666.2 115.7 L666.7 115.7 L667.3 115.7 L667.8 115.8 L668.4 115.8 L668.9 115.8 L669.5 115.8 L670 115.8 L670.6 115.8 L671.1 115.8 L671.7 115.8 L672.2 115.8 L672.8 115.8 L673.3 115.8" stroke="#e27ac6" stroke-width="1.2" fill="none" />
<path d="M447.8 114.5 L448.4 114.7 L448.9 115.5 L449.5 117 L450 115 L450.6 113.8 L451.1 114.3 L451.7 118.5 L452.2 115.8 L452.8 114.1 L453.3 115.5 L453.9 116.9 L454.4 116.3 L455 119.4 L455.5 116.6 L456.1 114.2 L456.6 118.6 L457.2 116.2 L457.7 116.2 L458.3 115 L458.8 114.1 L459.4 118.3 L459.9 113.3 L460.5 114.5 L461 113.9 L461.6 117.7 L462.1 115.6 L462.7 114.2 L463.2 116 L463.8 118.1 L464.3 114.1 L464.9 114 L465.4 116.1 L466 115.6 L466.5 114.1 L467.1 115 L467.6 116.1 L468.2 117.4 L468.7 113.6 L469.3 116.8 L469.8 116.4 L470.4 118.6 L470.9 112.4 L471.5 115.7 L472 115.4 L472.6 118.3 L473.1 113.9 L473.7 114.4 L474.2 115.9 L474.8 116.5 L475.3 116.5 L475.9 114.2 L476.4 119.3 L477 115.5 L477.5 116.9 L478.1 117.6 L478.6 115.5 L479.2 116.3 L479.7 113 L480.3 115.1 L480.8 114.8 L481.4 113.7 L481.9 115.7 L482.5 115.3 L483 118.1 L483.6 115.1 L484.1 114.1 L484.7 115.9 L485.2 115.3 L485.8 120.1 L486.3 118.2 L486.9 115.9 L487.4 114.2 L488 119.2 L488.5 116.4 L489.1 113 L489.6 116.5 L490.2 113 L490.7 117.7 L491.3 116.3 L491.8 114 L492.4 115.1 L492.9 112.4 L493.5 118.8 L494 116.3 L494.6 117 L495.1 117.8 L495.7 115 L496.2 114 L496.8 114.1 L497.3 115.7 L497.9 114.1 L498.4 115.4 L499 116.8 L499.5 116.7 L500.1 115.2 L500.6 114.4 L501.2 114.7 L501.7 116.1 L502.3 117.7 L502.8 117.7 L503.4 115.3 L503.9 117 L504.5 116.4 L505 117.9 L505.6 114.6 L506.1 117.9 L506.7 116.6 L507.2 115.4 L507.8 119.7 L508.3 118 L508.9 112.4 L509.4 115.7 L510 116.4 L510.5 117.4 L511.1 113.5 L511.6 115.6 L512.2 115.5 L512.7 114.1 L513.3 116.5 L513.8 115.1 L514.4 115.4 L514.9 113.9 L515.5 116 L516 115.5 L516.6 114.5 L517.1 113.5 L517.7 115.1 L518.2 115.7 L518.8 115.1 L519.3 114.7 L519.9 116.9 L520.4 114.3 L521 115.3 L521.5 117.4 L522.1 113.9 L522.6 115.4 L523.2 115.2 L523.7 113.4 L524.3 111.5 L524.8 111.9 L525.4 110.2 L525.9 113.6 L526.5 113.9 L527 115.2 L527.6 117 L528.1 113.8 L528.7 113.1 L529.2 113.3 L529.8 111.6 L530.3 109.9 L530.9 111.4 L531.4 112.2 L532 111.8 L532.5 111.8 L533.1 109.7 L533.6 111.3 L534.2 110.3 L534.7 109.7 L535.3 108.3 L535.8 108.1 L536.4 109.2 L536.9 111.9 L537.5 109.5 L538 110.6 L538.6 112.4 L539.1 108.9 L539.7 107.2 L540.2 104.1 L540.8 106.7 L541.3 109.6 L541.9 105.6 L542.4 106.3 L543 105.9 L543.5 106.2 L544.1 103.7 L544.6 106.6 L545.2 106.4 L545.7 103.3 L546.3 100.8 L546.8 105.6 L547.4 104.6 L547.9 104.1 L548.5 100.4 L549 102.5 L549.6 103.1 L550.1 103.5 L550.7 102.8 L551.2 103.7 L551.8 99.8 L552.3 99.7 L552.9 101.3 L553.4 103.3 L554 98.7 L554.5 97.9 L555.1 102.7 L555.6 98.8 L556.2 100 L556.7 102 L557.3 98 L557.8 99.4 L558.4 99.8 L558.9 98.5 L559.5 97.5 L560 96.6 L560.6 96.6 L561.1 98.4 L561.7 92.9 L562.2 96.4 L562.8 95.3 L563.3 94.9 L563.9 93.9 L564.4 93.8 L565 93.8 L565.5 89.6 L566.1 94 L566.6 92.9 L567.2 91.5 L567.7 90.6 L568.3 91.8 L568.8 93.7 L569.4 92.5 L569.9 91.6 L570.5 86.2 L571 91.3 L571.6 89.3 L572.1 87.1 L572.7 88.3 L573.2 88.8 L573.8 82.6 L574.3 86.2 L574.9 83.2 L575.4 84.1 L576 82.7 L576.5 84.2 L577.1 82.4 L577.6 80.7 L578.2 80 L578.7 79.7 L579.3 81 L579.8 77.8 L580.4 79.8 L580.9 80.3 L581.5 77.7 L582 72.9 L582.6 75.6 L583.1 74.1 L583.7 73.7 L584.2 72.6 L584.8 73.4 L585.3 72.9 L585.9 69.8 L586.4 70 L587 71.9 L587.5 69.3 L588.1 69.2 L588.6 71.3 L589.2 65 L589.7 71.1 L590.3 68.6 L590.8 66 L591.4 71.1 L591.9 72 L592.5 70.2 L593 71.3 L593.6 72.6 L594.1 71.1 L594.7 72.6 L595.2 74.5 L595.8 72.6 L596.3 73.7 L596.9 73.1 L597.4 73.2 L598 75.3 L598.5 77 L599.1 76.6 L599.6 77.3 L600.2 78.2 L600.7 77.8 L601.3 77 L601.8 77.4 L602.4 76.1 L602.9 80.2 L603.5 78.8 L604 77.2 L604.6 76.9 L605.1 78.2 L605.7 75.1 L606.2 74.5 L606.8 73.2 L607.3 74.8 L607.9 76.3 L608.4 73.6 L609 75.8 L609.5 73.5 L610.1 71.2 L610.6 71.5 L611.2 67.5 L611.7 68.6 L612.3 68 L612.8 70.8 L613.4 65.8 L613.9 66.1 L614.5 63.1 L615 63.5 L615.6 66.2 L616.1 68.2 L616.7 68.4 L617.2 64.6 L617.8 66.2 L618.3 66.9 L618.9 70.2 L619.4 74.1 L620 75.9 L620.5 76.9 L621.1 79.5 L621.6 78.2 L622.2 78.1 L622.7 85.1 L623.3 83.8 L623.8 88.2 L624.4 88.8 L624.9 93.7 L625.5 94 L626 95.3 L626.6 97.8 L627.1 100.8 L627.7 99 L628.2 102.4 L628.8 98.8 L629.3 99.6 L629.9 101.6 L630.4 102.2 L631 103.4 L631.5 102.4 L632.1 102.9 L632.6 101.5 L633.2 106.9 L633.7 104.4 L634.3 105.6 L634.8 105.5 L635.4 108.3 L635.9 103.3 L636.5 106.3 L637 109.4 L637.6 103.7 L638.1 106.3 L638.7 107.5 L639.2 107.6 L639.8 105.7 L640.3 108.8 L640.9 105.7 L641.4 109.5 L642 107.5 L642.5 106.2 L643.1 110.8 L643.6 109.7 L644.2 110.1 L644.7 110.9 L645.3 108.9 L645.8 108.8 L646.4 111 L646.9 112.8 L647.5 111.3 L648 110.2 L648.6 113.5 L649.1 110.3 L649.7 111.4 L650.2 111.9 L650.8 112.9 L651.3 114.2 L651.9 114.6 L652.4 112.8 L653 112.9 L653.5 115.3 L654.1 115.6 L654.6 113.2 L655.2 116.4 L655.7 114.7 L656.3 115.3 L656.8 115.1 L657.4 115.2 L657.9 114.3 L658.5 115.3 L659 114.6 L659.6 116 L660.1 115.2 L660.7 115.2 L661.2 115.6 L661.8 116.9 L662.3 116.9 L662.9 116.2 L663.4 115.7 L664 116.7 L664.5 118.7 L665.1 116.9 L665.6 117.1 L666.2 115 L666.7 115 L667.3 114.7 L667.8 117.9 L668.4 116.4 L668.9 116.1 L669.5 115 L670 115.2 L670.6 115.7 L671.1 114.8 L671.7 112.9 L672.2 114.5 L672.8 115.4 L673.3 113.4" stroke="#111" stroke-width="0.7" fill="none" />
<path d="M494 172.4 L494 172.3 L494.6 172.3 L495.1 172.3 L495.7 172.3 L496.2 172.3 L496.8 172.3 L497.3 172.3 L497.9 172.3 L498.4 172.3 L499 172.3 L499.5 172.3 L500.1 172.3 L500.6 172.2 L501.2 172.2 L501.7 172.2 L502.3 172.2 L502.8 172.2 L503.4 172.1 L503.9 172.1 L504.5 172.1 L505 172.1 L505.6 172 L506.1 172 L506.7 172 L507.2 172 L507.8 171.9 L508.3 171.9 L508.9 171.8 L509.4 171.8 L510 171.7 L510.5 171.7 L511.1 171.6 L511.6 171.6 L512.2 171.5 L512.7 171.5 L513.3 171.4 L513.8 171.3 L514.4 171.3 L514.9 171.2 L515.5 171.1 L516 171 L516.6 170.9 L517.1 170.8 L517.7 170.7 L518.2 170.6 L518.8 170.5 L519.3 170.4 L519.9 170.3 L520.4 170.2 L521 170 L521.5 169.9 L522.1 169.8 L522.6 169.6 L523.2 169.5 L523.7 169.3 L524.3 169.2 L524.8 169 L525.4 168.9 L525.9 168.7 L526.5 168.5 L527 168.3 L527.6 168.2 L528.1 168 L528.7 167.8 L529.2 167.6 L529.8 167.4 L530.3 167.2 L530.9 167 L531.4 166.8 L532 166.6 L532.5 166.4 L533.1 166.1 L533.6 165.9 L534.2 165.7 L534.7 165.5 L535.3 165.3 L535.8 165.1 L536.4 164.9 L536.9 164.6 L537.5 164.4 L538 164.2 L538.6 164 L539.1 163.8 L539.7 163.6 L540.2 163.4 L540.8 163.2 L541.3 163 L541.9 162.8 L542.4 162.6 L543 162.5 L543.5 162.3 L544.1 162.1 L544.6 162 L545.2 161.8 L545.7 161.7 L546.3 161.5 L546.8 161.4 L547.4 161.3 L547.9 161.2 L548.5 161.1 L549 161 L549.6 160.9 L550.1 160.9 L550.7 160.8 L551.2 160.8 L551.8 160.7 L552.3 160.7 L552.9 160.7 L553.4 160.7 L554 160.7 L554.5 160.7 L555.1 160.8 L555.6 160.8 L556.2 160.9 L556.7 160.9 L557.3 161 L557.8 161.1 L558.4 161.2 L558.9 161.3 L559.5 161.4 L560 161.5 L560.6 161.6 L561.1 161.8 L561.7 161.9 L562.2 162.1 L562.8 162.2 L563.3 162.4 L563.9 162.6 L564.4 162.8 L565 162.9 L565.5 163.1 L566.1 163.3 L566.6 163.5 L567.2 163.7 L567.7 163.9 L568.3 164.2 L568.8 164.4 L569.4 164.6 L569.9 164.8 L570.5 165 L571 165.2 L571.6 165.4 L572.1 165.7 L572.7 165.9 L573.2 166.1 L573.8 166.3 L574.3 166.5 L574.9 166.7 L575.4 166.9 L576 167.1 L576.5 167.3 L577.1 167.5 L577.6 167.7 L578.2 167.9 L578.7 168.1 L579.3 168.3 L579.8 168.5 L580.4 168.6 L580.9 168.8 L581.5 169 L582 169.1 L582.6 169.3 L583.1 169.5 L583.7 169.6 L584.2 169.7 L584.8 169.9 L585.3 170 L585.9 170.1 L586.4 170.3 L587 170.4 L587.5 170.5 L588.1 170.6 L588.6 170.7 L589.2 170.8 L589.7 170.9 L590.3 171 L590.8 171.1 L591.4 171.2 L591.9 171.2 L592.5 171.3 L593 171.4 L593.6 171.5 L594.1 171.5 L594.7 171.6 L595.2 171.6 L595.8 171.7 L596.3 171.7 L596.9 171.8 L597.4 171.8 L598 171.9 L598.5 171.9 L599.1 171.9 L599.6 172 L600.2 172 L600.7 172 L601.3 172.1 L601.8 172.1 L602.4 172.1 L602.9 172.1 L603.5 172.2 L604 172.2 L604.6 172.2 L605.1 172.2 L605.7 172.2 L606.2 172.2 L606.8 172.3 L607.3 172.3 L607.9 172.3 L608.4 172.3 L609 172.3 L609.5 172.3 L610.1 172.3 L610.6 172.3 L611.2 172.3 L611.7 172.3 L612.3 172.3 L612.3 172.4 Z" fill="#ff1a1a" fill-opacity="0.52" stroke="#ff2a2a" stroke-width="0.9"/>
<path d="M536.9 172.4 L536.9 172.3 L537.5 172.3 L538 172.3 L538.6 172.3 L539.1 172.3 L539.7 172.3 L540.2 172.3 L540.8 172.3 L541.3 172.2 L541.9 172.2 L542.4 172.2 L543 172.2 L543.5 172.1 L544.1 172.1 L544.6 172 L545.2 172 L545.7 171.9 L546.3 171.9 L546.8 171.8 L547.4 171.7 L547.9 171.7 L548.5 171.6 L549 171.5 L549.6 171.4 L550.1 171.2 L550.7 171.1 L551.2 171 L551.8 170.8 L552.3 170.6 L552.9 170.4 L553.4 170.2 L554 170 L554.5 169.8 L555.1 169.5 L555.6 169.2 L556.2 168.9 L556.7 168.6 L557.3 168.2 L557.8 167.9 L558.4 167.5 L558.9 167 L559.5 166.6 L560 166.1 L560.6 165.6 L561.1 165.1 L561.7 164.5 L562.2 163.9 L562.8 163.3 L563.3 162.7 L563.9 162 L564.4 161.3 L565 160.6 L565.5 159.8 L566.1 159.1 L566.6 158.3 L567.2 157.4 L567.7 156.6 L568.3 155.7 L568.8 154.9 L569.4 154 L569.9 153.1 L570.5 152.2 L571 151.3 L571.6 150.4 L572.1 149.4 L572.7 148.5 L573.2 147.6 L573.8 146.7 L574.3 145.9 L574.9 145 L575.4 144.2 L576 143.3 L576.5 142.6 L577.1 141.8 L577.6 141.1 L578.2 140.4 L578.7 139.8 L579.3 139.2 L579.8 138.6 L580.4 138.1 L580.9 137.7 L581.5 137.3 L582 136.9 L582.6 136.7 L583.1 136.5 L583.7 136.3 L584.2 136.2 L584.8 136.2 L585.3 136.2 L585.9 136.3 L586.4 136.5 L587 136.7 L587.5 137 L588.1 137.3 L588.6 137.7 L589.2 138.2 L589.7 138.7 L590.3 139.3 L590.8 139.9 L591.4 140.5 L591.9 141.2 L592.5 141.9 L593 142.7 L593.6 143.5 L594.1 144.3 L594.7 145.2 L595.2 146 L595.8 146.9 L596.3 147.8 L596.9 148.7 L597.4 149.6 L598 150.5 L598.5 151.4 L599.1 152.4 L599.6 153.3 L600.2 154.2 L600.7 155 L601.3 155.9 L601.8 156.8 L602.4 157.6 L602.9 158.4 L603.5 159.2 L604 160 L604.6 160.7 L605.1 161.4 L605.7 162.1 L606.2 162.8 L606.8 163.4 L607.3 164 L607.9 164.6 L608.4 165.2 L609 165.7 L609.5 166.2 L610.1 166.7 L610.6 167.1 L611.2 167.5 L611.7 167.9 L612.3 168.3 L612.8 168.6 L613.4 169 L613.9 169.3 L614.5 169.5 L615 169.8 L615.6 170 L616.1 170.3 L616.7 170.5 L617.2 170.7 L617.8 170.8 L618.3 171 L618.9 171.1 L619.4 171.3 L620 171.4 L620.5 171.5 L621.1 171.6 L621.6 171.7 L622.2 171.8 L622.7 171.8 L623.3 171.9 L623.8 171.9 L624.4 172 L624.9 172 L625.5 172.1 L626 172.1 L626.6 172.2 L627.1 172.2 L627.7 172.2 L628.2 172.2 L628.8 172.3 L629.3 172.3 L629.9 172.3 L630.4 172.3 L631 172.3 L631.5 172.3 L632.1 172.3 L632.6 172.3 L632.6 172.4 Z" fill="#1e90ff" fill-opacity="0.52" stroke="#2a9df0" stroke-width="0.9"/>
<path d="M587 172.4 L587 172.3 L587.5 172.3 L588.1 172.3 L588.6 172.3 L589.2 172.2 L589.7 172.2 L590.3 172.1 L590.8 172 L591.4 171.9 L591.9 171.7 L592.5 171.6 L593 171.3 L593.6 171.1 L594.1 170.8 L594.7 170.4 L595.2 169.9 L595.8 169.4 L596.3 168.8 L596.9 168.1 L597.4 167.2 L598 166.3 L598.5 165.3 L599.1 164.1 L599.6 162.8 L600.2 161.4 L600.7 159.9 L601.3 158.3 L601.8 156.5 L602.4 154.7 L602.9 152.8 L603.5 150.9 L604 148.9 L604.6 147 L605.1 145.1 L605.7 143.2 L606.2 141.5 L606.8 139.9 L607.3 138.4 L607.9 137.1 L608.4 136.1 L609 135.2 L609.5 134.7 L610.1 134.4 L610.6 134.3 L611.2 134.6 L611.7 135.1 L612.3 135.8 L612.8 136.8 L613.4 138 L613.9 139.4 L614.5 141 L615 142.7 L615.6 144.6 L616.1 146.5 L616.7 148.4 L617.2 150.4 L617.8 152.3 L618.3 154.2 L618.9 156 L619.4 157.8 L620 159.5 L620.5 161 L621.1 162.4 L621.6 163.8 L622.2 165 L622.7 166 L623.3 167 L623.8 167.8 L624.4 168.6 L624.9 169.2 L625.5 169.8 L626 170.3 L626.6 170.7 L627.1 171 L627.7 171.3 L628.2 171.5 L628.8 171.7 L629.3 171.8 L629.9 172 L630.4 172.1 L631 172.1 L631.5 172.2 L632.1 172.3 L632.6 172.3 L633.2 172.3 L633.7 172.3 L633.7 172.4 Z" fill="#10cc10" fill-opacity="0.52" stroke="#20d020" stroke-width="0.9"/>
<path d="M607.9 172.4 L607.9 172.3 L608.4 172.3 L609 172.3 L609.5 172.3 L610.1 172.2 L610.6 172.2 L611.2 172.2 L611.7 172.1 L612.3 172 L612.8 172 L613.4 171.9 L613.9 171.8 L614.5 171.6 L615 171.5 L615.6 171.3 L616.1 171.2 L616.7 170.9 L617.2 170.7 L617.8 170.4 L618.3 170.2 L618.9 169.8 L619.4 169.5 L620 169.1 L620.5 168.7 L621.1 168.3 L621.6 167.8 L622.2 167.3 L622.7 166.8 L623.3 166.3 L623.8 165.8 L624.4 165.3 L624.9 164.8 L625.5 164.2 L626 163.7 L626.6 163.3 L627.1 162.8 L627.7 162.4 L628.2 162 L628.8 161.7 L629.3 161.4 L629.9 161.2 L630.4 161 L631 160.9 L631.5 160.9 L632.1 160.9 L632.6 161 L633.2 161.2 L633.7 161.4 L634.3 161.7 L634.8 162 L635.4 162.4 L635.9 162.8 L636.5 163.3 L637 163.7 L637.6 164.2 L638.1 164.8 L638.7 165.3 L639.2 165.8 L639.8 166.3 L640.3 166.8 L640.9 167.3 L641.4 167.8 L642 168.3 L642.5 168.7 L643.1 169.1 L643.6 169.5 L644.2 169.8 L644.7 170.2 L645.3 170.4 L645.8 170.7 L646.4 170.9 L646.9 171.2 L647.5 171.3 L648 171.5 L648.6 171.6 L649.1 171.8 L649.7 171.9 L650.2 172 L650.8 172 L651.3 172.1 L651.9 172.2 L652.4 172.2 L653 172.2 L653.5 172.3 L654.1 172.3 L654.6 172.3 L655.2 172.3 L655.2 172.4 Z" fill="#ff8c00" fill-opacity="0.52" stroke="#f59a20" stroke-width="0.9"/>
<path d="M633.7 172.4 L633.7 172.3 L634.3 172.3 L634.8 172.3 L635.4 172.2 L635.9 172.2 L636.5 172.1 L637 172 L637.6 171.8 L638.1 171.7 L638.7 171.4 L639.2 171.2 L639.8 170.9 L640.3 170.5 L640.9 170.1 L641.4 169.6 L642 169.2 L642.5 168.6 L643.1 168.1 L643.6 167.5 L644.2 167 L644.7 166.5 L645.3 166.1 L645.8 165.7 L646.4 165.4 L646.9 165.3 L647.5 165.2 L648 165.2 L648.6 165.4 L649.1 165.7 L649.7 166 L650.2 166.4 L650.8 166.9 L651.3 167.4 L651.9 168 L652.4 168.5 L653 169.1 L653.5 169.6 L654.1 170 L654.6 170.4 L655.2 170.8 L655.7 171.1 L656.3 171.4 L656.8 171.6 L657.4 171.8 L657.9 172 L658.5 172.1 L659 172.2 L659.6 172.2 L660.1 172.3 L660.7 172.3 L661.2 172.3 L661.2 172.4 Z" fill="#8a00ff" fill-opacity="0.52" stroke="#9a20ff" stroke-width="0.9"/>
<line x1="447.8" y1="172.4" x2="673.6" y2="172.4" stroke="#b050e0" stroke-width="1" />
<path d="M447.8 172.6 L448.4 172.6 L448.9 172.6 L449.5 172.6 L450 172.6 L450.6 172.6 L451.1 172.6 L451.7 172.6 L452.2 172.6 L452.8 172.6 L453.3 172.6 L453.9 172.6 L454.4 172.6 L455 172.6 L455.5 172.6 L456.1 172.6 L456.6 172.6 L457.2 172.6 L457.7 172.6 L458.3 172.6 L458.8 172.6 L459.4 172.6 L459.9 172.6 L460.5 172.6 L461 172.6 L461.6 172.6 L462.1 172.6 L462.7 172.6 L463.2 172.6 L463.8 172.6 L464.3 172.6 L464.9 172.6 L465.4 172.6 L466 172.6 L466.5 172.6 L467.1 172.6 L467.6 172.6 L468.2 172.6 L468.7 172.6 L469.3 172.6 L469.8 172.6 L470.4 172.6 L470.9 172.6 L471.5 172.6 L472 172.6 L472.6 172.6 L473.1 172.6 L473.7 172.6 L474.2 172.5 L474.8 172.5 L475.3 172.5 L475.9 172.5 L476.4 172.4 L477 172.4 L477.5 172.4 L478.1 172.3 L478.6 172.3 L479.2 172.2 L479.7 172.2 L480.3 172.1 L480.8 172.1 L481.4 172 L481.9 172 L482.5 171.9 L483 171.9 L483.6 171.8 L484.1 171.8 L484.7 171.7 L485.2 171.7 L485.8 171.6 L486.3 171.6 L486.9 171.5 L487.4 171.5 L488 171.4 L488.5 171.4 L489.1 171.3 L489.6 171.3 L490.2 171.3 L490.7 171.2 L491.3 171.2 L491.8 171.2 L492.4 171.1 L492.9 171.1 L493.5 171.1 L494 171 L494.6 171 L495.1 171 L495.7 170.9 L496.2 170.9 L496.8 170.9 L497.3 170.8 L497.9 170.8 L498.4 170.8 L499 170.7 L499.5 170.7 L500.1 170.7 L500.6 170.6 L501.2 170.6 L501.7 170.6 L502.3 170.5 L502.8 170.5 L503.4 170.5 L503.9 170.4 L504.5 170.4 L505 170.4 L505.6 170.3 L506.1 170.3 L506.7 170.2 L507.2 170.2 L507.8 170.1 L508.3 170.1 L508.9 170 L509.4 170 L510 169.9 L510.5 169.8 L511.1 169.8 L511.6 169.7 L512.2 169.6 L512.7 169.5 L513.3 169.4 L513.8 169.3 L514.4 169.2 L514.9 169.1 L515.5 169 L516 168.9 L516.6 168.8 L517.1 168.7 L517.7 168.6 L518.2 168.4 L518.8 168.3 L519.3 168.2 L519.9 168 L520.4 167.9 L521 167.8 L521.5 167.6 L522.1 167.5 L522.6 167.4 L523.2 167.2 L523.7 167.1 L524.3 166.9 L524.8 166.8 L525.4 166.6 L525.9 166.4 L526.5 166.3 L527 166.1 L527.6 165.9 L528.1 165.8 L528.7 165.6 L529.2 165.4 L529.8 165.2 L530.3 165 L530.9 164.9 L531.4 164.7 L532 164.5 L532.5 164.3 L533.1 164.1 L533.6 163.9 L534.2 163.7 L534.7 163.6 L535.3 163.4 L535.8 163.2 L536.4 163 L536.9 162.8 L537.5 162.6 L538 162.4 L538.6 162.2 L539.1 162 L539.7 161.8 L540.2 161.6 L540.8 161.4 L541.3 161.2 L541.9 161 L542.4 160.8 L543 160.6 L543.5 160.4 L544.1 160.2 L544.6 160 L545.2 159.7 L545.7 159.5 L546.3 159.3 L546.8 159.1 L547.4 158.9 L547.9 158.7 L548.5 158.5 L549 158.2 L549.6 158 L550.1 157.8 L550.7 157.6 L551.2 157.3 L551.8 157.1 L552.3 156.9 L552.9 156.6 L553.4 156.4 L554 156.1 L554.5 155.9 L555.1 155.6 L555.6 155.3 L556.2 155 L556.7 154.7 L557.3 154.4 L557.8 154 L558.4 153.7 L558.9 153.3 L559.5 152.9 L560 152.5 L560.6 152.1 L561.1 151.7 L561.7 151.3 L562.2 150.8 L562.8 150.4 L563.3 149.9 L563.9 149.4 L564.4 149 L565 148.5 L565.5 148 L566.1 147.5 L566.6 147 L567.2 146.5 L567.7 146 L568.3 145.5 L568.8 145 L569.4 144.5 L569.9 144 L570.5 143.5 L571 143 L571.6 142.4 L572.1 141.9 L572.7 141.3 L573.2 140.7 L573.8 140.2 L574.3 139.6 L574.9 139 L575.4 138.4 L576 137.8 L576.5 137.1 L577.1 136.3 L577.6 135.6 L578.2 134.8 L578.7 134 L579.3 133.2 L579.8 132.5 L580.4 131.9 L580.9 131.3 L581.5 130.8 L582 130.4 L582.6 130.1 L583.1 129.9 L583.7 129.7 L584.2 129.5 L584.8 129.4 L585.3 129.2 L585.9 129.1 L586.4 129 L587 129 L587.5 129 L588.1 129.3 L588.6 129.6 L589.2 130 L589.7 130.5 L590.3 131 L590.8 131.5 L591.4 131.9 L591.9 132.2 L592.5 132.4 L593 132.5 L593.6 132.5 L594.1 132.4 L594.7 132.4 L595.2 132.3 L595.8 132.2 L596.3 132 L596.9 131.9 L597.4 131.8 L598 131.6 L598.5 131.5 L599.1 131.3 L599.6 131.1 L600.2 130.9 L600.7 130.7 L601.3 130.4 L601.8 130.1 L602.4 129.8 L602.9 129.5 L603.5 129.2 L604 128.9 L604.6 128.5 L605.1 128.2 L605.7 127.9 L606.2 127.5 L606.8 127.1 L607.3 126.7 L607.9 126.2 L608.4 125.7 L609 125.3 L609.5 125 L610.1 124.8 L610.6 124.8 L611.2 125.1 L611.7 125.5 L612.3 126.2 L612.8 127 L613.4 127.9 L613.9 128.8 L614.5 130 L615 131.6 L615.6 133.5 L616.1 135.6 L616.7 137.7 L617.2 139.7 L617.8 141.5 L618.3 143.5 L618.9 145.5 L619.4 147.6 L620 149.5 L620.5 151.3 L621.1 152.9 L621.6 154 L622.2 154.7 L622.7 155.2 L623.3 155.6 L623.8 156 L624.4 156.3 L624.9 156.6 L625.5 156.8 L626 157.1 L626.6 157.3 L627.1 157.5 L627.7 157.7 L628.2 157.9 L628.8 158.1 L629.3 158.3 L629.9 158.5 L630.4 158.7 L631 158.9 L631.5 159.1 L632.1 159.2 L632.6 159.4 L633.2 159.6 L633.7 159.7 L634.3 159.9 L634.8 160.1 L635.4 160.3 L635.9 160.4 L636.5 160.6 L637 160.8 L637.6 161 L638.1 161.2 L638.7 161.3 L639.2 161.5 L639.8 161.7 L640.3 161.9 L640.9 162.1 L641.4 162.3 L642 162.5 L642.5 162.7 L643.1 162.9 L643.6 163.1 L644.2 163.3 L644.7 163.6 L645.3 163.8 L645.8 164.1 L646.4 164.3 L646.9 164.6 L647.5 165 L648 165.3 L648.6 165.8 L649.1 166.4 L649.7 167.1 L650.2 167.8 L650.8 168.4 L651.3 169 L651.9 169.5 L652.4 169.9 L653 170.1 L653.5 170.3 L654.1 170.4 L654.6 170.6 L655.2 170.8 L655.7 170.9 L656.3 171 L656.8 171.1 L657.4 171.2 L657.9 171.3 L658.5 171.4 L659 171.5 L659.6 171.5 L660.1 171.5 L660.7 171.6 L661.2 171.6 L661.8 171.6 L662.3 171.7 L662.9 171.7 L663.4 171.7 L664 171.8 L664.5 171.8 L665.1 171.8 L665.6 171.8 L666.2 171.9 L666.7 171.9 L667.3 171.9 L667.8 171.9 L668.4 171.9 L668.9 171.9 L669.5 172 L670 172 L670.6 172 L671.1 172 L671.7 172 L672.2 172 L672.8 172 L673.3 172" stroke="#e27ac6" stroke-width="1.2" fill="none" />
<path d="M447.8 170.7 L448.4 172.2 L448.9 171.7 L449.5 171.6 L450 172.6 L450.6 173.1 L451.1 172 L451.7 171.9 L452.2 170 L452.8 172.3 L453.3 171.4 L453.9 174 L454.4 174.3 L455 170.1 L455.5 174.8 L456.1 171.3 L456.6 171 L457.2 172.4 L457.7 172.8 L458.3 174.8 L458.8 177.6 L459.4 171.2 L459.9 173.2 L460.5 173.1 L461 171.9 L461.6 169.8 L462.1 172.1 L462.7 172.9 L463.2 173.6 L463.8 172.3 L464.3 174.5 L464.9 172.6 L465.4 173.4 L466 171 L466.5 169.1 L467.1 174.1 L467.6 173.5 L468.2 174.4 L468.7 173.2 L469.3 173.1 L469.8 173.1 L470.4 174.7 L470.9 172 L471.5 172.4 L472 173 L472.6 173.5 L473.1 176 L473.7 171.7 L474.2 175.9 L474.8 172.1 L475.3 171.8 L475.9 170.9 L476.4 173.2 L477 174.4 L477.5 171.1 L478.1 172.7 L478.6 172.7 L479.2 172.4 L479.7 171.9 L480.3 174 L480.8 173.7 L481.4 172.2 L481.9 170.5 L482.5 171.4 L483 173.1 L483.6 172.4 L484.1 173.7 L484.7 172.1 L485.2 173.1 L485.8 173.1 L486.3 170.8 L486.9 171.2 L487.4 170.5 L488 171.7 L488.5 171 L489.1 170.7 L489.6 170.7 L490.2 169.8 L490.7 171.4 L491.3 169.2 L491.8 170.4 L492.4 167.1 L492.9 169 L493.5 171.5 L494 170.6 L494.6 171.5 L495.1 170 L495.7 169.2 L496.2 169.6 L496.8 171.3 L497.3 170.5 L497.9 173.9 L498.4 174.3 L499 172.6 L499.5 169.8 L500.1 171.3 L500.6 170.1 L501.2 169.8 L501.7 170.4 L502.3 170.8 L502.8 170.4 L503.4 170.5 L503.9 167.7 L504.5 169.6 L505 171.3 L505.6 171.1 L506.1 168.7 L506.7 170.7 L507.2 170.5 L507.8 168.2 L508.3 170.1 L508.9 170.9 L509.4 170.2 L510 172.9 L510.5 169.1 L511.1 170.3 L511.6 170.1 L512.2 169.9 L512.7 168.5 L513.3 169.6 L513.8 169.6 L514.4 172.7 L514.9 170.8 L515.5 168.6 L516 170.7 L516.6 167.2 L517.1 169 L517.7 171.3 L518.2 165.9 L518.8 170.3 L519.3 169.2 L519.9 166.7 L520.4 168.9 L521 165.4 L521.5 168.7 L522.1 167.6 L522.6 168.7 L523.2 166.1 L523.7 168.5 L524.3 169.1 L524.8 166.5 L525.4 170.1 L525.9 166.1 L526.5 170.6 L527 170.1 L527.6 165.3 L528.1 168.6 L528.7 166.3 L529.2 166.6 L529.8 166.1 L530.3 162.7 L530.9 165.2 L531.4 164 L532 165.5 L532.5 161.2 L533.1 163.9 L533.6 165.1 L534.2 162.4 L534.7 164 L535.3 163.8 L535.8 162.5 L536.4 162.8 L536.9 163.6 L537.5 159.9 L538 163.3 L538.6 162.1 L539.1 161.8 L539.7 161.4 L540.2 161.5 L540.8 162.9 L541.3 162.2 L541.9 160.7 L542.4 158.3 L543 161.3 L543.5 161.6 L544.1 163.6 L544.6 158.7 L545.2 159.7 L545.7 158.7 L546.3 154.9 L546.8 157.8 L547.4 159.2 L547.9 157.6 L548.5 160.2 L549 158.3 L549.6 157 L550.1 159.2 L550.7 157.6 L551.2 160 L551.8 158.9 L552.3 158.8 L552.9 156.7 L553.4 156.9 L554 156.4 L554.5 156 L555.1 156 L555.6 157.3 L556.2 154.6 L556.7 153.1 L557.3 155.3 L557.8 153.3 L558.4 155.9 L558.9 152.5 L559.5 151.6 L560 153 L560.6 150.7 L561.1 151.4 L561.7 152.3 L562.2 147.9 L562.8 150.4 L563.3 149 L563.9 149.6 L564.4 150.7 L565 149.3 L565.5 148.9 L566.1 146.8 L566.6 149.5 L567.2 147 L567.7 143.1 L568.3 147 L568.8 142.3 L569.4 146.1 L569.9 142.4 L570.5 144.3 L571 144.4 L571.6 141.7 L572.1 142.5 L572.7 142.5 L573.2 138.9 L573.8 143.7 L574.3 139.9 L574.9 139.7 L575.4 138.3 L576 139 L576.5 136.5 L577.1 134.4 L577.6 136.5 L578.2 131.5 L578.7 136 L579.3 131.1 L579.8 134.8 L580.4 132.8 L580.9 131.1 L581.5 130.2 L582 130.4 L582.6 128.5 L583.1 130.5 L583.7 129.8 L584.2 130.2 L584.8 127.3 L585.3 127.7 L585.9 127.7 L586.4 125.6 L587 126.9 L587.5 129.7 L588.1 131.4 L588.6 129.5 L589.2 129.3 L589.7 133.2 L590.3 128.6 L590.8 132.6 L591.4 129.2 L591.9 133 L592.5 132.5 L593 133.6 L593.6 132.6 L594.1 131.1 L594.7 131.6 L595.2 131.5 L595.8 134.7 L596.3 131.4 L596.9 133.7 L597.4 131.3 L598 128.8 L598.5 132.4 L599.1 128.5 L599.6 128.8 L600.2 130.9 L600.7 130.9 L601.3 131.9 L601.8 131.2 L602.4 128.2 L602.9 128.9 L603.5 128 L604 125.8 L604.6 127.3 L605.1 124.3 L605.7 127 L606.2 125.4 L606.8 125.8 L607.3 127.2 L607.9 126.4 L608.4 127 L609 122 L609.5 124 L610.1 125.5 L610.6 121.9 L611.2 123.2 L611.7 124.7 L612.3 126.6 L612.8 124.7 L613.4 128.4 L613.9 127 L614.5 124 L615 131.3 L615.6 132.9 L616.1 135.4 L616.7 139.9 L617.2 139.5 L617.8 140.2 L618.3 143.1 L618.9 143.3 L619.4 146.2 L620 148.4 L620.5 151.3 L621.1 152 L621.6 152.8 L622.2 152.5 L622.7 157.6 L623.3 155.2 L623.8 156.7 L624.4 158 L624.9 157.5 L625.5 156.6 L626 156.5 L626.6 160.8 L627.1 155.7 L627.7 156.7 L628.2 159.3 L628.8 158.3 L629.3 159.7 L629.9 155.9 L630.4 157 L631 158.8 L631.5 156.7 L632.1 161.8 L632.6 158.4 L633.2 158.2 L633.7 159.6 L634.3 160.4 L634.8 162.6 L635.4 160.9 L635.9 159.8 L636.5 161.5 L637 161.4 L637.6 160.2 L638.1 163.7 L638.7 161.3 L639.2 160.2 L639.8 163.2 L640.3 163.4 L640.9 159.1 L641.4 162.1 L642 160.3 L642.5 161.4 L643.1 162.3 L643.6 162.3 L644.2 163.8 L644.7 163.9 L645.3 163.3 L645.8 163.7 L646.4 165.4 L646.9 164 L647.5 165.4 L648 166.4 L648.6 167.6 L649.1 163.9 L649.7 168.5 L650.2 166.1 L650.8 169.9 L651.3 171.3 L651.9 171.8 L652.4 171.1 L653 169.3 L653.5 171.3 L654.1 170.1 L654.6 172.9 L655.2 172.5 L655.7 172.4 L656.3 171.6 L656.8 169.6 L657.4 171.7 L657.9 172.7 L658.5 174.7 L659 172.9 L659.6 172.7 L660.1 170.1 L660.7 171.1 L661.2 169.7 L661.8 175.6 L662.3 175.5 L662.9 173.3 L663.4 173.5 L664 172 L664.5 171.7 L665.1 169.2 L665.6 172.6 L666.2 171.9 L666.7 174.7 L667.3 173.4 L667.8 173.1 L668.4 173.7 L668.9 172.9 L669.5 171.8 L670 172.1 L670.6 170.9 L671.1 172.8 L671.7 171.8 L672.2 172.2 L672.8 171.3 L673.3 172.2" stroke="#111" stroke-width="0.7" fill="none" />
<path d="M469.8 215 L469.8 214.9 L470.4 214.9 L470.9 214.9 L471.5 214.9 L472 214.9 L472.6 214.9 L473.1 214.9 L473.7 214.9 L474.2 214.9 L474.8 214.9 L475.3 214.9 L475.9 214.9 L476.4 214.9 L477 214.8 L477.5 214.8 L478.1 214.8 L478.6 214.8 L479.2 214.8 L479.7 214.8 L480.3 214.8 L480.8 214.7 L481.4 214.7 L481.9 214.7 L482.5 214.7 L483 214.7 L483.6 214.6 L484.1 214.6 L484.7 214.6 L485.2 214.6 L485.8 214.5 L486.3 214.5 L486.9 214.5 L487.4 214.4 L488 214.4 L488.5 214.3 L489.1 214.3 L489.6 214.3 L490.2 214.2 L490.7 214.2 L491.3 214.1 L491.8 214.1 L492.4 214 L492.9 213.9 L493.5 213.9 L494 213.8 L494.6 213.8 L495.1 213.7 L495.7 213.6 L496.2 213.5 L496.8 213.5 L497.3 213.4 L497.9 213.3 L498.4 213.2 L499 213.1 L499.5 213 L500.1 212.9 L500.6 212.8 L501.2 212.7 L501.7 212.6 L502.3 212.5 L502.8 212.4 L503.4 212.3 L503.9 212.2 L504.5 212 L505 211.9 L505.6 211.8 L506.1 211.7 L506.7 211.5 L507.2 211.4 L507.8 211.2 L508.3 211.1 L508.9 211 L509.4 210.8 L510 210.7 L510.5 210.5 L511.1 210.3 L511.6 210.2 L512.2 210 L512.7 209.9 L513.3 209.7 L513.8 209.5 L514.4 209.4 L514.9 209.2 L515.5 209 L516 208.9 L516.6 208.7 L517.1 208.5 L517.7 208.4 L518.2 208.2 L518.8 208 L519.3 207.9 L519.9 207.7 L520.4 207.5 L521 207.4 L521.5 207.2 L522.1 207.1 L522.6 206.9 L523.2 206.7 L523.7 206.6 L524.3 206.4 L524.8 206.3 L525.4 206.2 L525.9 206 L526.5 205.9 L527 205.8 L527.6 205.6 L528.1 205.5 L528.7 205.4 L529.2 205.3 L529.8 205.2 L530.3 205.1 L530.9 205 L531.4 204.9 L532 204.8 L532.5 204.8 L533.1 204.7 L533.6 204.6 L534.2 204.6 L534.7 204.5 L535.3 204.5 L535.8 204.5 L536.4 204.4 L536.9 204.4 L537.5 204.4 L538 204.4 L538.6 204.4 L539.1 204.4 L539.7 204.4 L540.2 204.5 L540.8 204.5 L541.3 204.5 L541.9 204.6 L542.4 204.6 L543 204.7 L543.5 204.8 L544.1 204.8 L544.6 204.9 L545.2 205 L545.7 205.1 L546.3 205.2 L546.8 205.3 L547.4 205.4 L547.9 205.5 L548.5 205.6 L549 205.8 L549.6 205.9 L550.1 206 L550.7 206.2 L551.2 206.3 L551.8 206.4 L552.3 206.6 L552.9 206.7 L553.4 206.9 L554 207.1 L554.5 207.2 L555.1 207.4 L555.6 207.5 L556.2 207.7 L556.7 207.9 L557.3 208 L557.8 208.2 L558.4 208.4 L558.9 208.5 L559.5 208.7 L560 208.9 L560.6 209 L561.1 209.2 L561.7 209.4 L562.2 209.5 L562.8 209.7 L563.3 209.9 L563.9 210 L564.4 210.2 L565 210.3 L565.5 210.5 L566.1 210.7 L566.6 210.8 L567.2 211 L567.7 211.1 L568.3 211.2 L568.8 211.4 L569.4 211.5 L569.9 211.7 L570.5 211.8 L571 211.9 L571.6 212 L572.1 212.2 L572.7 212.3 L573.2 212.4 L573.8 212.5 L574.3 212.6 L574.9 212.7 L575.4 212.8 L576 212.9 L576.5 213 L577.1 213.1 L577.6 213.2 L578.2 213.3 L578.7 213.4 L579.3 213.5 L579.8 213.5 L580.4 213.6 L580.9 213.7 L581.5 213.8 L582 213.8 L582.6 213.9 L583.1 213.9 L583.7 214 L584.2 214.1 L584.8 214.1 L585.3 214.2 L585.9 214.2 L586.4 214.3 L587 214.3 L587.5 214.3 L588.1 214.4 L588.6 214.4 L589.2 214.5 L589.7 214.5 L590.3 214.5 L590.8 214.6 L591.4 214.6 L591.9 214.6 L592.5 214.6 L593 214.7 L593.6 214.7 L594.1 214.7 L594.7 214.7 L595.2 214.7 L595.8 214.8 L596.3 214.8 L596.9 214.8 L597.4 214.8 L598 214.8 L598.5 214.8 L599.1 214.8 L599.6 214.9 L600.2 214.9 L600.7 214.9 L601.3 214.9 L601.8 214.9 L602.4 214.9 L602.9 214.9 L603.5 214.9 L604 214.9 L604.6 214.9 L605.1 214.9 L605.7 214.9 L606.2 214.9 L606.2 215 Z" fill="#ff1a1a" fill-opacity="0.52" stroke="#ff2a2a" stroke-width="0.9"/>
<path d="M526.5 215 L526.5 214.9 L527 214.9 L527.6 214.9 L528.1 214.9 L528.7 214.9 L529.2 214.9 L529.8 214.9 L530.3 214.9 L530.9 214.9 L531.4 214.9 L532 214.9 L532.5 214.8 L533.1 214.8 L533.6 214.8 L534.2 214.8 L534.7 214.8 L535.3 214.7 L535.8 214.7 L536.4 214.7 L536.9 214.6 L537.5 214.6 L538 214.6 L538.6 214.5 L539.1 214.5 L539.7 214.4 L540.2 214.4 L540.8 214.3 L541.3 214.3 L541.9 214.2 L542.4 214.1 L543 214.1 L543.5 214 L544.1 213.9 L544.6 213.8 L545.2 213.7 L545.7 213.6 L546.3 213.5 L546.8 213.4 L547.4 213.3 L547.9 213.2 L548.5 213 L549 212.9 L549.6 212.7 L550.1 212.6 L550.7 212.4 L551.2 212.2 L551.8 212.1 L552.3 211.9 L552.9 211.7 L553.4 211.5 L554 211.2 L554.5 211 L555.1 210.8 L555.6 210.5 L556.2 210.3 L556.7 210 L557.3 209.7 L557.8 209.5 L558.4 209.2 L558.9 208.9 L559.5 208.6 L560 208.3 L560.6 207.9 L561.1 207.6 L561.7 207.3 L562.2 206.9 L562.8 206.6 L563.3 206.2 L563.9 205.8 L564.4 205.5 L565 205.1 L565.5 204.7 L566.1 204.4 L566.6 204 L567.2 203.6 L567.7 203.2 L568.3 202.8 L568.8 202.5 L569.4 202.1 L569.9 201.7 L570.5 201.3 L571 201 L571.6 200.6 L572.1 200.3 L572.7 199.9 L573.2 199.6 L573.8 199.2 L574.3 198.9 L574.9 198.6 L575.4 198.3 L576 198 L576.5 197.8 L577.1 197.5 L577.6 197.3 L578.2 197 L578.7 196.8 L579.3 196.6 L579.8 196.5 L580.4 196.3 L580.9 196.2 L581.5 196.1 L582 196 L582.6 195.9 L583.1 195.8 L583.7 195.8 L584.2 195.8 L584.8 195.8 L585.3 195.8 L585.9 195.9 L586.4 195.9 L587 196 L587.5 196.1 L588.1 196.3 L588.6 196.4 L589.2 196.6 L589.7 196.8 L590.3 197 L590.8 197.2 L591.4 197.4 L591.9 197.7 L592.5 197.9 L593 198.2 L593.6 198.5 L594.1 198.8 L594.7 199.1 L595.2 199.4 L595.8 199.8 L596.3 200.1 L596.9 200.5 L597.4 200.8 L598 201.2 L598.5 201.6 L599.1 201.9 L599.6 202.3 L600.2 202.7 L600.7 203.1 L601.3 203.5 L601.8 203.8 L602.4 204.2 L602.9 204.6 L603.5 205 L604 205.3 L604.6 205.7 L605.1 206.1 L605.7 206.4 L606.2 206.8 L606.8 207.1 L607.3 207.5 L607.9 207.8 L608.4 208.1 L609 208.5 L609.5 208.8 L610.1 209.1 L610.6 209.4 L611.2 209.6 L611.7 209.9 L612.3 210.2 L612.8 210.4 L613.4 210.7 L613.9 210.9 L614.5 211.2 L615 211.4 L615.6 211.6 L616.1 211.8 L616.7 212 L617.2 212.2 L617.8 212.4 L618.3 212.5 L618.9 212.7 L619.4 212.8 L620 213 L620.5 213.1 L621.1 213.2 L621.6 213.4 L622.2 213.5 L622.7 213.6 L623.3 213.7 L623.8 213.8 L624.4 213.9 L624.9 214 L625.5 214 L626 214.1 L626.6 214.2 L627.1 214.3 L627.7 214.3 L628.2 214.4 L628.8 214.4 L629.3 214.5 L629.9 214.5 L630.4 214.6 L631 214.6 L631.5 214.6 L632.1 214.7 L632.6 214.7 L633.2 214.7 L633.7 214.7 L634.3 214.8 L634.8 214.8 L635.4 214.8 L635.9 214.8 L636.5 214.8 L637 214.9 L637.6 214.9 L638.1 214.9 L638.7 214.9 L639.2 214.9 L639.8 214.9 L640.3 214.9 L640.9 214.9 L641.4 214.9 L642 214.9 L642 215 Z" fill="#1e90ff" fill-opacity="0.52" stroke="#2a9df0" stroke-width="0.9"/>
<path d="M584.8 215 L584.8 214.9 L585.3 214.9 L585.9 214.9 L586.4 214.9 L587 214.8 L587.5 214.8 L588.1 214.7 L588.6 214.6 L589.2 214.5 L589.7 214.3 L590.3 214.2 L590.8 213.9 L591.4 213.7 L591.9 213.3 L592.5 213 L593 212.5 L593.6 212 L594.1 211.4 L594.7 210.8 L595.2 210 L595.8 209.2 L596.3 208.3 L596.9 207.3 L597.4 206.2 L598 205.1 L598.5 203.9 L599.1 202.7 L599.6 201.4 L600.2 200.2 L600.7 199 L601.3 197.8 L601.8 196.7 L602.4 195.7 L602.9 194.8 L603.5 194 L604 193.4 L604.6 192.9 L605.1 192.7 L605.7 192.6 L606.2 192.7 L606.8 193 L607.3 193.5 L607.9 194.1 L608.4 194.9 L609 195.8 L609.5 196.9 L610.1 198 L610.6 199.2 L611.2 200.4 L611.7 201.6 L612.3 202.9 L612.8 204.1 L613.4 205.3 L613.9 206.4 L614.5 207.5 L615 208.4 L615.6 209.3 L616.1 210.2 L616.7 210.9 L617.2 211.5 L617.8 212.1 L618.3 212.6 L618.9 213 L619.4 213.4 L620 213.7 L620.5 214 L621.1 214.2 L621.6 214.4 L622.2 214.5 L622.7 214.6 L623.3 214.7 L623.8 214.8 L624.4 214.8 L624.9 214.9 L625.5 214.9 L626 214.9 L626.6 214.9 L626.6 215 Z" fill="#10cc10" fill-opacity="0.52" stroke="#20d020" stroke-width="0.9"/>
<path d="M609.5 215 L609.5 214.9 L610.1 214.9 L610.6 214.9 L611.2 214.9 L611.7 214.8 L612.3 214.8 L612.8 214.7 L613.4 214.7 L613.9 214.6 L614.5 214.5 L615 214.4 L615.6 214.2 L616.1 214.1 L616.7 213.9 L617.2 213.7 L617.8 213.4 L618.3 213.2 L618.9 212.9 L619.4 212.6 L620 212.2 L620.5 211.8 L621.1 211.4 L621.6 211 L622.2 210.6 L622.7 210.1 L623.3 209.6 L623.8 209.2 L624.4 208.7 L624.9 208.2 L625.5 207.8 L626 207.4 L626.6 207 L627.1 206.7 L627.7 206.4 L628.2 206.1 L628.8 206 L629.3 205.9 L629.9 205.8 L630.4 205.8 L631 205.9 L631.5 206 L632.1 206.2 L632.6 206.5 L633.2 206.8 L633.7 207.2 L634.3 207.6 L634.8 208 L635.4 208.4 L635.9 208.9 L636.5 209.4 L637 209.8 L637.6 210.3 L638.1 210.8 L638.7 211.2 L639.2 211.6 L639.8 212 L640.3 212.4 L640.9 212.7 L641.4 213 L642 213.3 L642.5 213.6 L643.1 213.8 L643.6 214 L644.2 214.1 L644.7 214.3 L645.3 214.4 L645.8 214.5 L646.4 214.6 L646.9 214.7 L647.5 214.7 L648 214.8 L648.6 214.8 L649.1 214.9 L649.7 214.9 L650.2 214.9 L650.8 214.9 L650.8 215 Z" fill="#ff8c00" fill-opacity="0.52" stroke="#f59a20" stroke-width="0.9"/>
<path d="M634.3 215 L634.3 214.9 L634.8 214.9 L635.4 214.8 L635.9 214.8 L636.5 214.6 L637 214.5 L637.6 214.3 L638.1 214 L638.7 213.6 L639.2 213.2 L639.8 212.6 L640.3 212 L640.9 211.2 L641.4 210.4 L642 209.5 L642.5 208.6 L643.1 207.7 L643.6 206.8 L644.2 206.1 L644.7 205.4 L645.3 204.9 L645.8 204.6 L646.4 204.5 L646.9 204.6 L647.5 205 L648 205.5 L648.6 206.2 L649.1 207 L649.7 207.9 L650.2 208.8 L650.8 209.7 L651.3 210.6 L651.9 211.4 L652.4 212.1 L653 212.7 L653.5 213.3 L654.1 213.7 L654.6 214 L655.2 214.3 L655.7 214.5 L656.3 214.7 L656.8 214.8 L657.4 214.8 L657.9 214.9 L658.5 214.9 L658.5 215 Z" fill="#8a00ff" fill-opacity="0.52" stroke="#9a20ff" stroke-width="0.9"/>
<line x1="447.8" y1="215" x2="673.6" y2="215" stroke="#b050e0" stroke-width="1" />
<path d="M447.8 215.2 L448.4 215.2 L448.9 215.2 L449.5 215.2 L450 215.2 L450.6 215.2 L451.1 215.2 L451.7 215.2 L452.2 215.2 L452.8 215.2 L453.3 215.2 L453.9 215.2 L454.4 215.2 L455 215.2 L455.5 215.2 L456.1 215.2 L456.6 215.2 L457.2 215.2 L457.7 215.2 L458.3 215.2 L458.8 215.2 L459.4 215.2 L459.9 215.2 L460.5 215.2 L461 215.2 L461.6 215.2 L462.1 215.2 L462.7 215.2 L463.2 215.2 L463.8 215.2 L464.3 215.2 L464.9 215.2 L465.4 215.2 L466 215.2 L466.5 215.2 L467.1 215.2 L467.6 215.2 L468.2 215.2 L468.7 215.2 L469.3 215.2 L469.8 215.2 L470.4 215.2 L470.9 215.2 L471.5 215.2 L472 215.2 L472.6 215.1 L473.1 215.1 L473.7 215.1 L474.2 215 L474.8 215 L475.3 215 L475.9 214.9 L476.4 214.9 L477 214.9 L477.5 214.8 L478.1 214.8 L478.6 214.7 L479.2 214.7 L479.7 214.6 L480.3 214.6 L480.8 214.5 L481.4 214.5 L481.9 214.4 L482.5 214.3 L483 214.3 L483.6 214.2 L484.1 214.1 L484.7 214.1 L485.2 214 L485.8 213.9 L486.3 213.8 L486.9 213.7 L487.4 213.7 L488 213.6 L488.5 213.5 L489.1 213.4 L489.6 213.3 L490.2 213.2 L490.7 213.1 L491.3 213 L491.8 212.9 L492.4 212.8 L492.9 212.7 L493.5 212.6 L494 212.5 L494.6 212.4 L495.1 212.3 L495.7 212.1 L496.2 212 L496.8 211.8 L497.3 211.7 L497.9 211.5 L498.4 211.3 L499 211.2 L499.5 211 L500.1 210.9 L500.6 210.7 L501.2 210.6 L501.7 210.4 L502.3 210.3 L502.8 210.1 L503.4 210 L503.9 209.8 L504.5 209.7 L505 209.5 L505.6 209.4 L506.1 209.2 L506.7 209.1 L507.2 208.9 L507.8 208.7 L508.3 208.6 L508.9 208.4 L509.4 208.3 L510 208.1 L510.5 208 L511.1 207.8 L511.6 207.7 L512.2 207.5 L512.7 207.4 L513.3 207.3 L513.8 207.1 L514.4 207 L514.9 206.8 L515.5 206.7 L516 206.6 L516.6 206.4 L517.1 206.3 L517.7 206.2 L518.2 206 L518.8 205.9 L519.3 205.8 L519.9 205.7 L520.4 205.5 L521 205.4 L521.5 205.3 L522.1 205.2 L522.6 205 L523.2 204.9 L523.7 204.8 L524.3 204.7 L524.8 204.5 L525.4 204.4 L525.9 204.3 L526.5 204.2 L527 204 L527.6 203.9 L528.1 203.8 L528.7 203.7 L529.2 203.6 L529.8 203.5 L530.3 203.4 L530.9 203.3 L531.4 203.1 L532 203 L532.5 202.9 L533.1 202.8 L533.6 202.7 L534.2 202.6 L534.7 202.5 L535.3 202.4 L535.8 202.3 L536.4 202.1 L536.9 202 L537.5 201.9 L538 201.8 L538.6 201.7 L539.1 201.6 L539.7 201.4 L540.2 201.3 L540.8 201.2 L541.3 201.1 L541.9 200.9 L542.4 200.8 L543 200.7 L543.5 200.5 L544.1 200.4 L544.6 200.2 L545.2 200.1 L545.7 200 L546.3 199.8 L546.8 199.7 L547.4 199.6 L547.9 199.4 L548.5 199.3 L549 199.2 L549.6 199 L550.1 198.9 L550.7 198.8 L551.2 198.7 L551.8 198.5 L552.3 198.4 L552.9 198.3 L553.4 198.2 L554 198.1 L554.5 198 L555.1 197.9 L555.6 197.8 L556.2 197.7 L556.7 197.6 L557.3 197.5 L557.8 197.5 L558.4 197.4 L558.9 197.3 L559.5 197.2 L560 197.1 L560.6 197 L561.1 196.9 L561.7 196.8 L562.2 196.8 L562.8 196.7 L563.3 196.6 L563.9 196.5 L564.4 196.5 L565 196.4 L565.5 196.3 L566.1 196.3 L566.6 196.2 L567.2 196.1 L567.7 196.1 L568.3 196 L568.8 196 L569.4 195.9 L569.9 195.9 L570.5 195.8 L571 195.8 L571.6 195.7 L572.1 195.7 L572.7 195.6 L573.2 195.6 L573.8 195.5 L574.3 195.5 L574.9 195.4 L575.4 195.4 L576 195.3 L576.5 195.3 L577.1 195.2 L577.6 195.1 L578.2 195.1 L578.7 195 L579.3 194.9 L579.8 194.9 L580.4 194.8 L580.9 194.7 L581.5 194.6 L582 194.6 L582.6 194.5 L583.1 194.4 L583.7 194.3 L584.2 194.2 L584.8 194.1 L585.3 194 L585.9 193.8 L586.4 193.7 L587 193.5 L587.5 193.3 L588.1 193.1 L588.6 192.8 L589.2 192.5 L589.7 192.2 L590.3 191.8 L590.8 191.5 L591.4 191.1 L591.9 190.6 L592.5 190.2 L593 189.8 L593.6 189.3 L594.1 188.8 L594.7 188.4 L595.2 187.8 L595.8 187.2 L596.3 186.5 L596.9 185.7 L597.4 184.9 L598 184.1 L598.5 183.3 L599.1 182.6 L599.6 181.9 L600.2 181.3 L600.7 180.8 L601.3 180.5 L601.8 180.2 L602.4 179.9 L602.9 179.7 L603.5 179.5 L604 179.3 L604.6 179.2 L605.1 179.2 L605.7 179.3 L606.2 179.6 L606.8 180.1 L607.3 180.7 L607.9 181.5 L608.4 182.2 L609 183 L609.5 184 L610.1 185.3 L610.6 186.8 L611.2 188.4 L611.7 190.1 L612.3 191.7 L612.8 193.1 L613.4 194.4 L613.9 195.7 L614.5 197 L615 198.2 L615.6 199.3 L616.1 200.2 L616.7 200.8 L617.2 201.1 L617.8 201.4 L618.3 201.6 L618.9 201.8 L619.4 202 L620 202.1 L620.5 202.3 L621.1 202.4 L621.6 202.5 L622.2 202.6 L622.7 202.7 L623.3 202.8 L623.8 202.8 L624.4 202.9 L624.9 203 L625.5 203.1 L626 203.1 L626.6 203.2 L627.1 203.2 L627.7 203.3 L628.2 203.3 L628.8 203.4 L629.3 203.4 L629.9 203.5 L630.4 203.5 L631 203.6 L631.5 203.6 L632.1 203.7 L632.6 203.7 L633.2 203.8 L633.7 203.8 L634.3 203.9 L634.8 203.9 L635.4 204 L635.9 204 L636.5 204.1 L637 204.1 L637.6 204.2 L638.1 204.2 L638.7 204.2 L639.2 204.2 L639.8 204.2 L640.3 204.1 L640.9 204 L641.4 203.9 L642 203.7 L642.5 203.5 L643.1 203.3 L643.6 203.2 L644.2 203 L644.7 202.9 L645.3 202.8 L645.8 202.8 L646.4 202.9 L646.9 203.2 L647.5 203.6 L648 204.2 L648.6 204.8 L649.1 205.5 L649.7 206.2 L650.2 207 L650.8 207.7 L651.3 208.3 L651.9 209.1 L652.4 210 L653 210.9 L653.5 211.8 L654.1 212.6 L654.6 213.1 L655.2 213.5 L655.7 213.7 L656.3 213.9 L656.8 214.1 L657.4 214.3 L657.9 214.4 L658.5 214.6 L659 214.7 L659.6 214.7 L660.1 214.8 L660.7 214.8 L661.2 214.8 L661.8 214.8 L662.3 214.9 L662.9 214.9 L663.4 214.9 L664 214.9 L664.5 214.9 L665.1 214.9 L665.6 214.9 L666.2 214.9 L666.7 215 L667.3 215 L667.8 215 L668.4 215 L668.9 215 L669.5 215 L670 215 L670.6 215 L671.1 215 L671.7 215 L672.2 215 L672.8 215 L673.3 215" stroke="#e27ac6" stroke-width="1.2" fill="none" />
<path d="M447.8 216.1 L448.4 214.3 L448.9 216.9 L449.5 214.3 L450 213.6 L450.6 216.9 L451.1 218.2 L451.7 218.1 L452.2 218.5 L452.8 217 L453.3 216.1 L453.9 217.1 L454.4 216 L455 214.9 L455.5 213.4 L456.1 214.7 L456.6 215.7 L457.2 213.7 L457.7 214.9 L458.3 213.7 L458.8 218.4 L459.4 216.7 L459.9 215.5 L460.5 216.8 L461 215.8 L461.6 214.6 L462.1 215.9 L462.7 215.8 L463.2 221.4 L463.8 214.8 L464.3 211.7 L464.9 216.4 L465.4 213 L466 212.5 L466.5 216.9 L467.1 213.6 L467.6 213.2 L468.2 215.5 L468.7 212.9 L469.3 216 L469.8 213.7 L470.4 215.2 L470.9 217.6 L471.5 218.6 L472 212.2 L472.6 214.3 L473.1 214.8 L473.7 216.6 L474.2 214.4 L474.8 214 L475.3 217.5 L475.9 216.9 L476.4 214.8 L477 211.3 L477.5 214.3 L478.1 212.7 L478.6 218.4 L479.2 216.3 L479.7 216.2 L480.3 216.8 L480.8 216.1 L481.4 213.2 L481.9 215.5 L482.5 214.9 L483 210.7 L483.6 215.7 L484.1 215.4 L484.7 214.9 L485.2 215.6 L485.8 213.5 L486.3 215.4 L486.9 212.8 L487.4 211.2 L488 216.6 L488.5 215.1 L489.1 213.5 L489.6 213.9 L490.2 214.2 L490.7 214.9 L491.3 214.2 L491.8 215 L492.4 210.8 L492.9 210.9 L493.5 211.7 L494 212.2 L494.6 212 L495.1 210.4 L495.7 211.4 L496.2 213.3 L496.8 212.9 L497.3 209.9 L497.9 213.3 L498.4 212.5 L499 212.3 L499.5 213.1 L500.1 211.5 L500.6 213.1 L501.2 210 L501.7 209.4 L502.3 210.9 L502.8 211.1 L503.4 207.8 L503.9 209.5 L504.5 209.9 L505 207.9 L505.6 209.7 L506.1 211.7 L506.7 210.8 L507.2 206.8 L507.8 209 L508.3 208.1 L508.9 210.7 L509.4 207.8 L510 208.9 L510.5 205 L511.1 209.6 L511.6 207.5 L512.2 206.9 L512.7 206.9 L513.3 206.7 L513.8 205.7 L514.4 206.9 L514.9 205.6 L515.5 206 L516 211.4 L516.6 206.5 L517.1 207.2 L517.7 207 L518.2 206.2 L518.8 206.8 L519.3 204.1 L519.9 206.5 L520.4 205.6 L521 204.6 L521.5 202.9 L522.1 206.3 L522.6 202.7 L523.2 205.4 L523.7 204 L524.3 202.5 L524.8 206.4 L525.4 206.2 L525.9 206.3 L526.5 204.4 L527 203.3 L527.6 204.4 L528.1 203.9 L528.7 201.3 L529.2 205.4 L529.8 204.7 L530.3 201.9 L530.9 201.5 L531.4 203.2 L532 203.6 L532.5 206.8 L533.1 204 L533.6 202 L534.2 204.4 L534.7 201.7 L535.3 201.5 L535.8 203.2 L536.4 202.3 L536.9 199.7 L537.5 200.6 L538 200.7 L538.6 199.7 L539.1 200.5 L539.7 201.8 L540.2 201 L540.8 199.8 L541.3 202 L541.9 203.1 L542.4 201.9 L543 198.8 L543.5 199.4 L544.1 200.1 L544.6 199.9 L545.2 197.8 L545.7 199.8 L546.3 199.7 L546.8 198 L547.4 197.2 L547.9 199.9 L548.5 198.7 L549 202 L549.6 197.4 L550.1 197.6 L550.7 202.5 L551.2 196.6 L551.8 199.7 L552.3 198.3 L552.9 197.2 L553.4 196.1 L554 198.2 L554.5 200.7 L555.1 199.5 L555.6 198.3 L556.2 199.4 L556.7 196.9 L557.3 197.2 L557.8 198.1 L558.4 196.5 L558.9 197.8 L559.5 196.8 L560 195.8 L560.6 198.9 L561.1 195.4 L561.7 199.1 L562.2 198.1 L562.8 199.1 L563.3 198.5 L563.9 196.4 L564.4 195.3 L565 195.7 L565.5 195.3 L566.1 197.9 L566.6 194 L567.2 198 L567.7 196.2 L568.3 197.4 L568.8 197.8 L569.4 197.2 L569.9 197.7 L570.5 194.9 L571 195.5 L571.6 194.5 L572.1 195.7 L572.7 196.1 L573.2 196.6 L573.8 196.6 L574.3 198.2 L574.9 197.8 L575.4 194.9 L576 195.2 L576.5 194.5 L577.1 194.8 L577.6 196.5 L578.2 196.9 L578.7 195.6 L579.3 194.7 L579.8 192.4 L580.4 193.4 L580.9 193.8 L581.5 190.5 L582 195.3 L582.6 194.4 L583.1 197.3 L583.7 194.6 L584.2 191.5 L584.8 193.8 L585.3 193.2 L585.9 193.1 L586.4 190.9 L587 192.6 L587.5 190.1 L588.1 194.1 L588.6 193.2 L589.2 189.7 L589.7 193.7 L590.3 193.9 L590.8 193.7 L591.4 192.5 L591.9 190.1 L592.5 189.3 L593 190.2 L593.6 190.6 L594.1 192.9 L594.7 188.7 L595.2 185.4 L595.8 186.8 L596.3 187.4 L596.9 186.8 L597.4 186 L598 182.5 L598.5 182.5 L599.1 182.8 L599.6 182 L600.2 181.2 L600.7 179.6 L601.3 179.3 L601.8 180.6 L602.4 181.5 L602.9 178.1 L603.5 180.5 L604 180.6 L604.6 180 L605.1 180.1 L605.7 179.4 L606.2 179 L606.8 181.3 L607.3 177.4 L607.9 180.3 L608.4 179.3 L609 181.6 L609.5 184 L610.1 183.9 L610.6 186.7 L611.2 189.9 L611.7 192.1 L612.3 191.8 L612.8 195 L613.4 194.6 L613.9 195.1 L614.5 196.7 L615 201.3 L615.6 198.3 L616.1 199.3 L616.7 200.6 L617.2 203.3 L617.8 201.7 L618.3 201.5 L618.9 201.2 L619.4 202.3 L620 202.9 L620.5 199.4 L621.1 202.4 L621.6 203.3 L622.2 203.4 L622.7 202.5 L623.3 203.6 L623.8 200.5 L624.4 202.3 L624.9 206.3 L625.5 203.2 L626 201.7 L626.6 204.5 L627.1 205 L627.7 205.6 L628.2 203.6 L628.8 203.8 L629.3 204 L629.9 207.4 L630.4 200 L631 203.4 L631.5 203.7 L632.1 203.6 L632.6 204.3 L633.2 204.8 L633.7 201.6 L634.3 203.3 L634.8 201.8 L635.4 204.4 L635.9 206.3 L636.5 202.8 L637 204.3 L637.6 204.1 L638.1 203.4 L638.7 203.6 L639.2 203.9 L639.8 202.3 L640.3 204.7 L640.9 201.9 L641.4 200.3 L642 203.3 L642.5 202.7 L643.1 204.3 L643.6 203 L644.2 203.4 L644.7 203.4 L645.3 200.3 L645.8 204.5 L646.4 204 L646.9 205.3 L647.5 202.8 L648 204.7 L648.6 205.4 L649.1 203.6 L649.7 206.9 L650.2 207.3 L650.8 207.9 L651.3 207.9 L651.9 210.3 L652.4 210.9 L653 211.8 L653.5 213.3 L654.1 212.4 L654.6 212.5 L655.2 214.1 L655.7 212.7 L656.3 213.8 L656.8 211.3 L657.4 214.3 L657.9 212.3 L658.5 214.4 L659 214.7 L659.6 218.8 L660.1 214 L660.7 215.6 L661.2 213.6 L661.8 214.4 L662.3 213 L662.9 217 L663.4 215.9 L664 216.1 L664.5 215.2 L665.1 214.7 L665.6 216.3 L666.2 215.3 L666.7 217.6 L667.3 216 L667.8 214.6 L668.4 213.1 L668.9 214.9 L669.5 213.3 L670 215.5 L670.6 215.2 L671.1 212.7 L671.7 217 L672.2 214.5 L672.8 212.3 L673.3 217.1" stroke="#111" stroke-width="0.7" fill="none" />
<path d="M457.2 246.4 L457.2 246.3 L457.7 246.3 L458.3 246.3 L458.8 246.3 L459.4 246.3 L459.9 246.3 L460.5 246.3 L461 246.3 L461.6 246.3 L462.1 246.3 L462.7 246.3 L463.2 246.3 L463.8 246.3 L464.3 246.3 L464.9 246.2 L465.4 246.2 L466 246.2 L466.5 246.2 L467.1 246.2 L467.6 246.2 L468.2 246.2 L468.7 246.2 L469.3 246.1 L469.8 246.1 L470.4 246.1 L470.9 246.1 L471.5 246.1 L472 246 L472.6 246 L473.1 246 L473.7 246 L474.2 245.9 L474.8 245.9 L475.3 245.9 L475.9 245.8 L476.4 245.8 L477 245.8 L477.5 245.7 L478.1 245.7 L478.6 245.6 L479.2 245.6 L479.7 245.5 L480.3 245.5 L480.8 245.4 L481.4 245.4 L481.9 245.3 L482.5 245.3 L483 245.2 L483.6 245.1 L484.1 245.1 L484.7 245 L485.2 244.9 L485.8 244.9 L486.3 244.8 L486.9 244.7 L487.4 244.6 L488 244.5 L488.5 244.5 L489.1 244.4 L489.6 244.3 L490.2 244.2 L490.7 244.1 L491.3 244 L491.8 243.9 L492.4 243.8 L492.9 243.6 L493.5 243.5 L494 243.4 L494.6 243.3 L495.1 243.2 L495.7 243 L496.2 242.9 L496.8 242.8 L497.3 242.6 L497.9 242.5 L498.4 242.4 L499 242.2 L499.5 242.1 L500.1 241.9 L500.6 241.8 L501.2 241.6 L501.7 241.5 L502.3 241.3 L502.8 241.2 L503.4 241 L503.9 240.9 L504.5 240.7 L505 240.6 L505.6 240.4 L506.1 240.2 L506.7 240.1 L507.2 239.9 L507.8 239.8 L508.3 239.6 L508.9 239.4 L509.4 239.3 L510 239.1 L510.5 239 L511.1 238.8 L511.6 238.6 L512.2 238.5 L512.7 238.3 L513.3 238.2 L513.8 238.1 L514.4 237.9 L514.9 237.8 L515.5 237.6 L516 237.5 L516.6 237.4 L517.1 237.2 L517.7 237.1 L518.2 237 L518.8 236.9 L519.3 236.8 L519.9 236.7 L520.4 236.6 L521 236.5 L521.5 236.4 L522.1 236.3 L522.6 236.2 L523.2 236.2 L523.7 236.1 L524.3 236 L524.8 236 L525.4 235.9 L525.9 235.9 L526.5 235.9 L527 235.8 L527.6 235.8 L528.1 235.8 L528.7 235.8 L529.2 235.8 L529.8 235.8 L530.3 235.8 L530.9 235.8 L531.4 235.9 L532 235.9 L532.5 235.9 L533.1 236 L533.6 236 L534.2 236.1 L534.7 236.1 L535.3 236.2 L535.8 236.3 L536.4 236.4 L536.9 236.5 L537.5 236.6 L538 236.7 L538.6 236.8 L539.1 236.9 L539.7 237 L540.2 237.1 L540.8 237.2 L541.3 237.3 L541.9 237.5 L542.4 237.6 L543 237.7 L543.5 237.9 L544.1 238 L544.6 238.2 L545.2 238.3 L545.7 238.5 L546.3 238.6 L546.8 238.8 L547.4 238.9 L547.9 239.1 L548.5 239.2 L549 239.4 L549.6 239.5 L550.1 239.7 L550.7 239.9 L551.2 240 L551.8 240.2 L552.3 240.4 L552.9 240.5 L553.4 240.7 L554 240.8 L554.5 241 L555.1 241.1 L555.6 241.3 L556.2 241.5 L556.7 241.6 L557.3 241.8 L557.8 241.9 L558.4 242 L558.9 242.2 L559.5 242.3 L560 242.5 L560.6 242.6 L561.1 242.7 L561.7 242.9 L562.2 243 L562.8 243.1 L563.3 243.3 L563.9 243.4 L564.4 243.5 L565 243.6 L565.5 243.7 L566.1 243.8 L566.6 243.9 L567.2 244 L567.7 244.1 L568.3 244.2 L568.8 244.3 L569.4 244.4 L569.9 244.5 L570.5 244.6 L571 244.7 L571.6 244.8 L572.1 244.8 L572.7 244.9 L573.2 245 L573.8 245.1 L574.3 245.1 L574.9 245.2 L575.4 245.3 L576 245.3 L576.5 245.4 L577.1 245.4 L577.6 245.5 L578.2 245.5 L578.7 245.6 L579.3 245.6 L579.8 245.7 L580.4 245.7 L580.9 245.7 L581.5 245.8 L582 245.8 L582.6 245.9 L583.1 245.9 L583.7 245.9 L584.2 245.9 L584.8 246 L585.3 246 L585.9 246 L586.4 246 L587 246.1 L587.5 246.1 L588.1 246.1 L588.6 246.1 L589.2 246.1 L589.7 246.2 L590.3 246.2 L590.8 246.2 L591.4 246.2 L591.9 246.2 L592.5 246.2 L593 246.2 L593.6 246.3 L594.1 246.3 L594.7 246.3 L595.2 246.3 L595.8 246.3 L596.3 246.3 L596.9 246.3 L597.4 246.3 L598 246.3 L598.5 246.3 L599.1 246.3 L599.6 246.3 L600.2 246.3 L600.7 246.3 L600.7 246.4 Z" fill="#ff1a1a" fill-opacity="0.52" stroke="#ff2a2a" stroke-width="0.9"/>
<path d="M514.4 246.4 L514.4 246.3 L514.9 246.3 L515.5 246.3 L516 246.3 L516.6 246.3 L517.1 246.3 L517.7 246.3 L518.2 246.3 L518.8 246.3 L519.3 246.3 L519.9 246.3 L520.4 246.2 L521 246.2 L521.5 246.2 L522.1 246.2 L522.6 246.2 L523.2 246.2 L523.7 246.1 L524.3 246.1 L524.8 246.1 L525.4 246.1 L525.9 246 L526.5 246 L527 246 L527.6 245.9 L528.1 245.9 L528.7 245.8 L529.2 245.8 L529.8 245.7 L530.3 245.7 L530.9 245.6 L531.4 245.6 L532 245.5 L532.5 245.4 L533.1 245.4 L533.6 245.3 L534.2 245.2 L534.7 245.1 L535.3 245 L535.8 244.9 L536.4 244.8 L536.9 244.7 L537.5 244.6 L538 244.5 L538.6 244.4 L539.1 244.2 L539.7 244.1 L540.2 244 L540.8 243.8 L541.3 243.6 L541.9 243.5 L542.4 243.3 L543 243.1 L543.5 242.9 L544.1 242.7 L544.6 242.5 L545.2 242.3 L545.7 242.1 L546.3 241.9 L546.8 241.7 L547.4 241.4 L547.9 241.2 L548.5 240.9 L549 240.7 L549.6 240.4 L550.1 240.2 L550.7 239.9 L551.2 239.6 L551.8 239.3 L552.3 239 L552.9 238.7 L553.4 238.4 L554 238.1 L554.5 237.8 L555.1 237.5 L555.6 237.2 L556.2 236.9 L556.7 236.5 L557.3 236.2 L557.8 235.9 L558.4 235.6 L558.9 235.3 L559.5 234.9 L560 234.6 L560.6 234.3 L561.1 234 L561.7 233.7 L562.2 233.4 L562.8 233.1 L563.3 232.8 L563.9 232.5 L564.4 232.2 L565 232 L565.5 231.7 L566.1 231.5 L566.6 231.2 L567.2 231 L567.7 230.8 L568.3 230.6 L568.8 230.4 L569.4 230.2 L569.9 230 L570.5 229.8 L571 229.7 L571.6 229.6 L572.1 229.5 L572.7 229.4 L573.2 229.3 L573.8 229.2 L574.3 229.2 L574.9 229.1 L575.4 229.1 L576 229.1 L576.5 229.1 L577.1 229.1 L577.6 229.2 L578.2 229.2 L578.7 229.3 L579.3 229.4 L579.8 229.5 L580.4 229.6 L580.9 229.8 L581.5 229.9 L582 230.1 L582.6 230.3 L583.1 230.5 L583.7 230.7 L584.2 230.9 L584.8 231.1 L585.3 231.3 L585.9 231.6 L586.4 231.9 L587 232.1 L587.5 232.4 L588.1 232.7 L588.6 233 L589.2 233.3 L589.7 233.6 L590.3 233.9 L590.8 234.2 L591.4 234.5 L591.9 234.8 L592.5 235.1 L593 235.4 L593.6 235.8 L594.1 236.1 L594.7 236.4 L595.2 236.7 L595.8 237 L596.3 237.4 L596.9 237.7 L597.4 238 L598 238.3 L598.5 238.6 L599.1 238.9 L599.6 239.2 L600.2 239.5 L600.7 239.8 L601.3 240 L601.8 240.3 L602.4 240.6 L602.9 240.8 L603.5 241.1 L604 241.3 L604.6 241.6 L605.1 241.8 L605.7 242 L606.2 242.2 L606.8 242.5 L607.3 242.7 L607.9 242.9 L608.4 243 L609 243.2 L609.5 243.4 L610.1 243.6 L610.6 243.7 L611.2 243.9 L611.7 244 L612.3 244.2 L612.8 244.3 L613.4 244.4 L613.9 244.6 L614.5 244.7 L615 244.8 L615.6 244.9 L616.1 245 L616.7 245.1 L617.2 245.2 L617.8 245.3 L618.3 245.3 L618.9 245.4 L619.4 245.5 L620 245.5 L620.5 245.6 L621.1 245.7 L621.6 245.7 L622.2 245.8 L622.7 245.8 L623.3 245.9 L623.8 245.9 L624.4 245.9 L624.9 246 L625.5 246 L626 246 L626.6 246.1 L627.1 246.1 L627.7 246.1 L628.2 246.2 L628.8 246.2 L629.3 246.2 L629.9 246.2 L630.4 246.2 L631 246.2 L631.5 246.3 L632.1 246.3 L632.6 246.3 L633.2 246.3 L633.7 246.3 L634.3 246.3 L634.8 246.3 L635.4 246.3 L635.9 246.3 L636.5 246.3 L637 246.3 L637 246.4 Z" fill="#1e90ff" fill-opacity="0.52" stroke="#2a9df0" stroke-width="0.9"/>
<path d="M579.8 246.4 L579.8 246.3 L580.4 246.3 L580.9 246.3 L581.5 246.3 L582 246.2 L582.6 246.2 L583.1 246.1 L583.7 246 L584.2 245.9 L584.8 245.8 L585.3 245.7 L585.9 245.5 L586.4 245.3 L587 245.1 L587.5 244.8 L588.1 244.5 L588.6 244.1 L589.2 243.7 L589.7 243.3 L590.3 242.7 L590.8 242.2 L591.4 241.6 L591.9 240.9 L592.5 240.2 L593 239.4 L593.6 238.7 L594.1 237.9 L594.7 237 L595.2 236.2 L595.8 235.4 L596.3 234.6 L596.9 233.9 L597.4 233.2 L598 232.5 L598.5 231.9 L599.1 231.5 L599.6 231.1 L600.2 230.8 L600.7 230.6 L601.3 230.6 L601.8 230.7 L602.4 230.9 L602.9 231.1 L603.5 231.5 L604 232 L604.6 232.6 L605.1 233.3 L605.7 234 L606.2 234.8 L606.8 235.6 L607.3 236.4 L607.9 237.2 L608.4 238 L609 238.8 L609.5 239.6 L610.1 240.3 L610.6 241 L611.2 241.7 L611.7 242.3 L612.3 242.8 L612.8 243.3 L613.4 243.8 L613.9 244.2 L614.5 244.5 L615 244.9 L615.6 245.1 L616.1 245.3 L616.7 245.5 L617.2 245.7 L617.8 245.8 L618.3 246 L618.9 246 L619.4 246.1 L620 246.2 L620.5 246.2 L621.1 246.3 L621.6 246.3 L622.2 246.3 L622.7 246.3 L622.7 246.4 Z" fill="#10cc10" fill-opacity="0.52" stroke="#20d020" stroke-width="0.9"/>
<path d="M609.5 246.4 L609.5 246.3 L610.1 246.3 L610.6 246.3 L611.2 246.3 L611.7 246.2 L612.3 246.2 L612.8 246.2 L613.4 246.1 L613.9 246.1 L614.5 246 L615 245.9 L615.6 245.8 L616.1 245.7 L616.7 245.5 L617.2 245.4 L617.8 245.2 L618.3 245 L618.9 244.8 L619.4 244.6 L620 244.3 L620.5 244 L621.1 243.8 L621.6 243.4 L622.2 243.1 L622.7 242.8 L623.3 242.4 L623.8 242 L624.4 241.6 L624.9 241.3 L625.5 240.9 L626 240.5 L626.6 240.2 L627.1 239.9 L627.7 239.6 L628.2 239.3 L628.8 239 L629.3 238.8 L629.9 238.7 L630.4 238.6 L631 238.5 L631.5 238.5 L632.1 238.5 L632.6 238.6 L633.2 238.7 L633.7 238.9 L634.3 239.1 L634.8 239.4 L635.4 239.7 L635.9 240 L636.5 240.3 L637 240.7 L637.6 241 L638.1 241.4 L638.7 241.8 L639.2 242.2 L639.8 242.5 L640.3 242.9 L640.9 243.2 L641.4 243.6 L642 243.9 L642.5 244.2 L643.1 244.4 L643.6 244.7 L644.2 244.9 L644.7 245.1 L645.3 245.3 L645.8 245.4 L646.4 245.6 L646.9 245.7 L647.5 245.8 L648 245.9 L648.6 246 L649.1 246.1 L649.7 246.1 L650.2 246.2 L650.8 246.2 L651.3 246.3 L651.9 246.3 L652.4 246.3 L653 246.3 L653.5 246.3 L653.5 246.4 Z" fill="#ff8c00" fill-opacity="0.52" stroke="#f59a20" stroke-width="0.9"/>
<path d="M634.8 246.4 L634.8 246.3 L635.4 246.3 L635.9 246.3 L636.5 246.2 L637 246.1 L637.6 246 L638.1 245.9 L638.7 245.7 L639.2 245.4 L639.8 245.1 L640.3 244.7 L640.9 244.3 L641.4 243.7 L642 243.1 L642.5 242.4 L643.1 241.7 L643.6 241 L644.2 240.2 L644.7 239.5 L645.3 238.8 L645.8 238.2 L646.4 237.7 L646.9 237.4 L647.5 237.2 L648 237.2 L648.6 237.4 L649.1 237.7 L649.7 238.2 L650.2 238.8 L650.8 239.5 L651.3 240.3 L651.9 241 L652.4 241.8 L653 242.5 L653.5 243.2 L654.1 243.8 L654.6 244.3 L655.2 244.8 L655.7 245.2 L656.3 245.5 L656.8 245.7 L657.4 245.9 L657.9 246 L658.5 246.2 L659 246.2 L659.6 246.3 L660.1 246.3 L660.1 246.4 Z" fill="#8a00ff" fill-opacity="0.52" stroke="#9a20ff" stroke-width="0.9"/>
<line x1="447.8" y1="246.4" x2="673.6" y2="246.4" stroke="#b050e0" stroke-width="1" />
<path d="M447.8 246.4 L448.4 246.4 L448.9 246.4 L449.5 246.4 L450 246.4 L450.6 246.4 L451.1 246.4 L451.7 246.4 L452.2 246.4 L452.8 246.4 L453.3 246.4 L453.9 246.4 L454.4 246.4 L455 246.4 L455.5 246.4 L456.1 246.4 L456.6 246.4 L457.2 246.4 L457.7 246.4 L458.3 246.4 L458.8 246.4 L459.4 246.4 L459.9 246.4 L460.5 246.4 L461 246.4 L461.6 246.4 L462.1 246.4 L462.7 246.4 L463.2 246.4 L463.8 246.4 L464.3 246.4 L464.9 246.4 L465.4 246.4 L466 246.4 L466.5 246.4 L467.1 246.4 L467.6 246.4 L468.2 246.4 L468.7 246.4 L469.3 246.4 L469.8 246.4 L470.4 246.4 L470.9 246.4 L471.5 246.4 L472 246.5 L472.6 246.5 L473.1 246.5 L473.7 246.6 L474.2 246.6 L474.8 246.6 L475.3 246.6 L475.9 246.6 L476.4 246.5 L477 246.5 L477.5 246.4 L478.1 246.3 L478.6 246.2 L479.2 246.1 L479.7 246 L480.3 245.8 L480.8 245.7 L481.4 245.5 L481.9 245.3 L482.5 245.2 L483 245 L483.6 244.8 L484.1 244.6 L484.7 244.4 L485.2 244.2 L485.8 244 L486.3 243.8 L486.9 243.5 L487.4 243.3 L488 243.1 L488.5 242.9 L489.1 242.7 L489.6 242.5 L490.2 242.3 L490.7 242.2 L491.3 242 L491.8 241.8 L492.4 241.7 L492.9 241.5 L493.5 241.4 L494 241.2 L494.6 241.1 L495.1 240.9 L495.7 240.8 L496.2 240.6 L496.8 240.5 L497.3 240.4 L497.9 240.2 L498.4 240.1 L499 239.9 L499.5 239.8 L500.1 239.7 L500.6 239.6 L501.2 239.4 L501.7 239.3 L502.3 239.2 L502.8 239.1 L503.4 239 L503.9 238.9 L504.5 238.7 L505 238.6 L505.6 238.5 L506.1 238.4 L506.7 238.3 L507.2 238.2 L507.8 238.1 L508.3 238 L508.9 237.9 L509.4 237.8 L510 237.7 L510.5 237.6 L511.1 237.5 L511.6 237.4 L512.2 237.3 L512.7 237.2 L513.3 237.1 L513.8 237 L514.4 236.8 L514.9 236.7 L515.5 236.6 L516 236.5 L516.6 236.4 L517.1 236.3 L517.7 236.1 L518.2 236 L518.8 235.9 L519.3 235.8 L519.9 235.7 L520.4 235.5 L521 235.4 L521.5 235.3 L522.1 235.2 L522.6 235.1 L523.2 235 L523.7 234.9 L524.3 234.8 L524.8 234.7 L525.4 234.6 L525.9 234.5 L526.5 234.4 L527 234.3 L527.6 234.2 L528.1 234.1 L528.7 234 L529.2 233.9 L529.8 233.9 L530.3 233.8 L530.9 233.7 L531.4 233.6 L532 233.5 L532.5 233.5 L533.1 233.4 L533.6 233.3 L534.2 233.2 L534.7 233.2 L535.3 233.1 L535.8 233 L536.4 233 L536.9 232.9 L537.5 232.8 L538 232.8 L538.6 232.7 L539.1 232.6 L539.7 232.6 L540.2 232.5 L540.8 232.4 L541.3 232.4 L541.9 232.3 L542.4 232.3 L543 232.2 L543.5 232.2 L544.1 232.1 L544.6 232.1 L545.2 232 L545.7 231.9 L546.3 231.9 L546.8 231.8 L547.4 231.8 L547.9 231.7 L548.5 231.7 L549 231.6 L549.6 231.6 L550.1 231.5 L550.7 231.5 L551.2 231.4 L551.8 231.4 L552.3 231.3 L552.9 231.3 L553.4 231.2 L554 231.2 L554.5 231.1 L555.1 231 L555.6 231 L556.2 230.9 L556.7 230.9 L557.3 230.8 L557.8 230.8 L558.4 230.7 L558.9 230.7 L559.5 230.6 L560 230.6 L560.6 230.5 L561.1 230.4 L561.7 230.4 L562.2 230.3 L562.8 230.3 L563.3 230.2 L563.9 230.2 L564.4 230.1 L565 230.1 L565.5 230 L566.1 230 L566.6 229.9 L567.2 229.9 L567.7 229.8 L568.3 229.8 L568.8 229.7 L569.4 229.7 L569.9 229.6 L570.5 229.6 L571 229.6 L571.6 229.5 L572.1 229.5 L572.7 229.4 L573.2 229.4 L573.8 229.3 L574.3 229.2 L574.9 229.2 L575.4 229.1 L576 229 L576.5 229 L577.1 228.9 L577.6 228.8 L578.2 228.6 L578.7 228.5 L579.3 228.4 L579.8 228.2 L580.4 228.1 L580.9 227.9 L581.5 227.7 L582 227.6 L582.6 227.4 L583.1 227.2 L583.7 227 L584.2 226.8 L584.8 226.7 L585.3 226.5 L585.9 226.3 L586.4 226.1 L587 225.9 L587.5 225.7 L588.1 225.5 L588.6 225.3 L589.2 225.1 L589.7 224.9 L590.3 224.7 L590.8 224.5 L591.4 224.2 L591.9 224 L592.5 223.8 L593 223.6 L593.6 223.3 L594.1 223.1 L594.7 222.9 L595.2 222.6 L595.8 222.4 L596.3 222.1 L596.9 221.8 L597.4 221.6 L598 221.3 L598.5 221 L599.1 220.8 L599.6 220.5 L600.2 220.3 L600.7 220.1 L601.3 220 L601.8 219.8 L602.4 219.7 L602.9 219.6 L603.5 219.5 L604 219.5 L604.6 219.9 L605.1 220.5 L605.7 221.3 L606.2 222.3 L606.8 223.2 L607.3 224.1 L607.9 224.9 L608.4 225.6 L609 226.4 L609.5 227.1 L610.1 227.8 L610.6 228.6 L611.2 229.3 L611.7 229.9 L612.3 230.5 L612.8 231.1 L613.4 231.6 L613.9 232.1 L614.5 232.6 L615 233.1 L615.6 233.6 L616.1 234 L616.7 234.4 L617.2 234.7 L617.8 235 L618.3 235.2 L618.9 235.4 L619.4 235.6 L620 235.8 L620.5 235.9 L621.1 236.1 L621.6 236.2 L622.2 236.3 L622.7 236.4 L623.3 236.5 L623.8 236.6 L624.4 236.8 L624.9 236.9 L625.5 237 L626 237.1 L626.6 237.2 L627.1 237.3 L627.7 237.5 L628.2 237.6 L628.8 237.7 L629.3 237.9 L629.9 238 L630.4 238.1 L631 238.3 L631.5 238.4 L632.1 238.4 L632.6 238.5 L633.2 238.6 L633.7 238.6 L634.3 238.6 L634.8 238.6 L635.4 238.6 L635.9 238.6 L636.5 238.6 L637 238.6 L637.6 238.6 L638.1 238.6 L638.7 238.6 L639.2 238.6 L639.8 238.6 L640.3 238.6 L640.9 238.6 L641.4 238.6 L642 238.6 L642.5 238.5 L643.1 238.4 L643.6 238.2 L644.2 238 L644.7 237.8 L645.3 237.5 L645.8 237.3 L646.4 237.2 L646.9 237.1 L647.5 237.1 L648 237.3 L648.6 237.5 L649.1 237.8 L649.7 238.1 L650.2 238.5 L650.8 238.9 L651.3 239.4 L651.9 240 L652.4 240.8 L653 241.7 L653.5 242.6 L654.1 243.4 L654.6 244.1 L655.2 244.5 L655.7 244.8 L656.3 245.1 L656.8 245.4 L657.4 245.6 L657.9 245.8 L658.5 246 L659 246.1 L659.6 246.2 L660.1 246.3 L660.7 246.3 L661.2 246.3 L661.8 246.3 L662.3 246.4 L662.9 246.4 L663.4 246.4 L664 246.4 L664.5 246.4 L665.1 246.4 L665.6 246.4 L666.2 246.4 L666.7 246.5 L667.3 246.5 L667.8 246.5 L668.4 246.5 L668.9 246.5 L669.5 246.5 L670 246.5 L670.6 246.5 L671.1 246.5 L671.7 246.5 L672.2 246.5 L672.8 246.5 L673.3 246.5" stroke="#e27ac6" stroke-width="1.2" fill="none" />
<path d="M447.8 244.8 L448.4 245.6 L448.9 247.9 L449.5 249.1 L450 246.1 L450.6 248.9 L451.1 245.9 L451.7 246.5 L452.2 247.6 L452.8 245.8 L453.3 249.6 L453.9 242 L454.4 245.3 L455 244.2 L455.5 245.5 L456.1 246.3 L456.6 244.1 L457.2 248.6 L457.7 244.8 L458.3 247.2 L458.8 247.4 L459.4 244.4 L459.9 248 L460.5 247 L461 246.4 L461.6 247.8 L462.1 248.5 L462.7 248.7 L463.2 247.1 L463.8 245.9 L464.3 245.4 L464.9 247.2 L465.4 246.1 L466 245.6 L466.5 246.2 L467.1 246.2 L467.6 246.5 L468.2 248.4 L468.7 246 L469.3 244.7 L469.8 245.7 L470.4 245 L470.9 244.9 L471.5 248.3 L472 249.3 L472.6 247 L473.1 248.3 L473.7 247.7 L474.2 248.9 L474.8 245.5 L475.3 247 L475.9 248.4 L476.4 244.7 L477 246.3 L477.5 246 L478.1 245.1 L478.6 247.4 L479.2 245.3 L479.7 248.1 L480.3 245.7 L480.8 245.2 L481.4 244.7 L481.9 244 L482.5 246.7 L483 244.5 L483.6 247.4 L484.1 244.7 L484.7 245.6 L485.2 246.2 L485.8 242.8 L486.3 245.7 L486.9 244.4 L487.4 242.6 L488 243.4 L488.5 244 L489.1 243.7 L489.6 243.5 L490.2 243.2 L490.7 244.1 L491.3 242 L491.8 241.4 L492.4 241.2 L492.9 241.9 L493.5 240 L494 239.3 L494.6 239.1 L495.1 242.9 L495.7 240.9 L496.2 242.4 L496.8 241.5 L497.3 240.8 L497.9 243.2 L498.4 242.8 L499 243.6 L499.5 238.6 L500.1 239.1 L500.6 240 L501.2 237.1 L501.7 240.3 L502.3 238.5 L502.8 238.9 L503.4 237.4 L503.9 240.2 L504.5 238.8 L505 235.8 L505.6 235.4 L506.1 240.1 L506.7 239.9 L507.2 237.9 L507.8 240.7 L508.3 237.9 L508.9 238 L509.4 239.6 L510 237.8 L510.5 237.2 L511.1 239.6 L511.6 237.2 L512.2 236.8 L512.7 239.5 L513.3 238 L513.8 235.7 L514.4 238.4 L514.9 235.9 L515.5 236.1 L516 235.4 L516.6 238.1 L517.1 236.7 L517.7 239 L518.2 237.3 L518.8 235.7 L519.3 237.5 L519.9 237.5 L520.4 235.4 L521 234.1 L521.5 235.5 L522.1 235.1 L522.6 232.9 L523.2 238.5 L523.7 232.9 L524.3 236.5 L524.8 234.9 L525.4 234.7 L525.9 234.6 L526.5 234.7 L527 232.6 L527.6 232.6 L528.1 236.7 L528.7 234 L529.2 236.3 L529.8 233.8 L530.3 233.2 L530.9 233 L531.4 232.7 L532 231.1 L532.5 232.7 L533.1 233.8 L533.6 233.9 L534.2 232.2 L534.7 234.3 L535.3 233.2 L535.8 233.4 L536.4 228.2 L536.9 231.8 L537.5 231.8 L538 230.2 L538.6 232.6 L539.1 228.4 L539.7 232 L540.2 232.6 L540.8 234.7 L541.3 232 L541.9 233 L542.4 231.4 L543 232 L543.5 232.1 L544.1 230.8 L544.6 231.6 L545.2 232.1 L545.7 233.6 L546.3 229.9 L546.8 232.6 L547.4 229.5 L547.9 230.4 L548.5 230 L549 232.9 L549.6 230.5 L550.1 234.6 L550.7 231.6 L551.2 232.4 L551.8 230.4 L552.3 232 L552.9 229.3 L553.4 231.8 L554 231.3 L554.5 234.7 L555.1 229.5 L555.6 226.3 L556.2 233.8 L556.7 230.9 L557.3 229.3 L557.8 231.9 L558.4 230.9 L558.9 229.7 L559.5 228.5 L560 231.4 L560.6 229.3 L561.1 227.2 L561.7 228.9 L562.2 230.1 L562.8 229 L563.3 229.7 L563.9 232.2 L564.4 229.3 L565 231.9 L565.5 230.9 L566.1 228 L566.6 230.8 L567.2 229.8 L567.7 226.5 L568.3 228 L568.8 227.5 L569.4 232 L569.9 227.6 L570.5 230.3 L571 230.2 L571.6 229.2 L572.1 229.5 L572.7 227.6 L573.2 230.1 L573.8 232.4 L574.3 230.2 L574.9 231 L575.4 226.9 L576 230.3 L576.5 228.4 L577.1 229 L577.6 229.4 L578.2 232 L578.7 226.5 L579.3 231.7 L579.8 226.6 L580.4 228.3 L580.9 224.8 L581.5 224.2 L582 230 L582.6 227.1 L583.1 225.5 L583.7 230 L584.2 225.1 L584.8 226.6 L585.3 228.8 L585.9 228 L586.4 227.4 L587 226.1 L587.5 225.6 L588.1 224.1 L588.6 228 L589.2 225.5 L589.7 225.7 L590.3 226.3 L590.8 224.1 L591.4 221.3 L591.9 220.4 L592.5 224.2 L593 224.4 L593.6 222.8 L594.1 222.4 L594.7 222.1 L595.2 223 L595.8 224.8 L596.3 222.5 L596.9 224 L597.4 221.7 L598 222.2 L598.5 219.3 L599.1 220.5 L599.6 221.5 L600.2 220.1 L600.7 220.1 L601.3 220.8 L601.8 217.8 L602.4 216.8 L602.9 221.6 L603.5 217.7 L604 220.7 L604.6 217.4 L605.1 220.5 L605.7 219.6 L606.2 223.6 L606.8 223.9 L607.3 224 L607.9 225.2 L608.4 224.9 L609 226.4 L609.5 226.3 L610.1 227.9 L610.6 228.7 L611.2 228 L611.7 229.3 L612.3 229.7 L612.8 230.9 L613.4 230.5 L613.9 232.7 L614.5 231.4 L615 232 L615.6 233.5 L616.1 234.5 L616.7 235.3 L617.2 234.8 L617.8 234.4 L618.3 236.2 L618.9 236.9 L619.4 239.7 L620 237.5 L620.5 238.7 L621.1 236.6 L621.6 236.5 L622.2 236.6 L622.7 238 L623.3 237.4 L623.8 237.2 L624.4 238.5 L624.9 238.2 L625.5 237.8 L626 240.2 L626.6 234.8 L627.1 237 L627.7 235.7 L628.2 238.1 L628.8 238.1 L629.3 236.6 L629.9 237.5 L630.4 237.7 L631 235.8 L631.5 237.4 L632.1 236.5 L632.6 236.4 L633.2 241.1 L633.7 235.2 L634.3 241.5 L634.8 238.3 L635.4 237 L635.9 240 L636.5 241.7 L637 238.5 L637.6 239.3 L638.1 238.3 L638.7 240.3 L639.2 238.4 L639.8 238 L640.3 238 L640.9 239.4 L641.4 237.2 L642 238.6 L642.5 240.6 L643.1 242.3 L643.6 236 L644.2 237.8 L644.7 237.7 L645.3 235.2 L645.8 237.4 L646.4 236.3 L646.9 237.1 L647.5 235.9 L648 239.1 L648.6 237.5 L649.1 235.8 L649.7 237.3 L650.2 239 L650.8 239.7 L651.3 242.8 L651.9 239.9 L652.4 239 L653 244 L653.5 244.3 L654.1 245.3 L654.6 242.7 L655.2 244.6 L655.7 245.4 L656.3 245 L656.8 244.7 L657.4 248 L657.9 248.1 L658.5 244.8 L659 247.1 L659.6 248.7 L660.1 246.2 L660.7 244.5 L661.2 245.9 L661.8 247 L662.3 246.9 L662.9 246.1 L663.4 246.5 L664 244.6 L664.5 246.7 L665.1 248.3 L665.6 246.1 L666.2 246.8 L666.7 245.9 L667.3 244.5 L667.8 246.6 L668.4 244.7 L668.9 245.4 L669.5 247.7 L670 245.8 L670.6 248.6 L671.1 250 L671.7 247.9 L672.2 246.3 L672.8 247 L673.3 245.3" stroke="#111" stroke-width="0.7" fill="none" />
<line x1="480.3" y1="6.3" x2="480.3" y2="35.2" stroke="#111" stroke-width="1.5" />
<line x1="475.9" y1="6.3" x2="484.7" y2="6.3" stroke="#111" stroke-width="1.3" />
<line x1="475.9" y1="35.2" x2="484.7" y2="35.2" stroke="#111" stroke-width="1.3" />
<text x="485.6" y="25.6" font-size="13.5" >100</text>
<text x="517.2" y="17.1" font-size="14" >Water</text>
<text x="519.6" y="34.6" font-size="14" >(<tspan font-size="12.5">ν</tspan><tspan font-size="10" dy="2">OH</tspan><tspan dy="-2">)</tspan></text>
<text x="537.6" y="152.4" font-size="13.6" text-anchor="end" >OH-1</text>
<line x1="532.2" y1="156.6" x2="534.7" y2="160.6" stroke="#000" stroke-width="1.4" />
<path d="M538.2 166.2 L530.9 161.8 L537.4 157.7 Z" fill="#000"/>
<text x="566.6" y="162.9" font-size="13.6" >OH-2</text>
<text x="621.9" y="133.7" font-size="13.6" >OH-3</text>
<line x1="624.8" y1="138" x2="621.14" y2="142.02" stroke="#000" stroke-width="1.4" />
<path d="M616.7 146.9 L619 138.7 L624.6 143.8 Z" fill="#000"/>
<text x="634.5" y="151.7" font-size="13.6" >OH-4</text>
<line x1="645.9" y1="156" x2="643.13" y2="160.56" stroke="#000" stroke-width="1.4" />
<path d="M639.7 166.2 L640.4 157.7 L646.9 161.7 Z" fill="#000"/>
<text x="643.8" y="196.4" font-size="13.6" >OH-5</text>
<line x1="647.8" y1="184" x2="647.8" y2="178.2" stroke="#000" stroke-width="1.4" />
<path d="M647.8 171.6 L651.6 179.2 L644 179.2 Z" fill="#000"/>
<rect x="49.5" y="336" width="171.1" height="124.5" fill="none" stroke="#3a3a3a" stroke-width="1.1"/>
<line x1="44.3" y1="460.6" x2="49.5" y2="460.6" stroke="#3a3a3a" stroke-width="1.1" />
<line x1="44.3" y1="419.1" x2="49.5" y2="419.1" stroke="#3a3a3a" stroke-width="1.1" />
<line x1="44.3" y1="377.6" x2="49.5" y2="377.6" stroke="#3a3a3a" stroke-width="1.1" />
<line x1="44.3" y1="336.1" x2="49.5" y2="336.1" stroke="#3a3a3a" stroke-width="1.1" />
<line x1="46.1" y1="439.85" x2="49.5" y2="439.85" stroke="#3a3a3a" stroke-width="1.1" />
<line x1="46.1" y1="398.35" x2="49.5" y2="398.35" stroke="#3a3a3a" stroke-width="1.1" />
<line x1="46.1" y1="356.85" x2="49.5" y2="356.85" stroke="#3a3a3a" stroke-width="1.1" />
<line x1="62.1" y1="460.5" x2="62.1" y2="465.5" stroke="#3a3a3a" stroke-width="1.1" />
<line x1="95.1" y1="460.5" x2="95.1" y2="465.5" stroke="#3a3a3a" stroke-width="1.1" />
<line x1="128.1" y1="460.5" x2="128.1" y2="465.5" stroke="#3a3a3a" stroke-width="1.1" />
<line x1="161.1" y1="460.5" x2="161.1" y2="465.5" stroke="#3a3a3a" stroke-width="1.1" />
<line x1="194.1" y1="460.5" x2="194.1" y2="465.5" stroke="#3a3a3a" stroke-width="1.1" />
<line x1="78.6" y1="460.5" x2="78.6" y2="463.7" stroke="#3a3a3a" stroke-width="1.1" />
<line x1="111.6" y1="460.5" x2="111.6" y2="463.7" stroke="#3a3a3a" stroke-width="1.1" />
<line x1="144.6" y1="460.5" x2="144.6" y2="463.7" stroke="#3a3a3a" stroke-width="1.1" />
<line x1="177.6" y1="460.5" x2="177.6" y2="463.7" stroke="#3a3a3a" stroke-width="1.1" />
<line x1="210.6" y1="460.5" x2="210.6" y2="463.7" stroke="#3a3a3a" stroke-width="1.1" />
<text x="40.8" y="464.2" font-size="13.6" text-anchor="end" >2.5</text>
<text x="40.8" y="422.7" font-size="13.6" text-anchor="end" >3.0</text>
<text x="40.8" y="381.2" font-size="13.6" text-anchor="end" >3.5</text>
<text x="40.8" y="339.7" font-size="13.6" text-anchor="end" >4.0</text>
<text x="62.1" y="479.7" font-size="13.6" text-anchor="middle" >0.0</text>
<text x="95.1" y="479.7" font-size="13.6" text-anchor="middle" >−0.5</text>
<text x="128.1" y="479.7" font-size="13.6" text-anchor="middle" >−1.0</text>
<text x="161.1" y="479.7" font-size="13.6" text-anchor="middle" >−1.5</text>
<text x="194.1" y="479.7" font-size="13.6" text-anchor="middle" >−2.0</text>
<text x="135.1" y="500" font-size="13.5" text-anchor="middle" >Potential (V)</text>
<text x="14.6" y="398.6" font-size="14" text-anchor="middle" transform="rotate(-90 14.6 398.6)" ><tspan font-style="italic">d</tspan><tspan font-size="10" dy="2.5">12</tspan><tspan dy="-2.5"> (Å)</tspan></text>
<line x1="62.1" y1="408.31" x2="62.1" y2="375.11" stroke="#0000ff" stroke-width="1.5" />
<line x1="59.6" y1="408.31" x2="64.6" y2="408.31" stroke="#0000ff" stroke-width="1.5" />
<line x1="59.6" y1="375.11" x2="64.6" y2="375.11" stroke="#0000ff" stroke-width="1.5" />
<line x1="88.5" y1="405.82" x2="88.5" y2="365.98" stroke="#0000ff" stroke-width="1.5" />
<line x1="86" y1="405.82" x2="91" y2="405.82" stroke="#0000ff" stroke-width="1.5" />
<line x1="86" y1="365.98" x2="91" y2="365.98" stroke="#0000ff" stroke-width="1.5" />
<line x1="114.9" y1="414.95" x2="114.9" y2="385.07" stroke="#0000ff" stroke-width="1.5" />
<line x1="112.4" y1="414.95" x2="117.4" y2="414.95" stroke="#0000ff" stroke-width="1.5" />
<line x1="112.4" y1="385.07" x2="117.4" y2="385.07" stroke="#0000ff" stroke-width="1.5" />
<line x1="141.3" y1="412.05" x2="141.3" y2="383.41" stroke="#0000ff" stroke-width="1.5" />
<line x1="138.8" y1="412.05" x2="143.8" y2="412.05" stroke="#0000ff" stroke-width="1.5" />
<line x1="138.8" y1="383.41" x2="143.8" y2="383.41" stroke="#0000ff" stroke-width="1.5" />
<line x1="180.9" y1="404.16" x2="180.9" y2="383.41" stroke="#0000ff" stroke-width="1.5" />
<line x1="178.4" y1="404.16" x2="183.4" y2="404.16" stroke="#0000ff" stroke-width="1.5" />
<line x1="178.4" y1="383.41" x2="183.4" y2="383.41" stroke="#0000ff" stroke-width="1.5" />
<line x1="207.3" y1="430.31" x2="207.3" y2="376.77" stroke="#0000ff" stroke-width="1.5" />
<line x1="204.8" y1="430.31" x2="209.8" y2="430.31" stroke="#0000ff" stroke-width="1.5" />
<line x1="204.8" y1="376.77" x2="209.8" y2="376.77" stroke="#0000ff" stroke-width="1.5" />
<rect x="59.4" y="389.01" width="5.4" height="5.4" fill="#0000ff"/>
<rect x="85.8" y="383.2" width="5.4" height="5.4" fill="#0000ff"/>
<rect x="112.2" y="397.31" width="5.4" height="5.4" fill="#0000ff"/>
<rect x="138.6" y="394.82" width="5.4" height="5.4" fill="#0000ff"/>
<rect x="178.2" y="391.09" width="5.4" height="5.4" fill="#0000ff"/>
<rect x="204.6" y="401.05" width="5.4" height="5.4" fill="#0000ff"/>
<rect x="278.7" y="336" width="171.7" height="124.3" fill="none" stroke="#3a3a3a" stroke-width="1.1"/>
<line x1="273.5" y1="460.3" x2="278.7" y2="460.3" stroke="#3a3a3a" stroke-width="1.1" />
<line x1="273.5" y1="418.9" x2="278.7" y2="418.9" stroke="#3a3a3a" stroke-width="1.1" />
<line x1="273.5" y1="377.5" x2="278.7" y2="377.5" stroke="#3a3a3a" stroke-width="1.1" />
<line x1="273.5" y1="336.1" x2="278.7" y2="336.1" stroke="#3a3a3a" stroke-width="1.1" />
<line x1="275.3" y1="439.6" x2="278.7" y2="439.6" stroke="#3a3a3a" stroke-width="1.1" />
<line x1="275.3" y1="398.2" x2="278.7" y2="398.2" stroke="#3a3a3a" stroke-width="1.1" />
<line x1="275.3" y1="356.8" x2="278.7" y2="356.8" stroke="#3a3a3a" stroke-width="1.1" />
<line x1="296" y1="460.3" x2="296" y2="465.3" stroke="#3a3a3a" stroke-width="1.1" />
<line x1="338.9" y1="460.3" x2="338.9" y2="465.3" stroke="#3a3a3a" stroke-width="1.1" />
<line x1="381.8" y1="460.3" x2="381.8" y2="465.3" stroke="#3a3a3a" stroke-width="1.1" />
<line x1="424.7" y1="460.3" x2="424.7" y2="465.3" stroke="#3a3a3a" stroke-width="1.1" />
<line x1="317.45" y1="460.3" x2="317.45" y2="463.5" stroke="#3a3a3a" stroke-width="1.1" />
<line x1="360.35" y1="460.3" x2="360.35" y2="463.5" stroke="#3a3a3a" stroke-width="1.1" />
<line x1="403.25" y1="460.3" x2="403.25" y2="463.5" stroke="#3a3a3a" stroke-width="1.1" />
<line x1="446.15" y1="460.3" x2="446.15" y2="463.5" stroke="#3a3a3a" stroke-width="1.1" />
<text x="269.6" y="464.2" font-size="13.6" text-anchor="end" >0.4</text>
<text x="269.6" y="422.8" font-size="13.6" text-anchor="end" >0.8</text>
<text x="269.6" y="381.4" font-size="13.6" text-anchor="end" >1.2</text>
<text x="269.6" y="340" font-size="13.6" text-anchor="end" >1.6</text>
<text x="296" y="479.7" font-size="13.6" text-anchor="middle" >0.0</text>
<text x="338.9" y="479.7" font-size="13.6" text-anchor="middle" >−0.5</text>
<text x="381.8" y="479.7" font-size="13.6" text-anchor="middle" >−1.0</text>
<text x="424.7" y="479.7" font-size="13.6" text-anchor="middle" >−1.5</text>
<text x="362.5" y="500" font-size="13.5" text-anchor="middle" >Potential (V)</text>
<text x="245.3" y="411.2" font-size="13.7" text-anchor="middle" transform="rotate(-90 245.3 411.2)" >Averaged area (arb.u.)</text>
<text x="287" y="353.7" font-size="14" >Total OH stretching</text>
<line x1="330.32" y1="416.31" x2="330.32" y2="385.26" stroke="#0000ff" stroke-width="1.5" />
<line x1="327.82" y1="416.31" x2="332.82" y2="416.31" stroke="#0000ff" stroke-width="1.5" />
<line x1="327.82" y1="385.26" x2="332.82" y2="385.26" stroke="#0000ff" stroke-width="1.5" />
<line x1="364.64" y1="400.27" x2="364.64" y2="371.81" stroke="#0000ff" stroke-width="1.5" />
<line x1="362.14" y1="400.27" x2="367.14" y2="400.27" stroke="#0000ff" stroke-width="1.5" />
<line x1="362.14" y1="371.81" x2="367.14" y2="371.81" stroke="#0000ff" stroke-width="1.5" />
<line x1="398.96" y1="410.62" x2="398.96" y2="399.24" stroke="#0000ff" stroke-width="1.5" />
<line x1="396.46" y1="410.62" x2="401.46" y2="410.62" stroke="#0000ff" stroke-width="1.5" />
<line x1="396.46" y1="399.24" x2="401.46" y2="399.24" stroke="#0000ff" stroke-width="1.5" />
<line x1="433.28" y1="409.07" x2="433.28" y2="382.16" stroke="#0000ff" stroke-width="1.5" />
<line x1="430.78" y1="409.07" x2="435.78" y2="409.07" stroke="#0000ff" stroke-width="1.5" />
<line x1="430.78" y1="382.16" x2="435.78" y2="382.16" stroke="#0000ff" stroke-width="1.5" />
<rect x="293.3" y="395.5" width="5.4" height="5.4" fill="#0000ff"/>
<rect x="327.62" y="398.09" width="5.4" height="5.4" fill="#0000ff"/>
<rect x="361.94" y="383.6" width="5.4" height="5.4" fill="#0000ff"/>
<rect x="396.26" y="402.23" width="5.4" height="5.4" fill="#0000ff"/>
<rect x="430.58" y="392.91" width="5.4" height="5.4" fill="#0000ff"/>
<rect x="512.4" y="336.2" width="169.8" height="124" fill="none" stroke="#3a3a3a" stroke-width="1.1"/>
<line x1="507.2" y1="442.46" x2="512.4" y2="442.46" stroke="#3a3a3a" stroke-width="1.1" />
<line x1="507.2" y1="407.04" x2="512.4" y2="407.04" stroke="#3a3a3a" stroke-width="1.1" />
<line x1="507.2" y1="371.62" x2="512.4" y2="371.62" stroke="#3a3a3a" stroke-width="1.1" />
<line x1="507.2" y1="336.2" x2="512.4" y2="336.2" stroke="#3a3a3a" stroke-width="1.1" />
<line x1="509" y1="424.75" x2="512.4" y2="424.75" stroke="#3a3a3a" stroke-width="1.1" />
<line x1="509" y1="389.33" x2="512.4" y2="389.33" stroke="#3a3a3a" stroke-width="1.1" />
<line x1="509" y1="353.91" x2="512.4" y2="353.91" stroke="#3a3a3a" stroke-width="1.1" />
<line x1="519.8" y1="460.2" x2="519.8" y2="465.2" stroke="#3a3a3a" stroke-width="1.1" />
<line x1="556.8" y1="460.2" x2="556.8" y2="465.2" stroke="#3a3a3a" stroke-width="1.1" />
<line x1="593.8" y1="460.2" x2="593.8" y2="465.2" stroke="#3a3a3a" stroke-width="1.1" />
<line x1="630.8" y1="460.2" x2="630.8" y2="465.2" stroke="#3a3a3a" stroke-width="1.1" />
<line x1="667.8" y1="460.2" x2="667.8" y2="465.2" stroke="#3a3a3a" stroke-width="1.1" />
<line x1="538.3" y1="460.2" x2="538.3" y2="463.4" stroke="#3a3a3a" stroke-width="1.1" />
<line x1="575.3" y1="460.2" x2="575.3" y2="463.4" stroke="#3a3a3a" stroke-width="1.1" />
<line x1="612.3" y1="460.2" x2="612.3" y2="463.4" stroke="#3a3a3a" stroke-width="1.1" />
<line x1="649.3" y1="460.2" x2="649.3" y2="463.4" stroke="#3a3a3a" stroke-width="1.1" />
<text x="506.5" y="444.36" font-size="14" text-anchor="end" transform="rotate(-45 506.5 444.36)" >3200</text>
<text x="506.5" y="408.94" font-size="14" text-anchor="end" transform="rotate(-45 506.5 408.94)" >3400</text>
<text x="506.5" y="373.52" font-size="14" text-anchor="end" transform="rotate(-45 506.5 373.52)" >3600</text>
<text x="506.5" y="338.1" font-size="14" text-anchor="end" transform="rotate(-45 506.5 338.1)" >3800</text>
<text x="519.8" y="479.7" font-size="13.6" text-anchor="middle" >0.0</text>
<text x="556.8" y="479.7" font-size="13.6" text-anchor="middle" >−0.5</text>
<text x="593.8" y="479.7" font-size="13.6" text-anchor="middle" >−1.0</text>
<text x="630.8" y="479.7" font-size="13.6" text-anchor="middle" >−1.5</text>
<text x="667.8" y="479.7" font-size="13.6" text-anchor="middle" >−2.0</text>
<text x="597.2" y="500" font-size="13.5" text-anchor="middle" >Potential (V)</text>
<text x="475" y="398.3" font-size="13.3" text-anchor="middle" transform="rotate(-90 475 398.3)" >Raman shift (cm<tspan font-size="8.6" dy="-5">−1</tspan><tspan dy="5">)</tspan></text>
<path d="M519.8 404.4 L549.4 409.7 L579 424.8 L608.6 430.9 L638.2 439.3" stroke="#ff0000" stroke-width="1.3" fill="none" stroke-dasharray="5.2 2.6 1.4 2.6"/>
<line x1="519.8" y1="407.04" x2="519.8" y2="401.73" stroke="#ff0000" stroke-width="1.4" />
<line x1="517.4" y1="407.04" x2="522.2" y2="407.04" stroke="#ff0000" stroke-width="1.4" />
<line x1="517.4" y1="401.73" x2="522.2" y2="401.73" stroke="#ff0000" stroke-width="1.4" />
<line x1="549.4" y1="413.77" x2="549.4" y2="406.15" stroke="#ff0000" stroke-width="1.4" />
<line x1="547" y1="413.77" x2="551.8" y2="413.77" stroke="#ff0000" stroke-width="1.4" />
<line x1="547" y1="406.15" x2="551.8" y2="406.15" stroke="#ff0000" stroke-width="1.4" />
<line x1="579" y1="432.72" x2="579" y2="415.89" stroke="#ff0000" stroke-width="1.4" />
<line x1="576.6" y1="432.72" x2="581.4" y2="432.72" stroke="#ff0000" stroke-width="1.4" />
<line x1="576.6" y1="415.89" x2="581.4" y2="415.89" stroke="#ff0000" stroke-width="1.4" />
<line x1="608.6" y1="438.92" x2="608.6" y2="422.98" stroke="#ff0000" stroke-width="1.4" />
<line x1="606.2" y1="438.92" x2="611" y2="438.92" stroke="#ff0000" stroke-width="1.4" />
<line x1="606.2" y1="422.98" x2="611" y2="422.98" stroke="#ff0000" stroke-width="1.4" />
<line x1="638.2" y1="447.77" x2="638.2" y2="430.95" stroke="#ff0000" stroke-width="1.4" />
<line x1="635.8" y1="447.77" x2="640.6" y2="447.77" stroke="#ff0000" stroke-width="1.4" />
<line x1="635.8" y1="430.95" x2="640.6" y2="430.95" stroke="#ff0000" stroke-width="1.4" />
<rect x="517" y="401.58" width="5.6" height="5.6" fill="#ff0000"/>
<rect x="546.6" y="406.9" width="5.6" height="5.6" fill="#ff0000"/>
<rect x="576.2" y="421.95" width="5.6" height="5.6" fill="#ff0000"/>
<rect x="605.8" y="428.15" width="5.6" height="5.6" fill="#ff0000"/>
<rect x="635.4" y="436.47" width="5.6" height="5.6" fill="#ff0000"/>
<path d="M519.8 384.9 L549.4 390.2 L579 394.6 L608.6 402.6 L638.2 404.4" stroke="#1a9cff" stroke-width="1.3" fill="none" stroke-dasharray="5.2 2.6 1.4 2.6"/>
<line x1="519.8" y1="386.14" x2="519.8" y2="383.66" stroke="#1a9cff" stroke-width="1.4" />
<line x1="517.4" y1="386.14" x2="522.2" y2="386.14" stroke="#1a9cff" stroke-width="1.4" />
<line x1="517.4" y1="383.66" x2="522.2" y2="383.66" stroke="#1a9cff" stroke-width="1.4" />
<line x1="549.4" y1="391.46" x2="549.4" y2="388.98" stroke="#1a9cff" stroke-width="1.4" />
<line x1="547" y1="391.46" x2="551.8" y2="391.46" stroke="#1a9cff" stroke-width="1.4" />
<line x1="547" y1="388.98" x2="551.8" y2="388.98" stroke="#1a9cff" stroke-width="1.4" />
<line x1="579" y1="396.06" x2="579" y2="393.23" stroke="#1a9cff" stroke-width="1.4" />
<line x1="576.6" y1="396.06" x2="581.4" y2="396.06" stroke="#1a9cff" stroke-width="1.4" />
<line x1="576.6" y1="393.23" x2="581.4" y2="393.23" stroke="#1a9cff" stroke-width="1.4" />
<line x1="608.6" y1="410.58" x2="608.6" y2="394.64" stroke="#1a9cff" stroke-width="1.4" />
<line x1="606.2" y1="410.58" x2="611" y2="410.58" stroke="#1a9cff" stroke-width="1.4" />
<line x1="606.2" y1="394.64" x2="611" y2="394.64" stroke="#1a9cff" stroke-width="1.4" />
<line x1="638.2" y1="413.24" x2="638.2" y2="395.53" stroke="#1a9cff" stroke-width="1.4" />
<line x1="635.8" y1="413.24" x2="640.6" y2="413.24" stroke="#1a9cff" stroke-width="1.4" />
<line x1="635.8" y1="395.53" x2="640.6" y2="395.53" stroke="#1a9cff" stroke-width="1.4" />
<rect x="517" y="382.1" width="5.6" height="5.6" fill="#1a9cff"/>
<rect x="546.6" y="387.42" width="5.6" height="5.6" fill="#1a9cff"/>
<rect x="576.2" y="391.84" width="5.6" height="5.6" fill="#1a9cff"/>
<rect x="605.8" y="399.81" width="5.6" height="5.6" fill="#1a9cff"/>
<rect x="635.4" y="401.58" width="5.6" height="5.6" fill="#1a9cff"/>
<path d="M519.8 369.5 L549.4 373 L579 376.6 L608.6 381.4 L638.2 384" stroke="#10cc10" stroke-width="1.3" fill="none" stroke-dasharray="5.2 2.6 1.4 2.6"/>
<line x1="519.8" y1="370.56" x2="519.8" y2="368.43" stroke="#10cc10" stroke-width="1.4" />
<line x1="517.4" y1="370.56" x2="522.2" y2="370.56" stroke="#10cc10" stroke-width="1.4" />
<line x1="517.4" y1="368.43" x2="522.2" y2="368.43" stroke="#10cc10" stroke-width="1.4" />
<line x1="549.4" y1="374.1" x2="549.4" y2="371.97" stroke="#10cc10" stroke-width="1.4" />
<line x1="547" y1="374.1" x2="551.8" y2="374.1" stroke="#10cc10" stroke-width="1.4" />
<line x1="547" y1="371.97" x2="551.8" y2="371.97" stroke="#10cc10" stroke-width="1.4" />
<line x1="579" y1="377.64" x2="579" y2="375.52" stroke="#10cc10" stroke-width="1.4" />
<line x1="576.6" y1="377.64" x2="581.4" y2="377.64" stroke="#10cc10" stroke-width="1.4" />
<line x1="576.6" y1="375.52" x2="581.4" y2="375.52" stroke="#10cc10" stroke-width="1.4" />
<line x1="608.6" y1="382.6" x2="608.6" y2="380.12" stroke="#10cc10" stroke-width="1.4" />
<line x1="606.2" y1="382.6" x2="611" y2="382.6" stroke="#10cc10" stroke-width="1.4" />
<line x1="606.2" y1="380.12" x2="611" y2="380.12" stroke="#10cc10" stroke-width="1.4" />
<line x1="638.2" y1="385.08" x2="638.2" y2="382.95" stroke="#10cc10" stroke-width="1.4" />
<line x1="635.8" y1="385.08" x2="640.6" y2="385.08" stroke="#10cc10" stroke-width="1.4" />
<line x1="635.8" y1="382.95" x2="640.6" y2="382.95" stroke="#10cc10" stroke-width="1.4" />
<path d="M519.8 365.8 L523.4 372.2 L516.2 372.2 Z" fill="#10cc10"/>
<path d="M549.4 369.3 L553 375.8 L545.8 375.8 Z" fill="#10cc10"/>
<path d="M579 372.9 L582.6 379.3 L575.4 379.3 Z" fill="#10cc10"/>
<path d="M608.6 377.6 L612.2 384.1 L605 384.1 Z" fill="#10cc10"/>
<path d="M638.2 380.3 L641.8 386.7 L634.6 386.7 Z" fill="#10cc10"/>
<path d="M519.8 358.9 L549.4 362.4 L579 362.8 L608.6 365.1 L638.2 365.1" stroke="#ff8410" stroke-width="1.3" fill="none" stroke-dasharray="5.2 2.6 1.4 2.6"/>
<line x1="519.8" y1="360.99" x2="519.8" y2="356.74" stroke="#ff8410" stroke-width="1.4" />
<line x1="517.4" y1="360.99" x2="522.2" y2="360.99" stroke="#ff8410" stroke-width="1.4" />
<line x1="517.4" y1="356.74" x2="522.2" y2="356.74" stroke="#ff8410" stroke-width="1.4" />
<line x1="549.4" y1="364.54" x2="549.4" y2="360.29" stroke="#ff8410" stroke-width="1.4" />
<line x1="547" y1="364.54" x2="551.8" y2="364.54" stroke="#ff8410" stroke-width="1.4" />
<line x1="547" y1="360.29" x2="551.8" y2="360.29" stroke="#ff8410" stroke-width="1.4" />
<line x1="579" y1="364.54" x2="579" y2="360.99" stroke="#ff8410" stroke-width="1.4" />
<line x1="576.6" y1="364.54" x2="581.4" y2="364.54" stroke="#ff8410" stroke-width="1.4" />
<line x1="576.6" y1="360.99" x2="581.4" y2="360.99" stroke="#ff8410" stroke-width="1.4" />
<line x1="608.6" y1="366.84" x2="608.6" y2="363.3" stroke="#ff8410" stroke-width="1.4" />
<line x1="606.2" y1="366.84" x2="611" y2="366.84" stroke="#ff8410" stroke-width="1.4" />
<line x1="606.2" y1="363.3" x2="611" y2="363.3" stroke="#ff8410" stroke-width="1.4" />
<line x1="638.2" y1="366.84" x2="638.2" y2="363.3" stroke="#ff8410" stroke-width="1.4" />
<line x1="635.8" y1="366.84" x2="640.6" y2="366.84" stroke="#ff8410" stroke-width="1.4" />
<line x1="635.8" y1="363.3" x2="640.6" y2="363.3" stroke="#ff8410" stroke-width="1.4" />
<path d="M519.8 362.6 L523.4 356.1 L516.2 356.1 Z" fill="#ff8410"/>
<path d="M549.4 366.1 L553 359.7 L545.8 359.7 Z" fill="#ff8410"/>
<path d="M579 366.5 L582.6 360 L575.4 360 Z" fill="#ff8410"/>
<path d="M608.6 368.8 L612.2 362.3 L605 362.3 Z" fill="#ff8410"/>
<path d="M638.2 368.8 L641.8 362.3 L634.6 362.3 Z" fill="#ff8410"/>
<path d="M519.8 353.4 L549.4 354.3 L579 354.8 L608.6 356.6 L638.2 353.4" stroke="#8000ff" stroke-width="1.3" fill="none" stroke-dasharray="5.2 2.6 1.4 2.6"/>
<line x1="519.8" y1="353.91" x2="519.8" y2="352.85" stroke="#8000ff" stroke-width="1.4" />
<line x1="517.4" y1="353.91" x2="522.2" y2="353.91" stroke="#8000ff" stroke-width="1.4" />
<line x1="517.4" y1="352.85" x2="522.2" y2="352.85" stroke="#8000ff" stroke-width="1.4" />
<line x1="549.4" y1="354.8" x2="549.4" y2="353.73" stroke="#8000ff" stroke-width="1.4" />
<line x1="547" y1="354.8" x2="551.8" y2="354.8" stroke="#8000ff" stroke-width="1.4" />
<line x1="547" y1="353.73" x2="551.8" y2="353.73" stroke="#8000ff" stroke-width="1.4" />
<line x1="579" y1="355.33" x2="579" y2="354.26" stroke="#8000ff" stroke-width="1.4" />
<line x1="576.6" y1="355.33" x2="581.4" y2="355.33" stroke="#8000ff" stroke-width="1.4" />
<line x1="576.6" y1="354.26" x2="581.4" y2="354.26" stroke="#8000ff" stroke-width="1.4" />
<line x1="608.6" y1="359.22" x2="608.6" y2="353.91" stroke="#8000ff" stroke-width="1.4" />
<line x1="606.2" y1="359.22" x2="611" y2="359.22" stroke="#8000ff" stroke-width="1.4" />
<line x1="606.2" y1="353.91" x2="611" y2="353.91" stroke="#8000ff" stroke-width="1.4" />
<line x1="638.2" y1="353.91" x2="638.2" y2="352.85" stroke="#8000ff" stroke-width="1.4" />
<line x1="635.8" y1="353.91" x2="640.6" y2="353.91" stroke="#8000ff" stroke-width="1.4" />
<line x1="635.8" y1="352.85" x2="640.6" y2="352.85" stroke="#8000ff" stroke-width="1.4" />
<path d="M519.8 349.6 L523.6 353.4 L519.8 357.2 L516 353.4 Z" fill="#8000ff"/>
<path d="M549.4 350.5 L553.2 354.3 L549.4 358.1 L545.6 354.3 Z" fill="#8000ff"/>
<path d="M579 351 L582.8 354.8 L579 358.6 L575.2 354.8 Z" fill="#8000ff"/>
<path d="M608.6 352.8 L612.4 356.6 L608.6 360.4 L604.8 356.6 Z" fill="#8000ff"/>
<path d="M638.2 349.6 L642 353.4 L638.2 357.2 L634.4 353.4 Z" fill="#8000ff"/>
<text x="647.6" y="356.5" font-size="13.5" >OH-5</text>
<text x="647.6" y="370.4" font-size="13.5" >OH-4</text>
<text x="647.6" y="388.7" font-size="13.5" >OH-3</text>
<text x="647.6" y="409.5" font-size="13.5" >OH-2</text>
<text x="647.6" y="445.2" font-size="13.5" >OH-1</text>
<rect x="49.4" y="520.1" width="171.2" height="123.3" fill="none" stroke="#3a3a3a" stroke-width="1.1"/>
<line x1="44.2" y1="643.4" x2="49.4" y2="643.4" stroke="#3a3a3a" stroke-width="1.1" />
<line x1="44.2" y1="604" x2="49.4" y2="604" stroke="#3a3a3a" stroke-width="1.1" />
<line x1="44.2" y1="564.6" x2="49.4" y2="564.6" stroke="#3a3a3a" stroke-width="1.1" />
<line x1="44.2" y1="525.2" x2="49.4" y2="525.2" stroke="#3a3a3a" stroke-width="1.1" />
<line x1="46" y1="623.7" x2="49.4" y2="623.7" stroke="#3a3a3a" stroke-width="1.1" />
<line x1="46" y1="584.3" x2="49.4" y2="584.3" stroke="#3a3a3a" stroke-width="1.1" />
<line x1="46" y1="544.9" x2="49.4" y2="544.9" stroke="#3a3a3a" stroke-width="1.1" />
<line x1="66.5" y1="643.4" x2="66.5" y2="648.4" stroke="#3a3a3a" stroke-width="1.1" />
<line x1="109.3" y1="643.4" x2="109.3" y2="648.4" stroke="#3a3a3a" stroke-width="1.1" />
<line x1="152.1" y1="643.4" x2="152.1" y2="648.4" stroke="#3a3a3a" stroke-width="1.1" />
<line x1="194.9" y1="643.4" x2="194.9" y2="648.4" stroke="#3a3a3a" stroke-width="1.1" />
<line x1="87.9" y1="643.4" x2="87.9" y2="646.6" stroke="#3a3a3a" stroke-width="1.1" />
<line x1="130.7" y1="643.4" x2="130.7" y2="646.6" stroke="#3a3a3a" stroke-width="1.1" />
<line x1="173.5" y1="643.4" x2="173.5" y2="646.6" stroke="#3a3a3a" stroke-width="1.1" />
<line x1="216.3" y1="643.4" x2="216.3" y2="646.6" stroke="#3a3a3a" stroke-width="1.1" />
<text x="41" y="647" font-size="13.5" text-anchor="end" >0</text>
<text x="41" y="607.6" font-size="13.5" text-anchor="end" >100</text>
<text x="41" y="568.2" font-size="13.5" text-anchor="end" >200</text>
<text x="41" y="528.8" font-size="13.5" text-anchor="end" >300</text>
<text x="66.5" y="662.6" font-size="13.6" text-anchor="middle" >0.0</text>
<text x="109.3" y="662.6" font-size="13.6" text-anchor="middle" >−0.5</text>
<text x="152.1" y="662.6" font-size="13.6" text-anchor="middle" >−1.0</text>
<text x="194.9" y="662.6" font-size="13.6" text-anchor="middle" >−1.5</text>
<text x="135.3" y="680.2" font-size="13.5" text-anchor="middle" >Potential (V)</text>
<text x="13.4" y="581.3" font-size="13.5" text-anchor="middle" transform="rotate(-90 13.4 581.3)" >FWHM (cm<tspan font-size="8.8" dy="-5">−1</tspan><tspan dy="5">)</tspan></text>
<path d="M66.5 571.3 L100.7 589.4 L135 565.4 L169.2 558.3 L203.5 555.5" stroke="#ff0000" stroke-width="1.3" fill="none" stroke-dasharray="5.2 2.6 1.4 2.6"/>
<line x1="66.5" y1="600.85" x2="66.5" y2="540.17" stroke="#ff0000" stroke-width="1.3" />
<line x1="64" y1="600.85" x2="69" y2="600.85" stroke="#ff0000" stroke-width="1.3" />
<line x1="64" y1="540.17" x2="69" y2="540.17" stroke="#ff0000" stroke-width="1.3" />
<line x1="100.74" y1="595.33" x2="100.74" y2="583.12" stroke="#ff0000" stroke-width="1.3" />
<line x1="98.24" y1="595.33" x2="103.24" y2="595.33" stroke="#ff0000" stroke-width="1.3" />
<line x1="98.24" y1="583.12" x2="103.24" y2="583.12" stroke="#ff0000" stroke-width="1.3" />
<line x1="134.98" y1="575.63" x2="134.98" y2="554.75" stroke="#ff0000" stroke-width="1.3" />
<line x1="132.48" y1="575.63" x2="137.48" y2="575.63" stroke="#ff0000" stroke-width="1.3" />
<line x1="132.48" y1="554.75" x2="137.48" y2="554.75" stroke="#ff0000" stroke-width="1.3" />
<line x1="169.22" y1="580.36" x2="169.22" y2="535.84" stroke="#ff0000" stroke-width="1.3" />
<line x1="166.72" y1="580.36" x2="171.72" y2="580.36" stroke="#ff0000" stroke-width="1.3" />
<line x1="166.72" y1="535.84" x2="171.72" y2="535.84" stroke="#ff0000" stroke-width="1.3" />
<line x1="203.46" y1="567.36" x2="203.46" y2="543.72" stroke="#ff0000" stroke-width="1.3" />
<line x1="200.96" y1="567.36" x2="205.96" y2="567.36" stroke="#ff0000" stroke-width="1.3" />
<line x1="200.96" y1="543.72" x2="205.96" y2="543.72" stroke="#ff0000" stroke-width="1.3" />
<rect x="64.15" y="568.95" width="4.7" height="4.7" fill="#ff0000"/>
<rect x="98.39" y="587.07" width="4.7" height="4.7" fill="#ff0000"/>
<rect x="132.63" y="563.04" width="4.7" height="4.7" fill="#ff0000"/>
<rect x="166.87" y="555.95" width="4.7" height="4.7" fill="#ff0000"/>
<rect x="201.11" y="553.19" width="4.7" height="4.7" fill="#ff0000"/>
<path d="M66.5 593.8 L100.7 592.6 L135 580.4 L169.2 567 L203.5 555.5" stroke="#1a9cff" stroke-width="1.3" fill="none" stroke-dasharray="5.2 2.6 1.4 2.6"/>
<line x1="66.5" y1="601.64" x2="66.5" y2="585.48" stroke="#1a9cff" stroke-width="1.3" />
<line x1="64" y1="601.64" x2="69" y2="601.64" stroke="#1a9cff" stroke-width="1.3" />
<line x1="64" y1="585.48" x2="69" y2="585.48" stroke="#1a9cff" stroke-width="1.3" />
<line x1="100.74" y1="596.12" x2="100.74" y2="588.63" stroke="#1a9cff" stroke-width="1.3" />
<line x1="98.24" y1="596.12" x2="103.24" y2="596.12" stroke="#1a9cff" stroke-width="1.3" />
<line x1="98.24" y1="588.63" x2="103.24" y2="588.63" stroke="#1a9cff" stroke-width="1.3" />
<line x1="134.98" y1="592.97" x2="134.98" y2="567.36" stroke="#1a9cff" stroke-width="1.3" />
<line x1="132.48" y1="592.97" x2="137.48" y2="592.97" stroke="#1a9cff" stroke-width="1.3" />
<line x1="132.48" y1="567.36" x2="137.48" y2="567.36" stroke="#1a9cff" stroke-width="1.3" />
<line x1="169.22" y1="574.45" x2="169.22" y2="558.69" stroke="#1a9cff" stroke-width="1.3" />
<line x1="166.72" y1="574.45" x2="171.72" y2="574.45" stroke="#1a9cff" stroke-width="1.3" />
<line x1="166.72" y1="558.69" x2="171.72" y2="558.69" stroke="#1a9cff" stroke-width="1.3" />
<line x1="203.46" y1="565.39" x2="203.46" y2="545.69" stroke="#1a9cff" stroke-width="1.3" />
<line x1="200.96" y1="565.39" x2="205.96" y2="565.39" stroke="#1a9cff" stroke-width="1.3" />
<line x1="200.96" y1="545.69" x2="205.96" y2="545.69" stroke="#1a9cff" stroke-width="1.3" />
<rect x="64.15" y="591.41" width="4.7" height="4.7" fill="#1a9cff"/>
<rect x="98.39" y="590.22" width="4.7" height="4.7" fill="#1a9cff"/>
<rect x="132.63" y="578.01" width="4.7" height="4.7" fill="#1a9cff"/>
<rect x="166.87" y="564.61" width="4.7" height="4.7" fill="#1a9cff"/>
<rect x="201.11" y="553.19" width="4.7" height="4.7" fill="#1a9cff"/>
<path d="M66.5 622.9 L100.7 621.3 L135 620.2 L169.2 613.5 L203.5 613.1" stroke="#10cc10" stroke-width="1.3" fill="none" stroke-dasharray="5.2 2.6 1.4 2.6"/>
<line x1="66.5" y1="624.88" x2="66.5" y2="620.94" stroke="#10cc10" stroke-width="1.3" />
<line x1="64" y1="624.88" x2="69" y2="624.88" stroke="#10cc10" stroke-width="1.3" />
<line x1="64" y1="620.94" x2="69" y2="620.94" stroke="#10cc10" stroke-width="1.3" />
<line x1="100.74" y1="623.7" x2="100.74" y2="618.97" stroke="#10cc10" stroke-width="1.3" />
<line x1="98.24" y1="623.7" x2="103.24" y2="623.7" stroke="#10cc10" stroke-width="1.3" />
<line x1="98.24" y1="618.97" x2="103.24" y2="618.97" stroke="#10cc10" stroke-width="1.3" />
<line x1="134.98" y1="622.52" x2="134.98" y2="617.79" stroke="#10cc10" stroke-width="1.3" />
<line x1="132.48" y1="622.52" x2="137.48" y2="622.52" stroke="#10cc10" stroke-width="1.3" />
<line x1="132.48" y1="617.79" x2="137.48" y2="617.79" stroke="#10cc10" stroke-width="1.3" />
<line x1="169.22" y1="618.58" x2="169.22" y2="607.55" stroke="#10cc10" stroke-width="1.3" />
<line x1="166.72" y1="618.58" x2="171.72" y2="618.58" stroke="#10cc10" stroke-width="1.3" />
<line x1="166.72" y1="607.55" x2="171.72" y2="607.55" stroke="#10cc10" stroke-width="1.3" />
<line x1="203.46" y1="615.82" x2="203.46" y2="609.91" stroke="#10cc10" stroke-width="1.3" />
<line x1="200.96" y1="615.82" x2="205.96" y2="615.82" stroke="#10cc10" stroke-width="1.3" />
<line x1="200.96" y1="609.91" x2="205.96" y2="609.91" stroke="#10cc10" stroke-width="1.3" />
<path d="M66.5 619.8 L69.5 625.2 L63.5 625.2 Z" fill="#10cc10"/>
<path d="M100.7 618.2 L103.7 623.6 L97.7 623.6 Z" fill="#10cc10"/>
<path d="M135 617 L138 622.4 L132 622.4 Z" fill="#10cc10"/>
<path d="M169.2 610.3 L172.2 615.7 L166.2 615.7 Z" fill="#10cc10"/>
<path d="M203.5 609.9 L206.5 615.3 L200.5 615.3 Z" fill="#10cc10"/>
<path d="M66.5 626.1 L100.7 621.7 L135 624.1 L169.2 621.3 L203.5 610.7" stroke="#ff8410" stroke-width="1.3" fill="none" stroke-dasharray="5.2 2.6 1.4 2.6"/>
<line x1="66.5" y1="628.43" x2="66.5" y2="623.7" stroke="#ff8410" stroke-width="1.3" />
<line x1="64" y1="628.43" x2="69" y2="628.43" stroke="#ff8410" stroke-width="1.3" />
<line x1="64" y1="623.7" x2="69" y2="623.7" stroke="#ff8410" stroke-width="1.3" />
<line x1="100.74" y1="628.82" x2="100.74" y2="614.64" stroke="#ff8410" stroke-width="1.3" />
<line x1="98.24" y1="628.82" x2="103.24" y2="628.82" stroke="#ff8410" stroke-width="1.3" />
<line x1="98.24" y1="614.64" x2="103.24" y2="614.64" stroke="#ff8410" stroke-width="1.3" />
<line x1="134.98" y1="626.85" x2="134.98" y2="621.34" stroke="#ff8410" stroke-width="1.3" />
<line x1="132.48" y1="626.85" x2="137.48" y2="626.85" stroke="#ff8410" stroke-width="1.3" />
<line x1="132.48" y1="621.34" x2="137.48" y2="621.34" stroke="#ff8410" stroke-width="1.3" />
<line x1="169.22" y1="624.49" x2="169.22" y2="618.18" stroke="#ff8410" stroke-width="1.3" />
<line x1="166.72" y1="624.49" x2="171.72" y2="624.49" stroke="#ff8410" stroke-width="1.3" />
<line x1="166.72" y1="618.18" x2="171.72" y2="618.18" stroke="#ff8410" stroke-width="1.3" />
<line x1="203.46" y1="613.85" x2="203.46" y2="606.76" stroke="#ff8410" stroke-width="1.3" />
<line x1="200.96" y1="613.85" x2="205.96" y2="613.85" stroke="#ff8410" stroke-width="1.3" />
<line x1="200.96" y1="606.76" x2="205.96" y2="606.76" stroke="#ff8410" stroke-width="1.3" />
<path d="M66.5 629.2 L69.5 623.8 L63.5 623.8 Z" fill="#ff8410"/>
<path d="M100.7 624.9 L103.7 619.4 L97.7 619.4 Z" fill="#ff8410"/>
<path d="M135 627.2 L138 621.8 L132 621.8 Z" fill="#ff8410"/>
<path d="M169.2 624.5 L172.2 619 L166.2 619 Z" fill="#ff8410"/>
<path d="M203.5 613.8 L206.5 608.4 L200.5 608.4 Z" fill="#ff8410"/>
<path d="M66.5 632.4 L100.7 630.8 L135 629.6 L169.2 626.5 L203.5 631.2" stroke="#8000ff" stroke-width="1.3" fill="none" stroke-dasharray="5.2 2.6 1.4 2.6"/>
<line x1="66.5" y1="633.94" x2="66.5" y2="630.79" stroke="#8000ff" stroke-width="1.3" />
<line x1="64" y1="633.94" x2="69" y2="633.94" stroke="#8000ff" stroke-width="1.3" />
<line x1="64" y1="630.79" x2="69" y2="630.79" stroke="#8000ff" stroke-width="1.3" />
<line x1="100.74" y1="632.76" x2="100.74" y2="628.82" stroke="#8000ff" stroke-width="1.3" />
<line x1="98.24" y1="632.76" x2="103.24" y2="632.76" stroke="#8000ff" stroke-width="1.3" />
<line x1="98.24" y1="628.82" x2="103.24" y2="628.82" stroke="#8000ff" stroke-width="1.3" />
<line x1="134.98" y1="631.19" x2="134.98" y2="628.03" stroke="#8000ff" stroke-width="1.3" />
<line x1="132.48" y1="631.19" x2="137.48" y2="631.19" stroke="#8000ff" stroke-width="1.3" />
<line x1="132.48" y1="628.03" x2="137.48" y2="628.03" stroke="#8000ff" stroke-width="1.3" />
<line x1="169.22" y1="630.4" x2="169.22" y2="622.12" stroke="#8000ff" stroke-width="1.3" />
<line x1="166.72" y1="630.4" x2="171.72" y2="630.4" stroke="#8000ff" stroke-width="1.3" />
<line x1="166.72" y1="622.12" x2="171.72" y2="622.12" stroke="#8000ff" stroke-width="1.3" />
<line x1="203.46" y1="633.55" x2="203.46" y2="628.82" stroke="#8000ff" stroke-width="1.3" />
<line x1="200.96" y1="633.55" x2="205.96" y2="633.55" stroke="#8000ff" stroke-width="1.3" />
<line x1="200.96" y1="628.82" x2="205.96" y2="628.82" stroke="#8000ff" stroke-width="1.3" />
<path d="M66.5 629.2 L69.7 632.4 L66.5 635.6 L63.3 632.4 Z" fill="#8000ff"/>
<path d="M100.7 627.6 L103.9 630.8 L100.7 634 L97.5 630.8 Z" fill="#8000ff"/>
<path d="M135 626.4 L138.2 629.6 L135 632.8 L131.8 629.6 Z" fill="#8000ff"/>
<path d="M169.2 623.3 L172.4 626.5 L169.2 629.7 L166 626.5 Z" fill="#8000ff"/>
<path d="M203.5 628 L206.7 631.2 L203.5 634.4 L200.3 631.2 Z" fill="#8000ff"/>
<rect x="74" y="526.5" width="3.4" height="3.4" fill="#ff0000"/>
<text x="83.7" y="532.7" font-size="12.4" >OH-1</text>
<rect x="118.4" y="526.5" width="3.4" height="3.4" fill="#1a9cff"/>
<text x="127.5" y="532.7" font-size="12.4" >OH-2</text>
<path d="M163.6 525.5 L166.2 530.1 L161 530.1 Z" fill="#10cc10"/>
<text x="171.6" y="532.7" font-size="12.4" >OH-3</text>
<path d="M75.7 546.1 L78.3 541.5 L73.1 541.5 Z" fill="#ff8410"/>
<text x="83.7" y="547.9" font-size="12.4" >OH-4</text>
<path d="M119.5 540.3 L122.6 543.4 L119.5 546.5 L116.4 543.4 Z" fill="#8000ff"/>
<text x="127.1" y="547.9" font-size="12.4" >OH-5</text>
<rect x="279.5" y="519.1" width="169.8" height="124.6" fill="none" stroke="#3a3a3a" stroke-width="1.1"/>
<line x1="274.3" y1="643.7" x2="279.5" y2="643.7" stroke="#3a3a3a" stroke-width="1.1" />
<line x1="274.3" y1="616.2" x2="279.5" y2="616.2" stroke="#3a3a3a" stroke-width="1.1" />
<line x1="274.3" y1="588.7" x2="279.5" y2="588.7" stroke="#3a3a3a" stroke-width="1.1" />
<line x1="274.3" y1="561.2" x2="279.5" y2="561.2" stroke="#3a3a3a" stroke-width="1.1" />
<line x1="274.3" y1="533.7" x2="279.5" y2="533.7" stroke="#3a3a3a" stroke-width="1.1" />
<line x1="276.1" y1="629.95" x2="279.5" y2="629.95" stroke="#3a3a3a" stroke-width="1.1" />
<line x1="276.1" y1="602.45" x2="279.5" y2="602.45" stroke="#3a3a3a" stroke-width="1.1" />
<line x1="276.1" y1="574.95" x2="279.5" y2="574.95" stroke="#3a3a3a" stroke-width="1.1" />
<line x1="276.1" y1="547.45" x2="279.5" y2="547.45" stroke="#3a3a3a" stroke-width="1.1" />
<line x1="276.1" y1="519.95" x2="279.5" y2="519.95" stroke="#3a3a3a" stroke-width="1.1" />
<line x1="296.2" y1="643.7" x2="296.2" y2="648.7" stroke="#3a3a3a" stroke-width="1.1" />
<line x1="339.2" y1="643.7" x2="339.2" y2="648.7" stroke="#3a3a3a" stroke-width="1.1" />
<line x1="382.2" y1="643.7" x2="382.2" y2="648.7" stroke="#3a3a3a" stroke-width="1.1" />
<line x1="425.2" y1="643.7" x2="425.2" y2="648.7" stroke="#3a3a3a" stroke-width="1.1" />
<line x1="317.7" y1="643.7" x2="317.7" y2="646.9" stroke="#3a3a3a" stroke-width="1.1" />
<line x1="360.7" y1="643.7" x2="360.7" y2="646.9" stroke="#3a3a3a" stroke-width="1.1" />
<line x1="403.7" y1="643.7" x2="403.7" y2="646.9" stroke="#3a3a3a" stroke-width="1.1" />
<line x1="446.7" y1="643.7" x2="446.7" y2="646.9" stroke="#3a3a3a" stroke-width="1.1" />
<text x="270.1" y="647.3" font-size="13.6" text-anchor="end" >0.0</text>
<text x="270.1" y="619.8" font-size="13.6" text-anchor="end" >0.2</text>
<text x="270.1" y="592.3" font-size="13.6" text-anchor="end" >0.4</text>
<text x="270.1" y="564.8" font-size="13.6" text-anchor="end" >0.6</text>
<text x="270.1" y="537.3" font-size="13.6" text-anchor="end" >0.8</text>
<text x="296.2" y="662.6" font-size="13.6" text-anchor="middle" >0.0</text>
<text x="339.2" y="662.6" font-size="13.6" text-anchor="middle" >−0.5</text>
<text x="382.2" y="662.6" font-size="13.6" text-anchor="middle" >−1.0</text>
<text x="425.2" y="662.6" font-size="13.6" text-anchor="middle" >−1.5</text>
<text x="364.4" y="680.4" font-size="13.5" text-anchor="middle" >Potential (V)</text>
<text x="247.9" y="581.5" font-size="13.4" text-anchor="middle" transform="rotate(-90 247.9 581.5)" >Area fraction</text>
<path d="M296.2 619.6 L330.6 621.7 L365 616.2 L399.4 612.8 L433.8 605.2" stroke="#ff0000" stroke-width="1.3" fill="none" stroke-dasharray="5.2 2.6 1.4 2.6"/>
<line x1="296.2" y1="624.45" x2="296.2" y2="614.83" stroke="#ff0000" stroke-width="1.4" />
<line x1="293.7" y1="624.45" x2="298.7" y2="624.45" stroke="#ff0000" stroke-width="1.4" />
<line x1="293.7" y1="614.83" x2="298.7" y2="614.83" stroke="#ff0000" stroke-width="1.4" />
<line x1="330.6" y1="628.58" x2="330.6" y2="614.83" stroke="#ff0000" stroke-width="1.4" />
<line x1="328.1" y1="628.58" x2="333.1" y2="628.58" stroke="#ff0000" stroke-width="1.4" />
<line x1="328.1" y1="614.83" x2="333.1" y2="614.83" stroke="#ff0000" stroke-width="1.4" />
<line x1="365" y1="621.7" x2="365" y2="610.7" stroke="#ff0000" stroke-width="1.4" />
<line x1="362.5" y1="621.7" x2="367.5" y2="621.7" stroke="#ff0000" stroke-width="1.4" />
<line x1="362.5" y1="610.7" x2="367.5" y2="610.7" stroke="#ff0000" stroke-width="1.4" />
<line x1="399.4" y1="614.83" x2="399.4" y2="610.7" stroke="#ff0000" stroke-width="1.4" />
<line x1="396.9" y1="614.83" x2="401.9" y2="614.83" stroke="#ff0000" stroke-width="1.4" />
<line x1="396.9" y1="610.7" x2="401.9" y2="610.7" stroke="#ff0000" stroke-width="1.4" />
<line x1="433.8" y1="616.2" x2="433.8" y2="594.2" stroke="#ff0000" stroke-width="1.4" />
<line x1="431.3" y1="616.2" x2="436.3" y2="616.2" stroke="#ff0000" stroke-width="1.4" />
<line x1="431.3" y1="594.2" x2="436.3" y2="594.2" stroke="#ff0000" stroke-width="1.4" />
<rect x="293.75" y="617.19" width="4.9" height="4.9" fill="#ff0000"/>
<rect x="328.15" y="619.25" width="4.9" height="4.9" fill="#ff0000"/>
<rect x="362.55" y="613.75" width="4.9" height="4.9" fill="#ff0000"/>
<rect x="396.95" y="610.31" width="4.9" height="4.9" fill="#ff0000"/>
<rect x="431.35" y="602.75" width="4.9" height="4.9" fill="#ff0000"/>
<path d="M296.2 559.8 L330.6 565.3 L365 562.6 L399.4 572.2 L433.8 575" stroke="#1a9cff" stroke-width="1.3" fill="none" stroke-dasharray="5.2 2.6 1.4 2.6"/>
<line x1="296.2" y1="573.58" x2="296.2" y2="547.45" stroke="#1a9cff" stroke-width="1.4" />
<line x1="293.7" y1="573.58" x2="298.7" y2="573.58" stroke="#1a9cff" stroke-width="1.4" />
<line x1="293.7" y1="547.45" x2="298.7" y2="547.45" stroke="#1a9cff" stroke-width="1.4" />
<line x1="330.6" y1="579.08" x2="330.6" y2="551.58" stroke="#1a9cff" stroke-width="1.4" />
<line x1="328.1" y1="579.08" x2="333.1" y2="579.08" stroke="#1a9cff" stroke-width="1.4" />
<line x1="328.1" y1="551.58" x2="333.1" y2="551.58" stroke="#1a9cff" stroke-width="1.4" />
<line x1="365" y1="581.14" x2="365" y2="544.01" stroke="#1a9cff" stroke-width="1.4" />
<line x1="362.5" y1="581.14" x2="367.5" y2="581.14" stroke="#1a9cff" stroke-width="1.4" />
<line x1="362.5" y1="544.01" x2="367.5" y2="544.01" stroke="#1a9cff" stroke-width="1.4" />
<line x1="399.4" y1="580.45" x2="399.4" y2="563.95" stroke="#1a9cff" stroke-width="1.4" />
<line x1="396.9" y1="580.45" x2="401.9" y2="580.45" stroke="#1a9cff" stroke-width="1.4" />
<line x1="396.9" y1="563.95" x2="401.9" y2="563.95" stroke="#1a9cff" stroke-width="1.4" />
<line x1="433.8" y1="585.95" x2="433.8" y2="563.95" stroke="#1a9cff" stroke-width="1.4" />
<line x1="431.3" y1="585.95" x2="436.3" y2="585.95" stroke="#1a9cff" stroke-width="1.4" />
<line x1="431.3" y1="563.95" x2="436.3" y2="563.95" stroke="#1a9cff" stroke-width="1.4" />
<rect x="293.75" y="557.38" width="4.9" height="4.9" fill="#1a9cff"/>
<rect x="328.15" y="562.88" width="4.9" height="4.9" fill="#1a9cff"/>
<rect x="362.55" y="560.12" width="4.9" height="4.9" fill="#1a9cff"/>
<rect x="396.95" y="569.75" width="4.9" height="4.9" fill="#1a9cff"/>
<rect x="431.35" y="572.5" width="4.9" height="4.9" fill="#1a9cff"/>
<path d="M296.2 619 L330.6 614.1 L365 621.7 L399.4 617.6 L433.8 625.1" stroke="#10cc10" stroke-width="1.3" fill="none" stroke-dasharray="5.2 2.6 1.4 2.6"/>
<line x1="296.2" y1="625.14" x2="296.2" y2="612.76" stroke="#10cc10" stroke-width="1.4" />
<line x1="293.7" y1="625.14" x2="298.7" y2="625.14" stroke="#10cc10" stroke-width="1.4" />
<line x1="293.7" y1="612.76" x2="298.7" y2="612.76" stroke="#10cc10" stroke-width="1.4" />
<line x1="330.6" y1="621.01" x2="330.6" y2="607.26" stroke="#10cc10" stroke-width="1.4" />
<line x1="328.1" y1="621.01" x2="333.1" y2="621.01" stroke="#10cc10" stroke-width="1.4" />
<line x1="328.1" y1="607.26" x2="333.1" y2="607.26" stroke="#10cc10" stroke-width="1.4" />
<line x1="365" y1="632.7" x2="365" y2="610.7" stroke="#10cc10" stroke-width="1.4" />
<line x1="362.5" y1="632.7" x2="367.5" y2="632.7" stroke="#10cc10" stroke-width="1.4" />
<line x1="362.5" y1="610.7" x2="367.5" y2="610.7" stroke="#10cc10" stroke-width="1.4" />
<line x1="399.4" y1="618.95" x2="399.4" y2="616.2" stroke="#10cc10" stroke-width="1.4" />
<line x1="396.9" y1="618.95" x2="401.9" y2="618.95" stroke="#10cc10" stroke-width="1.4" />
<line x1="396.9" y1="616.2" x2="401.9" y2="616.2" stroke="#10cc10" stroke-width="1.4" />
<line x1="433.8" y1="626.51" x2="433.8" y2="623.76" stroke="#10cc10" stroke-width="1.4" />
<line x1="431.3" y1="626.51" x2="436.3" y2="626.51" stroke="#10cc10" stroke-width="1.4" />
<line x1="431.3" y1="623.76" x2="436.3" y2="623.76" stroke="#10cc10" stroke-width="1.4" />
<path d="M296.2 615.7 L299.3 621.3 L293.1 621.3 Z" fill="#10cc10"/>
<path d="M330.6 610.9 L333.7 616.5 L327.5 616.5 Z" fill="#10cc10"/>
<path d="M365 618.4 L368.1 624.1 L361.9 624.1 Z" fill="#10cc10"/>
<path d="M399.4 614.3 L402.5 620 L396.3 620 Z" fill="#10cc10"/>
<path d="M433.8 621.9 L436.9 627.5 L430.7 627.5 Z" fill="#10cc10"/>
<line x1="291.8" y1="528.4" x2="299" y2="528.4" stroke="#ff0000" stroke-width="1.3" />
<rect x="293.2" y="526.2" width="4.4" height="4.4" fill="#ff0000"/>
<text x="303.6" y="532.3" font-size="13.4" >OH-1</text>
<line x1="343.6" y1="528.4" x2="350.8" y2="528.4" stroke="#1a9cff" stroke-width="1.3" />
<rect x="345" y="526.2" width="4.4" height="4.4" fill="#1a9cff"/>
<text x="355" y="532.3" font-size="13.4" >OH-2</text>
<line x1="395" y1="528.3" x2="402.2" y2="528.3" stroke="#10cc10" stroke-width="1.3" />
<path d="M398.6 525.2 L401.5 530.5 L395.7 530.5 Z" fill="#10cc10"/>
<text x="406.8" y="532.3" font-size="13.4" >OH-3</text>
<rect x="512.1" y="519.4" width="172.2" height="124.6" fill="none" stroke="#3a3a3a" stroke-width="1.1"/>
<line x1="506.9" y1="632.6" x2="512.1" y2="632.6" stroke="#3a3a3a" stroke-width="1.1" />
<line x1="506.9" y1="610.1" x2="512.1" y2="610.1" stroke="#3a3a3a" stroke-width="1.1" />
<line x1="506.9" y1="587.6" x2="512.1" y2="587.6" stroke="#3a3a3a" stroke-width="1.1" />
<line x1="506.9" y1="565.1" x2="512.1" y2="565.1" stroke="#3a3a3a" stroke-width="1.1" />
<line x1="506.9" y1="542.6" x2="512.1" y2="542.6" stroke="#3a3a3a" stroke-width="1.1" />
<line x1="506.9" y1="520.1" x2="512.1" y2="520.1" stroke="#3a3a3a" stroke-width="1.1" />
<line x1="508.7" y1="621.35" x2="512.1" y2="621.35" stroke="#3a3a3a" stroke-width="1.1" />
<line x1="508.7" y1="598.85" x2="512.1" y2="598.85" stroke="#3a3a3a" stroke-width="1.1" />
<line x1="508.7" y1="576.35" x2="512.1" y2="576.35" stroke="#3a3a3a" stroke-width="1.1" />
<line x1="508.7" y1="553.85" x2="512.1" y2="553.85" stroke="#3a3a3a" stroke-width="1.1" />
<line x1="508.7" y1="531.35" x2="512.1" y2="531.35" stroke="#3a3a3a" stroke-width="1.1" />
<line x1="508.7" y1="643.85" x2="512.1" y2="643.85" stroke="#3a3a3a" stroke-width="1.1" />
<line x1="529.5" y1="644" x2="529.5" y2="649" stroke="#3a3a3a" stroke-width="1.1" />
<line x1="572.75" y1="644" x2="572.75" y2="649" stroke="#3a3a3a" stroke-width="1.1" />
<line x1="616" y1="644" x2="616" y2="649" stroke="#3a3a3a" stroke-width="1.1" />
<line x1="659.25" y1="644" x2="659.25" y2="649" stroke="#3a3a3a" stroke-width="1.1" />
<line x1="551.12" y1="644" x2="551.12" y2="647.2" stroke="#3a3a3a" stroke-width="1.1" />
<line x1="594.38" y1="644" x2="594.38" y2="647.2" stroke="#3a3a3a" stroke-width="1.1" />
<line x1="637.62" y1="644" x2="637.62" y2="647.2" stroke="#3a3a3a" stroke-width="1.1" />
<line x1="680.88" y1="644" x2="680.88" y2="647.2" stroke="#3a3a3a" stroke-width="1.1" />
<text x="503.7" y="636.2" font-size="13.5" text-anchor="end" >0.00</text>
<text x="503.7" y="613.7" font-size="13.5" text-anchor="end" >0.02</text>
<text x="503.7" y="591.2" font-size="13.5" text-anchor="end" >0.04</text>
<text x="503.7" y="568.7" font-size="13.5" text-anchor="end" >0.06</text>
<text x="503.7" y="546.2" font-size="13.5" text-anchor="end" >0.08</text>
<text x="503.7" y="523.7" font-size="13.5" text-anchor="end" >0.10</text>
<text x="529.5" y="662.6" font-size="13.6" text-anchor="middle" >0.0</text>
<text x="572.75" y="662.6" font-size="13.6" text-anchor="middle" >−0.5</text>
<text x="616" y="662.6" font-size="13.6" text-anchor="middle" >−1.0</text>
<text x="659.25" y="662.6" font-size="13.6" text-anchor="middle" >−1.5</text>
<text x="597.3" y="680.4" font-size="13.5" text-anchor="middle" >Potential (V)</text>
<text x="471.6" y="581.5" font-size="13.4" text-anchor="middle" transform="rotate(-90 471.6 581.5)" >Area fraction</text>
<path d="M529.5 602.2 L564.1 589.9 L598.7 593.2 L633.3 583.7 L667.9 559.9" stroke="#ff8410" stroke-width="1.3" fill="none" stroke-dasharray="5.2 2.6 1.4 2.6"/>
<line x1="529.5" y1="624.73" x2="529.5" y2="579.73" stroke="#ff8410" stroke-width="1.7" />
<line x1="527" y1="624.73" x2="532" y2="624.73" stroke="#ff8410" stroke-width="1.7" />
<line x1="527" y1="579.73" x2="532" y2="579.73" stroke="#ff8410" stroke-width="1.7" />
<line x1="564.1" y1="610.1" x2="564.1" y2="569.6" stroke="#ff8410" stroke-width="1.7" />
<line x1="561.6" y1="610.1" x2="566.6" y2="610.1" stroke="#ff8410" stroke-width="1.7" />
<line x1="561.6" y1="569.6" x2="566.6" y2="569.6" stroke="#ff8410" stroke-width="1.7" />
<line x1="598.7" y1="626.98" x2="598.7" y2="559.48" stroke="#ff8410" stroke-width="1.7" />
<line x1="596.2" y1="626.98" x2="601.2" y2="626.98" stroke="#ff8410" stroke-width="1.7" />
<line x1="596.2" y1="559.48" x2="601.2" y2="559.48" stroke="#ff8410" stroke-width="1.7" />
<line x1="633.3" y1="623.26" x2="633.3" y2="544.85" stroke="#ff8410" stroke-width="1.7" />
<line x1="630.8" y1="623.26" x2="635.8" y2="623.26" stroke="#ff8410" stroke-width="1.7" />
<line x1="630.8" y1="544.85" x2="635.8" y2="544.85" stroke="#ff8410" stroke-width="1.7" />
<line x1="667.9" y1="590.75" x2="667.9" y2="528.31" stroke="#ff8410" stroke-width="1.7" />
<line x1="665.4" y1="590.75" x2="670.4" y2="590.75" stroke="#ff8410" stroke-width="1.7" />
<line x1="665.4" y1="528.31" x2="670.4" y2="528.31" stroke="#ff8410" stroke-width="1.7" />
<path d="M529.5 605.8 L533 599.6 L526 599.6 Z" fill="#ff8410"/>
<path d="M564.1 593.4 L567.6 587.2 L560.6 587.2 Z" fill="#ff8410"/>
<path d="M598.7 596.8 L602.2 590.6 L595.2 590.6 Z" fill="#ff8410"/>
<path d="M633.3 587.3 L636.8 581 L629.8 581 Z" fill="#ff8410"/>
<path d="M667.9 563.5 L671.4 557.3 L664.4 557.3 Z" fill="#ff8410"/>
<path d="M529.5 619.1 L564.1 618 L598.7 613.5 L633.3 603.5 L667.9 603.5" stroke="#8000ff" stroke-width="1.3" fill="none" stroke-dasharray="5.2 2.6 1.4 2.6"/>
<line x1="529.5" y1="624.73" x2="529.5" y2="612.35" stroke="#8000ff" stroke-width="1.7" />
<line x1="527" y1="624.73" x2="532" y2="624.73" stroke="#8000ff" stroke-width="1.7" />
<line x1="527" y1="612.35" x2="532" y2="612.35" stroke="#8000ff" stroke-width="1.7" />
<line x1="564.1" y1="621.35" x2="564.1" y2="614.6" stroke="#8000ff" stroke-width="1.7" />
<line x1="561.6" y1="621.35" x2="566.6" y2="621.35" stroke="#8000ff" stroke-width="1.7" />
<line x1="561.6" y1="614.6" x2="566.6" y2="614.6" stroke="#8000ff" stroke-width="1.7" />
<line x1="598.7" y1="621.35" x2="598.7" y2="604.48" stroke="#8000ff" stroke-width="1.7" />
<line x1="596.2" y1="621.35" x2="601.2" y2="621.35" stroke="#8000ff" stroke-width="1.7" />
<line x1="596.2" y1="604.48" x2="601.2" y2="604.48" stroke="#8000ff" stroke-width="1.7" />
<line x1="633.3" y1="621.58" x2="633.3" y2="585.91" stroke="#8000ff" stroke-width="1.7" />
<line x1="630.8" y1="621.58" x2="635.8" y2="621.58" stroke="#8000ff" stroke-width="1.7" />
<line x1="630.8" y1="585.91" x2="635.8" y2="585.91" stroke="#8000ff" stroke-width="1.7" />
<line x1="667.9" y1="614.49" x2="667.9" y2="592.89" stroke="#8000ff" stroke-width="1.7" />
<line x1="665.4" y1="614.49" x2="670.4" y2="614.49" stroke="#8000ff" stroke-width="1.7" />
<line x1="665.4" y1="592.89" x2="670.4" y2="592.89" stroke="#8000ff" stroke-width="1.7" />
<path d="M529.5 615.4 L533.2 619.1 L529.5 622.8 L525.8 619.1 Z" fill="#8000ff"/>
<path d="M564.1 614.3 L567.8 618 L564.1 621.6 L560.4 618 Z" fill="#8000ff"/>
<path d="M598.7 609.8 L602.4 613.5 L598.7 617.1 L595 613.5 Z" fill="#8000ff"/>
<path d="M633.3 599.8 L637 603.5 L633.3 607.1 L629.6 603.5 Z" fill="#8000ff"/>
<path d="M667.9 599.8 L671.6 603.5 L667.9 607.1 L664.2 603.5 Z" fill="#8000ff"/>
<path d="M553.3 533.2 L557.5 525.6 L549.1 525.6 Z" fill="#ff8410"/>
<text x="561.6" y="533.1" font-size="13.5" >OH-4</text>
<path d="M604.7 523.6 L609.6 528.5 L604.7 533.4 L599.8 528.5 Z" fill="#8000ff"/>
<text x="613" y="533.1" font-size="13.5" >OH-5</text>
<defs><filter id="gl" x="-80%" y="-80%" width="260%" height="260%"><feGaussianBlur stdDeviation="2.0"/></filter><linearGradient id="biasg" x1="0" y1="0" x2="1" y2="0"><stop offset="0" stop-color="#fafafa"/><stop offset="1" stop-color="#7a7a7a"/></linearGradient></defs>
<text x="185.5" y="712.8" font-size="14" text-anchor="middle" >State 1: OCP, transient</text>
<text x="556.6" y="712.9" font-size="13.8" text-anchor="middle" >State 3: negative potential, steady</text>
<text x="18.2" y="777.5" font-size="14" >≈3 Å</text>
<text x="411.3" y="773.6" font-size="14" >≈3 Å</text>
<rect x="67.4" y="806.7" width="229.8" height="15.3" fill="#808080"/>
<rect x="443.2" y="806.8" width="230.0" height="15.3" fill="#808080"/>
<rect x="453.1" y="811.3" width="8.7" height="1.9" fill="#fff"/>
<rect x="473.14" y="811.3" width="8.7" height="1.9" fill="#fff"/>
<rect x="493.18" y="811.3" width="8.7" height="1.9" fill="#fff"/>
<rect x="513.22" y="811.3" width="8.7" height="1.9" fill="#fff"/>
<rect x="533.26" y="811.3" width="8.7" height="1.9" fill="#fff"/>
<rect x="553.3" y="811.3" width="8.7" height="1.9" fill="#fff"/>
<rect x="573.34" y="811.3" width="8.7" height="1.9" fill="#fff"/>
<rect x="593.38" y="811.3" width="8.7" height="1.9" fill="#fff"/>
<rect x="613.42" y="811.3" width="8.7" height="1.9" fill="#fff"/>
<rect x="633.46" y="811.3" width="8.7" height="1.9" fill="#fff"/>
<rect x="653.5" y="811.3" width="8.7" height="1.9" fill="#fff"/>
<path d="M336.1 777.4 L386.5 777.4 L386.5 772.1 L400.5 781.7 L386.5 791.2 L386.5 786.1 L336.1 786.1 Z" fill="url(#biasg)" stroke="#111" stroke-width="1.3"/>
<text x="348.5" y="768.6" font-size="13.5" >Bias</text>
<text x="182.4" y="847.8" font-size="13.4" >OH-1</text>
<text x="257" y="847.8" font-size="13.4" >OH-2</text>
<text x="334.2" y="847.8" font-size="13.4" >OH-3</text>
<text x="408.2" y="847.8" font-size="13.4" >OH-4</text>
<text x="484.4" y="847.8" font-size="13.4" >OH-5</text>
<line x1="533.1" y1="843" x2="547.4" y2="843" stroke="#173f20" stroke-width="3.5" stroke-dasharray="5.8 2.2"/>
<text x="555.4" y="847.8" font-size="13.5" >HB</text>
<g filter="url(#gl)">
<circle cx="69.6" cy="756.3" r="12.4" fill="#ff6e6e"/>
<circle cx="74.7" cy="752.9" r="10.2" fill="#ff6e6e"/>
<circle cx="68.6" cy="748.1" r="10" fill="#ff6e6e"/>
<circle cx="105.7" cy="753.9" r="12.4" fill="#ff6e6e"/>
<circle cx="109.5" cy="748.4" r="10.2" fill="#ff6e6e"/>
<circle cx="102.2" cy="745.8" r="10" fill="#ff6e6e"/>
<circle cx="139.6" cy="756.6" r="12.4" fill="#6ec3fa"/>
<circle cx="134.8" cy="753" r="10.2" fill="#6ec3fa"/>
<circle cx="132" cy="760.3" r="10" fill="#6ec3fa"/>
<circle cx="166.9" cy="758" r="12.4" fill="#6ec3fa"/>
<circle cx="170" cy="763.1" r="10.2" fill="#6ec3fa"/>
<circle cx="176.1" cy="758" r="10" fill="#6ec3fa"/>
<circle cx="202.7" cy="748.9" r="12.4" fill="#6ec3fa"/>
<circle cx="207.9" cy="747.7" r="10.2" fill="#6ec3fa"/>
<circle cx="203.2" cy="740.7" r="10" fill="#6ec3fa"/>
<circle cx="250.4" cy="750" r="12.4" fill="#6ec3fa"/>
<circle cx="246" cy="753.5" r="10.2" fill="#6ec3fa"/>
<circle cx="251.6" cy="757" r="10" fill="#6ec3fa"/>
<circle cx="291.5" cy="760.5" r="12.4" fill="#6ec3fa"/>
<circle cx="295" cy="755.9" r="10.2" fill="#6ec3fa"/>
<circle cx="288" cy="752.8" r="10" fill="#6ec3fa"/>
<circle cx="81.7" cy="787.1" r="12.4" fill="#6ee664"/>
<circle cx="78.7" cy="782.4" r="10.2" fill="#6ee664"/>
<circle cx="74.6" cy="788.1" r="10" fill="#6ee664"/>
<circle cx="117.5" cy="787.1" r="12.4" fill="#ff6e6e"/>
<circle cx="114.4" cy="782" r="10.2" fill="#ff6e6e"/>
<circle cx="109.3" cy="787.7" r="10" fill="#ff6e6e"/>
<circle cx="151.1" cy="791.7" r="12.4" fill="#6ee664"/>
<circle cx="148.3" cy="785.6" r="10.2" fill="#6ee664"/>
<circle cx="142.4" cy="791.7" r="10" fill="#6ee664"/>
<circle cx="177.1" cy="793.8" r="12.4" fill="#b478fa"/>
<circle cx="175.1" cy="798.4" r="10.2" fill="#b478fa"/>
<circle cx="182.7" cy="798.4" r="10" fill="#b478fa"/>
<circle cx="212.4" cy="779.8" r="12.4" fill="#ffb46e"/>
<circle cx="206.8" cy="776.5" r="10.2" fill="#ffb46e"/>
<circle cx="205" cy="784.2" r="10" fill="#ffb46e"/>
<circle cx="240.6" cy="783.9" r="12.4" fill="#6ee664"/>
<circle cx="239" cy="789.3" r="10.2" fill="#6ee664"/>
<circle cx="246" cy="789.3" r="10" fill="#6ee664"/>
<circle cx="274.5" cy="793.3" r="12.4" fill="#6ec3fa"/>
<circle cx="280.3" cy="792.1" r="10.2" fill="#6ec3fa"/>
<circle cx="276.8" cy="786.2" r="10" fill="#6ec3fa"/>
<circle cx="460.7" cy="752.7" r="12.4" fill="#ff6e6e"/>
<circle cx="457" cy="747.9" r="10.2" fill="#ff6e6e"/>
<circle cx="452.6" cy="753.9" r="10" fill="#ff6e6e"/>
<circle cx="497.8" cy="750" r="12.4" fill="#ff6e6e"/>
<circle cx="491.7" cy="751.8" r="10.2" fill="#ff6e6e"/>
<circle cx="495.7" cy="757" r="10" fill="#ff6e6e"/>
<circle cx="531.1" cy="752.7" r="12.4" fill="#6ec3fa"/>
<circle cx="525" cy="753.5" r="10.2" fill="#6ec3fa"/>
<circle cx="528.5" cy="759.7" r="10" fill="#6ec3fa"/>
<circle cx="549.5" cy="757.9" r="12.4" fill="#6ec3fa"/>
<circle cx="554.8" cy="757" r="10.2" fill="#6ec3fa"/>
<circle cx="550.4" cy="750.9" r="10" fill="#6ec3fa"/>
<circle cx="583.5" cy="755.4" r="12.4" fill="#ff6e6e"/>
<circle cx="588.4" cy="752.1" r="10.2" fill="#ff6e6e"/>
<circle cx="582.5" cy="747.5" r="10" fill="#ff6e6e"/>
<circle cx="617" cy="752.4" r="12.4" fill="#6ec3fa"/>
<circle cx="617.4" cy="758.4" r="10.2" fill="#6ec3fa"/>
<circle cx="624.5" cy="754.4" r="10" fill="#6ec3fa"/>
<circle cx="652.5" cy="752.4" r="12.4" fill="#ff6e6e"/>
<circle cx="654.5" cy="758.4" r="10.2" fill="#ff6e6e"/>
<circle cx="661" cy="753.4" r="10" fill="#ff6e6e"/>
<circle cx="456.6" cy="791.2" r="12.4" fill="#b478fa"/>
<circle cx="454.4" cy="797" r="10.2" fill="#b478fa"/>
<circle cx="461" cy="797.3" r="10" fill="#b478fa"/>
<circle cx="490.8" cy="785.1" r="12.4" fill="#6ee664"/>
<circle cx="484.7" cy="786" r="10.2" fill="#6ee664"/>
<circle cx="488.2" cy="792.1" r="10" fill="#6ee664"/>
<circle cx="526.7" cy="790.3" r="12.4" fill="#b478fa"/>
<circle cx="523.7" cy="794.7" r="10.2" fill="#b478fa"/>
<circle cx="531.1" cy="795.6" r="10" fill="#b478fa"/>
<circle cx="556.5" cy="790.3" r="12.4" fill="#ffb46e"/>
<circle cx="553.9" cy="788.6" r="10.2" fill="#ffb46e"/>
<circle cx="553" cy="795.6" r="10" fill="#ffb46e"/>
<circle cx="583.5" cy="787.9" r="12.4" fill="#ffb46e"/>
<circle cx="587.8" cy="791.9" r="10.2" fill="#ffb46e"/>
<circle cx="590.4" cy="784" r="10" fill="#ffb46e"/>
<circle cx="621.9" cy="786.9" r="12.4" fill="#6ee664"/>
<circle cx="619" cy="791.9" r="10.2" fill="#6ee664"/>
<circle cx="626.9" cy="792.5" r="10" fill="#6ee664"/>
<circle cx="655.4" cy="785.6" r="12.4" fill="#6ee664"/>
<circle cx="659.4" cy="790.9" r="10.2" fill="#6ee664"/>
<circle cx="663.3" cy="784.4" r="10" fill="#6ee664"/>
<circle cx="168.2" cy="841.8" r="12.4" fill="#ff6e6e"/>
<circle cx="165.4" cy="848.2" r="10.2" fill="#ff6e6e"/>
<circle cx="172.7" cy="848.8" r="10" fill="#ff6e6e"/>
<circle cx="242.2" cy="841.8" r="12.4" fill="#6ec3fa"/>
<circle cx="239.4" cy="848.2" r="10.2" fill="#6ec3fa"/>
<circle cx="246.7" cy="848.8" r="10" fill="#6ec3fa"/>
<circle cx="318.3" cy="841.8" r="12.4" fill="#6ee664"/>
<circle cx="315.5" cy="848.2" r="10.2" fill="#6ee664"/>
<circle cx="322.8" cy="848.8" r="10" fill="#6ee664"/>
<circle cx="395.3" cy="841.8" r="12.4" fill="#ffb46e"/>
<circle cx="392.5" cy="848.2" r="10.2" fill="#ffb46e"/>
<circle cx="399.8" cy="848.8" r="10" fill="#ffb46e"/>
<circle cx="468.8" cy="841.8" r="12.4" fill="#b478fa"/>
<circle cx="466" cy="848.2" r="10.2" fill="#b478fa"/>
<circle cx="473.3" cy="848.8" r="10" fill="#b478fa"/>
</g>
<line x1="46.1" y1="756" x2="59.9" y2="756" stroke="#173f20" stroke-width="3.5" stroke-dasharray="5.8 2.2"/>
<line x1="70.7" y1="728.5" x2="69.5" y2="741.3" stroke="#173f20" stroke-width="3.5" stroke-dasharray="5.8 2.2"/>
<line x1="81.9" y1="752.9" x2="95.7" y2="752.9" stroke="#173f20" stroke-width="3.5" stroke-dasharray="5.8 2.2"/>
<line x1="72.4" y1="763.6" x2="77.7" y2="776.9" stroke="#173f20" stroke-width="3.5" stroke-dasharray="5.8 2.2"/>
<line x1="97.1" y1="727.8" x2="100.1" y2="740.1" stroke="#173f20" stroke-width="3.5" stroke-dasharray="5.8 2.2"/>
<line x1="119.6" y1="731.9" x2="114.4" y2="743.1" stroke="#173f20" stroke-width="3.5" stroke-dasharray="5.8 2.2"/>
<line x1="109.7" y1="762.6" x2="112.4" y2="775.8" stroke="#173f20" stroke-width="3.5" stroke-dasharray="5.8 2.2"/>
<line x1="90" y1="787.7" x2="105.3" y2="787.7" stroke="#173f20" stroke-width="3.5" stroke-dasharray="5.8 2.2"/>
<line x1="124.7" y1="736" x2="130.8" y2="747.2" stroke="#173f20" stroke-width="3.5" stroke-dasharray="5.8 2.2"/>
<line x1="130.8" y1="766.6" x2="123.6" y2="777.9" stroke="#173f20" stroke-width="3.5" stroke-dasharray="5.8 2.2"/>
<line x1="125.7" y1="789.1" x2="139" y2="791.2" stroke="#173f20" stroke-width="3.5" stroke-dasharray="5.8 2.2"/>
<line x1="142.3" y1="766.8" x2="146.7" y2="777.8" stroke="#173f20" stroke-width="3.5" stroke-dasharray="5.8 2.2"/>
<line x1="163.5" y1="735.4" x2="165" y2="747.1" stroke="#173f20" stroke-width="3.5" stroke-dasharray="5.8 2.2"/>
<line x1="181" y1="756" x2="193.4" y2="751.2" stroke="#173f20" stroke-width="3.5" stroke-dasharray="5.8 2.2"/>
<line x1="171.1" y1="769.7" x2="175.2" y2="782.4" stroke="#173f20" stroke-width="3.5" stroke-dasharray="5.8 2.2"/>
<line x1="207.9" y1="734.9" x2="213.7" y2="725.5" stroke="#173f20" stroke-width="3.5" stroke-dasharray="5.8 2.2"/>
<line x1="203.2" y1="758.2" x2="205.5" y2="769.9" stroke="#173f20" stroke-width="3.5" stroke-dasharray="5.8 2.2"/>
<line x1="240.6" y1="729" x2="245.3" y2="740.7" stroke="#173f20" stroke-width="3.5" stroke-dasharray="5.8 2.2"/>
<line x1="255.8" y1="743" x2="266.3" y2="733.7" stroke="#173f20" stroke-width="3.5" stroke-dasharray="5.8 2.2"/>
<line x1="249.9" y1="764.1" x2="245.3" y2="775.7" stroke="#173f20" stroke-width="3.5" stroke-dasharray="5.8 2.2"/>
<line x1="253.4" y1="789.3" x2="266.3" y2="793.3" stroke="#173f20" stroke-width="3.5" stroke-dasharray="5.8 2.2"/>
<line x1="278" y1="737.2" x2="285" y2="747.7" stroke="#173f20" stroke-width="3.5" stroke-dasharray="5.8 2.2"/>
<line x1="300.2" y1="750" x2="308.3" y2="740.7" stroke="#173f20" stroke-width="3.5" stroke-dasharray="5.8 2.2"/>
<line x1="287.3" y1="768.7" x2="280.3" y2="781.6" stroke="#173f20" stroke-width="3.5" stroke-dasharray="5.8 2.2"/>
<line x1="287.3" y1="793.7" x2="300.2" y2="793.7" stroke="#173f20" stroke-width="3.5" stroke-dasharray="5.8 2.2"/>
<line x1="434" y1="753.9" x2="448.2" y2="755" stroke="#173f20" stroke-width="3.5" stroke-dasharray="5.8 2.2"/>
<line x1="456.1" y1="726.9" x2="456.1" y2="739.5" stroke="#173f20" stroke-width="3.5" stroke-dasharray="5.8 2.2"/>
<line x1="471.2" y1="752.1" x2="483.8" y2="752.1" stroke="#173f20" stroke-width="3.5" stroke-dasharray="5.8 2.2"/>
<line x1="464.5" y1="760.9" x2="470.1" y2="768.4" stroke="#173f20" stroke-width="3.5" stroke-dasharray="5.8 2.2"/>
<line x1="501.3" y1="741.3" x2="506.6" y2="729.4" stroke="#173f20" stroke-width="3.5" stroke-dasharray="5.8 2.2"/>
<line x1="505.7" y1="750.9" x2="518" y2="753.9" stroke="#173f20" stroke-width="3.5" stroke-dasharray="5.8 2.2"/>
<line x1="496.1" y1="764.1" x2="493.4" y2="776.3" stroke="#173f20" stroke-width="3.5" stroke-dasharray="5.8 2.2"/>
<line x1="465.4" y1="786.8" x2="479.4" y2="786" stroke="#173f20" stroke-width="3.5" stroke-dasharray="5.8 2.2"/>
<line x1="534.6" y1="743.9" x2="539" y2="731.6" stroke="#173f20" stroke-width="3.5" stroke-dasharray="5.8 2.2"/>
<line x1="527.6" y1="766.7" x2="525.8" y2="779" stroke="#173f20" stroke-width="3.5" stroke-dasharray="5.8 2.2"/>
<line x1="543.4" y1="764.9" x2="536.4" y2="771.9" stroke="#173f20" stroke-width="3.5" stroke-dasharray="5.8 2.2"/>
<line x1="550" y1="768.4" x2="552.1" y2="781.6" stroke="#173f20" stroke-width="3.5" stroke-dasharray="5.8 2.2"/>
<line x1="560.8" y1="756" x2="574.6" y2="755.4" stroke="#173f20" stroke-width="3.5" stroke-dasharray="5.8 2.2"/>
<line x1="579.2" y1="728.8" x2="581.5" y2="741.6" stroke="#173f20" stroke-width="3.5" stroke-dasharray="5.8 2.2"/>
<line x1="594.3" y1="751.5" x2="608.1" y2="751.5" stroke="#173f20" stroke-width="3.5" stroke-dasharray="5.8 2.2"/>
<line x1="587" y1="765.3" x2="589" y2="778.1" stroke="#173f20" stroke-width="3.5" stroke-dasharray="5.8 2.2"/>
<line x1="629.8" y1="753.4" x2="642.6" y2="752.8" stroke="#173f20" stroke-width="3.5" stroke-dasharray="5.8 2.2"/>
<line x1="618" y1="764.3" x2="620" y2="777.7" stroke="#173f20" stroke-width="3.5" stroke-dasharray="5.8 2.2"/>
<line x1="648.5" y1="730.8" x2="650.5" y2="743.6" stroke="#173f20" stroke-width="3.5" stroke-dasharray="5.8 2.2"/>
<line x1="665.3" y1="749.5" x2="676.1" y2="740.6" stroke="#173f20" stroke-width="3.5" stroke-dasharray="5.8 2.2"/>
<line x1="654.5" y1="764.3" x2="654.5" y2="777.7" stroke="#173f20" stroke-width="3.5" stroke-dasharray="5.8 2.2"/>
<line x1="632.8" y1="789.9" x2="647.6" y2="787.5" stroke="#173f20" stroke-width="3.5" stroke-dasharray="5.8 2.2"/>
<line x1="58.2" y1="764.4" x2="58.2" y2="782.2" stroke="#000" stroke-width="2" />
<path d="M58.2 759.4 L61.9 766.2 L54.5 766.2 Z" fill="#000"/>
<path d="M58.2 787.2 L54.5 780.4 L61.9 780.4 Z" fill="#000"/>
<line x1="448.9" y1="762.6" x2="448.9" y2="779.8" stroke="#000" stroke-width="2" />
<path d="M448.9 757.6 L452.6 764.4 L445.2 764.4 Z" fill="#000"/>
<path d="M448.9 784.8 L445.2 778 L452.6 778 Z" fill="#000"/>
<circle cx="68.6" cy="748.1" r="4.2" fill="#fff" stroke="#000" stroke-width="1.15"/>
<circle cx="69.6" cy="756.3" r="6.6" fill="#ff0000" stroke="#000" stroke-width="1.15"/>
<circle cx="74.7" cy="752.9" r="4.4" fill="#fff" stroke="#000" stroke-width="1.15"/>
<circle cx="102.2" cy="745.8" r="4.2" fill="#fff" stroke="#000" stroke-width="1.15"/>
<circle cx="105.7" cy="753.9" r="6.6" fill="#ff0000" stroke="#000" stroke-width="1.15"/>
<circle cx="109.5" cy="748.4" r="4.4" fill="#fff" stroke="#000" stroke-width="1.15"/>
<circle cx="132" cy="760.3" r="4.2" fill="#fff" stroke="#000" stroke-width="1.15"/>
<circle cx="139.6" cy="756.6" r="6.6" fill="#ff0000" stroke="#000" stroke-width="1.15"/>
<circle cx="134.8" cy="753" r="4.4" fill="#fff" stroke="#000" stroke-width="1.15"/>
<circle cx="176.1" cy="758" r="4.2" fill="#fff" stroke="#000" stroke-width="1.15"/>
<circle cx="166.9" cy="758" r="6.6" fill="#ff0000" stroke="#000" stroke-width="1.15"/>
<circle cx="170" cy="763.1" r="4.4" fill="#fff" stroke="#000" stroke-width="1.15"/>
<circle cx="203.2" cy="740.7" r="4.2" fill="#fff" stroke="#000" stroke-width="1.15"/>
<circle cx="202.7" cy="748.9" r="6.6" fill="#ff0000" stroke="#000" stroke-width="1.15"/>
<circle cx="207.9" cy="747.7" r="4.4" fill="#fff" stroke="#000" stroke-width="1.15"/>
<circle cx="251.6" cy="757" r="4.2" fill="#fff" stroke="#000" stroke-width="1.15"/>
<circle cx="250.4" cy="750" r="6.6" fill="#ff0000" stroke="#000" stroke-width="1.15"/>
<circle cx="246" cy="753.5" r="4.4" fill="#fff" stroke="#000" stroke-width="1.15"/>
<circle cx="288" cy="752.8" r="4.2" fill="#fff" stroke="#000" stroke-width="1.15"/>
<circle cx="291.5" cy="760.5" r="6.6" fill="#ff0000" stroke="#000" stroke-width="1.15"/>
<circle cx="295" cy="755.9" r="4.4" fill="#fff" stroke="#000" stroke-width="1.15"/>
<circle cx="74.6" cy="788.1" r="4.2" fill="#fff" stroke="#000" stroke-width="1.15"/>
<circle cx="81.7" cy="787.1" r="6.6" fill="#ff0000" stroke="#000" stroke-width="1.15"/>
<circle cx="78.7" cy="782.4" r="4.4" fill="#fff" stroke="#000" stroke-width="1.15"/>
<circle cx="109.3" cy="787.7" r="4.2" fill="#fff" stroke="#000" stroke-width="1.15"/>
<circle cx="117.5" cy="787.1" r="6.6" fill="#ff0000" stroke="#000" stroke-width="1.15"/>
<circle cx="114.4" cy="782" r="4.4" fill="#fff" stroke="#000" stroke-width="1.15"/>
<circle cx="142.4" cy="791.7" r="4.2" fill="#fff" stroke="#000" stroke-width="1.15"/>
<circle cx="151.1" cy="791.7" r="6.6" fill="#ff0000" stroke="#000" stroke-width="1.15"/>
<circle cx="148.3" cy="785.6" r="4.4" fill="#fff" stroke="#000" stroke-width="1.15"/>
<circle cx="182.7" cy="798.4" r="4.2" fill="#fff" stroke="#000" stroke-width="1.15"/>
<circle cx="177.1" cy="793.8" r="6.6" fill="#ff0000" stroke="#000" stroke-width="1.15"/>
<circle cx="175.1" cy="798.4" r="4.4" fill="#fff" stroke="#000" stroke-width="1.15"/>
<circle cx="205" cy="784.2" r="4.2" fill="#fff" stroke="#000" stroke-width="1.15"/>
<circle cx="212.4" cy="779.8" r="6.6" fill="#ff0000" stroke="#000" stroke-width="1.15"/>
<circle cx="206.8" cy="776.5" r="4.4" fill="#fff" stroke="#000" stroke-width="1.15"/>
<circle cx="246" cy="789.3" r="4.2" fill="#fff" stroke="#000" stroke-width="1.15"/>
<circle cx="240.6" cy="783.9" r="6.6" fill="#ff0000" stroke="#000" stroke-width="1.15"/>
<circle cx="239" cy="789.3" r="4.4" fill="#fff" stroke="#000" stroke-width="1.15"/>
<circle cx="276.8" cy="786.2" r="4.2" fill="#fff" stroke="#000" stroke-width="1.15"/>
<circle cx="274.5" cy="793.3" r="6.6" fill="#ff0000" stroke="#000" stroke-width="1.15"/>
<circle cx="280.3" cy="792.1" r="4.4" fill="#fff" stroke="#000" stroke-width="1.15"/>
<circle cx="452.6" cy="753.9" r="4.2" fill="#fff" stroke="#000" stroke-width="1.15"/>
<circle cx="460.7" cy="752.7" r="6.6" fill="#ff0000" stroke="#000" stroke-width="1.15"/>
<circle cx="457" cy="747.9" r="4.4" fill="#fff" stroke="#000" stroke-width="1.15"/>
<circle cx="495.7" cy="757" r="4.2" fill="#fff" stroke="#000" stroke-width="1.15"/>
<circle cx="497.8" cy="750" r="6.6" fill="#ff0000" stroke="#000" stroke-width="1.15"/>
<circle cx="491.7" cy="751.8" r="4.4" fill="#fff" stroke="#000" stroke-width="1.15"/>
<circle cx="528.5" cy="759.7" r="4.2" fill="#fff" stroke="#000" stroke-width="1.15"/>
<circle cx="531.1" cy="752.7" r="6.6" fill="#ff0000" stroke="#000" stroke-width="1.15"/>
<circle cx="525" cy="753.5" r="4.4" fill="#fff" stroke="#000" stroke-width="1.15"/>
<circle cx="550.4" cy="750.9" r="4.2" fill="#fff" stroke="#000" stroke-width="1.15"/>
<circle cx="549.5" cy="757.9" r="6.6" fill="#ff0000" stroke="#000" stroke-width="1.15"/>
<circle cx="554.8" cy="757" r="4.4" fill="#fff" stroke="#000" stroke-width="1.15"/>
<circle cx="582.5" cy="747.5" r="4.2" fill="#fff" stroke="#000" stroke-width="1.15"/>
<circle cx="583.5" cy="755.4" r="6.6" fill="#ff0000" stroke="#000" stroke-width="1.15"/>
<circle cx="588.4" cy="752.1" r="4.4" fill="#fff" stroke="#000" stroke-width="1.15"/>
<circle cx="624.5" cy="754.4" r="4.2" fill="#fff" stroke="#000" stroke-width="1.15"/>
<circle cx="617" cy="752.4" r="6.6" fill="#ff0000" stroke="#000" stroke-width="1.15"/>
<circle cx="617.4" cy="758.4" r="4.4" fill="#fff" stroke="#000" stroke-width="1.15"/>
<circle cx="661" cy="753.4" r="4.2" fill="#fff" stroke="#000" stroke-width="1.15"/>
<circle cx="652.5" cy="752.4" r="6.6" fill="#ff0000" stroke="#000" stroke-width="1.15"/>
<circle cx="654.5" cy="758.4" r="4.4" fill="#fff" stroke="#000" stroke-width="1.15"/>
<circle cx="461" cy="797.3" r="4.2" fill="#fff" stroke="#000" stroke-width="1.15"/>
<circle cx="456.6" cy="791.2" r="6.6" fill="#ff0000" stroke="#000" stroke-width="1.15"/>
<circle cx="454.4" cy="797" r="4.4" fill="#fff" stroke="#000" stroke-width="1.15"/>
<circle cx="488.2" cy="792.1" r="4.2" fill="#fff" stroke="#000" stroke-width="1.15"/>
<circle cx="490.8" cy="785.1" r="6.6" fill="#ff0000" stroke="#000" stroke-width="1.15"/>
<circle cx="484.7" cy="786" r="4.4" fill="#fff" stroke="#000" stroke-width="1.15"/>
<circle cx="531.1" cy="795.6" r="4.2" fill="#fff" stroke="#000" stroke-width="1.15"/>
<circle cx="526.7" cy="790.3" r="6.6" fill="#ff0000" stroke="#000" stroke-width="1.15"/>
<circle cx="523.7" cy="794.7" r="4.4" fill="#fff" stroke="#000" stroke-width="1.15"/>
<circle cx="553" cy="795.6" r="4.2" fill="#fff" stroke="#000" stroke-width="1.15"/>
<circle cx="556.5" cy="790.3" r="6.6" fill="#ff0000" stroke="#000" stroke-width="1.15"/>
<circle cx="553.9" cy="788.6" r="4.4" fill="#fff" stroke="#000" stroke-width="1.15"/>
<circle cx="590.4" cy="784" r="4.2" fill="#fff" stroke="#000" stroke-width="1.15"/>
<circle cx="583.5" cy="787.9" r="6.6" fill="#ff0000" stroke="#000" stroke-width="1.15"/>
<circle cx="587.8" cy="791.9" r="4.4" fill="#fff" stroke="#000" stroke-width="1.15"/>
<circle cx="626.9" cy="792.5" r="4.2" fill="#fff" stroke="#000" stroke-width="1.15"/>
<circle cx="621.9" cy="786.9" r="6.6" fill="#ff0000" stroke="#000" stroke-width="1.15"/>
<circle cx="619" cy="791.9" r="4.4" fill="#fff" stroke="#000" stroke-width="1.15"/>
<circle cx="663.3" cy="784.4" r="4.2" fill="#fff" stroke="#000" stroke-width="1.15"/>
<circle cx="655.4" cy="785.6" r="6.6" fill="#ff0000" stroke="#000" stroke-width="1.15"/>
<circle cx="659.4" cy="790.9" r="4.4" fill="#fff" stroke="#000" stroke-width="1.15"/>
<circle cx="172.7" cy="848.8" r="4.2" fill="#fff" stroke="#000" stroke-width="1.15"/>
<circle cx="168.2" cy="841.8" r="6.6" fill="#ff0000" stroke="#000" stroke-width="1.15"/>
<circle cx="165.4" cy="848.2" r="4.4" fill="#fff" stroke="#000" stroke-width="1.15"/>
<circle cx="246.7" cy="848.8" r="4.2" fill="#fff" stroke="#000" stroke-width="1.15"/>
<circle cx="242.2" cy="841.8" r="6.6" fill="#ff0000" stroke="#000" stroke-width="1.15"/>
<circle cx="239.4" cy="848.2" r="4.4" fill="#fff" stroke="#000" stroke-width="1.15"/>
<circle cx="322.8" cy="848.8" r="4.2" fill="#fff" stroke="#000" stroke-width="1.15"/>
<circle cx="318.3" cy="841.8" r="6.6" fill="#ff0000" stroke="#000" stroke-width="1.15"/>
<circle cx="315.5" cy="848.2" r="4.4" fill="#fff" stroke="#000" stroke-width="1.15"/>
<circle cx="399.8" cy="848.8" r="4.2" fill="#fff" stroke="#000" stroke-width="1.15"/>
<circle cx="395.3" cy="841.8" r="6.6" fill="#ff0000" stroke="#000" stroke-width="1.15"/>
<circle cx="392.5" cy="848.2" r="4.4" fill="#fff" stroke="#000" stroke-width="1.15"/>
<circle cx="473.3" cy="848.8" r="4.2" fill="#fff" stroke="#000" stroke-width="1.15"/>
<circle cx="468.8" cy="841.8" r="6.6" fill="#ff0000" stroke="#000" stroke-width="1.15"/>
<circle cx="466" cy="848.2" r="4.4" fill="#fff" stroke="#000" stroke-width="1.15"/>
</svg></body></html>
